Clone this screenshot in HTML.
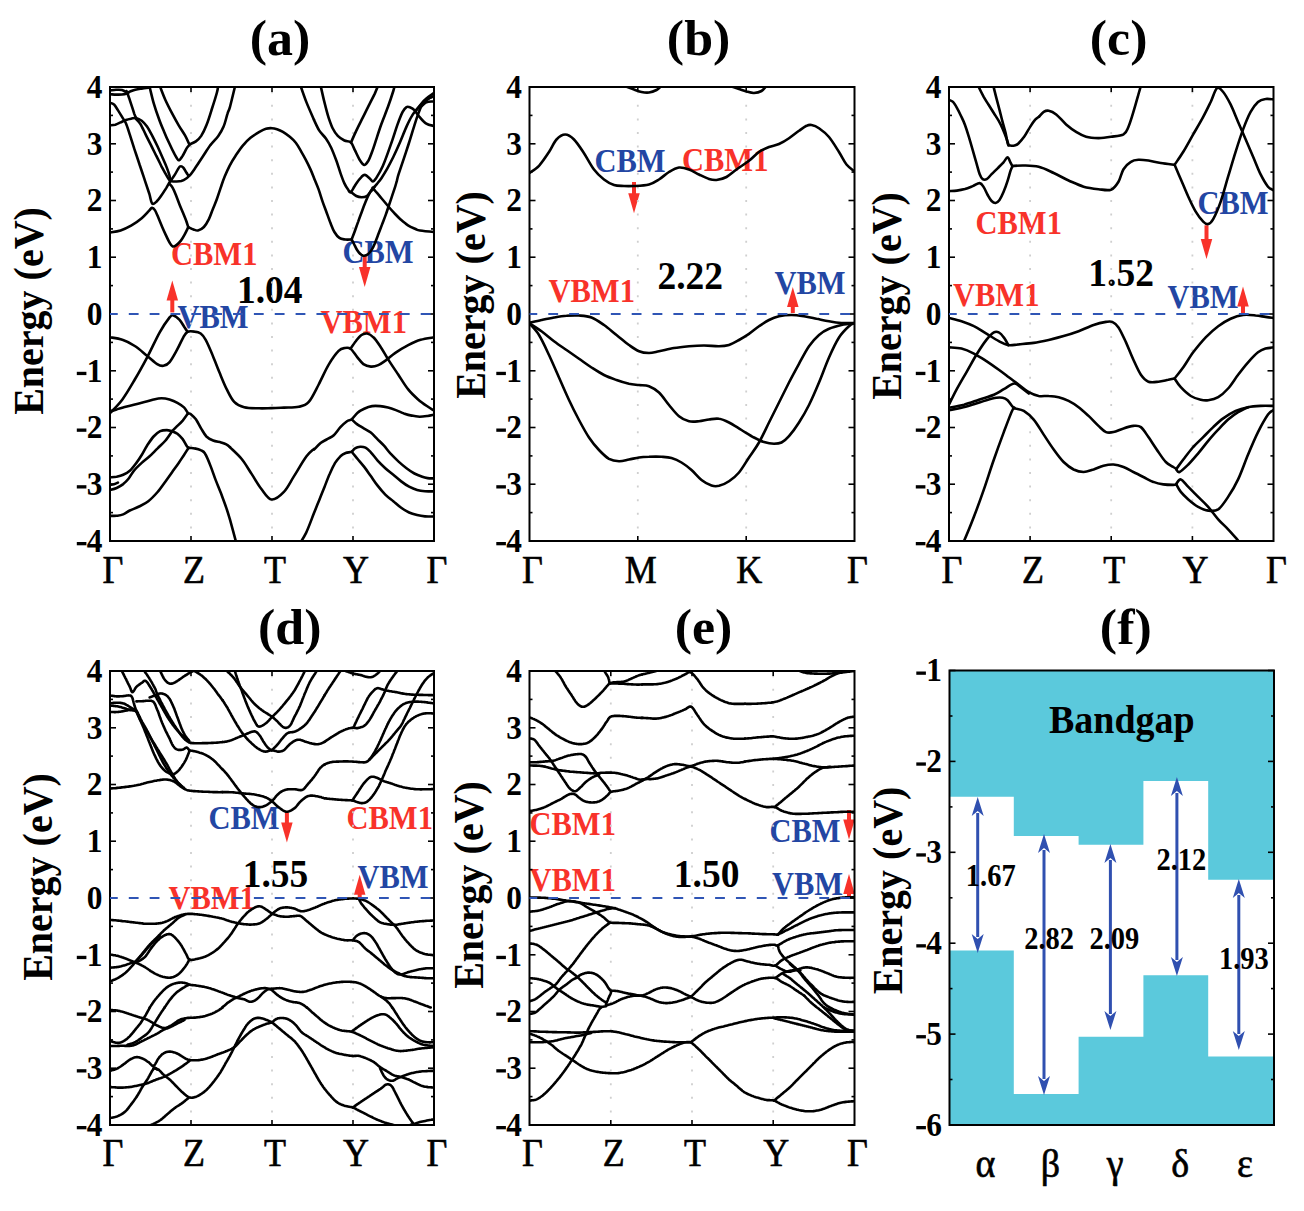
<!DOCTYPE html><html><head><meta charset="utf-8"><style>html,body{margin:0;padding:0;background:#fff;}svg{display:block;}</style></head><body><svg width="1304" height="1211" viewBox="0 0 1304 1211">
<rect width="1304" height="1211" fill="#fff"/>
<path d="M949,670.5 L1273,670.5 L1273,879.7 L1208.2,879.7 L1208.2,781 L1143.4,781 L1143.4,844.8 L1078.6,844.8 L1078.6,836 L1013.8,836 L1013.8,796.8 L949,796.8 Z" fill="#5bc9dc"/>
<path d="M949,1125 L1273,1125 L1273,1056.6 L1208.2,1056.6 L1208.2,975.3 L1143.4,975.3 L1143.4,1036.8 L1078.6,1036.8 L1078.6,1093.9 L1013.8,1093.9 L1013.8,950.6 L949,950.6 Z" fill="#5bc9dc"/>
<text x="171.00" y="245.37" transform="scale(1.0,1.08)" font-family='"Liberation Serif", serif' font-size="30.5" font-weight="bold" fill="#f8322a" text-anchor="start" >CBM1</text>
<text x="177.50" y="303.43" transform="scale(1.0,1.08)" font-family='"Liberation Serif", serif' font-size="30.5" font-weight="bold" fill="#2346a3" text-anchor="start" >VBM</text>
<text x="342.50" y="243.89" transform="scale(1.0,1.08)" font-family='"Liberation Serif", serif' font-size="30.5" font-weight="bold" fill="#2346a3" text-anchor="start" >CBM</text>
<text x="320.50" y="308.80" transform="scale(1.0,1.08)" font-family='"Liberation Serif", serif' font-size="30.5" font-weight="bold" fill="#f8322a" text-anchor="start" >VBM1</text>
<text x="594.50" y="159.26" transform="scale(1.0,1.08)" font-family='"Liberation Serif", serif' font-size="30.5" font-weight="bold" fill="#2346a3" text-anchor="start" >CBM</text>
<text x="682.00" y="158.15" transform="scale(1.0,1.08)" font-family='"Liberation Serif", serif' font-size="30.5" font-weight="bold" fill="#f8322a" text-anchor="start" >CBM1</text>
<text x="548.50" y="279.63" transform="scale(1.0,1.08)" font-family='"Liberation Serif", serif' font-size="30.5" font-weight="bold" fill="#f8322a" text-anchor="start" >VBM1</text>
<text x="774.50" y="272.69" transform="scale(1.0,1.08)" font-family='"Liberation Serif", serif' font-size="30.5" font-weight="bold" fill="#2346a3" text-anchor="start" >VBM</text>
<text x="975.50" y="216.67" transform="scale(1.0,1.08)" font-family='"Liberation Serif", serif' font-size="30.5" font-weight="bold" fill="#f8322a" text-anchor="start" >CBM1</text>
<text x="1197.50" y="198.24" transform="scale(1.0,1.08)" font-family='"Liberation Serif", serif' font-size="30.5" font-weight="bold" fill="#2346a3" text-anchor="start" >CBM</text>
<text x="953.00" y="283.61" transform="scale(1.0,1.08)" font-family='"Liberation Serif", serif' font-size="30.5" font-weight="bold" fill="#f8322a" text-anchor="start" >VBM1</text>
<text x="1167.50" y="284.81" transform="scale(1.0,1.08)" font-family='"Liberation Serif", serif' font-size="30.5" font-weight="bold" fill="#2346a3" text-anchor="start" >VBM</text>
<text x="208.50" y="767.41" transform="scale(1.0,1.08)" font-family='"Liberation Serif", serif' font-size="30.5" font-weight="bold" fill="#2346a3" text-anchor="start" >CBM</text>
<text x="346.50" y="767.41" transform="scale(1.0,1.08)" font-family='"Liberation Serif", serif' font-size="30.5" font-weight="bold" fill="#f8322a" text-anchor="start" >CBM1</text>
<text x="357.50" y="822.59" transform="scale(1.0,1.08)" font-family='"Liberation Serif", serif' font-size="30.5" font-weight="bold" fill="#2346a3" text-anchor="start" >VBM</text>
<text x="168.50" y="842.13" transform="scale(1.0,1.08)" font-family='"Liberation Serif", serif' font-size="30.5" font-weight="bold" fill="#f8322a" text-anchor="start" >VBM1</text>
<text x="529.50" y="772.96" transform="scale(1.0,1.08)" font-family='"Liberation Serif", serif' font-size="30.5" font-weight="bold" fill="#f8322a" text-anchor="start" >CBM1</text>
<text x="529.50" y="825.00" transform="scale(1.0,1.08)" font-family='"Liberation Serif", serif' font-size="30.5" font-weight="bold" fill="#f8322a" text-anchor="start" >VBM1</text>
<text x="769.50" y="779.91" transform="scale(1.0,1.08)" font-family='"Liberation Serif", serif' font-size="30.5" font-weight="bold" fill="#2346a3" text-anchor="start" >CBM</text>
<text x="772.00" y="828.52" transform="scale(1.0,1.08)" font-family='"Liberation Serif", serif' font-size="30.5" font-weight="bold" fill="#2346a3" text-anchor="start" >VBM</text>
<text x="237.00" y="291.54" transform="scale(1.0,1.04)" font-family='"Liberation Serif", serif' font-size="37.5" font-weight="bold" fill="#000" text-anchor="start" >1.04</text>
<text x="657.50" y="278.37" transform="scale(1.0,1.04)" font-family='"Liberation Serif", serif' font-size="37.5" font-weight="bold" fill="#000" text-anchor="start" >2.22</text>
<text x="1088.30" y="275.38" transform="scale(1.0,1.04)" font-family='"Liberation Serif", serif' font-size="37.5" font-weight="bold" fill="#000" text-anchor="start" >1.52</text>
<text x="242.70" y="852.98" transform="scale(1.0,1.04)" font-family='"Liberation Serif", serif' font-size="37.5" font-weight="bold" fill="#000" text-anchor="start" >1.55</text>
<text x="673.80" y="853.17" transform="scale(1.0,1.04)" font-family='"Liberation Serif", serif' font-size="37.5" font-weight="bold" fill="#000" text-anchor="start" >1.50</text>
<line x1="172.3" y1="312.4" x2="172.3" y2="298.5" stroke="#f8322a" stroke-width="4"/>
<path d="M172.3,280.5 L166.55,300.5 L178.05,300.5 Z" fill="#f8322a"/>
<line x1="364.7" y1="256" x2="364.7" y2="269" stroke="#f8322a" stroke-width="4"/>
<path d="M364.7,287 L358.95,267 L370.45,267 Z" fill="#f8322a"/>
<line x1="634" y1="182" x2="634" y2="195.3" stroke="#f8322a" stroke-width="4"/>
<path d="M634,213.3 L628.25,193.3 L639.75,193.3 Z" fill="#f8322a"/>
<line x1="792.8" y1="313" x2="792.8" y2="305" stroke="#f8322a" stroke-width="4"/>
<path d="M792.8,287 L787.05,307 L798.55,307 Z" fill="#f8322a"/>
<line x1="1206.5" y1="225.3" x2="1206.5" y2="241" stroke="#f8322a" stroke-width="4"/>
<path d="M1206.5,259 L1200.75,239 L1212.25,239 Z" fill="#f8322a"/>
<line x1="1243" y1="313.8" x2="1243" y2="304.4" stroke="#f8322a" stroke-width="4"/>
<path d="M1243,286.4 L1237.25,306.4 L1248.75,306.4 Z" fill="#f8322a"/>
<line x1="286.9" y1="812.6" x2="286.9" y2="824.4" stroke="#f8322a" stroke-width="4"/>
<path d="M286.9,842.4 L281.15,822.4 L292.65,822.4 Z" fill="#f8322a"/>
<line x1="359.7" y1="898" x2="359.7" y2="892.7" stroke="#f8322a" stroke-width="4"/>
<path d="M359.7,874.7 L353.95,894.7 L365.45,894.7 Z" fill="#f8322a"/>
<line x1="849" y1="810" x2="849" y2="821.5" stroke="#f8322a" stroke-width="4"/>
<path d="M849,839.5 L843.25,819.5 L854.75,819.5 Z" fill="#f8322a"/>
<line x1="849" y1="898" x2="849" y2="892" stroke="#f8322a" stroke-width="4"/>
<path d="M849,874 L843.25,894 L854.75,894 Z" fill="#f8322a"/>
<line x1="977.7" y1="813" x2="977.7" y2="937" stroke="#3050b0" stroke-width="3"/>
<path d="M977.7,797 L971.7,816 L977.7,811 L983.7,816 Z" fill="#3050b0"/>
<path d="M977.7,953 L971.7,934 L977.7,939 L983.7,934 Z" fill="#3050b0"/>
<line x1="1044" y1="850" x2="1044" y2="1079" stroke="#3050b0" stroke-width="3"/>
<path d="M1044,834 L1038.0,853 L1044,848 L1050.0,853 Z" fill="#3050b0"/>
<path d="M1044,1095 L1038.0,1076 L1044,1081 L1050.0,1076 Z" fill="#3050b0"/>
<line x1="1110.4" y1="860" x2="1110.4" y2="1014" stroke="#3050b0" stroke-width="3"/>
<path d="M1110.4,844 L1104.4,863 L1110.4,858 L1116.4,863 Z" fill="#3050b0"/>
<path d="M1110.4,1030 L1104.4,1011 L1110.4,1016 L1116.4,1011 Z" fill="#3050b0"/>
<line x1="1176.9" y1="793" x2="1176.9" y2="960" stroke="#3050b0" stroke-width="3"/>
<path d="M1176.9,777 L1170.9,796 L1176.9,791 L1182.9,796 Z" fill="#3050b0"/>
<path d="M1176.9,976 L1170.9,957 L1176.9,962 L1182.9,957 Z" fill="#3050b0"/>
<line x1="1238.8" y1="895" x2="1238.8" y2="1034" stroke="#3050b0" stroke-width="3"/>
<path d="M1238.8,879 L1232.8,898 L1238.8,893 L1244.8,898 Z" fill="#3050b0"/>
<path d="M1238.8,1050 L1232.8,1031 L1238.8,1036 L1244.8,1031 Z" fill="#3050b0"/>
<text x="965.80" y="820.37" transform="scale(1.0,1.08)" font-family='"Liberation Serif", serif' font-size="28.5" font-weight="bold" fill="#000" text-anchor="start" >1.67</text>
<text x="1024.20" y="878.33" transform="scale(1.0,1.08)" font-family='"Liberation Serif", serif' font-size="28.5" font-weight="bold" fill="#000" text-anchor="start" >2.82</text>
<text x="1089.50" y="878.33" transform="scale(1.0,1.08)" font-family='"Liberation Serif", serif' font-size="28.5" font-weight="bold" fill="#000" text-anchor="start" >2.09</text>
<text x="1156.50" y="805.74" transform="scale(1.0,1.08)" font-family='"Liberation Serif", serif' font-size="28.5" font-weight="bold" fill="#000" text-anchor="start" >2.12</text>
<text x="1219.00" y="897.59" transform="scale(1.0,1.08)" font-family='"Liberation Serif", serif' font-size="28.5" font-weight="bold" fill="#000" text-anchor="start" >1.93</text>
<text x="1049.00" y="712.04" transform="scale(1.0,1.03)" font-family='"Liberation Serif", serif' font-size="38" font-weight="bold" fill="#000" text-anchor="start" >Bandgap</text>
<line x1="191.0" y1="87" x2="191.0" y2="541" stroke="#cfcfcf" stroke-width="1.8" stroke-dasharray="2 11.6" stroke-dashoffset="-4.2"/>
<line x1="191.0" y1="87" x2="191.0" y2="92" stroke="#000" stroke-width="1.6"/>
<line x1="191.0" y1="541" x2="191.0" y2="536" stroke="#000" stroke-width="1.6"/>
<line x1="272.0" y1="87" x2="272.0" y2="541" stroke="#cfcfcf" stroke-width="1.8" stroke-dasharray="2 11.6" stroke-dashoffset="-4.2"/>
<line x1="272.0" y1="87" x2="272.0" y2="92" stroke="#000" stroke-width="1.6"/>
<line x1="272.0" y1="541" x2="272.0" y2="536" stroke="#000" stroke-width="1.6"/>
<line x1="353.0" y1="87" x2="353.0" y2="541" stroke="#cfcfcf" stroke-width="1.8" stroke-dasharray="2 11.6" stroke-dashoffset="-4.2"/>
<line x1="353.0" y1="87" x2="353.0" y2="92" stroke="#000" stroke-width="1.6"/>
<line x1="353.0" y1="541" x2="353.0" y2="536" stroke="#000" stroke-width="1.6"/>
<line x1="110" y1="87.0" x2="116" y2="87.0" stroke="#000" stroke-width="1.6"/>
<line x1="434" y1="87.0" x2="428" y2="87.0" stroke="#000" stroke-width="1.6"/>
<text x="91.43" y="81.67" transform="scale(1.12,1.2)" font-family='"Liberation Serif", serif' font-size="28" font-weight="bold" fill="#000" text-anchor="end" >4</text>
<line x1="110" y1="115.4" x2="113" y2="115.4" stroke="#000" stroke-width="1.6"/>
<line x1="434" y1="115.4" x2="431" y2="115.4" stroke="#000" stroke-width="1.6"/>
<line x1="110" y1="143.8" x2="116" y2="143.8" stroke="#000" stroke-width="1.6"/>
<line x1="434" y1="143.8" x2="428" y2="143.8" stroke="#000" stroke-width="1.6"/>
<text x="91.43" y="128.96" transform="scale(1.12,1.2)" font-family='"Liberation Serif", serif' font-size="28" font-weight="bold" fill="#000" text-anchor="end" >3</text>
<line x1="110" y1="172.1" x2="113" y2="172.1" stroke="#000" stroke-width="1.6"/>
<line x1="434" y1="172.1" x2="431" y2="172.1" stroke="#000" stroke-width="1.6"/>
<line x1="110" y1="200.5" x2="116" y2="200.5" stroke="#000" stroke-width="1.6"/>
<line x1="434" y1="200.5" x2="428" y2="200.5" stroke="#000" stroke-width="1.6"/>
<text x="91.43" y="176.25" transform="scale(1.12,1.2)" font-family='"Liberation Serif", serif' font-size="28" font-weight="bold" fill="#000" text-anchor="end" >2</text>
<line x1="110" y1="228.9" x2="113" y2="228.9" stroke="#000" stroke-width="1.6"/>
<line x1="434" y1="228.9" x2="431" y2="228.9" stroke="#000" stroke-width="1.6"/>
<line x1="110" y1="257.2" x2="116" y2="257.2" stroke="#000" stroke-width="1.6"/>
<line x1="434" y1="257.2" x2="428" y2="257.2" stroke="#000" stroke-width="1.6"/>
<text x="91.43" y="223.54" transform="scale(1.12,1.2)" font-family='"Liberation Serif", serif' font-size="28" font-weight="bold" fill="#000" text-anchor="end" >1</text>
<line x1="110" y1="285.6" x2="113" y2="285.6" stroke="#000" stroke-width="1.6"/>
<line x1="434" y1="285.6" x2="431" y2="285.6" stroke="#000" stroke-width="1.6"/>
<line x1="110" y1="314.0" x2="116" y2="314.0" stroke="#000" stroke-width="1.6"/>
<line x1="434" y1="314.0" x2="428" y2="314.0" stroke="#000" stroke-width="1.6"/>
<text x="91.43" y="270.83" transform="scale(1.12,1.2)" font-family='"Liberation Serif", serif' font-size="28" font-weight="bold" fill="#000" text-anchor="end" >0</text>
<line x1="110" y1="342.4" x2="113" y2="342.4" stroke="#000" stroke-width="1.6"/>
<line x1="434" y1="342.4" x2="431" y2="342.4" stroke="#000" stroke-width="1.6"/>
<line x1="110" y1="370.8" x2="116" y2="370.8" stroke="#000" stroke-width="1.6"/>
<line x1="434" y1="370.8" x2="428" y2="370.8" stroke="#000" stroke-width="1.6"/>
<text x="91.43" y="318.12" transform="scale(1.12,1.2)" font-family='"Liberation Serif", serif' font-size="28" font-weight="bold" fill="#000" text-anchor="end" >1</text>
<rect x="76.8" y="371.8" width="9.6" height="3.3" fill="#000"/>
<line x1="110" y1="399.1" x2="113" y2="399.1" stroke="#000" stroke-width="1.6"/>
<line x1="434" y1="399.1" x2="431" y2="399.1" stroke="#000" stroke-width="1.6"/>
<line x1="110" y1="427.5" x2="116" y2="427.5" stroke="#000" stroke-width="1.6"/>
<line x1="434" y1="427.5" x2="428" y2="427.5" stroke="#000" stroke-width="1.6"/>
<text x="91.43" y="365.42" transform="scale(1.12,1.2)" font-family='"Liberation Serif", serif' font-size="28" font-weight="bold" fill="#000" text-anchor="end" >2</text>
<rect x="76.8" y="428.5" width="9.6" height="3.3" fill="#000"/>
<line x1="110" y1="455.9" x2="113" y2="455.9" stroke="#000" stroke-width="1.6"/>
<line x1="434" y1="455.9" x2="431" y2="455.9" stroke="#000" stroke-width="1.6"/>
<line x1="110" y1="484.2" x2="116" y2="484.2" stroke="#000" stroke-width="1.6"/>
<line x1="434" y1="484.2" x2="428" y2="484.2" stroke="#000" stroke-width="1.6"/>
<text x="91.43" y="412.71" transform="scale(1.12,1.2)" font-family='"Liberation Serif", serif' font-size="28" font-weight="bold" fill="#000" text-anchor="end" >3</text>
<rect x="76.8" y="485.2" width="9.6" height="3.3" fill="#000"/>
<line x1="110" y1="512.6" x2="113" y2="512.6" stroke="#000" stroke-width="1.6"/>
<line x1="434" y1="512.6" x2="431" y2="512.6" stroke="#000" stroke-width="1.6"/>
<line x1="110" y1="541.0" x2="116" y2="541.0" stroke="#000" stroke-width="1.6"/>
<line x1="434" y1="541.0" x2="428" y2="541.0" stroke="#000" stroke-width="1.6"/>
<text x="91.43" y="460.00" transform="scale(1.12,1.2)" font-family='"Liberation Serif", serif' font-size="28" font-weight="bold" fill="#000" text-anchor="end" >4</text>
<rect x="76.8" y="542.0" width="9.6" height="3.3" fill="#000"/>
<rect x="110" y="87" width="324" height="454" fill="none" stroke="#000" stroke-width="2"/>
<text x="113.00" y="529.55" transform="scale(1.0,1.1)" font-family='"Liberation Serif", serif' font-size="36" font-weight="normal" fill="#000" text-anchor="middle" stroke="#000" stroke-width="0.6">Γ</text>
<text x="194.00" y="529.55" transform="scale(1.0,1.1)" font-family='"Liberation Serif", serif' font-size="36" font-weight="normal" fill="#000" text-anchor="middle" stroke="#000" stroke-width="0.6">Z</text>
<text x="275.00" y="529.55" transform="scale(1.0,1.1)" font-family='"Liberation Serif", serif' font-size="36" font-weight="normal" fill="#000" text-anchor="middle" stroke="#000" stroke-width="0.6">T</text>
<text x="356.00" y="529.55" transform="scale(1.0,1.1)" font-family='"Liberation Serif", serif' font-size="36" font-weight="normal" fill="#000" text-anchor="middle" stroke="#000" stroke-width="0.6">Y</text>
<text x="437.00" y="529.55" transform="scale(1.0,1.1)" font-family='"Liberation Serif", serif' font-size="36" font-weight="normal" fill="#000" text-anchor="middle" stroke="#000" stroke-width="0.6">Γ</text>
<clipPath id="clipa"><rect x="110" y="87" width="324" height="454"/></clipPath>
<g clip-path="url(#clipa)" fill="none" stroke="#000" stroke-width="2.6" stroke-linejoin="round" stroke-linecap="round">
<path d="M110.0,232.4 C111.8,232.1 117.1,231.5 120.6,230.4 C124.1,229.3 127.6,227.7 131.1,225.7 C134.6,223.7 138.7,220.7 141.7,218.2 C144.7,215.7 147.2,212.6 148.9,210.9 C150.6,209.2 150.9,208.0 151.9,207.9 C152.9,207.8 153.8,208.4 154.9,210.1 C156.0,211.8 157.4,215.5 158.6,218.3 C159.8,221.2 161.1,224.3 162.3,227.2 C163.5,230.0 164.8,232.8 166.0,235.4 C167.2,238.0 168.6,241.0 169.7,242.8 C170.8,244.7 171.6,246.1 172.7,246.5 C173.8,246.9 175.0,246.1 176.4,245.1 C177.8,244.1 179.5,242.3 180.9,240.6 C182.3,238.9 183.4,236.9 184.6,234.7 C185.8,232.5 187.7,228.4 188.3,227.2"/>
<path d="M188.3,227.2 C189.2,227.6 191.9,229.0 193.5,229.5 C195.1,230.0 196.3,230.8 198.0,230.4 C199.7,230.0 202.1,228.9 203.9,227.0 C205.7,225.1 207.4,222.1 208.9,219.1 C210.4,216.1 211.5,212.5 212.8,209.2 C214.1,205.9 215.5,202.9 216.8,199.3 C218.1,195.7 219.5,191.2 220.8,187.4 C222.1,183.6 223.2,180.1 224.7,176.5 C226.2,172.9 227.9,169.1 229.7,165.6 C231.5,162.1 233.4,159.0 235.6,155.7 C237.8,152.4 240.1,148.8 242.6,145.8 C245.1,142.8 247.7,140.1 250.5,137.8 C253.3,135.5 256.8,133.4 259.4,131.9 C262.0,130.4 263.9,129.4 266.0,128.8 C268.1,128.2 270.2,128.1 272.0,128.2 C273.8,128.3 275.2,128.7 277.0,129.3 C278.8,129.9 280.8,130.7 282.9,131.9 C285.0,133.2 287.6,135.0 289.8,136.8 C292.0,138.6 294.0,140.5 295.8,142.8 C297.6,145.1 299.1,147.9 300.7,150.7 C302.3,153.5 304.0,156.4 305.7,159.6 C307.4,162.8 309.1,166.3 310.6,169.6 C312.1,172.9 313.3,176.2 314.6,179.5 C315.9,182.8 317.3,185.8 318.6,189.4 C319.9,193.0 321.2,197.5 322.5,201.3 C323.8,205.1 325.2,208.6 326.5,212.2 C327.8,215.8 329.2,219.8 330.5,223.1 C331.8,226.4 332.9,229.5 334.4,232.0 C335.9,234.5 337.6,236.7 339.4,237.9 C341.2,239.2 343.3,239.2 345.3,239.5 C347.3,239.8 350.6,239.5 351.6,239.5"/>
<path d="M169.7,184.1 C170.2,184.7 171.7,186.1 172.7,187.8 C173.7,189.5 174.6,191.8 175.7,194.5 C176.8,197.2 178.2,201.1 179.4,204.2 C180.6,207.3 182.0,210.4 183.1,213.1 C184.2,215.8 185.2,218.2 186.1,220.5 C187.0,222.8 187.9,226.1 188.3,227.2"/>
<path d="M110.0,102.9 C110.7,103.1 112.6,103.2 114.0,104.4 C115.3,105.7 116.6,108.1 117.9,110.1 C119.2,112.2 120.6,114.5 121.9,116.7 C123.2,118.9 124.5,120.4 125.9,123.3 C127.2,126.3 128.4,130.3 129.8,134.6 C131.2,138.9 132.8,144.0 134.4,149.1 C136.1,154.2 138.0,159.7 139.7,165.0 C141.5,170.2 143.4,176.0 145.0,180.8 C146.6,185.7 148.2,190.3 149.4,194.0 C150.5,197.8 150.9,201.9 152.0,203.3 C153.2,204.6 154.7,203.3 156.2,201.9 C157.8,200.6 159.9,197.7 161.5,195.3 C163.2,193.0 164.7,190.4 166.2,188.1 C167.6,185.8 168.7,183.7 170.1,181.5 C171.5,179.3 173.3,177.1 174.7,174.9 C176.2,172.6 177.7,169.3 178.7,167.9 C179.7,166.4 179.9,166.3 180.7,166.3 C181.5,166.2 182.3,166.5 183.3,167.6 C184.3,168.7 185.6,171.6 186.6,172.9 C187.6,174.2 188.0,176.2 189.3,175.5 C190.6,174.9 192.4,172.0 194.6,168.9 C196.8,165.8 199.8,161.0 202.5,157.0 C205.1,153.1 207.8,148.7 210.4,145.1 C213.1,141.6 216.1,139.0 218.3,135.9 C220.5,132.8 222.1,130.4 223.6,126.6 C225.2,122.9 226.5,116.7 227.6,113.4 C228.6,110.1 228.6,111.7 230.0,106.8 C231.3,102.0 234.6,88.1 235.5,84.4"/>
<path d="M110.0,125.3 C110.9,125.2 113.5,125.1 115.3,124.7 C117.0,124.2 118.8,123.2 120.6,122.4 C122.3,121.6 124.1,120.6 125.9,120.0 C127.6,119.4 129.5,119.0 131.1,118.7 C132.8,118.4 134.0,117.7 135.8,118.0 C137.5,118.4 139.8,119.3 141.7,120.7 C143.6,122.1 145.2,124.1 147.0,126.6 C148.8,129.2 150.5,132.6 152.3,135.9 C154.0,139.2 155.8,142.7 157.6,146.5 C159.3,150.2 161.3,154.8 162.8,158.3 C164.4,161.9 165.7,164.7 166.8,167.6 C167.9,170.5 168.9,173.3 169.5,175.5 C170.0,177.7 170.0,179.9 170.1,180.8"/>
<path d="M135.8,118.7 C136.5,119.6 138.7,121.4 140.4,124.0 C142.0,126.6 143.9,131.0 145.7,134.6 C147.4,138.1 149.2,141.6 151.0,145.1 C152.7,148.7 154.5,152.2 156.2,155.7 C158.0,159.2 159.9,163.1 161.5,166.3 C163.2,169.5 164.7,172.4 166.2,174.9 C167.6,177.3 168.6,179.7 170.1,180.8 C171.7,181.9 173.5,181.4 175.4,181.5 C177.3,181.5 179.5,181.6 181.3,181.1 C183.2,180.5 185.3,179.1 186.6,178.2 C188.0,177.2 188.8,176.0 189.3,175.5"/>
<path d="M110.0,90.5 C111.0,90.4 114.0,89.9 116.0,89.8 C118.0,89.7 120.2,89.5 122.0,90.0 C123.8,90.5 125.8,91.9 126.8,92.5 C127.8,93.1 127.8,93.3 128.0,93.5"/>
<path d="M110.0,94.3 C111.0,94.3 114.0,94.6 116.0,94.6 C118.0,94.6 120.2,94.7 122.0,94.5 C123.8,94.3 125.6,93.9 126.8,93.5 C128.0,93.1 128.3,92.4 129.3,91.9 C130.3,91.4 131.4,91.0 132.8,90.5 C134.2,90.0 136.0,89.5 137.7,89.2 C139.3,88.9 140.6,88.8 142.7,88.5 C144.8,88.2 148.8,87.7 150.0,87.5"/>
<path d="M126.5,91.0 C127.0,92.2 128.3,95.7 129.2,98.2 C130.0,100.8 130.9,103.5 131.8,106.2 C132.7,108.8 133.7,112.0 134.4,114.1 C135.2,116.2 136.1,117.9 136.4,118.7"/>
<path d="M149.6,87.0 C150.3,89.6 152.1,97.6 153.6,102.9 C155.1,108.1 157.1,113.9 158.9,118.7 C160.6,123.6 162.4,127.7 164.2,131.9 C165.9,136.1 167.7,140.1 169.5,143.8 C171.2,147.6 173.2,151.6 174.7,154.4 C176.3,157.1 177.4,160.1 178.7,160.3 C180.0,160.5 181.3,157.7 182.7,155.7 C184.0,153.7 185.5,150.2 186.6,148.4 C187.7,146.7 188.8,145.7 189.3,145.1"/>
<path d="M160.2,87.0 C161.1,89.2 163.5,95.8 165.5,100.2 C167.5,104.6 169.9,109.2 172.1,113.4 C174.3,117.6 176.5,121.6 178.7,125.3 C180.9,129.1 183.5,132.7 185.3,135.9 C187.1,139.1 188.6,143.0 189.3,144.5"/>
<path d="M189.3,144.5 C190.4,144.0 193.9,142.9 195.9,141.4 C197.9,140.0 199.4,138.6 201.2,135.9 C202.9,133.2 204.7,129.7 206.4,125.3 C208.2,120.9 210.0,115.0 211.7,109.5 C213.5,104.0 216.0,96.2 217.0,92.3 C218.1,88.3 217.9,86.8 218.1,85.7"/>
<path d="M351.6,239.5 C352.0,240.2 353.2,242.4 354.0,244.0 C354.8,245.6 355.7,247.6 356.5,249.0 C357.3,250.4 358.2,251.6 359.0,252.6 C359.8,253.6 360.6,254.3 361.5,254.8 C362.4,255.3 363.1,255.9 364.2,255.8 C365.3,255.7 366.7,255.3 367.9,254.3 C369.1,253.3 370.5,251.6 371.6,249.9 C372.7,248.2 373.5,246.5 374.6,243.9 C375.7,241.3 377.1,237.5 378.3,234.3 C379.5,231.1 380.8,227.8 382.0,224.6 C383.2,221.4 384.6,218.0 385.7,214.9 C386.8,211.8 387.7,209.0 388.7,206.0 C389.7,203.0 390.7,200.1 391.7,197.1 C392.7,194.1 393.8,190.9 394.7,188.2 C395.6,185.5 396.2,183.0 396.9,180.7 C397.5,178.4 397.4,177.9 398.6,174.2 C399.8,170.5 402.1,163.7 403.9,158.4 C405.6,153.1 407.4,148.0 409.1,142.5 C410.9,137.0 412.8,130.2 414.4,125.3 C415.9,120.5 417.1,116.9 418.4,113.4 C419.7,109.9 420.8,106.6 422.4,104.2 C423.9,101.8 425.8,100.2 427.7,98.9 C429.6,97.6 432.9,96.7 434.0,96.3"/>
<path d="M351.6,239.5 C352.1,238.2 353.4,235.0 354.5,232.0 C355.6,229.0 356.9,225.1 358.2,221.6 C359.4,218.1 360.8,214.5 362.0,211.2 C363.2,207.9 364.6,204.3 365.7,201.6 C366.8,198.9 367.6,196.9 368.6,194.9 C369.6,192.9 370.6,191.1 371.6,189.7 C372.6,188.3 374.1,187.2 374.6,186.7"/>
<path d="M372.6,187.7 C373.9,189.3 377.9,194.0 380.5,197.1 C383.1,200.2 385.8,203.4 388.0,206.0 C390.2,208.6 391.8,210.5 393.9,212.7 C396.0,214.9 398.2,217.3 400.6,219.4 C403.0,221.5 405.5,223.7 408.0,225.3 C410.5,226.9 413.5,228.1 415.5,229.0 C417.5,229.9 416.9,230.0 420.0,230.5 C423.1,231.0 431.7,231.8 434.0,232.0"/>
<path d="M415.7,110.8 C417.3,108.9 421.9,102.5 425.0,99.6 C428.0,96.6 432.5,94.0 434.0,92.9"/>
<path d="M300.1,84.5 C301.1,87.4 304.0,96.0 306.3,101.9 C308.6,107.8 312.7,116.8 314.0,119.8"/>
<path d="M314.0,120.0 C314.9,121.8 317.3,127.5 319.3,130.6 C321.3,133.7 323.9,135.7 325.9,138.5 C327.9,141.4 329.4,144.0 331.2,147.8 C332.9,151.5 334.9,156.8 336.5,161.0 C338.0,165.2 339.1,169.1 340.4,172.9 C341.7,176.6 343.1,180.6 344.4,183.4 C345.7,186.3 347.3,188.6 348.4,190.1 C349.5,191.5 349.7,193.1 351.0,192.0 C352.3,190.9 354.5,186.0 356.3,183.4 C358.0,180.9 360.1,178.3 361.6,176.8 C363.0,175.4 363.5,174.6 364.9,174.9 C366.2,175.1 368.2,177.1 369.5,178.2 C370.8,179.3 371.7,181.5 372.8,181.5 C373.9,181.5 374.4,180.7 376.1,178.2 C377.7,175.6 380.3,171.8 382.7,166.3 C385.1,160.8 388.2,152.0 390.6,145.1 C393.1,138.3 395.3,130.8 397.2,125.3 C399.2,119.8 401.0,115.1 402.5,112.1 C404.1,109.1 405.2,107.9 406.5,107.1 C407.8,106.3 409.1,107.0 410.4,107.5 C411.8,108.0 412.9,108.5 414.4,110.1 C416.0,111.7 417.7,114.9 419.7,117.1 C421.7,119.4 423.9,122.3 426.3,123.7 C428.7,125.2 432.7,125.6 434.0,126.0"/>
<path d="M351.0,192.0 C351.9,192.7 354.5,195.1 356.3,196.0 C358.0,196.9 359.8,197.3 361.6,197.3 C363.3,197.3 365.3,197.0 366.8,196.0 C368.4,195.0 369.7,192.6 370.8,191.4 C371.9,190.2 373.0,189.2 373.5,188.7"/>
<path d="M373.5,188.1 C374.0,187.4 375.4,185.8 376.8,184.1 C378.1,182.5 379.7,180.7 381.4,178.2 C383.1,175.6 385.1,172.4 387.1,168.9 C389.0,165.4 391.1,161.4 393.3,157.0 C395.4,152.6 397.7,147.6 399.9,142.5 C402.1,137.4 404.5,131.0 406.5,126.6 C408.5,122.2 410.2,118.7 411.8,116.1 C413.3,113.4 413.8,113.1 415.7,110.8 C417.7,108.5 421.2,104.4 423.7,102.2 C426.1,100.0 428.5,98.6 430.3,97.6 C432.0,96.6 433.4,96.5 434.0,96.2"/>
<path d="M320.6,85.7 C321.3,88.5 323.2,97.6 324.6,102.9 C325.9,108.1 327.2,113.2 328.5,117.4 C329.9,121.6 331.0,124.9 332.5,128.0 C334.0,131.0 335.8,133.8 337.8,135.9 C339.8,138.0 342.2,139.4 344.4,140.5 C346.6,141.6 349.2,140.8 351.0,142.5 C352.8,144.1 353.5,147.6 355.0,150.4 C356.4,153.3 358.0,157.2 359.6,159.7 C361.1,162.1 362.8,164.7 364.2,165.0 C365.6,165.2 366.8,163.2 368.2,161.0 C369.5,158.8 370.8,155.3 372.1,151.7 C373.5,148.2 374.6,144.5 376.1,139.8 C377.6,135.2 379.4,129.5 381.4,124.0 C383.4,118.5 386.0,112.3 388.0,106.8 C390.0,101.3 392.2,94.5 393.3,91.0 C394.4,87.4 394.4,86.6 394.6,85.7"/>
<path d="M351.0,142.5 C351.9,140.5 354.3,134.8 356.3,130.6 C358.3,126.4 360.7,121.8 362.9,117.4 C365.1,113.0 367.5,108.1 369.5,104.2 C371.5,100.2 373.3,96.7 374.8,93.6 C376.2,90.5 377.5,87.0 378.1,85.7"/>
<path d="M419.7,108.1 C420.8,107.1 423.9,103.3 426.3,102.2 C428.7,101.1 432.7,101.6 434.0,101.5"/>
<path d="M110.0,413.1 C112.1,410.8 118.3,405.0 122.4,399.4 C126.6,393.8 130.7,386.5 134.8,379.5 C139.0,372.5 143.1,365.0 147.3,357.1 C151.4,349.3 156.0,338.9 159.7,332.3 C163.4,325.7 167.4,320.2 169.6,317.4 C171.9,314.6 171.7,315.0 173.4,315.4 C175.0,315.8 177.7,317.9 179.6,319.9 C181.4,321.9 183.2,325.3 184.5,327.3 C185.9,329.3 187.0,331.1 187.5,331.8"/>
<path d="M110.0,337.3 C112.1,337.7 118.3,338.3 122.4,339.8 C126.6,341.2 130.7,343.3 134.8,346.0 C139.0,348.7 143.5,352.9 147.3,355.9 C151.0,358.9 154.5,362.4 157.2,364.1 C159.9,365.8 161.3,366.2 163.4,365.8 C165.5,365.5 167.4,364.8 169.6,362.1 C171.9,359.4 174.8,353.8 177.1,349.7 C179.4,345.6 181.6,340.3 183.3,337.3 C185.0,334.3 185.7,332.8 187.5,331.8 C189.4,330.9 192.3,331.3 194.5,331.6 C196.7,331.8 198.8,332.2 200.7,333.5 C202.6,334.9 203.8,336.4 205.7,339.8 C207.5,343.1 209.6,348.0 211.9,353.4 C214.1,358.8 216.8,366.1 219.3,372.1 C221.8,378.1 224.3,384.5 226.8,389.4 C229.3,394.4 231.3,398.9 234.2,401.9 C237.1,404.9 240.0,406.3 244.2,407.3 C248.3,408.4 254.5,408.2 259.1,408.3 C263.6,408.5 267.4,408.2 271.5,408.1 C275.6,408.0 279.4,407.8 283.9,407.6 C288.5,407.4 294.7,407.8 298.8,406.8 C303.0,405.9 305.5,405.6 308.8,401.9 C312.1,398.1 315.4,390.7 318.7,384.5 C322.0,378.3 325.3,370.2 328.7,364.6 C332.0,359.0 335.9,353.7 338.6,350.9 C341.3,348.2 342.8,348.3 344.8,348.0 C346.8,347.6 348.4,347.2 350.5,348.7 C352.6,350.2 355.1,354.6 357.2,357.1 C359.4,359.7 361.2,362.5 363.4,364.1 C365.7,365.7 368.4,366.4 370.9,366.6 C373.4,366.8 375.9,366.1 378.3,365.1 C380.8,364.1 382.9,362.4 385.8,360.4 C388.7,358.3 392.0,355.2 395.7,352.7 C399.5,350.1 404.0,347.4 408.2,345.2 C412.3,343.1 416.3,341.1 420.6,339.8 C424.9,338.4 431.8,337.7 434.0,337.3"/>
<path d="M350.5,348.7 C351.4,347.4 354.2,343.2 356.0,341.0 C357.7,338.8 359.1,336.5 361.0,335.3 C362.8,334.0 365.1,333.2 367.2,333.5 C369.2,333.9 371.1,335.0 373.4,337.3 C375.7,339.5 378.3,343.5 380.8,347.2 C383.3,350.9 385.4,355.1 388.3,359.6 C391.2,364.2 394.9,369.6 398.2,374.5 C401.5,379.5 404.8,385.3 408.2,389.4 C411.5,393.6 414.8,396.5 418.1,399.4 C421.4,402.3 425.4,405.0 428.0,406.8 C430.7,408.7 433.0,409.9 434.0,410.6"/>
<path d="M110.0,411.4 C111.1,411.1 114.4,410.1 116.6,409.4 C118.8,408.7 120.3,408.2 123.2,407.4 C126.1,406.7 130.3,405.7 133.8,404.8 C137.3,403.9 141.0,403.0 144.4,402.1 C147.7,401.3 150.7,400.2 153.6,399.5 C156.5,398.8 158.9,398.2 161.5,398.2 C164.2,398.2 166.8,398.7 169.5,399.5 C172.1,400.3 175.0,401.5 177.4,402.8 C179.8,404.1 182.2,405.7 184.0,407.4 C185.8,409.1 186.9,411.9 188.0,413.0 C189.1,414.1 189.3,413.0 190.6,414.0 C191.9,415.1 194.1,416.9 195.9,419.3 C197.6,421.7 199.4,425.7 201.2,428.6 C202.9,431.4 204.5,434.5 206.4,436.5 C208.4,438.5 210.6,439.5 213.1,440.5 C215.5,441.4 218.8,441.8 221.0,442.4 C223.2,443.1 224.8,443.6 226.3,444.4 C227.8,445.2 229.4,446.6 230.0,447.1"/>
<path d="M230.0,447.3 C232.0,449.3 238.1,454.6 241.7,459.0 C245.3,463.4 248.3,468.9 251.6,473.9 C254.9,479.0 258.3,485.1 261.6,489.3 C264.9,493.6 267.8,499.1 271.5,499.5 C275.2,499.9 280.2,495.7 283.9,491.8 C287.7,488.0 290.1,482.3 293.9,476.4 C297.6,470.5 302.9,461.1 306.3,456.5 C309.6,451.9 312.7,450.1 314.0,448.8"/>
<path d="M314.0,449.7 C315.1,448.6 318.4,444.9 320.6,443.1 C322.8,441.3 325.0,440.5 327.2,439.1 C329.4,437.8 331.6,437.2 333.8,435.2 C336.0,433.2 338.2,429.6 340.4,427.2 C342.6,424.9 345.2,422.6 347.0,421.3 C348.9,420.0 349.9,420.7 351.7,419.3 C353.4,417.9 355.5,414.5 357.6,412.7 C359.7,410.9 361.8,409.8 364.2,408.7 C366.6,407.6 369.5,406.5 372.1,406.1 C374.8,405.7 377.4,405.9 380.1,406.1 C382.7,406.3 385.3,406.8 388.0,407.4 C390.6,408.1 393.3,409.1 395.9,410.1 C398.6,411.1 401.2,412.4 403.8,413.4 C406.5,414.3 409.1,415.1 411.8,415.6 C414.4,416.2 417.1,416.6 419.7,416.7 C422.3,416.7 425.2,416.3 427.6,416.0 C430.0,415.7 432.9,414.9 434.0,414.7"/>
<path d="M351.7,419.3 C352.6,420.2 355.5,423.1 357.6,424.6 C359.7,426.1 362.0,427.2 364.2,428.6 C366.4,429.9 368.6,430.8 370.8,432.5 C373.0,434.3 375.2,436.9 377.4,439.1 C379.6,441.3 381.8,443.3 384.0,445.7 C386.2,448.2 388.2,451.0 390.6,453.7 C393.1,456.3 395.9,459.2 398.6,461.6 C401.2,464.0 403.8,466.2 406.5,468.2 C409.1,470.2 411.8,472.1 414.4,473.5 C417.1,474.9 420.1,476.0 422.3,476.8 C424.5,477.6 425.7,477.8 427.6,478.1 C429.6,478.4 432.9,478.4 434.0,478.5"/>
<path d="M188.0,413.4 C187.1,414.6 184.6,418.3 182.7,420.6 C180.7,422.9 177.8,425.5 176.1,427.2 C174.3,429.0 172.8,430.5 172.1,431.2"/>
<path d="M172.1,431.2 C171.2,431.0 168.8,430.1 166.8,430.1 C164.8,430.1 162.4,430.1 160.2,431.2 C158.0,432.3 155.8,434.1 153.6,436.5 C151.4,438.9 149.0,442.7 147.0,445.7 C145.0,448.8 143.5,452.1 141.7,455.0 C139.9,457.9 138.4,460.3 136.4,462.9 C134.4,465.6 132.0,468.9 129.8,470.8 C127.6,472.8 125.4,473.8 123.2,474.8 C121.0,475.8 118.8,476.3 116.6,476.8 C114.4,477.2 111.1,477.3 110.0,477.4"/>
<path d="M172.1,431.2 C171.0,432.7 167.9,437.6 165.5,440.5 C163.1,443.3 160.2,445.7 157.6,448.4 C154.9,451.0 152.3,453.9 149.6,456.3 C147.0,458.7 144.4,460.5 141.7,462.9 C139.1,465.3 136.0,468.2 133.8,470.8 C131.6,473.5 130.3,476.6 128.5,478.8 C126.7,481.0 125.2,482.5 123.2,484.1 C121.2,485.6 118.8,487.0 116.6,488.0 C114.4,489.0 111.1,489.7 110.0,490.0"/>
<path d="M172.1,431.2 C173.0,431.6 175.6,432.5 177.4,433.8 C179.1,435.2 181.1,437.2 182.7,439.1 C184.2,441.1 185.6,444.3 186.6,445.7 C187.6,447.2 187.3,447.3 188.6,447.7 C189.9,448.2 192.5,447.9 194.6,448.4 C196.7,448.8 199.4,449.5 201.2,450.4 C202.9,451.2 203.6,451.1 205.1,453.7 C206.7,456.2 208.7,461.2 210.4,465.6 C212.2,470.0 213.9,475.5 215.7,480.1 C217.5,484.7 219.2,488.7 221.0,493.3 C222.7,497.9 224.8,503.4 226.3,507.8 C227.8,512.2 228.2,513.6 230.0,519.7 C231.7,525.9 235.7,540.6 236.8,544.8"/>
<path d="M188.6,447.7 C187.8,448.9 185.6,452.5 184.0,455.0 C182.3,457.5 180.7,460.1 178.7,462.9 C176.7,465.8 174.3,469.1 172.1,472.2 C169.9,475.2 167.9,478.1 165.5,481.4 C163.1,484.7 160.4,488.7 157.6,492.0 C154.7,495.3 151.4,498.8 148.3,501.2 C145.2,503.7 142.1,505.0 139.1,506.5 C136.0,508.1 132.5,509.2 129.8,510.5 C127.2,511.8 125.4,513.6 123.2,514.4 C121.0,515.3 118.8,515.5 116.6,515.8 C114.4,516.0 111.1,515.8 110.0,515.8"/>
<path d="M110.0,484.7 C110.7,484.6 112.6,484.6 114.0,484.3 C115.3,484.0 117.3,483.0 117.9,482.7"/>
<path d="M298.1,546.2 C299.5,544.0 303.4,538.4 306.1,532.9 C308.7,527.4 311.8,518.6 314.0,513.1 C316.2,507.6 317.5,504.3 319.3,499.9 C321.0,495.5 322.8,491.1 324.6,486.7 C326.3,482.3 328.1,477.4 329.9,473.5 C331.6,469.5 333.4,465.8 335.1,462.9 C336.9,460.1 338.7,458.0 340.4,456.3 C342.2,454.7 343.8,453.8 345.7,453.0 C347.6,452.2 350.1,452.5 351.7,451.7 C353.2,450.9 353.5,449.2 355.0,448.4 C356.4,447.5 358.5,446.8 360.2,446.7 C362.0,446.6 363.8,446.8 365.5,447.7 C367.3,448.7 368.8,450.3 370.8,452.3 C372.8,454.4 375.0,457.6 377.4,460.3 C379.8,462.9 382.7,465.8 385.3,468.2 C388.0,470.6 390.6,472.6 393.3,474.8 C395.9,477.0 398.6,479.4 401.2,481.4 C403.8,483.4 406.5,485.3 409.1,486.7 C411.8,488.1 414.4,489.2 417.1,490.0 C419.7,490.8 422.2,491.1 425.0,491.3 C427.8,491.5 432.5,491.3 434.0,491.3"/>
<path d="M351.7,451.7 C352.6,452.9 355.5,456.4 357.6,459.0 C359.7,461.5 362.0,464.0 364.2,466.9 C366.4,469.7 368.6,473.0 370.8,476.1 C373.0,479.2 375.0,482.3 377.4,485.4 C379.8,488.5 382.7,492.0 385.3,494.6 C388.0,497.3 390.6,499.0 393.3,501.2 C395.9,503.4 398.6,506.0 401.2,507.8 C403.8,509.7 406.5,511.3 409.1,512.5 C411.8,513.7 414.4,514.4 417.1,515.1 C419.7,515.8 422.2,516.2 425.0,516.4 C427.8,516.6 432.5,516.4 434.0,516.4"/>
</g>
<line x1="110" y1="314.0" x2="434" y2="314.0" stroke="#2f55b5" stroke-width="2.2" stroke-dasharray="9.8 11.05" stroke-dashoffset="2.05"/>
<line x1="637.8" y1="87" x2="637.8" y2="541" stroke="#cfcfcf" stroke-width="1.8" stroke-dasharray="2 11.6" stroke-dashoffset="-4.2"/>
<line x1="637.8" y1="87" x2="637.8" y2="92" stroke="#000" stroke-width="1.6"/>
<line x1="637.8" y1="541" x2="637.8" y2="536" stroke="#000" stroke-width="1.6"/>
<line x1="746.2" y1="87" x2="746.2" y2="541" stroke="#cfcfcf" stroke-width="1.8" stroke-dasharray="2 11.6" stroke-dashoffset="-4.2"/>
<line x1="746.2" y1="87" x2="746.2" y2="92" stroke="#000" stroke-width="1.6"/>
<line x1="746.2" y1="541" x2="746.2" y2="536" stroke="#000" stroke-width="1.6"/>
<line x1="529.5" y1="87.0" x2="535.5" y2="87.0" stroke="#000" stroke-width="1.6"/>
<line x1="854.5" y1="87.0" x2="848.5" y2="87.0" stroke="#000" stroke-width="1.6"/>
<text x="465.98" y="81.67" transform="scale(1.12,1.2)" font-family='"Liberation Serif", serif' font-size="28" font-weight="bold" fill="#000" text-anchor="end" >4</text>
<line x1="529.5" y1="115.4" x2="532.5" y2="115.4" stroke="#000" stroke-width="1.6"/>
<line x1="854.5" y1="115.4" x2="851.5" y2="115.4" stroke="#000" stroke-width="1.6"/>
<line x1="529.5" y1="143.8" x2="535.5" y2="143.8" stroke="#000" stroke-width="1.6"/>
<line x1="854.5" y1="143.8" x2="848.5" y2="143.8" stroke="#000" stroke-width="1.6"/>
<text x="465.98" y="128.96" transform="scale(1.12,1.2)" font-family='"Liberation Serif", serif' font-size="28" font-weight="bold" fill="#000" text-anchor="end" >3</text>
<line x1="529.5" y1="172.1" x2="532.5" y2="172.1" stroke="#000" stroke-width="1.6"/>
<line x1="854.5" y1="172.1" x2="851.5" y2="172.1" stroke="#000" stroke-width="1.6"/>
<line x1="529.5" y1="200.5" x2="535.5" y2="200.5" stroke="#000" stroke-width="1.6"/>
<line x1="854.5" y1="200.5" x2="848.5" y2="200.5" stroke="#000" stroke-width="1.6"/>
<text x="465.98" y="176.25" transform="scale(1.12,1.2)" font-family='"Liberation Serif", serif' font-size="28" font-weight="bold" fill="#000" text-anchor="end" >2</text>
<line x1="529.5" y1="228.9" x2="532.5" y2="228.9" stroke="#000" stroke-width="1.6"/>
<line x1="854.5" y1="228.9" x2="851.5" y2="228.9" stroke="#000" stroke-width="1.6"/>
<line x1="529.5" y1="257.2" x2="535.5" y2="257.2" stroke="#000" stroke-width="1.6"/>
<line x1="854.5" y1="257.2" x2="848.5" y2="257.2" stroke="#000" stroke-width="1.6"/>
<text x="465.98" y="223.54" transform="scale(1.12,1.2)" font-family='"Liberation Serif", serif' font-size="28" font-weight="bold" fill="#000" text-anchor="end" >1</text>
<line x1="529.5" y1="285.6" x2="532.5" y2="285.6" stroke="#000" stroke-width="1.6"/>
<line x1="854.5" y1="285.6" x2="851.5" y2="285.6" stroke="#000" stroke-width="1.6"/>
<line x1="529.5" y1="314.0" x2="535.5" y2="314.0" stroke="#000" stroke-width="1.6"/>
<line x1="854.5" y1="314.0" x2="848.5" y2="314.0" stroke="#000" stroke-width="1.6"/>
<text x="465.98" y="270.83" transform="scale(1.12,1.2)" font-family='"Liberation Serif", serif' font-size="28" font-weight="bold" fill="#000" text-anchor="end" >0</text>
<line x1="529.5" y1="342.4" x2="532.5" y2="342.4" stroke="#000" stroke-width="1.6"/>
<line x1="854.5" y1="342.4" x2="851.5" y2="342.4" stroke="#000" stroke-width="1.6"/>
<line x1="529.5" y1="370.8" x2="535.5" y2="370.8" stroke="#000" stroke-width="1.6"/>
<line x1="854.5" y1="370.8" x2="848.5" y2="370.8" stroke="#000" stroke-width="1.6"/>
<text x="465.98" y="318.12" transform="scale(1.12,1.2)" font-family='"Liberation Serif", serif' font-size="28" font-weight="bold" fill="#000" text-anchor="end" >1</text>
<rect x="496.3" y="371.8" width="9.6" height="3.3" fill="#000"/>
<line x1="529.5" y1="399.1" x2="532.5" y2="399.1" stroke="#000" stroke-width="1.6"/>
<line x1="854.5" y1="399.1" x2="851.5" y2="399.1" stroke="#000" stroke-width="1.6"/>
<line x1="529.5" y1="427.5" x2="535.5" y2="427.5" stroke="#000" stroke-width="1.6"/>
<line x1="854.5" y1="427.5" x2="848.5" y2="427.5" stroke="#000" stroke-width="1.6"/>
<text x="465.98" y="365.42" transform="scale(1.12,1.2)" font-family='"Liberation Serif", serif' font-size="28" font-weight="bold" fill="#000" text-anchor="end" >2</text>
<rect x="496.3" y="428.5" width="9.6" height="3.3" fill="#000"/>
<line x1="529.5" y1="455.9" x2="532.5" y2="455.9" stroke="#000" stroke-width="1.6"/>
<line x1="854.5" y1="455.9" x2="851.5" y2="455.9" stroke="#000" stroke-width="1.6"/>
<line x1="529.5" y1="484.2" x2="535.5" y2="484.2" stroke="#000" stroke-width="1.6"/>
<line x1="854.5" y1="484.2" x2="848.5" y2="484.2" stroke="#000" stroke-width="1.6"/>
<text x="465.98" y="412.71" transform="scale(1.12,1.2)" font-family='"Liberation Serif", serif' font-size="28" font-weight="bold" fill="#000" text-anchor="end" >3</text>
<rect x="496.3" y="485.2" width="9.6" height="3.3" fill="#000"/>
<line x1="529.5" y1="512.6" x2="532.5" y2="512.6" stroke="#000" stroke-width="1.6"/>
<line x1="854.5" y1="512.6" x2="851.5" y2="512.6" stroke="#000" stroke-width="1.6"/>
<line x1="529.5" y1="541.0" x2="535.5" y2="541.0" stroke="#000" stroke-width="1.6"/>
<line x1="854.5" y1="541.0" x2="848.5" y2="541.0" stroke="#000" stroke-width="1.6"/>
<text x="465.98" y="460.00" transform="scale(1.12,1.2)" font-family='"Liberation Serif", serif' font-size="28" font-weight="bold" fill="#000" text-anchor="end" >4</text>
<rect x="496.3" y="542.0" width="9.6" height="3.3" fill="#000"/>
<rect x="529.5" y="87" width="325.0" height="454" fill="none" stroke="#000" stroke-width="2"/>
<text x="532.50" y="529.55" transform="scale(1.0,1.1)" font-family='"Liberation Serif", serif' font-size="36" font-weight="normal" fill="#000" text-anchor="middle" stroke="#000" stroke-width="0.6">Γ</text>
<text x="640.83" y="529.55" transform="scale(1.0,1.1)" font-family='"Liberation Serif", serif' font-size="36" font-weight="normal" fill="#000" text-anchor="middle" stroke="#000" stroke-width="0.6">M</text>
<text x="749.17" y="529.55" transform="scale(1.0,1.1)" font-family='"Liberation Serif", serif' font-size="36" font-weight="normal" fill="#000" text-anchor="middle" stroke="#000" stroke-width="0.6">K</text>
<text x="857.50" y="529.55" transform="scale(1.0,1.1)" font-family='"Liberation Serif", serif' font-size="36" font-weight="normal" fill="#000" text-anchor="middle" stroke="#000" stroke-width="0.6">Γ</text>
<clipPath id="clipb"><rect x="529.5" y="87" width="325.0" height="454"/></clipPath>
<g clip-path="url(#clipb)" fill="none" stroke="#000" stroke-width="2.6" stroke-linejoin="round" stroke-linecap="round">
<path d="M529.0,173.2 C530.7,172.0 535.7,169.3 539.0,165.8 C542.3,162.2 546.1,156.4 549.0,152.0 C551.9,147.6 553.8,142.4 556.5,139.5 C559.2,136.6 562.3,134.5 565.2,134.5 C568.2,134.5 570.9,136.4 574.0,139.5 C577.1,142.6 580.7,148.2 584.0,153.2 C587.3,158.2 590.7,165.1 594.0,169.5 C597.3,173.9 600.7,176.9 604.0,179.5 C607.3,182.1 610.7,183.9 614.0,185.0 C617.3,186.1 620.7,185.8 624.0,186.0 C627.3,186.2 629.8,186.2 634.0,186.0 C638.2,185.8 644.8,185.6 649.0,184.5 C653.2,183.4 655.7,181.6 659.0,179.5 C662.3,177.4 665.7,174.0 669.0,172.0 C672.3,170.0 675.7,167.9 679.0,167.5 C682.3,167.1 685.7,168.3 689.0,169.5 C692.3,170.7 695.7,172.9 699.0,174.5 C702.3,176.1 706.1,178.1 709.0,179.0 C711.9,179.9 713.6,180.3 716.5,180.0 C719.4,179.7 723.2,178.8 726.5,177.0 C729.8,175.2 732.8,172.2 736.5,169.5 C740.2,166.8 745.2,163.7 749.0,160.8 C752.8,157.8 755.7,154.3 759.0,152.0 C762.3,149.7 765.7,148.3 769.0,147.0 C772.3,145.7 775.7,145.5 779.0,144.0 C782.3,142.5 785.7,140.5 789.0,138.2 C792.3,136.0 796.1,132.8 799.0,130.8 C801.9,128.7 804.4,126.7 806.5,125.8 C808.6,124.8 809.4,124.6 811.5,125.0 C813.6,125.4 816.1,126.2 819.0,128.2 C821.9,130.2 825.7,133.0 829.0,137.0 C832.3,141.0 836.1,147.4 839.0,152.0 C841.9,156.6 843.8,161.2 846.5,164.5 C849.2,167.8 853.6,170.8 855.0,172.0"/>
<path d="M624.0,85.8 C625.7,86.4 631.1,88.5 634.0,89.5 C636.9,90.5 639.0,91.5 641.5,92.0 C644.0,92.5 646.5,92.8 649.0,92.5 C651.5,92.2 654.4,91.1 656.5,90.0 C658.6,88.9 660.7,86.5 661.5,85.8"/>
<path d="M729.0,85.8 C730.7,86.3 736.1,88.0 739.0,89.0 C741.9,90.0 744.0,90.8 746.5,91.5 C749.0,92.2 751.5,93.1 754.0,93.0 C756.5,92.9 759.4,92.2 761.5,91.0 C763.6,89.8 765.7,86.6 766.5,85.8"/>
<path d="M529.0,323.0 C531.1,322.5 537.3,320.9 541.5,320.0 C545.7,319.1 549.8,318.2 554.0,317.5 C558.2,316.8 562.3,316.1 566.5,315.8 C570.7,315.4 574.8,315.2 579.0,315.5 C583.2,315.8 587.3,315.9 591.5,317.5 C595.7,319.1 599.8,322.1 604.0,325.0 C608.2,327.9 612.3,331.7 616.5,335.0 C620.7,338.3 625.2,342.3 629.0,345.0 C632.8,347.7 635.7,349.9 639.0,351.2 C642.3,352.6 645.7,353.0 649.0,353.0 C652.3,353.0 654.8,352.1 659.0,351.2 C663.2,350.4 669.0,348.8 674.0,348.0 C679.0,347.2 684.0,346.7 689.0,346.2 C694.0,345.8 699.0,345.5 704.0,345.5 C709.0,345.5 714.8,346.3 719.0,346.2 C723.2,346.2 725.7,346.0 729.0,345.0 C732.3,344.0 735.7,341.9 739.0,340.0 C742.3,338.1 745.7,336.0 749.0,333.8 C752.3,331.5 755.7,328.5 759.0,326.2 C762.3,324.0 765.7,321.7 769.0,320.0 C772.3,318.3 775.2,317.1 779.0,316.2 C782.8,315.4 787.3,315.0 791.5,315.0 C795.7,315.0 799.8,315.6 804.0,316.2 C808.2,316.9 812.3,317.9 816.5,318.8 C820.7,319.6 824.8,320.5 829.0,321.2 C833.2,322.0 837.2,322.7 841.5,323.0 C845.8,323.3 852.8,323.0 855.0,323.0"/>
<path d="M529.0,323.0 C531.1,324.4 537.3,328.2 541.5,331.2 C545.7,334.3 549.8,338.1 554.0,341.2 C558.2,344.4 562.3,347.1 566.5,350.0 C570.7,352.9 574.8,355.8 579.0,358.8 C583.2,361.7 587.3,364.8 591.5,367.5 C595.7,370.2 599.8,372.9 604.0,375.0 C608.2,377.1 612.3,378.5 616.5,380.0 C620.7,381.5 625.2,382.9 629.0,383.8 C632.8,384.6 635.7,384.6 639.0,385.0 C642.3,385.4 645.7,385.0 649.0,386.2 C652.3,387.5 655.7,389.4 659.0,392.5 C662.3,395.6 665.7,401.0 669.0,405.0 C672.3,409.0 675.7,413.5 679.0,416.2 C682.3,419.0 685.7,420.4 689.0,421.2 C692.3,422.1 695.7,421.5 699.0,421.2 C702.3,421.0 705.7,419.9 709.0,419.5 C712.3,419.1 715.7,418.2 719.0,418.8 C722.3,419.2 725.2,420.6 729.0,422.5 C732.8,424.4 737.3,427.5 741.5,430.0 C745.7,432.5 750.2,435.5 754.0,437.5 C757.8,439.5 760.7,441.0 764.0,442.0 C767.3,443.0 771.1,443.7 774.0,443.8 C776.9,443.8 779.0,443.8 781.5,442.5 C784.0,441.2 786.1,439.6 789.0,436.2 C791.9,432.9 795.7,427.7 799.0,422.5 C802.3,417.3 805.7,411.7 809.0,405.0 C812.3,398.3 815.7,390.4 819.0,382.5 C822.3,374.6 825.7,365.0 829.0,357.5 C832.3,350.0 835.7,342.7 839.0,337.5 C842.3,332.3 846.3,328.7 849.0,326.2 C851.7,323.8 854.0,323.5 855.0,323.0"/>
<path d="M529.0,323.0 C530.7,325.0 535.7,329.7 539.0,335.0 C542.3,340.3 545.7,347.9 549.0,355.0 C552.3,362.1 555.7,370.0 559.0,377.5 C562.3,385.0 565.7,392.9 569.0,400.0 C572.3,407.1 575.7,413.8 579.0,420.0 C582.3,426.2 585.7,432.5 589.0,437.5 C592.3,442.5 595.7,446.5 599.0,450.0 C602.3,453.5 605.7,456.9 609.0,458.8 C612.3,460.6 615.7,461.1 619.0,461.2 C622.3,461.4 625.7,460.1 629.0,459.5 C632.3,458.9 635.7,458.0 639.0,457.5 C642.3,457.0 645.2,456.9 649.0,456.8 C652.8,456.6 657.8,456.5 661.5,456.8 C665.2,457.0 668.2,457.0 671.5,458.0 C674.8,459.0 678.2,460.5 681.5,462.5 C684.8,464.5 688.2,467.1 691.5,470.0 C694.8,472.9 698.2,477.4 701.5,480.0 C704.8,482.6 708.6,484.5 711.5,485.5 C714.4,486.5 716.1,486.5 719.0,485.8 C721.9,485.0 725.7,483.5 729.0,481.2 C732.3,479.0 735.7,476.5 739.0,472.5 C742.3,468.5 745.7,462.5 749.0,457.5 C752.3,452.5 755.7,448.3 759.0,442.5 C762.3,436.7 765.7,429.2 769.0,422.5 C772.3,415.8 775.7,409.2 779.0,402.5 C782.3,395.8 785.7,389.0 789.0,382.5 C792.3,376.0 795.7,369.8 799.0,363.8 C802.3,357.7 805.7,351.0 809.0,346.2 C812.3,341.5 815.7,337.9 819.0,335.0 C822.3,332.1 825.2,330.4 829.0,328.8 C832.8,327.1 837.2,326.0 841.5,325.0 C845.8,324.0 852.8,323.3 855.0,323.0"/>
</g>
<line x1="529.5" y1="314.0" x2="854.5" y2="314.0" stroke="#2f55b5" stroke-width="2.2" stroke-dasharray="9.8 11.05" stroke-dashoffset="2.05"/>
<line x1="1030.1" y1="87" x2="1030.1" y2="541" stroke="#cfcfcf" stroke-width="1.8" stroke-dasharray="2 11.6" stroke-dashoffset="-4.2"/>
<line x1="1030.1" y1="87" x2="1030.1" y2="92" stroke="#000" stroke-width="1.6"/>
<line x1="1030.1" y1="541" x2="1030.1" y2="536" stroke="#000" stroke-width="1.6"/>
<line x1="1111.2" y1="87" x2="1111.2" y2="541" stroke="#cfcfcf" stroke-width="1.8" stroke-dasharray="2 11.6" stroke-dashoffset="-4.2"/>
<line x1="1111.2" y1="87" x2="1111.2" y2="92" stroke="#000" stroke-width="1.6"/>
<line x1="1111.2" y1="541" x2="1111.2" y2="536" stroke="#000" stroke-width="1.6"/>
<line x1="1192.4" y1="87" x2="1192.4" y2="541" stroke="#cfcfcf" stroke-width="1.8" stroke-dasharray="2 11.6" stroke-dashoffset="-4.2"/>
<line x1="1192.4" y1="87" x2="1192.4" y2="92" stroke="#000" stroke-width="1.6"/>
<line x1="1192.4" y1="541" x2="1192.4" y2="536" stroke="#000" stroke-width="1.6"/>
<line x1="949" y1="87.0" x2="955" y2="87.0" stroke="#000" stroke-width="1.6"/>
<line x1="1273.5" y1="87.0" x2="1267.5" y2="87.0" stroke="#000" stroke-width="1.6"/>
<text x="840.54" y="81.67" transform="scale(1.12,1.2)" font-family='"Liberation Serif", serif' font-size="28" font-weight="bold" fill="#000" text-anchor="end" >4</text>
<line x1="949" y1="115.4" x2="952" y2="115.4" stroke="#000" stroke-width="1.6"/>
<line x1="1273.5" y1="115.4" x2="1270.5" y2="115.4" stroke="#000" stroke-width="1.6"/>
<line x1="949" y1="143.8" x2="955" y2="143.8" stroke="#000" stroke-width="1.6"/>
<line x1="1273.5" y1="143.8" x2="1267.5" y2="143.8" stroke="#000" stroke-width="1.6"/>
<text x="840.54" y="128.96" transform="scale(1.12,1.2)" font-family='"Liberation Serif", serif' font-size="28" font-weight="bold" fill="#000" text-anchor="end" >3</text>
<line x1="949" y1="172.1" x2="952" y2="172.1" stroke="#000" stroke-width="1.6"/>
<line x1="1273.5" y1="172.1" x2="1270.5" y2="172.1" stroke="#000" stroke-width="1.6"/>
<line x1="949" y1="200.5" x2="955" y2="200.5" stroke="#000" stroke-width="1.6"/>
<line x1="1273.5" y1="200.5" x2="1267.5" y2="200.5" stroke="#000" stroke-width="1.6"/>
<text x="840.54" y="176.25" transform="scale(1.12,1.2)" font-family='"Liberation Serif", serif' font-size="28" font-weight="bold" fill="#000" text-anchor="end" >2</text>
<line x1="949" y1="228.9" x2="952" y2="228.9" stroke="#000" stroke-width="1.6"/>
<line x1="1273.5" y1="228.9" x2="1270.5" y2="228.9" stroke="#000" stroke-width="1.6"/>
<line x1="949" y1="257.2" x2="955" y2="257.2" stroke="#000" stroke-width="1.6"/>
<line x1="1273.5" y1="257.2" x2="1267.5" y2="257.2" stroke="#000" stroke-width="1.6"/>
<text x="840.54" y="223.54" transform="scale(1.12,1.2)" font-family='"Liberation Serif", serif' font-size="28" font-weight="bold" fill="#000" text-anchor="end" >1</text>
<line x1="949" y1="285.6" x2="952" y2="285.6" stroke="#000" stroke-width="1.6"/>
<line x1="1273.5" y1="285.6" x2="1270.5" y2="285.6" stroke="#000" stroke-width="1.6"/>
<line x1="949" y1="314.0" x2="955" y2="314.0" stroke="#000" stroke-width="1.6"/>
<line x1="1273.5" y1="314.0" x2="1267.5" y2="314.0" stroke="#000" stroke-width="1.6"/>
<text x="840.54" y="270.83" transform="scale(1.12,1.2)" font-family='"Liberation Serif", serif' font-size="28" font-weight="bold" fill="#000" text-anchor="end" >0</text>
<line x1="949" y1="342.4" x2="952" y2="342.4" stroke="#000" stroke-width="1.6"/>
<line x1="1273.5" y1="342.4" x2="1270.5" y2="342.4" stroke="#000" stroke-width="1.6"/>
<line x1="949" y1="370.8" x2="955" y2="370.8" stroke="#000" stroke-width="1.6"/>
<line x1="1273.5" y1="370.8" x2="1267.5" y2="370.8" stroke="#000" stroke-width="1.6"/>
<text x="840.54" y="318.12" transform="scale(1.12,1.2)" font-family='"Liberation Serif", serif' font-size="28" font-weight="bold" fill="#000" text-anchor="end" >1</text>
<rect x="915.8" y="371.8" width="9.6" height="3.3" fill="#000"/>
<line x1="949" y1="399.1" x2="952" y2="399.1" stroke="#000" stroke-width="1.6"/>
<line x1="1273.5" y1="399.1" x2="1270.5" y2="399.1" stroke="#000" stroke-width="1.6"/>
<line x1="949" y1="427.5" x2="955" y2="427.5" stroke="#000" stroke-width="1.6"/>
<line x1="1273.5" y1="427.5" x2="1267.5" y2="427.5" stroke="#000" stroke-width="1.6"/>
<text x="840.54" y="365.42" transform="scale(1.12,1.2)" font-family='"Liberation Serif", serif' font-size="28" font-weight="bold" fill="#000" text-anchor="end" >2</text>
<rect x="915.8" y="428.5" width="9.6" height="3.3" fill="#000"/>
<line x1="949" y1="455.9" x2="952" y2="455.9" stroke="#000" stroke-width="1.6"/>
<line x1="1273.5" y1="455.9" x2="1270.5" y2="455.9" stroke="#000" stroke-width="1.6"/>
<line x1="949" y1="484.2" x2="955" y2="484.2" stroke="#000" stroke-width="1.6"/>
<line x1="1273.5" y1="484.2" x2="1267.5" y2="484.2" stroke="#000" stroke-width="1.6"/>
<text x="840.54" y="412.71" transform="scale(1.12,1.2)" font-family='"Liberation Serif", serif' font-size="28" font-weight="bold" fill="#000" text-anchor="end" >3</text>
<rect x="915.8" y="485.2" width="9.6" height="3.3" fill="#000"/>
<line x1="949" y1="512.6" x2="952" y2="512.6" stroke="#000" stroke-width="1.6"/>
<line x1="1273.5" y1="512.6" x2="1270.5" y2="512.6" stroke="#000" stroke-width="1.6"/>
<line x1="949" y1="541.0" x2="955" y2="541.0" stroke="#000" stroke-width="1.6"/>
<line x1="1273.5" y1="541.0" x2="1267.5" y2="541.0" stroke="#000" stroke-width="1.6"/>
<text x="840.54" y="460.00" transform="scale(1.12,1.2)" font-family='"Liberation Serif", serif' font-size="28" font-weight="bold" fill="#000" text-anchor="end" >4</text>
<rect x="915.8" y="542.0" width="9.6" height="3.3" fill="#000"/>
<rect x="949" y="87" width="324.5" height="454" fill="none" stroke="#000" stroke-width="2"/>
<text x="952.00" y="529.55" transform="scale(1.0,1.1)" font-family='"Liberation Serif", serif' font-size="36" font-weight="normal" fill="#000" text-anchor="middle" stroke="#000" stroke-width="0.6">Γ</text>
<text x="1033.12" y="529.55" transform="scale(1.0,1.1)" font-family='"Liberation Serif", serif' font-size="36" font-weight="normal" fill="#000" text-anchor="middle" stroke="#000" stroke-width="0.6">Z</text>
<text x="1114.25" y="529.55" transform="scale(1.0,1.1)" font-family='"Liberation Serif", serif' font-size="36" font-weight="normal" fill="#000" text-anchor="middle" stroke="#000" stroke-width="0.6">T</text>
<text x="1195.38" y="529.55" transform="scale(1.0,1.1)" font-family='"Liberation Serif", serif' font-size="36" font-weight="normal" fill="#000" text-anchor="middle" stroke="#000" stroke-width="0.6">Y</text>
<text x="1276.50" y="529.55" transform="scale(1.0,1.1)" font-family='"Liberation Serif", serif' font-size="36" font-weight="normal" fill="#000" text-anchor="middle" stroke="#000" stroke-width="0.6">Γ</text>
<clipPath id="clipc"><rect x="949" y="87" width="324.5" height="454"/></clipPath>
<g clip-path="url(#clipc)" fill="none" stroke="#000" stroke-width="2.6" stroke-linejoin="round" stroke-linecap="round">
<path d="M949.0,191.1 C950.3,191.0 954.2,190.9 956.9,190.6 C959.5,190.3 962.2,189.8 964.9,189.1 C967.5,188.3 970.3,187.1 972.8,186.1 C975.3,185.1 977.9,182.9 979.7,183.1 C981.5,183.3 982.4,185.1 983.7,187.1 C985.0,189.1 986.4,192.7 987.7,195.0 C989.0,197.3 990.3,199.7 991.6,201.0 C992.9,202.3 994.3,203.2 995.6,203.0 C996.9,202.8 998.2,201.8 999.5,200.0 C1000.8,198.2 1002.2,195.2 1003.5,192.1 C1004.8,189.0 1006.4,184.7 1007.5,181.2 C1008.6,177.7 1009.6,173.7 1010.4,171.2 C1011.2,168.7 1012.1,167.1 1012.4,166.3"/>
<path d="M949.0,99.9 C949.7,100.2 951.7,100.6 953.0,101.9 C954.3,103.2 955.6,105.5 956.9,107.8 C958.2,110.1 959.6,112.9 960.9,115.7 C962.2,118.5 963.6,121.2 964.9,124.7 C966.2,128.2 967.5,132.3 968.8,136.6 C970.1,140.9 971.5,145.8 972.8,150.4 C974.1,155.0 975.6,160.3 976.8,164.3 C977.9,168.3 978.7,171.7 979.7,174.2 C980.7,176.7 981.5,178.4 982.7,179.2 C983.9,180.0 985.2,180.0 986.7,179.2 C988.2,178.4 989.8,176.0 991.6,174.2 C993.4,172.4 995.6,170.3 997.6,168.3 C999.6,166.3 1001.9,164.1 1003.5,162.3 C1005.1,160.5 1006.4,157.4 1007.5,157.4 C1008.6,157.4 1009.6,160.8 1010.4,162.3 C1011.2,163.8 1012.1,165.6 1012.4,166.3"/>
<path d="M978.7,87.0 C979.5,88.7 982.1,93.9 983.7,96.9 C985.4,99.9 987.0,102.2 988.6,104.8 C990.2,107.4 991.9,110.1 993.6,112.8 C995.3,115.5 997.1,118.1 998.6,120.7 C1000.1,123.3 1001.2,125.6 1002.5,128.6 C1003.8,131.6 1005.5,135.8 1006.5,138.5 C1007.5,141.2 1007.9,143.3 1008.5,144.5 C1009.1,145.7 1009.4,145.3 1010.4,145.5 C1011.4,145.7 1013.1,145.8 1014.4,145.5 C1015.7,145.2 1016.8,145.0 1018.4,143.5 C1020.0,142.0 1022.3,139.4 1024.3,136.6 C1026.3,133.8 1028.5,129.4 1030.3,126.6 C1032.1,123.8 1033.8,121.3 1035.2,119.7 C1036.7,118.1 1038.4,117.2 1039.0,116.7"/>
<path d="M993.6,87.0 C994.1,89.0 995.6,95.1 996.6,98.9 C997.6,102.7 998.5,106.0 999.5,109.8 C1000.5,113.6 1001.5,117.9 1002.5,121.7 C1003.5,125.5 1004.7,129.1 1005.5,132.6 C1006.3,136.1 1007.0,140.3 1007.5,142.5 C1008.0,144.7 1008.3,145.0 1008.5,145.5"/>
<path d="M1039.0,116.7 C1039.8,115.9 1042.1,112.9 1043.7,111.9 C1045.3,110.9 1046.6,110.3 1048.7,110.7 C1050.8,111.1 1053.3,112.1 1056.2,114.4 C1059.1,116.7 1062.8,121.5 1066.1,124.4 C1069.5,127.3 1072.8,129.8 1076.1,131.9 C1079.4,133.9 1082.3,135.8 1086.1,136.8 C1089.8,137.9 1094.4,138.1 1098.5,138.1 C1102.7,138.1 1106.8,137.5 1111.0,136.8 C1115.2,136.2 1120.6,136.0 1123.5,134.4 C1126.4,132.7 1126.8,130.6 1128.4,126.9 C1130.1,123.1 1131.8,117.3 1133.4,111.9 C1135.1,106.5 1137.2,98.8 1138.4,94.5 C1139.7,90.1 1140.5,87.2 1140.9,85.8"/>
<path d="M1012.3,166.0 C1014.2,165.9 1019.4,165.4 1023.8,165.5 C1028.2,165.6 1033.7,165.5 1038.7,166.8 C1043.7,168.0 1048.7,170.7 1053.7,173.0 C1058.7,175.3 1063.6,178.2 1068.6,180.5 C1073.6,182.7 1078.6,185.2 1083.6,186.7 C1088.6,188.1 1094.0,188.7 1098.5,189.2 C1103.1,189.7 1107.7,190.9 1111.0,189.7 C1114.3,188.4 1116.4,185.1 1118.5,181.7 C1120.6,178.3 1121.4,172.6 1123.5,169.2 C1125.5,165.9 1128.4,163.3 1130.9,161.8 C1133.4,160.2 1135.5,160.0 1138.4,159.8 C1141.3,159.6 1144.6,160.0 1148.4,160.5 C1152.1,161.1 1156.5,162.3 1160.8,163.0 C1165.2,163.7 1172.3,164.5 1174.6,164.8"/>
<path d="M1174.6,164.8 C1176.0,162.6 1180.2,156.9 1183.3,151.8 C1186.4,146.7 1189.9,140.2 1193.2,134.4 C1196.6,128.5 1200.3,122.3 1203.2,116.9 C1206.1,111.5 1208.4,106.7 1210.7,102.0 C1213.0,97.2 1214.8,89.9 1216.9,88.2 C1219.0,86.6 1220.9,89.3 1223.2,92.0 C1225.4,94.7 1228.1,99.5 1230.6,104.4 C1233.1,109.4 1235.6,116.1 1238.1,121.9 C1240.6,127.7 1243.1,133.5 1245.6,139.3 C1248.1,145.2 1250.6,151.0 1253.1,156.8 C1255.6,162.6 1258.0,169.2 1260.5,174.2 C1263.0,179.2 1265.8,184.0 1268.0,186.7 C1270.3,189.4 1273.0,189.8 1274.0,190.4"/>
<path d="M1174.6,164.8 C1175.6,167.2 1178.5,173.9 1180.8,179.2 C1183.1,184.5 1185.8,191.3 1188.3,196.7 C1190.8,202.1 1193.2,207.5 1195.7,211.6 C1198.2,215.8 1201.1,219.5 1203.2,221.6 C1205.3,223.7 1206.5,224.5 1208.2,224.1 C1209.9,223.7 1211.1,222.8 1213.2,219.1 C1215.3,215.4 1218.2,208.7 1220.7,201.6 C1223.2,194.6 1225.6,185.0 1228.1,176.7 C1230.6,168.4 1233.1,159.7 1235.6,151.8 C1238.1,143.9 1240.6,136.0 1243.1,129.4 C1245.6,122.7 1248.1,116.5 1250.6,111.9 C1253.1,107.4 1255.6,104.1 1258.0,102.0 C1260.5,99.8 1262.9,99.4 1265.5,99.0 C1268.2,98.5 1272.6,99.4 1274.0,99.5"/>
<path d="M949.0,317.9 C951.1,318.5 957.3,319.8 961.5,321.2 C965.6,322.6 969.8,324.1 973.9,326.2 C978.1,328.2 982.2,331.2 986.4,333.6 C990.5,336.1 995.2,339.2 998.8,341.1 C1002.5,343.0 1005.0,344.6 1008.3,345.1 C1011.6,345.7 1014.5,344.7 1018.8,344.4 C1023.0,344.0 1028.8,343.6 1033.7,342.9 C1038.7,342.1 1043.7,341.0 1048.7,339.9 C1053.7,338.8 1058.7,337.6 1063.6,336.1 C1068.6,334.7 1073.6,333.0 1078.6,331.2 C1083.6,329.3 1089.0,326.5 1093.6,324.9 C1098.1,323.4 1102.9,322.4 1106.0,321.9 C1109.1,321.4 1110.2,321.0 1112.2,321.9 C1114.3,322.8 1116.2,324.0 1118.5,327.4 C1120.8,330.8 1123.5,337.0 1126.0,342.4 C1128.4,347.8 1130.9,354.4 1133.4,359.8 C1135.9,365.2 1138.4,371.1 1140.9,374.8 C1143.4,378.4 1145.5,380.6 1148.4,381.7 C1151.3,382.9 1155.0,382.1 1158.4,381.7 C1161.7,381.4 1165.6,380.3 1168.3,379.8 C1171.0,379.2 1173.5,378.7 1174.6,378.5"/>
<path d="M1174.6,378.5 C1176.0,376.6 1180.2,371.7 1183.3,367.3 C1186.4,362.9 1189.5,357.3 1193.2,352.3 C1197.0,347.4 1201.6,341.7 1205.7,337.4 C1209.9,333.0 1214.0,329.3 1218.2,326.2 C1222.3,323.1 1226.5,320.6 1230.6,318.7 C1234.8,316.8 1238.9,315.5 1243.1,315.0 C1247.2,314.4 1251.8,315.1 1255.6,315.5 C1259.3,315.8 1262.5,316.5 1265.5,316.9 C1268.6,317.4 1272.6,317.8 1274.0,317.9"/>
<path d="M1174.6,378.5 C1175.6,380.0 1178.1,384.3 1180.8,387.2 C1183.5,390.1 1187.4,393.9 1190.8,396.0 C1194.1,398.0 1197.8,399.0 1200.7,399.7 C1203.6,400.4 1205.3,400.6 1208.2,400.2 C1211.1,399.8 1214.8,399.2 1218.2,397.2 C1221.5,395.2 1224.8,392.2 1228.1,388.5 C1231.5,384.7 1234.8,379.1 1238.1,374.8 C1241.4,370.4 1244.8,366.0 1248.1,362.3 C1251.4,358.6 1255.1,354.6 1258.0,352.3 C1261.0,350.1 1262.9,349.4 1265.5,348.6 C1268.2,347.8 1272.6,347.6 1274.0,347.4"/>
<path d="M949.0,404.7 C950.2,402.2 953.6,395.1 956.5,389.7 C959.4,384.3 963.1,378.1 966.4,372.3 C969.8,366.5 973.1,360.2 976.4,354.8 C979.7,349.4 983.5,343.6 986.4,339.9 C989.3,336.1 991.8,333.6 993.9,332.4 C995.9,331.2 997.2,331.6 998.8,332.4 C1000.5,333.2 1002.3,335.3 1003.8,337.4 C1005.4,339.5 1007.6,343.8 1008.3,345.1"/>
<path d="M949.0,347.4 C951.1,347.6 957.3,347.6 961.5,348.6 C965.6,349.6 969.8,351.5 973.9,353.6 C978.1,355.7 982.2,358.4 986.4,361.1 C990.5,363.8 995.1,367.1 998.8,369.8 C1002.6,372.5 1005.5,374.8 1008.8,377.3 C1012.1,379.8 1015.5,382.2 1018.8,384.7 C1022.1,387.2 1025.4,390.3 1028.8,392.2 C1032.1,394.1 1035.4,395.3 1038.7,396.0 C1042.0,396.6 1045.4,395.7 1048.7,396.0 C1052.0,396.2 1055.3,396.4 1058.7,397.2 C1062.0,398.0 1065.3,399.3 1068.6,400.9 C1072.0,402.6 1075.3,404.7 1078.6,407.2 C1081.9,409.7 1085.2,412.8 1088.6,415.9 C1091.9,419.0 1095.6,423.2 1098.5,425.9 C1101.4,428.6 1103.5,431.1 1106.0,432.1 C1108.5,433.1 1110.6,432.7 1113.5,432.1 C1116.4,431.5 1120.1,429.4 1123.5,428.4 C1126.8,427.3 1130.5,426.1 1133.4,425.9 C1136.3,425.7 1138.4,425.2 1140.9,427.1 C1143.4,429.0 1145.5,432.9 1148.4,437.1 C1151.3,441.2 1155.4,447.9 1158.4,452.0 C1161.3,456.2 1163.3,459.5 1165.8,462.0 C1168.3,464.5 1171.6,465.8 1173.3,467.0 C1175.1,468.1 1175.8,468.6 1176.3,469.0"/>
<path d="M1176.3,469.0 C1177.5,467.4 1180.5,463.2 1183.3,459.5 C1186.1,455.9 1189.9,450.8 1193.2,447.0 C1196.6,443.3 1199.9,440.4 1203.2,437.1 C1206.5,433.8 1209.9,430.2 1213.2,427.1 C1216.5,424.0 1219.4,421.1 1223.2,418.4 C1226.9,415.7 1231.5,412.8 1235.6,410.9 C1239.8,409.0 1243.9,408.0 1248.1,407.2 C1252.2,406.3 1256.2,406.1 1260.5,405.9 C1264.9,405.7 1271.8,405.9 1274.0,405.9"/>
<path d="M1176.3,469.5 C1176.8,469.9 1177.5,472.8 1179.5,472.0 C1181.5,471.1 1185.1,467.6 1188.3,464.5 C1191.4,461.4 1194.9,457.2 1198.2,453.3 C1201.6,449.3 1204.9,444.8 1208.2,440.8 C1211.5,436.9 1214.8,433.1 1218.2,429.6 C1221.5,426.1 1224.8,422.5 1228.1,419.6 C1231.5,416.7 1234.8,414.2 1238.1,412.2 C1241.4,410.1 1246.4,408.0 1248.1,407.2"/>
<path d="M949.0,407.7 C951.5,407.2 959.0,406.0 964.0,404.7 C968.9,403.3 973.9,401.4 978.9,399.7 C983.9,398.0 989.7,396.5 993.9,394.7 C998.0,393.0 1000.4,391.1 1003.8,389.2 C1007.2,387.4 1011.4,383.7 1014.3,383.5 C1017.2,383.2 1018.9,386.1 1021.3,387.7 C1023.7,389.4 1027.5,392.5 1028.8,393.5"/>
<path d="M949.0,410.2 C951.1,409.7 957.3,408.7 961.5,407.7 C965.6,406.7 969.8,405.4 973.9,404.2 C978.1,402.9 982.6,401.3 986.4,400.2 C990.1,399.1 993.7,398.1 996.4,397.7 C999.1,397.3 1000.7,397.3 1002.6,397.7 C1004.5,398.1 1005.9,398.7 1007.6,400.2 C1009.2,401.7 1011.3,405.3 1012.6,406.7 C1013.8,408.0 1013.2,407.7 1015.0,408.4 C1016.9,409.1 1020.7,409.0 1023.8,410.9 C1026.9,412.8 1030.4,415.7 1033.7,419.6 C1037.1,423.6 1040.4,429.6 1043.7,434.6 C1047.0,439.6 1050.4,445.0 1053.7,449.5 C1057.0,454.1 1060.3,458.7 1063.6,462.0 C1067.0,465.3 1070.3,467.8 1073.6,469.5 C1076.9,471.1 1080.3,472.0 1083.6,472.0 C1086.9,472.0 1090.2,470.5 1093.6,469.5 C1096.9,468.4 1100.2,466.6 1103.5,465.7 C1106.8,464.9 1110.2,464.3 1113.5,464.5 C1116.8,464.7 1120.1,465.7 1123.5,467.0 C1126.8,468.2 1130.1,470.3 1133.4,472.0 C1136.8,473.6 1140.1,475.3 1143.4,477.0 C1146.7,478.6 1150.0,480.7 1153.4,481.9 C1156.7,483.2 1160.0,483.9 1163.3,484.4 C1166.7,484.9 1171.1,484.9 1173.3,484.9 C1175.5,484.9 1175.8,484.5 1176.3,484.4"/>
<path d="M1176.3,484.4 C1177.0,485.7 1178.8,489.4 1180.8,491.9 C1182.8,494.4 1185.4,496.9 1188.3,499.4 C1191.2,501.9 1194.9,505.0 1198.2,506.9 C1201.6,508.7 1204.9,510.2 1208.2,510.6 C1211.5,511.0 1214.8,511.6 1218.2,509.4 C1221.5,507.1 1224.8,501.9 1228.1,496.9 C1231.5,491.9 1234.8,486.5 1238.1,479.4 C1241.4,472.4 1244.8,462.4 1248.1,454.5 C1251.4,446.6 1254.7,438.7 1258.0,432.1 C1261.4,425.4 1265.4,418.4 1268.0,414.6 C1270.7,410.9 1273.0,410.5 1274.0,409.7"/>
<path d="M1176.3,483.9 C1177.0,483.2 1178.8,478.9 1180.8,479.4 C1182.8,479.9 1185.4,484.0 1188.3,486.9 C1191.2,489.8 1194.9,493.6 1198.2,496.9 C1201.6,500.2 1204.9,503.1 1208.2,506.9 C1211.5,510.6 1214.8,515.6 1218.2,519.3 C1221.5,523.1 1224.8,525.8 1228.1,529.3 C1231.5,532.8 1236.4,538.6 1238.1,540.5"/>
<path d="M959.0,549.2 C959.8,547.9 961.5,546.4 964.0,541.0 C966.4,535.6 970.6,525.4 973.9,516.8 C977.2,508.2 980.6,499.0 983.9,489.4 C987.2,479.9 990.5,469.1 993.9,459.5 C997.2,450.0 1000.7,440.4 1003.8,432.1 C1006.9,423.8 1010.7,413.6 1012.6,409.7 C1014.4,405.7 1014.6,408.6 1015.0,408.4"/>
</g>
<line x1="949" y1="314.0" x2="1273.5" y2="314.0" stroke="#2f55b5" stroke-width="2.2" stroke-dasharray="9.8 11.05" stroke-dashoffset="2.05"/>
<line x1="191.0" y1="671" x2="191.0" y2="1125" stroke="#cfcfcf" stroke-width="1.8" stroke-dasharray="2 11.6" stroke-dashoffset="-4.2"/>
<line x1="191.0" y1="671" x2="191.0" y2="676" stroke="#000" stroke-width="1.6"/>
<line x1="191.0" y1="1125" x2="191.0" y2="1120" stroke="#000" stroke-width="1.6"/>
<line x1="272.0" y1="671" x2="272.0" y2="1125" stroke="#cfcfcf" stroke-width="1.8" stroke-dasharray="2 11.6" stroke-dashoffset="-4.2"/>
<line x1="272.0" y1="671" x2="272.0" y2="676" stroke="#000" stroke-width="1.6"/>
<line x1="272.0" y1="1125" x2="272.0" y2="1120" stroke="#000" stroke-width="1.6"/>
<line x1="353.0" y1="671" x2="353.0" y2="1125" stroke="#cfcfcf" stroke-width="1.8" stroke-dasharray="2 11.6" stroke-dashoffset="-4.2"/>
<line x1="353.0" y1="671" x2="353.0" y2="676" stroke="#000" stroke-width="1.6"/>
<line x1="353.0" y1="1125" x2="353.0" y2="1120" stroke="#000" stroke-width="1.6"/>
<line x1="110" y1="671.0" x2="116" y2="671.0" stroke="#000" stroke-width="1.6"/>
<line x1="434" y1="671.0" x2="428" y2="671.0" stroke="#000" stroke-width="1.6"/>
<text x="91.43" y="568.33" transform="scale(1.12,1.2)" font-family='"Liberation Serif", serif' font-size="28" font-weight="bold" fill="#000" text-anchor="end" >4</text>
<line x1="110" y1="699.4" x2="113" y2="699.4" stroke="#000" stroke-width="1.6"/>
<line x1="434" y1="699.4" x2="431" y2="699.4" stroke="#000" stroke-width="1.6"/>
<line x1="110" y1="727.8" x2="116" y2="727.8" stroke="#000" stroke-width="1.6"/>
<line x1="434" y1="727.8" x2="428" y2="727.8" stroke="#000" stroke-width="1.6"/>
<text x="91.43" y="615.62" transform="scale(1.12,1.2)" font-family='"Liberation Serif", serif' font-size="28" font-weight="bold" fill="#000" text-anchor="end" >3</text>
<line x1="110" y1="756.1" x2="113" y2="756.1" stroke="#000" stroke-width="1.6"/>
<line x1="434" y1="756.1" x2="431" y2="756.1" stroke="#000" stroke-width="1.6"/>
<line x1="110" y1="784.5" x2="116" y2="784.5" stroke="#000" stroke-width="1.6"/>
<line x1="434" y1="784.5" x2="428" y2="784.5" stroke="#000" stroke-width="1.6"/>
<text x="91.43" y="662.92" transform="scale(1.12,1.2)" font-family='"Liberation Serif", serif' font-size="28" font-weight="bold" fill="#000" text-anchor="end" >2</text>
<line x1="110" y1="812.9" x2="113" y2="812.9" stroke="#000" stroke-width="1.6"/>
<line x1="434" y1="812.9" x2="431" y2="812.9" stroke="#000" stroke-width="1.6"/>
<line x1="110" y1="841.2" x2="116" y2="841.2" stroke="#000" stroke-width="1.6"/>
<line x1="434" y1="841.2" x2="428" y2="841.2" stroke="#000" stroke-width="1.6"/>
<text x="91.43" y="710.21" transform="scale(1.12,1.2)" font-family='"Liberation Serif", serif' font-size="28" font-weight="bold" fill="#000" text-anchor="end" >1</text>
<line x1="110" y1="869.6" x2="113" y2="869.6" stroke="#000" stroke-width="1.6"/>
<line x1="434" y1="869.6" x2="431" y2="869.6" stroke="#000" stroke-width="1.6"/>
<line x1="110" y1="898.0" x2="116" y2="898.0" stroke="#000" stroke-width="1.6"/>
<line x1="434" y1="898.0" x2="428" y2="898.0" stroke="#000" stroke-width="1.6"/>
<text x="91.43" y="757.50" transform="scale(1.12,1.2)" font-family='"Liberation Serif", serif' font-size="28" font-weight="bold" fill="#000" text-anchor="end" >0</text>
<line x1="110" y1="926.4" x2="113" y2="926.4" stroke="#000" stroke-width="1.6"/>
<line x1="434" y1="926.4" x2="431" y2="926.4" stroke="#000" stroke-width="1.6"/>
<line x1="110" y1="954.8" x2="116" y2="954.8" stroke="#000" stroke-width="1.6"/>
<line x1="434" y1="954.8" x2="428" y2="954.8" stroke="#000" stroke-width="1.6"/>
<text x="91.43" y="804.79" transform="scale(1.12,1.2)" font-family='"Liberation Serif", serif' font-size="28" font-weight="bold" fill="#000" text-anchor="end" >1</text>
<rect x="76.8" y="955.8" width="9.6" height="3.3" fill="#000"/>
<line x1="110" y1="983.1" x2="113" y2="983.1" stroke="#000" stroke-width="1.6"/>
<line x1="434" y1="983.1" x2="431" y2="983.1" stroke="#000" stroke-width="1.6"/>
<line x1="110" y1="1011.5" x2="116" y2="1011.5" stroke="#000" stroke-width="1.6"/>
<line x1="434" y1="1011.5" x2="428" y2="1011.5" stroke="#000" stroke-width="1.6"/>
<text x="91.43" y="852.08" transform="scale(1.12,1.2)" font-family='"Liberation Serif", serif' font-size="28" font-weight="bold" fill="#000" text-anchor="end" >2</text>
<rect x="76.8" y="1012.5" width="9.6" height="3.3" fill="#000"/>
<line x1="110" y1="1039.9" x2="113" y2="1039.9" stroke="#000" stroke-width="1.6"/>
<line x1="434" y1="1039.9" x2="431" y2="1039.9" stroke="#000" stroke-width="1.6"/>
<line x1="110" y1="1068.2" x2="116" y2="1068.2" stroke="#000" stroke-width="1.6"/>
<line x1="434" y1="1068.2" x2="428" y2="1068.2" stroke="#000" stroke-width="1.6"/>
<text x="91.43" y="899.38" transform="scale(1.12,1.2)" font-family='"Liberation Serif", serif' font-size="28" font-weight="bold" fill="#000" text-anchor="end" >3</text>
<rect x="76.8" y="1069.2" width="9.6" height="3.3" fill="#000"/>
<line x1="110" y1="1096.6" x2="113" y2="1096.6" stroke="#000" stroke-width="1.6"/>
<line x1="434" y1="1096.6" x2="431" y2="1096.6" stroke="#000" stroke-width="1.6"/>
<line x1="110" y1="1125.0" x2="116" y2="1125.0" stroke="#000" stroke-width="1.6"/>
<line x1="434" y1="1125.0" x2="428" y2="1125.0" stroke="#000" stroke-width="1.6"/>
<text x="91.43" y="946.67" transform="scale(1.12,1.2)" font-family='"Liberation Serif", serif' font-size="28" font-weight="bold" fill="#000" text-anchor="end" >4</text>
<rect x="76.8" y="1126.0" width="9.6" height="3.3" fill="#000"/>
<rect x="110" y="671" width="324" height="454" fill="none" stroke="#000" stroke-width="2"/>
<text x="113.00" y="1060.45" transform="scale(1.0,1.1)" font-family='"Liberation Serif", serif' font-size="36" font-weight="normal" fill="#000" text-anchor="middle" stroke="#000" stroke-width="0.6">Γ</text>
<text x="194.00" y="1060.45" transform="scale(1.0,1.1)" font-family='"Liberation Serif", serif' font-size="36" font-weight="normal" fill="#000" text-anchor="middle" stroke="#000" stroke-width="0.6">Z</text>
<text x="275.00" y="1060.45" transform="scale(1.0,1.1)" font-family='"Liberation Serif", serif' font-size="36" font-weight="normal" fill="#000" text-anchor="middle" stroke="#000" stroke-width="0.6">T</text>
<text x="356.00" y="1060.45" transform="scale(1.0,1.1)" font-family='"Liberation Serif", serif' font-size="36" font-weight="normal" fill="#000" text-anchor="middle" stroke="#000" stroke-width="0.6">Y</text>
<text x="437.00" y="1060.45" transform="scale(1.0,1.1)" font-family='"Liberation Serif", serif' font-size="36" font-weight="normal" fill="#000" text-anchor="middle" stroke="#000" stroke-width="0.6">Γ</text>
<clipPath id="clipd"><rect x="110" y="671" width="324" height="454"/></clipPath>
<g clip-path="url(#clipd)" fill="none" stroke="#000" stroke-width="2.6" stroke-linejoin="round" stroke-linecap="round">
<path d="M110.0,788.6 L110.8,788.5 L111.8,788.4 L113.0,788.3 L114.3,788.2 L115.8,788.1 L117.3,787.9 L118.8,787.8 L120.4,787.6 L121.8,787.4 L123.2,787.3 L124.5,787.1 L125.9,786.9 L127.2,786.8 L128.5,786.6 L129.8,786.4 L131.1,786.2 L132.5,786.0 L133.8,785.8 L135.1,785.5 L136.4,785.3 L137.7,785.0 L139.1,784.7 L140.4,784.4 L141.7,784.0 L143.0,783.7 L144.4,783.3 L145.7,782.9 L147.0,782.6 L148.3,782.3 L149.6,782.0 L151.0,781.7 L152.4,781.4 L153.8,781.1 L155.2,780.8 L156.7,780.6 L158.0,780.3 L159.4,780.1 L160.6,779.9 L161.8,779.7 L162.8,779.6 L163.8,779.5 L164.6,779.5 L165.4,779.5 L166.0,779.5 L166.6,779.5 L167.2,779.6 L167.8,779.7 L168.3,779.8 L168.9,779.9 L169.5,780.0 L170.0,780.1 L170.6,780.3 L171.1,780.4 L171.7,780.6 L172.2,780.8 L172.7,781.0 L173.2,781.2 L173.7,781.4 L174.2,781.7 L174.7,782.0 L175.3,782.3 L175.8,782.6 L176.3,783.0 L176.8,783.4 L177.3,783.8 L177.8,784.3 L178.3,784.7 L178.9,785.1 L179.4,785.5 L180.0,785.9 L180.6,786.4 L181.2,786.8 L181.8,787.2 L182.4,787.7 L183.1,788.1 L183.7,788.5 L184.4,788.9 L185.1,789.3 L185.9,789.6 L186.6,789.9 L187.4,790.2 L188.2,790.4 L189.1,790.5 L189.9,790.7 L190.8,790.8 L191.8,790.9 L192.7,791.0 L193.7,791.1 L194.8,791.1 L195.9,791.2 L197.0,791.3 L198.3,791.4 L199.6,791.5 L200.9,791.5 L202.2,791.6 L203.6,791.7 L205.0,791.7 L206.4,791.8 L207.8,791.8 L209.1,791.9 L210.4,792.0 L211.8,792.0 L213.2,792.1 L214.6,792.1 L216.0,792.1 L217.4,792.1 L218.7,792.2 L220.0,792.2 L221.2,792.1 L222.3,792.1 L222.5,792.1"/>
<path d="M110.0,712.0 L110.5,712.0 L111.1,712.0 L111.8,712.0 L112.6,712.0 L113.5,712.0 L114.4,712.1 L115.3,712.1 L116.2,712.0 L117.1,712.0 L117.9,712.0 L118.7,711.9 L119.5,711.8 L120.4,711.7 L121.2,711.5 L122.0,711.4 L122.8,711.2 L123.6,711.1 L124.4,710.9 L125.1,710.8 L125.9,710.6 L126.5,710.5 L127.2,710.4 L127.8,710.2 L128.4,710.0 L129.0,709.9 L129.6,709.7 L130.2,709.6 L130.7,709.6 L131.3,709.5 L131.8,709.6 L132.3,709.7 L132.8,709.7 L133.3,709.9 L133.8,710.0 L134.2,710.2 L134.7,710.4 L135.1,710.7 L135.6,711.1 L136.0,711.5 L136.4,712.0 L136.8,712.5 L137.2,713.2 L137.6,713.9 L138.0,714.7 L138.4,715.5 L138.7,716.4 L139.1,717.2 L139.5,718.1 L139.9,719.0 L140.4,719.9 L140.9,720.8 L141.4,721.7 L141.9,722.6 L142.4,723.5 L142.9,724.4 L143.5,725.4 L144.0,726.3 L144.6,727.3 L145.1,728.2 L145.7,729.1 L146.2,730.1 L146.7,731.0 L147.3,731.9 L147.8,732.9 L148.3,733.8 L148.8,734.7 L149.4,735.7 L149.9,736.6 L150.4,737.5 L151.0,738.4 L151.5,739.3 L152.0,740.1 L152.5,741.0 L153.1,741.9 L153.6,742.7 L154.1,743.6 L154.7,744.4 L155.2,745.3 L155.7,746.1 L156.2,747.0 L156.8,747.8 L157.3,748.7 L157.8,749.5 L158.4,750.4 L158.9,751.3 L159.4,752.1 L159.9,753.0 L160.5,753.8 L161.0,754.7 L161.5,755.6 L162.1,756.4 L162.6,757.3 L163.2,758.2 L163.7,759.1 L164.3,759.9 L164.8,760.8 L165.3,761.7 L165.8,762.5 L166.3,763.3 L166.8,764.1 L167.3,764.9 L167.7,765.7 L168.1,766.4 L168.5,767.2 L168.9,767.9 L169.3,768.6 L169.6,769.3 L170.0,770.0 L170.4,770.7 L170.8,771.4 L171.2,772.1 L171.6,772.8 L172.0,773.5 L172.4,774.2 L172.8,774.8 L173.2,775.5 L173.6,776.2 L173.9,776.8 L174.3,777.4 L174.7,778.0 L175.1,778.6 L175.5,779.2 L175.9,779.7 L176.3,780.3 L176.6,780.8 L177.0,781.3 L177.4,781.8 L177.8,782.3 L178.3,782.8 L178.7,783.3 L179.2,783.8 L179.8,784.3 L180.4,784.9 L181.0,785.4 L181.6,785.9 L182.2,786.4 L182.7,786.9 L183.2,787.3 L183.7,787.7 L184.0,787.9"/>
<path d="M110.0,695.4 L110.4,695.5 L110.9,695.6 L111.5,695.7 L112.2,695.8 L112.9,695.9 L113.6,696.0 L114.4,696.1 L115.2,696.2 L115.9,696.3 L116.6,696.4 L117.3,696.4 L117.9,696.4 L118.6,696.4 L119.3,696.4 L120.0,696.3 L120.7,696.3 L121.3,696.2 L122.0,696.2 L122.6,696.2 L123.2,696.1 L123.8,696.0 L124.4,696.0 L125.0,695.9 L125.5,695.8 L126.1,695.7 L126.6,695.6 L127.1,695.5 L127.6,695.5 L128.1,695.4 L128.5,695.4 L128.9,695.5 L129.3,695.5 L129.7,695.5 L130.0,695.5 L130.3,695.5 L130.6,695.6 L130.9,695.8 L131.2,696.0 L131.5,696.3 L131.8,696.8 L132.1,697.3 L132.4,698.0 L132.6,698.8 L132.9,699.6 L133.1,700.6 L133.4,701.5 L133.6,702.5 L133.9,703.5 L134.2,704.4 L134.4,705.4 L134.7,706.2 L135.0,707.1 L135.3,708.0 L135.6,708.9 L135.9,709.8 L136.3,710.7 L136.6,711.6 L136.9,712.6 L137.3,713.6 L137.7,714.6 L138.2,715.7 L138.7,716.8 L139.2,717.9 L139.7,719.1 L140.3,720.3 L140.8,721.5 L141.4,722.7 L141.9,724.0 L142.5,725.2 L143.0,726.5 L143.6,727.8 L144.1,729.0 L144.6,730.4 L145.1,731.7 L145.7,733.0 L146.2,734.4 L146.7,735.7 L147.3,737.0 L147.8,738.4 L148.3,739.7 L148.8,741.0 L149.4,742.4 L149.9,743.8 L150.4,745.1 L151.0,746.5 L151.5,747.8 L152.0,749.1 L152.5,750.4 L153.1,751.7 L153.6,752.9 L154.1,754.1 L154.7,755.3 L155.2,756.4 L155.7,757.5 L156.2,758.6 L156.8,759.7 L157.3,760.7 L157.8,761.7 L158.4,762.6 L158.9,763.5 L159.4,764.3 L159.9,765.1 L160.5,765.9 L161.0,766.6 L161.5,767.2 L162.1,767.9 L162.6,768.5 L163.1,769.0 L163.6,769.6 L164.2,770.1 L164.7,770.6 L165.2,771.0 L165.8,771.4 L166.3,771.8 L166.9,772.1 L167.4,772.4 L168.0,772.7 L168.5,773.0 L169.0,773.2 L169.5,773.4 L169.9,773.6 L170.4,773.7 L170.8,773.8 L171.2,773.9 L171.6,774.0 L172.0,774.1 L172.4,774.1 L172.7,774.1 L173.1,774.1 L173.4,774.1 L173.7,774.0 L174.0,774.0 L174.3,773.9 L174.5,773.8 L174.7,773.7 L175.0,773.5 L175.2,773.4 L175.5,773.2 L175.7,773.0 L176.1,772.7 L176.4,772.5 L176.7,772.2 L177.1,771.9 L177.5,771.5 L177.9,771.2 L178.3,770.8 L178.7,770.3 L179.1,769.9 L179.6,769.3 L180.0,768.8 L180.5,768.1 L181.0,767.5 L181.6,766.7 L182.1,765.9 L182.7,765.1 L183.2,764.3 L183.8,763.4 L184.3,762.6 L184.8,761.7 L185.3,760.8 L185.8,759.9 L186.3,758.9 L186.7,757.9 L187.2,756.8 L187.6,755.7 L188.0,754.7 L188.4,753.7 L188.8,752.9 L189.0,752.2 L189.3,751.6"/>
<path d="M110.0,703.4 L110.4,703.3 L110.9,703.3 L111.5,703.2 L112.2,703.1 L112.9,703.0 L113.6,702.9 L114.4,702.8 L115.2,702.8 L115.9,702.7 L116.6,702.7 L117.3,702.7 L117.9,702.7 L118.6,702.7 L119.3,702.8 L120.0,702.8 L120.7,702.9 L121.3,703.0 L122.0,703.1 L122.6,703.2 L123.2,703.4 L123.8,703.6 L124.4,703.8 L124.9,704.0 L125.5,704.3 L126.0,704.6 L126.5,704.9 L127.1,705.2 L127.5,705.5 L128.0,705.7 L128.5,706.0 L128.9,706.3 L129.4,706.6 L129.8,706.8 L130.2,707.1 L130.6,707.4 L130.9,707.6 L131.3,707.9 L131.7,708.2 L132.1,708.4 L132.5,708.7 L132.9,708.8 L133.2,709.0 L133.6,709.0 L134.0,709.1 L134.4,709.2 L134.7,709.3 L135.1,709.4 L135.5,709.7 L136.0,710.1 L136.4,710.6 L136.9,711.4 L137.4,712.2 L137.9,713.2 L138.4,714.3 L139.0,715.5 L139.5,716.7 L140.1,717.9 L140.6,719.0 L141.2,720.2 L141.7,721.2 L142.2,722.2 L142.8,723.1 L143.3,724.0 L143.8,724.9 L144.4,725.8 L144.9,726.7 L145.4,727.6 L145.9,728.5 L146.5,729.5 L147.0,730.5 L147.5,731.5 L148.1,732.5 L148.6,733.5 L149.1,734.6 L149.6,735.7 L150.2,736.7 L150.7,737.8 L151.2,738.9 L151.8,740.0 L152.3,741.0 L152.8,742.1 L153.3,743.1 L153.9,744.2 L154.4,745.3 L154.9,746.3 L155.5,747.4 L156.0,748.4 L156.5,749.5 L157.0,750.5 L157.6,751.6 L158.1,752.7 L158.6,753.7 L159.1,754.8 L159.7,755.9 L160.2,757.0 L160.7,758.1 L161.3,759.1 L161.8,760.2 L162.3,761.2 L162.8,762.2 L163.4,763.1 L163.9,764.1 L164.5,765.0 L165.0,765.9 L165.6,766.8 L166.1,767.7 L166.6,768.5 L167.2,769.3 L167.7,770.0 L168.1,770.8 L168.6,771.4 L169.0,772.0 L169.4,772.6 L169.8,773.1 L170.2,773.6 L170.6,774.1 L170.9,774.6 L171.3,775.1 L171.7,775.6 L172.1,776.0 L172.5,776.5 L172.9,777.0 L173.2,777.5 L173.6,777.9 L174.0,778.3 L174.4,778.8 L174.8,779.2 L175.2,779.7 L175.6,780.2 L176.1,780.7 L176.6,781.2 L177.1,781.8 L177.7,782.4 L178.3,783.0 L179.0,783.6 L179.5,784.2 L180.1,784.7 L180.6,785.2 L181.0,785.6 L181.3,785.9"/>
<path d="M110.0,705.6 L110.5,705.7 L111.1,705.7 L111.8,705.8 L112.7,705.8 L113.6,705.9 L114.5,706.0 L115.4,706.1 L116.3,706.2 L117.2,706.3 L117.9,706.4 L118.6,706.6 L119.4,706.7 L120.0,706.9 L120.7,707.1 L121.4,707.3 L122.0,707.5 L122.7,707.7 L123.3,707.9 L123.9,708.1 L124.5,708.3 L125.1,708.4 L125.7,708.6 L126.2,708.8 L126.7,709.0 L127.3,709.2 L127.8,709.4 L128.3,709.5 L128.8,709.7 L129.3,709.8 L129.8,710.0 L130.4,710.1 L131.0,710.2 L131.6,710.3 L132.2,710.3 L132.8,710.4 L133.4,710.5 L133.9,710.5 L134.4,710.6 L134.8,710.6 L135.1,710.6"/>
<path d="M121.9,671.0 L122.1,671.5 L122.4,672.1 L122.8,672.8 L123.2,673.6 L123.6,674.5 L124.1,675.4 L124.5,676.3 L125.0,677.2 L125.4,678.1 L125.9,678.9 L126.3,679.7 L126.7,680.6 L127.1,681.4 L127.5,682.2 L127.9,683.1 L128.3,683.9 L128.7,684.7 L129.1,685.4 L129.5,686.2 L129.8,686.9 L130.1,687.5 L130.4,688.2 L130.7,689.0 L130.9,689.7 L131.1,690.3 L131.4,690.9 L131.6,691.4 L131.9,691.8 L132.1,692.1 L132.5,692.1 L132.8,692.0 L133.1,691.7 L133.5,691.3 L133.9,690.7 L134.3,690.1 L134.7,689.4 L135.1,688.7 L135.5,688.0 L136.0,687.4 L136.4,686.9 L136.9,686.4 L137.4,685.9 L138.0,685.5 L138.5,685.1 L139.1,684.7 L139.6,684.3 L140.2,683.9 L140.7,683.5 L141.2,683.2 L141.7,682.9 L142.2,682.6 L142.6,682.2 L143.0,681.9 L143.3,681.5 L143.7,681.2 L144.1,680.9 L144.4,680.8 L144.8,680.7 L145.2,680.7 L145.7,680.9 L146.1,681.3 L146.6,681.7 L147.2,682.3 L147.7,683.1 L148.2,683.8 L148.8,684.7 L149.3,685.6 L149.9,686.4 L150.4,687.3 L151.0,688.2 L151.5,689.0 L152.0,689.9 L152.5,690.8 L153.1,691.7 L153.6,692.7 L154.1,693.6 L154.7,694.6 L155.2,695.5 L155.7,696.5 L156.2,697.4 L156.8,698.3 L157.3,699.3 L157.8,700.2 L158.4,701.1 L158.9,702.0 L159.4,703.0 L159.9,703.9 L160.5,704.8 L161.0,705.7 L161.5,706.7 L162.1,707.6 L162.6,708.5 L163.1,709.5 L163.6,710.4 L164.2,711.4 L164.7,712.3 L165.2,713.2 L165.8,714.2 L166.3,715.1 L166.8,715.9 L167.3,716.8 L167.9,717.6 L168.4,718.4 L168.9,719.3 L169.5,720.1 L170.0,720.8 L170.5,721.6 L171.0,722.4 L171.6,723.1 L172.1,723.8 L172.6,724.6 L173.2,725.3 L173.7,726.0 L174.2,726.6 L174.7,727.3 L175.3,728.0 L175.8,728.6 L176.3,729.2 L176.9,729.9 L177.4,730.5 L177.9,731.0 L178.4,731.6 L179.0,732.2 L179.5,732.7 L180.0,733.3 L180.6,733.8 L181.1,734.3 L181.6,734.8 L182.1,735.3 L182.7,735.7 L183.2,736.2 L183.8,736.7 L184.4,737.2 L185.0,737.6 L185.6,738.1 L186.2,738.5 L186.8,738.8 L187.2,739.2 L187.6,739.5 L188.0,739.7"/>
<path d="M144.4,671.0 L144.7,671.5 L145.1,672.1 L145.5,672.8 L146.1,673.5 L146.7,674.4 L147.3,675.3 L147.9,676.2 L148.5,677.1 L149.1,678.0 L149.6,678.9 L150.2,679.8 L150.7,680.7 L151.3,681.7 L151.9,682.7 L152.4,683.6 L153.0,684.6 L153.5,685.6 L154.0,686.5 L154.5,687.4 L154.9,688.2 L155.3,688.9 L155.6,689.6 L155.8,690.2 L156.0,690.8 L156.2,691.4 L156.4,692.0 L156.7,692.6 L156.9,693.2 L157.2,694.0 L157.6,694.8 L158.0,695.7 L158.4,696.6 L158.9,697.6 L159.4,698.7 L160.0,699.7 L160.5,700.8 L161.1,702.0 L161.7,703.1 L162.3,704.2 L162.8,705.4 L163.5,706.5 L164.1,707.7 L164.7,708.9 L165.4,710.1 L166.1,711.3 L166.7,712.5 L167.4,713.7 L168.1,714.9 L168.8,716.1 L169.5,717.2 L170.1,718.4 L170.8,719.5 L171.4,720.6 L172.1,721.6 L172.8,722.7 L173.4,723.7 L174.1,724.8 L174.7,725.8 L175.4,726.8 L176.1,727.8 L176.7,728.8 L177.4,729.8 L178.1,730.8 L178.8,731.8 L179.4,732.8 L180.1,733.8 L180.8,734.7 L181.4,735.5 L182.1,736.3 L182.7,737.1 L183.3,737.7 L183.8,738.3 L184.4,738.9 L184.9,739.4 L185.5,739.9 L186.0,740.3 L186.5,740.7 L187.0,741.0 L187.5,741.4 L188.0,741.7 L188.4,742.0 L188.7,742.2 L189.0,742.4 L189.3,742.5 L189.6,742.6 L189.9,742.7 L190.3,742.8 L190.7,742.9 L191.3,742.9 L191.9,743.0 L192.7,743.1 L193.6,743.1 L194.5,743.2 L195.5,743.2 L196.6,743.2 L197.8,743.2 L198.9,743.2 L200.1,743.2 L201.3,743.2 L202.5,743.1 L203.7,743.1 L204.9,743.1 L206.2,743.1 L207.5,743.1 L208.9,743.0 L210.2,743.0 L211.6,742.9 L212.9,742.9 L214.3,742.8 L215.7,742.7 L217.1,742.6 L218.7,742.5 L220.4,742.3 L222.0,742.1 L222.5,742.0"/>
<path d="M160.2,671.0 L160.4,671.5 L160.7,672.1 L161.1,672.9 L161.5,673.8 L161.9,674.7 L162.4,675.7 L162.9,676.6 L163.3,677.5 L163.8,678.3 L164.2,678.9 L164.6,679.5 L165.0,680.0 L165.4,680.5 L165.8,681.0 L166.2,681.4 L166.5,681.7 L166.9,682.1 L167.3,682.4 L167.7,682.6 L168.1,682.9 L168.5,683.1 L168.9,683.3 L169.3,683.4 L169.7,683.6 L170.0,683.6 L170.4,683.7 L170.8,683.7 L171.2,683.7 L171.6,683.6 L172.1,683.6 L172.6,683.4 L173.0,683.3 L173.5,683.1 L174.1,682.8 L174.6,682.6 L175.1,682.3 L175.7,682.0 L176.2,681.6 L176.8,681.3 L177.4,680.9 L178.0,680.5 L178.6,680.1 L179.3,679.6 L179.9,679.2 L180.6,678.7 L181.3,678.2 L182.0,677.7 L182.6,677.2 L183.3,676.7 L184.0,676.3 L184.7,675.9 L185.4,675.4 L186.1,675.0 L186.8,674.6 L187.5,674.1 L188.1,673.7 L188.8,673.3 L189.4,673.0 L190.0,672.6 L190.6,672.3 L191.1,672.0 L191.6,671.8 L192.1,671.5 L192.6,671.3 L193.0,671.1 L193.2,671.0"/>
<path d="M194.6,671.0 L195.0,671.3 L195.6,671.7 L196.4,672.1 L197.2,672.6 L198.0,673.1 L198.9,673.7 L199.9,674.3 L200.8,675.0 L201.7,675.6 L202.5,676.3 L203.3,677.0 L204.1,677.7 L204.9,678.4 L205.7,679.1 L206.4,679.9 L207.2,680.7 L208.0,681.6 L208.8,682.4 L209.6,683.3 L210.4,684.2 L211.2,685.2 L212.0,686.2 L212.8,687.2 L213.6,688.2 L214.5,689.3 L215.3,690.4 L216.1,691.5 L216.8,692.6 L217.6,693.7 L218.3,694.6 L219.1,695.6 L219.8,696.5 L220.5,697.4 L221.2,698.4 L221.8,699.3 L222.5,700.2 L222.5,700.1"/>
<path d="M136.4,701.4 L136.8,701.4 L137.3,701.4 L138.0,701.3 L138.7,701.3 L139.4,701.3 L140.2,701.3 L140.9,701.2 L141.7,701.2 L142.4,701.2 L143.0,701.1 L143.6,701.1 L144.2,701.0 L144.7,701.0 L145.2,700.9 L145.8,700.8 L146.3,700.8 L146.8,700.7 L147.3,700.7 L147.8,700.7 L148.3,700.7 L148.8,700.8 L149.4,700.8 L149.9,700.8 L150.5,700.8 L151.0,700.8 L151.6,700.9 L152.1,701.1 L152.6,701.3 L153.1,701.6 L153.6,702.0 L154.1,702.6 L154.5,703.3 L154.9,704.0 L155.3,704.9 L155.7,705.8 L156.0,706.7 L156.4,707.7 L156.8,708.7 L157.2,709.7 L157.6,710.6 L158.0,711.6 L158.4,712.6 L158.8,713.7 L159.1,714.8 L159.5,715.9 L159.9,717.0 L160.3,718.1 L160.7,719.1 L161.1,720.2 L161.5,721.2 L161.9,722.2 L162.3,723.2 L162.7,724.1 L163.1,725.1 L163.5,726.0 L163.9,726.9 L164.3,727.8 L164.7,728.7 L165.1,729.6 L165.5,730.5 L165.9,731.3 L166.3,732.1 L166.7,732.9 L167.1,733.7 L167.5,734.5 L167.9,735.3 L168.3,736.0 L168.7,736.8 L169.1,737.6 L169.5,738.4 L169.9,739.2 L170.2,740.0 L170.6,740.9 L171.0,741.8 L171.4,742.6 L171.8,743.5 L172.2,744.3 L172.6,745.0 L173.0,745.7 L173.4,746.3 L173.8,746.8 L174.2,747.3 L174.6,747.7 L174.9,748.1 L175.3,748.5 L175.7,748.8 L176.1,749.0 L176.5,749.2 L176.9,749.4 L177.4,749.6 L177.9,749.8 L178.4,749.9 L178.9,749.9 L179.5,749.9 L180.0,749.9 L180.6,749.9 L181.1,749.9 L181.7,749.8 L182.2,749.7 L182.7,749.6 L183.1,749.5 L183.6,749.3 L184.0,749.0 L184.4,748.7 L184.8,748.5 L185.2,748.2 L185.6,747.9 L185.9,747.8 L186.3,747.7 L186.6,747.6 L187.0,747.7 L187.3,747.9 L187.6,748.2 L187.9,748.5 L188.2,748.8 L188.5,749.2 L188.7,749.5 L188.9,749.8 L189.1,750.1 L189.3,750.3"/>
<path d="M189.3,750.3 L189.7,750.3 L190.2,750.4 L190.8,750.6 L191.4,750.7 L192.2,750.8 L192.9,751.0 L193.7,751.1 L194.5,751.3 L195.2,751.4 L195.9,751.6 L196.5,751.8 L197.2,751.9 L197.9,752.1 L198.5,752.3 L199.2,752.5 L199.8,752.7 L200.5,752.9 L201.2,753.1 L201.8,753.3 L202.5,753.6 L203.1,753.8 L203.8,754.1 L204.5,754.4 L205.1,754.7 L205.8,755.0 L206.4,755.4 L207.1,755.7 L207.8,756.1 L208.4,756.5 L209.1,756.9 L209.8,757.3 L210.4,757.8 L211.1,758.2 L211.7,758.7 L212.4,759.2 L213.1,759.8 L213.7,760.3 L214.4,760.9 L215.0,761.5 L215.7,762.2 L216.4,762.9 L217.0,763.6 L217.7,764.3 L218.3,765.0 L219.0,765.7 L219.7,766.4 L220.3,767.1 L221.0,767.8 L221.6,768.5 L222.3,769.2 L222.5,769.3"/>
<path d="M149.6,697.4 L150.0,697.3 L150.4,697.2 L150.8,697.0 L151.4,696.8 L151.9,696.6 L152.6,696.3 L153.2,696.1 L153.8,695.9 L154.4,695.6 L154.9,695.4 L155.5,695.2 L156.0,695.0 L156.5,694.7 L157.0,694.5 L157.6,694.2 L158.1,694.0 L158.6,693.8 L159.1,693.6 L159.7,693.5 L160.2,693.5 L160.7,693.4 L161.3,693.5 L161.8,693.5 L162.4,693.6 L162.9,693.7 L163.5,693.9 L164.0,694.1 L164.5,694.3 L165.0,694.5 L165.5,694.8 L165.9,695.1 L166.4,695.3 L166.8,695.7 L167.2,696.0 L167.6,696.4 L167.9,696.7 L168.3,697.2 L168.7,697.7 L169.1,698.2 L169.5,698.7 L169.9,699.4 L170.2,700.0 L170.6,700.7 L171.0,701.5 L171.4,702.3 L171.8,703.1 L172.2,704.0 L172.6,704.9 L173.0,705.8 L173.4,706.7 L173.8,707.6 L174.2,708.6 L174.6,709.6 L175.0,710.7 L175.4,711.8 L175.8,712.9 L176.2,714.0 L176.6,715.1 L177.0,716.2 L177.4,717.2 L177.8,718.3 L178.2,719.4 L178.6,720.5 L179.0,721.6 L179.4,722.7 L179.8,723.8 L180.2,724.8 L180.6,725.9 L180.9,726.9 L181.3,727.8 L181.7,728.7 L182.1,729.6 L182.5,730.5 L182.9,731.3 L183.3,732.1 L183.7,732.9 L184.1,733.6 L184.5,734.4 L184.9,735.1 L185.3,735.7 L185.7,736.4 L186.2,737.1 L186.6,737.7 L187.1,738.3 L187.5,738.9 L188.0,739.4 L188.4,739.9 L188.7,740.3 L189.0,740.7 L189.3,741.0"/>
<path d="M222.5,792.1 L223.8,792.1 L225.4,792.1 L226.8,792.1 L228.2,792.1 L229.5,792.2 L230.9,792.2 L232.2,792.3 L233.5,792.4 L234.8,792.5 L236.1,792.7 L237.5,792.8 L238.8,792.9 L240.1,793.1 L241.4,793.2 L242.8,793.3 L244.1,793.5 L245.5,793.6 L246.8,793.7 L248.2,793.8 L249.5,793.9 L250.9,794.0 L252.2,794.2 L253.4,794.3 L254.6,794.5 L255.8,794.7 L257.0,795.0 L258.1,795.2 L259.2,795.4 L260.3,795.7 L261.4,796.0 L262.4,796.2 L263.4,796.5 L264.3,796.9 L265.2,797.2 L266.0,797.5 L266.8,797.9 L267.5,798.2 L268.1,798.6 L268.8,799.0 L269.4,799.3 L270.0,799.8 L270.6,800.2 L271.2,800.7 L271.8,801.1 L272.5,801.7 L273.1,802.2 L273.8,802.8 L274.4,803.4 L275.0,804.1 L275.7,804.7 L276.3,805.3 L277.0,805.9 L277.7,806.5 L278.4,807.1 L279.2,807.6 L279.9,808.2 L280.7,808.8 L281.5,809.4 L282.3,810.0 L283.1,810.5 L283.9,810.9 L284.7,811.3 L285.5,811.6 L286.3,811.7 L287.1,811.7 L288.0,811.6 L288.8,811.4 L289.6,811.1 L290.4,810.8 L291.2,810.4 L292.0,809.9 L292.8,809.4 L293.5,808.9 L294.3,808.4 L295.0,807.8 L295.7,807.2 L296.3,806.5 L296.9,805.7 L297.6,804.9 L298.2,804.1 L298.8,803.3 L299.5,802.5 L300.2,801.8 L300.9,801.1 L301.6,800.5 L302.4,799.9 L303.1,799.2 L303.9,798.6 L304.7,798.0 L305.5,797.4 L306.3,796.9 L307.1,796.5 L308.0,796.1 L308.8,795.9 L309.7,795.7 L310.6,795.6 L311.5,795.6 L312.4,795.6 L313.3,795.7 L314.3,795.8 L315.2,796.0 L316.2,796.2 L317.1,796.3 L318.1,796.5 L319.0,796.7 L319.9,796.9 L320.9,797.1 L321.8,797.4 L322.8,797.7 L323.7,798.0 L324.5,798.2"/>
<path d="M222.5,769.3 L222.9,769.7 L223.7,770.5 L224.5,771.4 L225.3,772.3 L226.1,773.2 L226.9,774.1 L227.7,775.1 L228.5,776.1 L229.3,777.2 L230.1,778.3 L230.9,779.3 L231.7,780.4 L232.5,781.5 L233.3,782.6 L234.1,783.7 L234.9,784.8 L235.7,785.9 L236.5,786.9 L237.3,788.0 L238.0,789.0 L238.8,789.9 L239.5,790.8 L240.2,791.7 L240.9,792.5 L241.5,793.3 L242.2,794.1 L242.8,794.9 L243.4,795.6 L244.1,796.4 L244.7,797.1 L245.4,797.8 L246.0,798.6 L246.7,799.3 L247.4,800.0 L248.0,800.8 L248.7,801.5 L249.4,802.1 L250.0,802.8 L250.7,803.4 L251.3,803.9 L252.0,804.4 L252.7,804.9 L253.3,805.3 L254.0,805.7 L254.6,806.0 L255.3,806.3 L256.0,806.5 L256.6,806.7 L257.3,806.9 L257.9,807.0 L258.6,807.1 L259.3,807.1 L259.9,807.1 L260.6,807.1 L261.2,807.0 L261.9,806.9 L262.6,806.7 L263.2,806.5 L263.9,806.3 L264.5,806.0 L265.2,805.8 L265.9,805.4 L266.5,805.1 L267.2,804.7 L267.8,804.3 L268.5,803.8 L269.2,803.3 L269.8,802.8 L270.5,802.3 L271.2,801.7 L271.8,801.1 L272.5,800.5 L273.1,799.8 L273.8,799.1 L274.5,798.3 L275.1,797.5 L275.8,796.7 L276.4,795.9 L277.1,795.2 L277.8,794.5 L278.4,793.9 L279.1,793.3 L279.7,792.8 L280.3,792.3 L280.9,791.9 L281.6,791.5 L282.2,791.1 L282.8,790.8 L283.5,790.4 L284.3,790.2 L285.0,789.9 L285.8,789.7 L286.7,789.5 L287.6,789.4 L288.6,789.3 L289.6,789.3 L290.5,789.3 L291.5,789.2 L292.5,789.2 L293.4,789.2 L294.3,789.2 L295.1,789.3 L296.0,789.4 L296.8,789.5 L297.7,789.7 L298.5,789.9 L299.3,790.0 L300.1,790.1 L300.8,790.1 L301.5,790.1 L302.2,789.9 L302.8,789.6 L303.4,789.3 L303.9,788.8 L304.4,788.4 L304.9,787.8 L305.4,787.2 L305.9,786.6 L306.4,785.9 L306.9,785.3 L307.5,784.6 L308.1,783.9 L308.7,783.2 L309.4,782.5 L310.0,781.7 L310.7,780.9 L311.4,780.1 L312.1,779.3 L312.7,778.4 L313.4,777.6 L314.1,776.7 L314.8,775.8 L315.4,774.9 L316.1,773.9 L316.7,772.9 L317.4,771.9 L318.1,770.9 L318.7,769.9 L319.4,769.0 L320.0,768.2 L320.7,767.5 L321.4,766.9 L322.0,766.3 L322.6,765.8 L323.3,765.3 L323.9,764.9 L324.5,764.6"/>
<path d="M222.5,742.0 L222.9,742.0 L223.7,742.0 L224.5,741.9 L225.3,741.8 L226.1,741.6 L226.9,741.5 L227.7,741.3 L228.5,741.1 L229.3,740.9 L230.1,740.6 L230.9,740.4 L231.7,740.1 L232.5,739.8 L233.3,739.4 L234.1,739.1 L234.9,738.8 L235.7,738.4 L236.5,738.0 L237.3,737.7 L238.0,737.4 L238.8,737.1 L239.5,736.8 L240.2,736.5 L240.9,736.2 L241.5,736.0 L242.2,735.7 L242.8,735.4 L243.4,735.2 L244.1,734.9 L244.7,734.7 L245.4,734.4 L246.1,734.1 L246.8,733.8 L247.5,733.5 L248.2,733.2 L248.9,732.9 L249.5,732.6 L250.2,732.4 L250.8,732.1 L251.4,731.9 L252.0,731.8 L252.5,731.7 L253.0,731.5 L253.4,731.5 L253.8,731.4 L254.1,731.4 L254.5,731.4 L254.9,731.4 L255.2,731.5 L255.6,731.6 L256.0,731.8 L256.4,732.0 L256.8,732.3 L257.1,732.6 L257.5,732.9 L257.9,733.3 L258.3,733.8 L258.7,734.2 L259.1,734.7 L259.5,735.2 L259.9,735.7 L260.3,736.3 L260.7,736.9 L261.1,737.6 L261.5,738.3 L261.9,739.0 L262.3,739.7 L262.7,740.4 L263.1,741.1 L263.5,741.7 L263.9,742.3 L264.3,742.9 L264.7,743.5 L265.1,744.1 L265.5,744.7 L265.9,745.2 L266.3,745.8 L266.7,746.3 L267.1,746.8 L267.5,747.2 L267.8,747.6 L268.3,748.0 L268.7,748.4 L269.2,748.7 L269.6,749.0 L270.1,749.3 L270.5,749.5 L270.9,749.8 L271.3,750.0 L271.6,750.1 L271.8,750.3"/>
<path d="M222.5,700.1 L222.9,700.7 L223.6,701.7 L224.2,702.8 L224.9,703.9 L225.6,704.9 L226.2,706.0 L226.9,707.1 L227.6,708.1 L228.2,709.3 L228.9,710.5 L229.5,711.7 L230.2,712.9 L230.9,714.1 L231.5,715.3 L232.2,716.5 L232.8,717.7 L233.5,718.9 L234.2,720.1 L234.8,721.2 L235.5,722.3 L236.2,723.5 L236.8,724.6 L237.5,725.7 L238.2,726.8 L238.9,727.9 L239.5,728.9 L240.2,729.9 L240.8,730.9 L241.4,731.8 L242.0,732.6 L242.6,733.4 L243.1,734.1 L243.6,734.8 L244.1,735.4 L244.7,736.0 L245.2,736.6 L245.7,737.2 L246.2,737.8 L246.7,738.4 L247.2,739.0 L247.7,739.5 L248.3,740.1 L248.8,740.6 L249.3,741.1 L249.8,741.6 L250.3,742.1 L250.9,742.6 L251.4,743.1 L252.0,743.7 L252.6,744.2 L253.2,744.8 L253.9,745.3 L254.5,745.9 L255.2,746.5 L255.9,747.0 L256.6,747.6 L257.3,748.1 L257.9,748.5 L258.6,749.0 L259.3,749.3 L259.9,749.7 L260.6,750.1 L261.2,750.4 L261.9,750.7 L262.6,750.9 L263.2,751.2 L263.9,751.4 L264.5,751.5 L265.2,751.6 L265.9,751.6 L266.5,751.5 L267.2,751.4 L267.8,751.2 L268.5,751.0 L269.2,750.8 L269.8,750.6 L270.5,750.4 L271.2,750.3 L271.8,750.3 L272.5,750.3 L273.2,750.4 L273.8,750.6 L274.5,750.7 L275.2,750.9 L275.9,751.1 L276.5,751.3 L277.2,751.5 L277.8,751.6 L278.4,751.6 L279.0,751.6 L279.6,751.6 L280.1,751.5 L280.6,751.4 L281.1,751.3 L281.7,751.2 L282.2,751.0 L282.7,750.8 L283.2,750.6 L283.7,750.3 L284.2,749.9 L284.8,749.4 L285.3,748.9 L285.8,748.4 L286.3,747.8 L286.9,747.2 L287.4,746.6 L287.9,746.0 L288.5,745.5 L289.0,745.0 L289.5,744.5 L290.0,744.1 L290.6,743.6 L291.1,743.2 L291.6,742.8 L292.2,742.4 L292.7,742.0 L293.2,741.6 L293.7,741.3 L294.3,741.0 L294.8,740.8 L295.3,740.5 L295.8,740.3 L296.3,740.1 L296.8,740.0 L297.3,739.8 L297.8,739.7 L298.3,739.7 L298.9,739.7 L299.6,739.7 L300.2,739.8 L300.9,740.0 L301.7,740.2 L302.4,740.5 L303.2,740.8 L304.0,741.1 L304.8,741.5 L305.7,741.8 L306.6,742.1 L307.5,742.3 L308.4,742.6 L309.5,742.9 L310.5,743.2 L311.6,743.4 L312.7,743.7 L313.8,743.9 L314.9,744.1 L316.0,744.3 L317.0,744.3 L318.1,744.2 L319.0,744.0 L320.0,743.8 L321.0,743.5 L321.9,743.1 L322.9,742.7 L323.8,742.2 L324.5,741.8"/>
<path d="M226.9,671.0 L227.3,671.4 L227.8,671.9 L228.4,672.4 L229.1,673.0 L229.8,673.7 L230.5,674.5 L231.3,675.2 L232.1,676.0 L232.8,676.8 L233.5,677.6 L234.2,678.4 L234.8,679.3 L235.5,680.2 L236.1,681.2 L236.8,682.1 L237.5,683.1 L238.1,684.1 L238.8,685.0 L239.4,686.0 L240.1,686.9 L240.8,687.7 L241.4,688.5 L242.0,689.3 L242.7,690.1 L243.3,690.8 L244.0,691.6 L244.6,692.3 L245.3,693.1 L246.0,693.9 L246.7,694.8 L247.4,695.7 L248.2,696.6 L249.0,697.5 L249.8,698.5 L250.6,699.5 L251.4,700.5 L252.2,701.4 L253.0,702.3 L253.8,703.2 L254.6,704.0 L255.4,704.8 L256.2,705.5 L257.0,706.2 L257.7,706.9 L258.5,707.5 L259.3,708.2 L260.1,708.8 L260.9,709.4 L261.7,710.0 L262.6,710.6 L263.5,711.3 L264.4,711.9 L265.4,712.5 L266.4,713.1 L267.4,713.7 L268.3,714.3 L269.3,714.9 L270.2,715.5 L271.0,716.0 L271.8,716.6 L272.5,717.1 L273.1,717.6 L273.7,718.0 L274.2,718.5 L274.7,718.9 L275.2,719.4 L275.6,719.8 L276.1,720.3 L276.6,720.7 L277.1,721.2 L277.6,721.7 L278.2,722.3 L278.7,722.9 L279.3,723.5 L279.8,724.1 L280.4,724.6 L280.9,725.2 L281.4,725.7 L281.9,726.1 L282.4,726.5 L282.8,726.8 L283.3,727.1 L283.7,727.3 L284.1,727.5 L284.4,727.6 L284.8,727.8 L285.2,727.8 L285.6,727.9 L286.0,727.9 L286.3,727.8 L286.7,727.7 L287.1,727.6 L287.5,727.5 L287.9,727.3 L288.3,727.1 L288.7,726.8 L289.1,726.5 L289.5,726.1 L289.9,725.7 L290.3,725.2 L290.7,724.6 L291.1,724.0 L291.5,723.3 L291.8,722.5 L292.2,721.7 L292.6,720.9 L293.0,720.0 L293.4,719.1 L293.8,718.2 L294.3,717.2 L294.7,716.3 L295.2,715.3 L295.8,714.3 L296.3,713.3 L296.8,712.3 L297.4,711.2 L297.9,710.1 L298.5,709.0 L299.0,707.8 L299.6,706.7 L300.1,705.5 L300.6,704.2 L301.1,702.9 L301.7,701.5 L302.2,700.1 L302.7,698.8 L303.3,697.4 L303.8,696.1 L304.3,694.7 L304.8,693.5 L305.4,692.2 L305.9,691.0 L306.4,689.8 L306.9,688.5 L307.4,687.4 L307.9,686.2 L308.4,685.0 L309.0,683.8 L309.5,682.7 L310.1,681.6 L310.8,680.4 L311.5,679.2 L312.2,678.0 L313.0,676.7 L313.8,675.5 L314.5,674.4 L315.2,673.4 L315.8,672.4 L316.3,671.6 L316.7,671.0"/>
<path d="M234.8,671.0 L235.1,671.7 L235.4,672.6 L235.7,673.7 L236.1,675.0 L236.6,676.3 L237.0,677.7 L237.5,679.0 L237.9,680.4 L238.4,681.7 L238.8,682.9 L239.2,684.0 L239.6,685.1 L240.0,686.2 L240.4,687.2 L240.8,688.3 L241.2,689.3 L241.6,690.3 L242.0,691.4 L242.3,692.4 L242.7,693.5 L243.1,694.5 L243.5,695.6 L243.9,696.7 L244.3,697.8 L244.7,698.8 L245.1,699.9 L245.5,701.0 L245.9,702.0 L246.3,703.0 L246.7,704.0 L247.1,705.0 L247.5,706.0 L247.9,706.9 L248.3,707.9 L248.7,708.8 L249.1,709.7 L249.5,710.6 L249.9,711.5 L250.3,712.4 L250.7,713.3 L251.1,714.1 L251.5,715.0 L251.9,715.8 L252.3,716.7 L252.7,717.5 L253.1,718.3 L253.4,719.1 L253.8,719.8 L254.2,720.5 L254.6,721.2 L255.0,721.9 L255.4,722.6 L255.7,723.2 L256.1,723.9 L256.5,724.5 L256.8,725.1 L257.2,725.6 L257.6,726.0 L258.1,726.3 L258.6,726.5 L259.2,726.6 L259.8,726.5 L260.4,726.4 L261.1,726.2 L261.7,725.9 L262.4,725.6 L263.1,725.2 L263.8,724.8 L264.5,724.3 L265.2,723.8 L265.9,723.3 L266.5,722.8 L267.2,722.2 L267.8,721.5 L268.5,720.8 L269.2,720.1 L269.8,719.3 L270.5,718.6 L271.2,717.9 L271.8,717.2 L272.5,716.6 L273.1,716.0 L273.8,715.3 L274.4,714.7 L275.0,714.1 L275.7,713.5 L276.3,712.8 L277.0,712.1 L277.7,711.4 L278.4,710.6 L279.2,709.8 L279.9,709.0 L280.7,708.1 L281.5,707.2 L282.3,706.3 L283.1,705.3 L283.9,704.3 L284.7,703.4 L285.5,702.4 L286.3,701.4 L287.1,700.4 L288.0,699.4 L288.8,698.4 L289.6,697.3 L290.4,696.3 L291.2,695.2 L292.0,694.1 L292.8,693.0 L293.5,691.9 L294.3,690.8 L295.0,689.7 L295.7,688.5 L296.4,687.2 L297.1,686.0 L297.8,684.7 L298.5,683.5 L299.1,682.2 L299.7,681.1 L300.3,680.0 L300.9,678.9 L301.4,677.9 L301.9,677.0 L302.4,676.0 L302.8,675.1 L303.3,674.2 L303.7,673.4 L304.0,672.7 L304.3,672.0 L304.6,671.5 L304.8,671.0"/>
<path d="M271.8,750.3 L272.1,750.0 L272.5,749.6 L273.0,749.1 L273.5,748.6 L274.1,748.0 L274.7,747.5 L275.3,746.8 L276.0,746.2 L276.5,745.6 L277.1,745.0 L277.6,744.4 L278.2,743.7 L278.7,743.1 L279.2,742.4 L279.7,741.7 L280.3,741.0 L280.8,740.3 L281.3,739.6 L281.9,739.0 L282.4,738.4 L282.9,737.8 L283.4,737.2 L283.9,736.6 L284.4,736.0 L284.9,735.4 L285.5,734.9 L286.0,734.3 L286.5,733.9 L287.1,733.5 L287.7,733.1 L288.3,732.8 L288.9,732.6 L289.6,732.5 L290.3,732.3 L291.0,732.3 L291.7,732.2 L292.3,732.1 L293.0,732.1 L293.7,731.9 L294.3,731.8 L294.8,731.6 L295.4,731.4 L295.9,731.2 L296.4,730.9 L296.9,730.7 L297.4,730.4 L297.9,730.2 L298.4,729.9 L299.0,729.5 L299.6,729.1 L300.2,728.7 L300.8,728.3 L301.4,727.9 L302.1,727.4 L302.8,726.9 L303.5,726.4 L304.1,725.8 L304.8,725.2 L305.5,724.5 L306.2,723.8 L306.8,723.1 L307.5,722.3 L308.1,721.4 L308.8,720.5 L309.5,719.6 L310.1,718.6 L310.8,717.6 L311.4,716.6 L312.1,715.6 L312.8,714.6 L313.4,713.6 L314.1,712.6 L314.8,711.5 L315.4,710.5 L316.1,709.4 L316.7,708.3 L317.4,707.2 L318.1,706.2 L318.7,705.1 L319.4,704.0 L320.0,702.9 L320.7,701.8 L321.4,700.6 L322.1,699.5 L322.8,698.4 L323.4,697.2 L324.1,696.1 L324.5,695.4"/>
<path d="M324.5,798.2 L325.8,798.4 L327.2,798.6 L328.5,798.7 L329.9,798.9 L331.2,799.0 L332.6,799.1 L333.9,799.3 L335.2,799.4 L336.6,799.5 L337.9,799.6 L339.2,799.7 L340.4,799.8 L341.7,799.9 L343.0,800.0 L344.3,800.0 L345.7,800.1 L346.9,800.1 L348.2,800.2 L349.4,800.3 L350.5,800.3 L351.5,800.4 L352.3,800.5 L353.0,800.6 L353.6,800.7 L354.0,800.8 L354.4,801.0 L354.7,801.1 L355.0,801.2 L355.2,801.4 L355.5,801.5 L355.9,801.7 L356.3,801.8 L356.8,801.9 L357.3,802.1 L357.8,802.3 L358.3,802.5 L358.8,802.6 L359.4,802.8 L359.9,802.9 L360.5,803.0 L361.0,803.1 L361.6,803.1 L362.1,803.1 L362.6,803.1 L363.1,803.0 L363.7,803.0 L364.2,802.9 L364.7,802.7 L365.3,802.6 L365.8,802.4 L366.3,802.1 L366.8,801.8 L367.4,801.4 L367.9,801.0 L368.4,800.6 L369.0,800.1 L369.5,799.6 L370.0,799.0 L370.5,798.4 L371.1,797.8 L371.6,797.2 L372.1,796.5 L372.7,795.8 L373.2,795.1 L373.8,794.3 L374.3,793.5 L374.9,792.7 L375.4,791.9 L375.9,791.1 L376.4,790.2 L376.9,789.4 L377.4,788.6 L377.9,787.8 L378.3,787.0 L378.7,786.3 L379.1,785.5 L379.5,784.7 L379.9,783.9 L380.2,783.1 L380.6,782.3 L381.0,781.5 L381.4,780.7 L381.8,779.8 L382.2,778.9 L382.5,778.1 L382.9,777.2 L383.3,776.3 L383.7,775.4 L384.1,774.4 L384.5,773.5 L384.9,772.5 L385.3,771.4 L385.8,770.3 L386.3,769.2 L386.8,768.1 L387.4,766.9 L387.9,765.7 L388.5,764.5 L389.0,763.3 L389.6,762.0 L390.1,760.8 L390.6,759.5 L391.2,758.3 L391.7,757.0 L392.2,755.7 L392.7,754.3 L393.3,753.0 L393.8,751.7 L394.3,750.3 L394.9,749.0 L395.4,747.6 L395.9,746.3 L396.4,745.0 L397.0,743.6 L397.5,742.2 L398.0,740.8 L398.6,739.5 L399.1,738.1 L399.6,736.8 L400.1,735.5 L400.7,734.3 L401.2,733.1 L401.7,732.0 L402.2,731.0 L402.7,729.9 L403.2,729.0 L403.7,728.1 L404.2,727.2 L404.7,726.3 L405.3,725.5 L405.9,724.6 L406.5,723.8 L407.2,723.1 L407.9,722.3 L408.7,721.6 L409.5,720.9 L410.3,720.2 L411.1,719.5 L412.0,718.9 L412.8,718.3 L413.6,717.8 L414.4,717.2 L415.2,716.8 L416.0,716.3 L416.8,715.9 L417.6,715.6 L418.5,715.2 L419.3,714.9 L420.1,714.6 L420.8,714.4 L421.6,714.1 L422.3,713.9 L423.1,713.8 L423.8,713.6 L424.5,713.5 L425.2,713.4 L425.8,713.4 L426.5,713.3 L427.1,713.3 L427.7,713.3 L428.4,713.3 L428.9,713.3 L429.5,713.3 L430.1,713.3 L430.7,713.3 L431.3,713.3 L431.9,713.4 L432.4,713.4 L432.9,713.5 L433.3,713.5 L433.7,713.5 L434.0,713.5"/>
<path d="M352.3,800.5 L352.6,800.0 L353.0,799.4 L353.5,798.7 L354.0,797.9 L354.6,797.0 L355.2,796.1 L355.8,795.2 L356.5,794.3 L357.0,793.4 L357.6,792.6 L358.1,791.8 L358.7,790.9 L359.2,790.1 L359.7,789.3 L360.2,788.5 L360.8,787.7 L361.3,786.9 L361.8,786.1 L362.4,785.3 L362.9,784.6 L363.4,783.9 L364.0,783.2 L364.5,782.6 L365.1,781.9 L365.6,781.3 L366.2,780.7 L366.7,780.1 L367.2,779.6 L367.7,779.1 L368.2,778.7 L368.6,778.3 L369.0,778.0 L369.4,777.7 L369.8,777.4 L370.2,777.2 L370.5,777.1 L370.9,776.9 L371.3,776.8 L371.7,776.7 L372.1,776.7 L372.6,776.7 L373.1,776.7 L373.6,776.8 L374.2,776.9 L374.7,777.1 L375.2,777.2 L375.8,777.4 L376.3,777.6 L376.9,777.8 L377.4,778.0 L377.9,778.2 L378.4,778.5 L378.9,778.7 L379.4,779.0 L379.9,779.3 L380.4,779.5 L380.9,779.8 L381.5,780.1 L382.1,780.4 L382.7,780.7 L383.4,780.9 L384.1,781.2 L384.9,781.5 L385.7,781.7 L386.5,782.0 L387.3,782.2 L388.2,782.5 L389.0,782.8 L389.8,783.0 L390.6,783.3 L391.4,783.6 L392.2,783.8 L393.0,784.1 L393.8,784.4 L394.6,784.7 L395.4,784.9 L396.2,785.2 L397.0,785.5 L397.8,785.7 L398.6,785.9 L399.3,786.2 L400.1,786.4 L400.9,786.6 L401.6,786.8 L402.4,787.0 L403.1,787.2 L403.9,787.4 L404.7,787.6 L405.6,787.8 L406.5,787.9 L407.4,788.1 L408.4,788.3 L409.5,788.4 L410.5,788.6 L411.6,788.7 L412.7,788.8 L413.8,789.0 L414.9,789.1 L416.0,789.2 L417.1,789.2 L418.1,789.3 L419.2,789.3 L420.4,789.4 L421.5,789.4 L422.6,789.3 L423.7,789.3 L424.8,789.3 L425.8,789.3 L426.7,789.3 L427.6,789.2 L428.5,789.2 L429.3,789.2 L430.0,789.2 L430.8,789.2 L431.5,789.1 L432.1,789.1 L432.7,789.1 L433.2,789.0 L433.6,789.0 L434.0,789.0"/>
<path d="M324.5,764.6 L324.6,764.6 L325.2,764.2 L325.8,763.9 L326.4,763.6 L327.0,763.4 L327.6,763.1 L328.3,762.9 L329.0,762.7 L329.7,762.5 L330.4,762.3 L331.2,762.2 L332.0,762.0 L332.8,761.9 L333.7,761.8 L334.6,761.7 L335.6,761.7 L336.5,761.6 L337.5,761.6 L338.4,761.6 L339.4,761.5 L340.4,761.5 L341.4,761.5 L342.5,761.5 L343.5,761.4 L344.6,761.4 L345.7,761.4 L346.8,761.4 L347.9,761.4 L348.9,761.5 L350.0,761.5 L351.0,761.5 L352.0,761.5 L353.0,761.6 L354.0,761.7 L355.0,761.8 L355.9,761.8 L356.9,761.9 L357.8,762.0 L358.7,762.1 L359.5,762.1 L360.2,762.2 L360.9,762.2 L361.6,762.2 L362.2,762.3 L362.7,762.3 L363.2,762.4 L363.7,762.4 L364.2,762.4 L364.6,762.3 L365.1,762.3 L365.5,762.2 L366.0,762.0 L366.4,761.9 L366.8,761.7 L367.1,761.6 L367.5,761.3 L367.9,761.1 L368.2,760.8 L368.6,760.4 L369.0,760.0 L369.5,759.5 L370.0,759.0 L370.5,758.3 L371.0,757.6 L371.5,756.9 L372.1,756.1 L372.6,755.2 L373.1,754.3 L373.7,753.4 L374.2,752.5 L374.8,751.6 L375.3,750.7 L375.8,749.7 L376.4,748.7 L376.9,747.6 L377.4,746.6 L377.9,745.5 L378.5,744.4 L379.0,743.3 L379.5,742.1 L380.1,741.0 L380.6,739.9 L381.1,738.7 L381.6,737.5 L382.2,736.3 L382.7,735.1 L383.2,733.9 L383.8,732.6 L384.3,731.4 L384.8,730.3 L385.3,729.1 L385.9,728.0 L386.4,726.9 L386.9,725.8 L387.4,724.7 L387.9,723.7 L388.4,722.6 L388.9,721.6 L389.5,720.6 L390.0,719.6 L390.6,718.6 L391.2,717.6 L391.8,716.6 L392.5,715.6 L393.1,714.6 L393.8,713.7 L394.4,712.7 L395.1,711.8 L395.8,710.9 L396.5,710.1 L397.2,709.3 L398.0,708.6 L398.7,707.8 L399.5,707.2 L400.2,706.5 L401.0,705.9 L401.8,705.3 L402.6,704.7 L403.5,704.2 L404.3,703.8 L405.2,703.4 L406.0,703.0 L406.9,702.7 L407.8,702.5 L408.8,702.3 L409.7,702.1 L410.7,702.0 L411.6,701.9 L412.5,701.8 L413.5,701.7 L414.4,701.7 L415.3,701.6 L416.2,701.6 L417.2,701.6 L418.1,701.6 L419.0,701.7 L419.9,701.7 L420.8,701.8 L421.7,701.9 L422.7,702.0 L423.7,702.0 L424.7,702.1 L425.8,702.3 L427.0,702.4 L428.2,702.6 L429.4,702.7 L430.5,702.9 L431.6,703.0 L432.5,703.2 L433.3,703.3 L434.0,703.4"/>
<path d="M369.5,759.5 L369.9,759.1 L370.4,758.6 L371.0,758.0 L371.7,757.4 L372.4,756.6 L373.1,755.9 L373.9,755.1 L374.7,754.3 L375.4,753.6 L376.1,752.9 L376.8,752.3 L377.4,751.6 L378.1,750.9 L378.7,750.3 L379.4,749.6 L380.1,749.0 L380.7,748.3 L381.4,747.6 L382.0,747.0 L382.7,746.3 L383.4,745.7 L384.0,745.0 L384.7,744.4 L385.3,743.7 L386.0,743.1 L386.7,742.4 L387.3,741.8 L388.0,741.1 L388.6,740.4 L389.3,739.7 L390.0,739.0 L390.7,738.2 L391.3,737.4 L392.0,736.6 L392.7,735.7 L393.4,734.9 L394.0,734.1 L394.7,733.3 L395.3,732.5 L395.9,731.8 L396.5,731.1 L397.1,730.4 L397.6,729.8 L398.1,729.2 L398.6,728.6 L399.2,728.0 L399.7,727.4 L400.2,726.7 L400.7,726.0 L401.2,725.2 L401.7,724.3 L402.3,723.3 L402.8,722.3 L403.3,721.2 L403.8,720.1 L404.4,719.0 L404.9,717.9 L405.4,716.8 L406.0,715.7 L406.5,714.6 L407.0,713.5 L407.5,712.5 L408.1,711.4 L408.6,710.4 L409.1,709.3 L409.7,708.3 L410.2,707.2 L410.7,706.1 L411.2,705.1 L411.8,704.0 L412.3,703.0 L412.8,701.9 L413.4,700.8 L413.9,699.7 L414.4,698.7 L414.9,697.6 L415.5,696.5 L416.0,695.5 L416.5,694.5 L417.1,693.5 L417.6,692.5 L418.1,691.5 L418.6,690.5 L419.2,689.5 L419.7,688.6 L420.2,687.7 L420.8,686.8 L421.3,685.9 L421.8,685.0 L422.3,684.2 L422.9,683.4 L423.4,682.7 L423.9,682.0 L424.4,681.3 L424.9,680.6 L425.4,680.0 L426.0,679.4 L426.5,678.8 L427.1,678.2 L427.6,677.6 L428.2,677.0 L428.9,676.5 L429.6,675.9 L430.4,675.4 L431.1,674.9 L431.8,674.4 L432.5,674.0 L433.1,673.6 L433.6,673.2 L434.0,673.0"/>
<path d="M324.5,741.8 L325.2,741.4 L325.9,740.9 L326.6,740.4 L327.4,739.9 L328.2,739.4 L329.0,738.8 L329.9,738.2 L330.7,737.6 L331.5,737.1 L332.3,736.7 L333.1,736.2 L333.8,735.7 L334.5,735.3 L335.2,734.9 L335.9,734.5 L336.5,734.1 L337.1,733.7 L337.8,733.3 L338.4,732.9 L339.0,732.5 L339.7,732.1 L340.4,731.8 L341.2,731.4 L342.0,731.0 L342.8,730.7 L343.6,730.3 L344.5,729.9 L345.3,729.6 L346.1,729.2 L346.9,729.0 L347.7,728.7 L348.4,728.5 L349.0,728.3 L349.6,728.2 L350.2,728.1 L350.7,728.0 L351.2,727.9 L351.7,727.9 L352.2,727.9 L352.7,727.8 L353.2,727.8 L353.6,727.8 L354.1,727.8 L354.5,727.8 L354.8,727.9 L355.2,728.0 L355.5,728.0 L355.9,728.1 L356.3,728.2 L356.7,728.2 L357.1,728.1 L357.6,728.1 L358.2,728.0 L358.8,727.8 L359.4,727.7 L360.1,727.5 L360.8,727.3 L361.5,727.1 L362.2,726.9 L362.9,726.6 L363.6,726.2 L364.2,725.8 L364.8,725.4 L365.3,724.9 L365.9,724.4 L366.4,723.9 L366.9,723.3 L367.4,722.7 L367.9,722.0 L368.5,721.3 L369.0,720.6 L369.5,719.9 L370.0,719.1 L370.5,718.2 L371.1,717.4 L371.6,716.4 L372.1,715.5 L372.7,714.5 L373.2,713.5 L373.7,712.5 L374.2,711.6 L374.8,710.6 L375.3,709.7 L375.9,708.8 L376.4,707.8 L377.0,706.9 L377.5,705.9 L378.0,705.0 L378.6,704.1 L379.1,703.2 L379.6,702.3 L380.1,701.4 L380.5,700.5 L380.9,699.7 L381.3,699.0 L381.7,698.2 L382.1,697.4 L382.5,696.7 L382.9,695.9 L383.3,695.1 L383.6,694.3 L384.0,693.5 L384.4,692.6 L384.8,691.7 L385.2,690.7 L385.5,689.8 L385.9,688.8 L386.3,687.9 L386.7,686.9 L387.1,686.0 L387.5,685.1 L388.0,684.2 L388.5,683.4 L389.0,682.5 L389.5,681.7 L390.1,680.8 L390.6,680.0 L391.2,679.2 L391.7,678.4 L392.3,677.7 L392.8,677.0 L393.3,676.3 L393.7,675.6 L394.2,675.0 L394.7,674.3 L395.1,673.7 L395.6,673.1 L396.0,672.6 L396.4,672.1 L396.7,671.7 L397.0,671.3 L397.2,671.0"/>
<path d="M353.6,727.2 L353.9,726.6 L354.2,726.0 L354.5,725.3 L354.9,724.4 L355.3,723.5 L355.7,722.6 L356.2,721.6 L356.7,720.5 L357.1,719.5 L357.6,718.6 L358.1,717.6 L358.6,716.6 L359.1,715.5 L359.6,714.5 L360.2,713.4 L360.7,712.3 L361.3,711.2 L361.8,710.1 L362.4,709.1 L362.9,708.0 L363.4,706.9 L363.9,705.8 L364.5,704.7 L365.0,703.6 L365.5,702.5 L366.1,701.4 L366.6,700.3 L367.1,699.3 L367.6,698.3 L368.2,697.4 L368.7,696.6 L369.2,695.8 L369.8,695.0 L370.3,694.3 L370.9,693.6 L371.4,693.0 L372.0,692.4 L372.5,691.8 L373.0,691.3 L373.5,690.8 L373.9,690.4 L374.3,690.0 L374.7,689.6 L375.1,689.3 L375.4,689.0 L375.8,688.8 L376.2,688.6 L376.6,688.4 L377.0,688.3 L377.4,688.2 L377.9,688.1 L378.4,688.2 L378.9,688.3 L379.4,688.4 L380.0,688.6 L380.5,688.8 L381.1,689.0 L381.6,689.2 L382.2,689.3 L382.7,689.5 L383.2,689.6 L383.7,689.8 L384.2,689.9 L384.7,690.0 L385.2,690.2 L385.7,690.3 L386.2,690.4 L386.8,690.6 L387.4,690.7 L388.0,690.8 L388.7,690.9 L389.4,691.1 L390.1,691.2 L390.8,691.3 L391.6,691.4 L392.4,691.6 L393.3,691.7 L394.1,691.8 L395.0,692.0 L395.9,692.1 L396.9,692.3 L397.9,692.5 L398.9,692.7 L400.0,692.9 L401.0,693.2 L402.1,693.4 L403.2,693.6 L404.3,693.8 L405.4,694.0 L406.5,694.1 L407.5,694.2 L408.6,694.3 L409.7,694.4 L410.7,694.5 L411.8,694.6 L412.8,694.6 L413.9,694.7 L414.9,694.7 L416.0,694.7 L417.1,694.8 L418.1,694.8 L419.2,694.9 L420.4,694.9 L421.5,694.9 L422.6,694.9 L423.7,695.0 L424.8,695.0 L425.8,695.0 L426.7,695.0 L427.6,695.0 L428.5,695.1 L429.3,695.1 L430.0,695.1 L430.8,695.1 L431.5,695.1 L432.1,695.1 L432.7,695.2 L433.2,695.2 L433.6,695.2 L434.0,695.2"/>
<path d="M324.5,695.4 L324.6,695.2 L325.1,694.4 L325.6,693.5 L326.2,692.7 L326.7,691.8 L327.2,690.9 L327.7,690.1 L328.3,689.2 L328.8,688.4 L329.3,687.6 L329.9,686.9 L330.4,686.1 L330.9,685.3 L331.4,684.5 L332.0,683.7 L332.5,682.9 L333.0,682.1 L333.6,681.3 L334.1,680.5 L334.6,679.7 L335.1,678.9 L335.7,678.1 L336.3,677.2 L336.9,676.3 L337.5,675.4 L338.1,674.5 L338.7,673.6 L339.2,672.8 L339.7,672.1 L340.1,671.5 L340.4,671.0"/>
<path d="M345.7,671.0 L346.2,671.2 L346.8,671.4 L347.5,671.6 L348.4,671.9 L349.3,672.2 L350.2,672.6 L351.1,672.9 L352.0,673.2 L352.9,673.4 L353.6,673.6 L354.4,673.8 L355.0,674.0 L355.7,674.1 L356.4,674.2 L357.0,674.3 L357.7,674.5 L358.3,674.6 L358.9,674.7 L359.6,674.8 L360.2,675.0 L360.9,675.1 L361.6,675.3 L362.3,675.6 L362.9,675.8 L363.6,676.0 L364.3,676.3 L365.0,676.5 L365.6,676.7 L366.2,676.8 L366.8,676.9 L367.4,677.0 L368.0,677.1 L368.5,677.2 L369.1,677.2 L369.6,677.3 L370.1,677.3 L370.6,677.3 L371.1,677.2 L371.6,677.1 L372.1,676.9 L372.7,676.7 L373.2,676.5 L373.8,676.2 L374.4,675.8 L374.9,675.5 L375.5,675.1 L376.0,674.7 L376.5,674.3 L377.0,674.0 L377.4,673.6 L377.8,673.3 L378.2,673.0 L378.5,672.7 L378.8,672.4 L379.1,672.1 L379.3,671.8 L379.5,671.6 L379.7,671.3 L379.9,671.2 L380.1,671.0"/>
<path d="M110.0,919.8 L110.7,919.9 L111.7,920.0 L112.8,920.1 L114.1,920.2 L115.4,920.3 L116.9,920.5 L118.3,920.6 L119.7,920.8 L121.1,920.9 L122.4,921.1 L123.7,921.2 L124.9,921.3 L126.2,921.5 L127.4,921.6 L128.6,921.8 L129.9,922.0 L131.1,922.1 L132.4,922.3 L133.6,922.4 L134.8,922.5 L136.1,922.7 L137.3,922.8 L138.6,923.0 L139.8,923.1 L141.1,923.3 L142.3,923.4 L143.5,923.6 L144.8,923.7 L146.0,923.7 L147.3,923.8 L148.5,923.8 L149.8,923.8 L151.2,923.8 L152.5,923.8 L153.8,923.8 L155.1,923.7 L156.3,923.6 L157.5,923.5 L158.7,923.4 L159.7,923.3 L160.6,923.1 L161.5,923.0 L162.3,922.8 L163.0,922.6 L163.7,922.4 L164.4,922.1 L165.1,921.9 L165.7,921.6 L166.4,921.4 L167.1,921.1 L167.9,920.7 L168.6,920.4 L169.4,920.0 L170.1,919.6 L170.9,919.2 L171.6,918.8 L172.4,918.4 L173.1,918.0 L173.9,917.7 L174.6,917.3 L175.3,917.0 L176.1,916.7 L176.8,916.4 L177.6,916.2 L178.3,915.9 L179.1,915.7 L179.8,915.4 L180.6,915.2 L181.3,915.0 L182.1,914.8 L182.8,914.7 L183.5,914.5 L184.2,914.4 L184.9,914.3 L185.6,914.1 L186.3,914.1 L187.1,914.0 L187.9,913.9 L188.7,913.9 L189.5,913.9 L190.4,913.9 L191.3,913.9 L192.3,913.9 L193.3,914.0 L194.3,914.1 L195.4,914.2 L196.4,914.3 L197.4,914.4 L198.4,914.5 L199.4,914.6 L200.4,914.7 L201.4,914.8 L202.4,915.0 L203.3,915.1 L204.3,915.2 L205.2,915.4 L206.2,915.5 L207.2,915.7 L208.3,915.9 L209.4,916.1 L210.6,916.3 L211.8,916.5 L213.1,916.8 L214.4,917.0 L215.8,917.3 L217.1,917.5 L218.4,917.8 L219.6,918.1 L220.8,918.3 L221.8,918.6 L222.8,918.8 L223.6,919.1 L224.4,919.3 L225.1,919.6 L225.8,919.9 L226.5,920.1 L227.2,920.4 L227.9,920.6 L228.5,920.8 L229.3,921.1 L230.0,921.3 L230.8,921.5 L231.5,921.7 L232.2,921.9 L233.0,922.1 L233.7,922.3 L234.5,922.4 L235.2,922.6 L236.0,922.8 L236.7,922.9 L237.5,923.1 L238.2,923.2 L239.0,923.4 L239.7,923.5 L240.4,923.6 L241.2,923.8 L241.9,923.9 L242.7,924.0 L243.4,924.1 L244.2,924.2 L244.9,924.2 L245.7,924.3 L246.4,924.4 L247.2,924.4 L247.9,924.5 L248.6,924.5 L249.4,924.6 L250.1,924.6 L250.9,924.6 L251.6,924.5 L252.4,924.5 L253.1,924.5 L253.9,924.4 L254.7,924.4 L255.4,924.3 L256.2,924.2 L256.9,924.1 L257.7,923.9 L258.4,923.8 L259.1,923.5 L259.7,923.3 L260.4,923.0 L261.0,922.7 L261.6,922.3 L262.2,922.0 L262.8,921.6 L263.4,921.2 L264.0,920.7 L264.7,920.3 L265.3,919.8 L266.0,919.3 L266.7,918.7 L267.5,918.1 L268.3,917.4 L269.0,916.7 L269.8,916.0 L270.5,915.4 L271.1,914.8 L271.6,914.3 L272.0,913.9"/>
<path d="M110.0,981.3 L110.4,981.1 L111.0,980.9 L111.7,980.7 L112.4,980.4 L113.3,980.1 L114.1,979.7 L115.0,979.4 L115.8,979.0 L116.7,978.6 L117.5,978.2 L118.2,977.8 L119.0,977.4 L119.7,976.9 L120.5,976.4 L121.3,975.9 L122.0,975.4 L122.8,974.9 L123.5,974.3 L124.2,973.8 L124.9,973.2 L125.6,972.7 L126.2,972.1 L126.9,971.5 L127.5,970.9 L128.1,970.3 L128.7,969.7 L129.3,969.0 L129.9,968.4 L130.5,967.7 L131.1,967.0 L131.7,966.3 L132.4,965.6 L133.0,964.9 L133.6,964.1 L134.2,963.4 L134.8,962.6 L135.5,961.8 L136.1,961.1 L136.7,960.3 L137.3,959.6 L138.0,958.8 L138.6,958.1 L139.2,957.3 L139.8,956.6 L140.4,955.8 L141.1,955.1 L141.7,954.4 L142.3,953.6 L142.9,952.9 L143.5,952.1 L144.2,951.4 L144.8,950.6 L145.4,949.9 L146.0,949.1 L146.6,948.4 L147.2,947.6 L147.8,946.9 L148.4,946.2 L149.1,945.4 L149.8,944.7 L150.4,943.9 L151.2,943.2 L151.9,942.4 L152.6,941.7 L153.4,940.9 L154.2,940.2 L154.9,939.4 L155.7,938.7 L156.5,938.0 L157.2,937.2 L158.0,936.5 L158.7,935.7 L159.4,934.9 L160.2,934.2 L160.9,933.4 L161.7,932.6 L162.4,931.9 L163.2,931.2 L163.9,930.4 L164.7,929.8 L165.4,929.1 L166.2,928.4 L166.9,927.8 L167.7,927.2 L168.5,926.5 L169.2,925.9 L170.0,925.3 L170.7,924.7 L171.4,924.1 L172.1,923.5 L172.8,922.9 L173.4,922.3 L174.1,921.7 L174.7,921.1 L175.3,920.6 L175.9,920.0 L176.5,919.4 L177.1,918.9 L177.7,918.4 L178.3,918.0 L179.0,917.5 L179.7,917.1 L180.4,916.7 L181.1,916.4 L181.8,916.1 L182.5,915.7 L183.1,915.5 L183.7,915.2 L184.2,915.0 L184.5,914.8"/>
<path d="M110.0,967.6 L110.4,967.6 L111.0,967.6 L111.7,967.5 L112.4,967.5 L113.3,967.5 L114.1,967.4 L115.0,967.3 L115.8,967.2 L116.7,967.1 L117.5,967.0 L118.2,966.9 L118.9,966.7 L119.7,966.6 L120.4,966.4 L121.2,966.2 L121.9,966.0 L122.7,965.8 L123.4,965.6 L124.2,965.4 L124.9,965.2 L125.7,964.9 L126.4,964.7 L127.2,964.4 L128.0,964.1 L128.8,963.9 L129.6,963.6 L130.3,963.3 L131.0,963.1 L131.7,962.9 L132.4,962.7 L132.9,962.5 L133.5,962.5 L134.0,962.4 L134.4,962.4 L134.8,962.4 L135.3,962.4 L135.7,962.3 L136.2,962.2 L136.7,962.0 L137.3,961.8 L138.0,961.5 L138.7,961.2 L139.4,960.8 L140.2,960.4 L141.0,959.9 L141.8,959.4 L142.6,958.9 L143.3,958.3 L144.1,957.7 L144.8,957.1 L145.5,956.4 L146.1,955.6 L146.7,954.7 L147.4,953.8 L148.0,952.9 L148.6,952.0 L149.2,951.0 L149.8,950.1 L150.4,949.2 L151.0,948.4 L151.6,947.6 L152.2,946.8 L152.9,946.0 L153.5,945.2 L154.1,944.4 L154.7,943.7 L155.3,943.0 L156.0,942.2 L156.6,941.6 L157.2,940.9 L157.8,940.3 L158.5,939.7 L159.1,939.2 L159.7,938.6 L160.3,938.1 L160.9,937.6 L161.6,937.2 L162.2,936.7 L162.8,936.3 L163.4,936.0 L164.0,935.6 L164.7,935.3 L165.3,935.0 L166.0,934.8 L166.6,934.5 L167.2,934.3 L167.9,934.2 L168.5,934.1 L169.1,934.1 L169.6,934.1 L170.2,934.2 L170.7,934.3 L171.2,934.5 L171.6,934.8 L172.1,935.1 L172.6,935.4 L173.1,935.8 L173.5,936.2 L174.1,936.7 L174.6,937.2 L175.2,937.8 L175.8,938.4 L176.4,939.1 L177.1,939.8 L177.7,940.6 L178.4,941.4 L179.0,942.2 L179.6,943.0 L180.2,943.8 L180.8,944.7 L181.4,945.5 L181.9,946.4 L182.4,947.3 L182.9,948.2 L183.5,949.1 L183.9,950.0 L184.4,950.9 L184.9,951.8 L185.3,952.6 L185.8,953.4 L186.2,954.1 L186.5,954.9 L186.9,955.6 L187.2,956.4 L187.5,957.0 L187.8,957.7 L188.2,958.3 L188.5,958.8 L189.0,959.2 L189.5,959.6 L190.1,959.8 L190.7,959.9 L191.4,960.0 L192.1,959.9 L192.8,959.8 L193.6,959.7 L194.4,959.5 L195.3,959.3 L196.1,959.1 L197.0,958.9 L197.9,958.8 L198.8,958.5 L199.8,958.3 L200.8,958.0 L201.8,957.7 L202.8,957.4 L203.8,957.1 L204.9,956.7 L205.9,956.3 L206.9,955.8 L207.9,955.4 L208.9,954.8 L210.0,954.2 L211.0,953.6 L212.0,953.0 L213.0,952.4 L214.0,951.7 L215.0,951.0 L215.9,950.3 L216.8,949.6 L217.7,948.9 L218.5,948.2 L219.3,947.5 L220.1,946.7 L220.8,946.0 L221.5,945.2 L222.2,944.5 L222.9,943.7 L223.6,942.9 L224.3,942.2 L225.0,941.4 L225.6,940.7 L226.3,939.9 L226.9,939.2 L227.6,938.5 L228.2,937.7 L228.8,937.0 L229.4,936.2 L229.9,935.5 L230.5,934.7 L231.1,934.0 L231.6,933.2 L232.2,932.4 L232.7,931.6 L233.2,930.8 L233.7,930.0 L234.2,929.2 L234.7,928.5 L235.1,927.9 L235.5,927.3 L235.8,926.8 L236.1,926.3 L236.3,926.0 L236.5,925.6 L236.7,925.3 L236.9,925.0 L237.1,924.7 L237.3,924.4 L237.6,924.0 L238.0,923.5 L238.4,923.0 L238.8,922.5 L239.2,921.9 L239.7,921.2 L240.2,920.6 L240.7,919.9 L241.3,919.3 L241.8,918.6 L242.4,918.0 L242.9,917.3 L243.5,916.7 L244.1,916.1 L244.7,915.4 L245.3,914.8 L245.9,914.1 L246.5,913.5 L247.1,912.8 L247.8,912.2 L248.5,911.7 L249.1,911.1 L249.8,910.6 L250.6,910.1 L251.4,909.5 L252.2,909.0 L252.9,908.6 L253.7,908.1 L254.5,907.7 L255.2,907.3 L255.9,907.0 L256.6,906.8 L257.2,906.6 L257.7,906.4 L258.3,906.4 L258.8,906.3 L259.2,906.3 L259.7,906.3 L260.2,906.4 L260.6,906.5 L261.1,906.6 L261.6,906.8 L262.1,907.0 L262.6,907.2 L263.0,907.5 L263.5,907.8 L264.0,908.1 L264.5,908.4 L265.0,908.8 L265.5,909.2 L266.0,909.5 L266.5,909.9 L267.1,910.2 L267.7,910.6 L268.3,911.1 L268.9,911.5 L269.6,911.9 L270.2,912.4 L270.7,912.7 L271.2,913.1 L271.7,913.4 L272.0,913.6"/>
<path d="M110.0,954.6 L110.4,954.7 L111.0,954.8 L111.7,954.8 L112.4,954.9 L113.3,955.1 L114.1,955.2 L115.0,955.3 L115.8,955.5 L116.7,955.7 L117.5,955.8 L118.2,956.0 L119.0,956.3 L119.7,956.5 L120.5,956.7 L121.3,957.0 L122.0,957.3 L122.8,957.5 L123.5,957.8 L124.2,958.1 L124.9,958.3 L125.6,958.6 L126.2,958.8 L126.9,959.1 L127.5,959.3 L128.1,959.6 L128.7,959.8 L129.3,960.1 L129.9,960.3 L130.5,960.6 L131.1,960.8 L131.7,961.1 L132.3,961.3 L132.9,961.5 L133.5,961.7 L134.1,962.0 L134.8,962.2 L135.4,962.5 L136.0,962.7 L136.7,963.0 L137.3,963.3 L138.0,963.6 L138.7,963.9 L139.5,964.3 L140.2,964.6 L141.0,965.0 L141.7,965.4 L142.5,965.8 L143.3,966.2 L144.0,966.6 L144.8,967.0 L145.5,967.5 L146.3,968.0 L147.0,968.5 L147.8,969.0 L148.5,969.5 L149.3,970.0 L150.0,970.6 L150.7,971.1 L151.5,971.5 L152.2,972.0 L153.0,972.4 L153.7,972.8 L154.5,973.3 L155.2,973.7 L156.0,974.1 L156.7,974.4 L157.5,974.8 L158.2,975.1 L158.9,975.4 L159.7,975.7 L160.4,976.0 L161.2,976.3 L162.0,976.5 L162.7,976.7 L163.5,976.9 L164.3,977.1 L165.0,977.3 L165.7,977.4 L166.5,977.5 L167.1,977.6 L167.8,977.6 L168.5,977.7 L169.1,977.7 L169.7,977.7 L170.3,977.6 L170.9,977.6 L171.5,977.5 L172.1,977.3 L172.7,977.2 L173.4,977.0 L174.0,976.7 L174.6,976.5 L175.2,976.2 L175.8,975.9 L176.5,975.5 L177.1,975.1 L177.7,974.7 L178.3,974.3 L178.9,973.8 L179.6,973.2 L180.2,972.6 L180.9,972.0 L181.5,971.2 L182.2,970.5 L182.8,969.7 L183.5,968.9 L184.1,968.0 L184.7,967.3 L185.3,966.5 L185.8,965.8 L186.3,965.1 L186.7,964.4 L187.2,963.6 L187.6,962.9 L188.0,962.2 L188.4,961.5 L188.7,960.9 L189.0,960.4 L189.3,959.9 L189.5,959.6"/>
<path d="M134.8,962.1 L135.2,961.7 L135.7,961.2 L136.3,960.7 L136.9,960.1 L137.6,959.4 L138.3,958.7 L139.0,958.0 L139.7,957.3 L140.4,956.5 L141.1,955.8 L141.7,955.1 L142.3,954.4 L142.9,953.7 L143.5,952.9 L144.2,952.2 L144.8,951.4 L145.4,950.6 L146.0,949.9 L146.6,949.1 L147.3,948.4 L147.9,947.7 L148.5,947.0 L149.1,946.3 L149.8,945.6 L150.4,944.9 L151.0,944.2 L151.6,943.5 L152.2,942.8 L152.9,942.2 L153.5,941.6 L154.1,940.9 L154.8,940.3 L155.5,939.6 L156.3,939.0 L157.0,938.3 L157.7,937.7 L158.3,937.2 L158.8,936.7 L159.3,936.3 L159.7,936.0"/>
<path d="M149.8,1007.5 L149.9,1007.3 L150.5,1006.4 L151.1,1005.4 L151.8,1004.5 L152.4,1003.5 L153.0,1002.6 L153.6,1001.8 L154.1,1001.0 L154.7,1000.3 L155.3,999.5 L156.0,998.7 L156.6,998.0 L157.2,997.2 L157.8,996.5 L158.5,995.8 L159.1,995.0 L159.7,994.4 L160.3,993.7 L160.9,993.0 L161.6,992.3 L162.2,991.7 L162.8,991.0 L163.4,990.4 L164.0,989.8 L164.7,989.2 L165.3,988.7 L165.9,988.1 L166.5,987.7 L167.1,987.2 L167.7,986.8 L168.3,986.4 L168.9,986.0 L169.5,985.7 L170.2,985.3 L170.8,985.0 L171.4,984.7 L172.1,984.4 L172.8,984.1 L173.5,983.9 L174.3,983.6 L175.1,983.4 L175.8,983.2 L176.6,983.0 L177.4,982.9 L178.1,982.7 L178.9,982.6 L179.6,982.6 L180.3,982.5 L180.9,982.5 L181.6,982.5 L182.3,982.6 L182.9,982.7 L183.5,982.7 L184.1,982.8 L184.7,983.0 L185.3,983.1 L185.8,983.2 L186.2,983.3 L186.6,983.4 L187.0,983.6 L187.3,983.7 L187.6,983.9 L187.9,984.1 L188.2,984.2 L188.6,984.4 L189.0,984.5 L189.5,984.7 L190.1,984.8 L190.7,984.9 L191.4,985.0 L192.1,985.1 L192.8,985.1 L193.6,985.2 L194.4,985.3 L195.3,985.4 L196.1,985.5 L197.0,985.7 L197.9,985.8 L198.8,986.0 L199.8,986.1 L200.8,986.3 L201.8,986.5 L202.8,986.6 L203.8,986.8 L204.9,987.1 L205.9,987.3 L206.9,987.5 L207.9,987.8 L208.9,988.1 L209.9,988.3 L210.9,988.6 L211.9,989.0 L212.9,989.3 L213.9,989.6 L214.9,989.9 L215.8,990.3 L216.8,990.6 L217.8,991.0 L218.9,991.4 L219.9,991.7 L220.9,992.1 L222.0,992.5 L223.0,992.9 L224.0,993.3 L225.0,993.7 L225.9,994.0 L226.8,994.4 L227.6,994.7 L228.5,995.0 L229.3,995.2 L230.1,995.5 L230.9,995.8 L231.6,996.0 L232.3,996.2 L233.0,996.4 L233.6,996.6 L234.2,996.8 L234.7,997.0 L235.2,997.2 L235.5,997.3 L235.9,997.4 L236.2,997.5 L236.5,997.6 L236.8,997.7 L237.1,997.9 L237.5,998.0 L238.0,998.1 L238.5,998.2 L239.0,998.3 L239.6,998.4 L240.3,998.5 L240.9,998.6 L241.6,998.7 L242.2,998.9 L242.9,999.0 L243.5,999.2 L244.2,999.3 L244.8,999.5 L245.4,999.8 L246.0,1000.1 L246.7,1000.5 L247.3,1000.8 L247.9,1001.1 L248.5,1001.4 L249.1,1001.6 L249.8,1001.8 L250.4,1001.8 L251.0,1001.8 L251.6,1001.7 L252.2,1001.5 L252.9,1001.4 L253.5,1001.1 L254.1,1000.8 L254.7,1000.5 L255.4,1000.1 L256.0,999.7 L256.6,999.3 L257.2,998.8 L257.9,998.3 L258.5,997.7 L259.1,997.0 L259.8,996.3 L260.4,995.6 L261.0,994.9 L261.6,994.3 L262.2,993.7 L262.8,993.1 L263.4,992.6 L263.9,992.2 L264.4,991.7 L264.9,991.3 L265.4,990.9 L265.9,990.6 L266.4,990.2 L266.8,989.9 L267.3,989.6 L267.8,989.4 L268.2,989.2 L268.7,989.0 L269.2,988.9 L269.7,988.8 L270.2,988.8 L270.7,988.7 L271.1,988.7 L271.4,988.7 L271.8,988.8 L272.0,988.8"/>
<path d="M164.6,1007.5 L164.7,1007.3 L165.3,1006.4 L166.0,1005.4 L166.6,1004.5 L167.3,1003.5 L167.9,1002.6 L168.5,1001.8 L169.0,1001.0 L169.6,1000.2 L170.3,999.4 L170.9,998.7 L171.5,997.9 L172.1,997.1 L172.7,996.4 L173.4,995.7 L174.0,995.0 L174.6,994.4 L175.2,993.8 L175.8,993.2 L176.5,992.6 L177.1,992.1 L177.7,991.6 L178.3,991.2 L178.9,990.7 L179.6,990.3 L180.2,989.8 L180.8,989.4 L181.5,989.0 L182.1,988.5 L182.8,988.1 L183.5,987.7 L184.2,987.3 L184.8,986.9 L185.4,986.5 L186.0,986.2 L186.6,985.9 L187.0,985.7 L187.4,985.4 L187.8,985.3 L188.1,985.1 L188.4,985.0 L188.7,984.9 L188.9,984.9 L189.1,984.8 L189.2,984.8 L189.4,984.7 L189.5,984.7"/>
<path d="M222.4,1007.5 L222.3,1007.5 L223.0,1006.8 L223.8,1006.1 L224.6,1005.5 L225.3,1004.9 L226.0,1004.3 L226.6,1003.8 L227.1,1003.2 L227.9,1002.7 L228.7,1002.1 L229.5,1001.6 L230.2,1001.1 L231.0,1000.6 L231.7,1000.1 L232.4,999.7 L233.0,999.3 L233.6,999.0 L234.1,998.7 L234.6,998.4 L235.1,998.2 L235.6,998.0 L236.0,997.8 L236.5,997.6 L236.9,997.3 L237.4,997.1 L238.0,996.8 L238.5,996.6 L239.1,996.3 L239.7,996.0 L240.3,995.6 L240.9,995.3 L241.5,995.0 L242.2,994.7 L242.8,994.4 L243.5,994.0 L244.2,993.7 L244.9,993.4 L245.6,993.1 L246.3,992.8 L247.1,992.4 L247.8,992.1 L248.6,991.8 L249.4,991.5 L250.1,991.2 L250.9,990.9 L251.6,990.6 L252.4,990.4 L253.1,990.2 L253.9,989.9 L254.7,989.7 L255.4,989.5 L256.2,989.4 L256.9,989.2 L257.7,989.0 L258.4,988.9 L259.1,988.8 L259.7,988.6 L260.4,988.5 L261.0,988.4 L261.6,988.3 L262.2,988.3 L262.8,988.2 L263.4,988.2 L264.0,988.1 L264.7,988.1 L265.3,988.1 L266.0,988.2 L266.7,988.3 L267.5,988.5 L268.3,988.7 L269.0,989.0 L269.8,989.2 L270.5,989.4 L271.1,989.7 L271.6,989.8 L272.0,990.0"/>
<path d="M272.0,913.9 L272.4,913.6 L273.0,913.1 L273.7,912.6 L274.4,912.0 L275.3,911.3 L276.1,910.7 L277.0,910.0 L277.8,909.5 L278.7,909.0 L279.5,908.6 L280.2,908.3 L280.9,908.1 L281.7,907.9 L282.4,907.8 L283.2,907.6 L283.9,907.5 L284.7,907.5 L285.4,907.4 L286.2,907.4 L286.9,907.4 L287.7,907.4 L288.4,907.5 L289.2,907.5 L289.9,907.7 L290.7,907.8 L291.5,907.9 L292.2,908.1 L293.0,908.3 L293.7,908.4 L294.4,908.6 L295.0,908.8 L295.7,909.1 L296.3,909.4 L296.9,909.7 L297.5,910.0 L298.1,910.3 L298.7,910.6 L299.4,910.8 L300.0,911.0 L300.6,911.1 L301.2,911.2 L301.8,911.2 L302.4,911.2 L302.9,911.2 L303.5,911.2 L304.1,911.1 L304.7,911.0 L305.4,910.8 L306.1,910.7 L306.8,910.5 L307.6,910.3 L308.4,910.0 L309.2,909.8 L310.1,909.5 L311.0,909.1 L311.9,908.8 L312.8,908.4 L313.7,908.1 L314.6,907.7 L315.5,907.4 L316.3,907.0 L317.2,906.7 L318.1,906.3 L318.9,905.9 L319.8,905.5 L320.6,905.1 L321.5,904.8 L322.4,904.4 L323.3,904.0 L324.2,903.7 L325.1,903.3 L326.1,903.0 L327.1,902.6 L328.1,902.3 L329.1,902.0 L330.1,901.7 L331.1,901.4 L332.1,901.1 L333.1,900.8 L334.1,900.6 L335.1,900.3 L336.1,900.1 L337.1,899.9 L338.2,899.8 L339.2,899.6 L340.2,899.4 L341.2,899.3 L342.1,899.2 L343.1,899.1 L344.1,898.9 L345.0,898.8 L345.9,898.8 L346.8,898.7 L347.7,898.6 L348.6,898.6 L349.5,898.5 L350.4,898.5 L351.2,898.5 L352.0,898.5 L352.8,898.4 L353.5,898.4 L354.1,898.5 L354.8,898.5 L355.4,898.5 L355.9,898.5 L356.5,898.6 L357.1,898.6 L357.7,898.7 L358.3,898.8 L359.0,898.9 L359.7,899.1 L360.4,899.2 L361.1,899.4 L361.9,899.6 L362.6,899.8 L363.4,900.0 L364.1,900.3 L364.9,900.5 L365.7,900.8 L366.4,901.2 L367.2,901.6 L367.9,902.0 L368.7,902.5 L369.5,903.0 L370.2,903.5 L371.0,904.0 L371.7,904.6 L372.5,905.1 L373.2,905.6 L373.9,906.2 L374.5,906.6 L375.2,907.1 L375.8,907.6 L376.4,908.1 L377.1,908.6 L377.7,909.0 L378.3,909.5 L378.9,910.0 L379.5,910.6 L380.1,911.1 L380.7,911.7 L381.3,912.3 L382.0,912.9 L382.6,913.6 L383.3,914.2 L383.9,914.9 L384.5,915.5 L385.1,916.1 L385.7,916.8 L386.3,917.3 L386.8,917.9 L387.4,918.4 L387.9,918.9 L388.4,919.4 L388.9,919.9 L389.3,920.4 L389.8,920.8 L390.3,921.3 L390.8,921.8 L391.3,922.3 L391.8,922.8 L392.2,923.2 L392.7,923.7 L393.2,924.1 L393.7,924.6 L394.2,925.0 L394.7,925.5 L395.2,926.0 L395.7,926.6 L396.2,927.3 L396.8,928.0 L397.4,928.8 L398.0,929.6 L398.6,930.5 L399.3,931.5 L399.9,932.4 L400.5,933.3 L401.2,934.2 L401.8,935.1 L402.4,936.0 L403.1,936.8 L403.7,937.5 L404.3,938.3 L404.9,939.1 L405.5,939.8 L406.1,940.5 L406.7,941.3 L407.3,942.0 L408.0,942.7 L408.7,943.4 L409.3,944.1 L410.0,944.9 L410.8,945.6 L411.5,946.3 L412.2,947.1 L413.0,947.8 L413.7,948.5 L414.5,949.1 L415.3,949.7 L416.1,950.3 L416.9,950.8 L417.8,951.2 L418.6,951.7 L419.5,952.1 L420.3,952.5 L421.2,952.8 L422.1,953.1 L423.0,953.4 L423.9,953.7 L424.8,954.0 L425.7,954.2 L426.8,954.4 L427.8,954.6 L428.9,954.7 L429.9,954.8 L431.0,954.9 L431.9,955.0 L432.7,955.1 L433.5,955.2 L434.0,955.2"/>
<path d="M359.0,898.9 L359.1,899.2 L359.2,899.5 L359.4,899.9 L359.6,900.4 L359.8,900.8 L360.1,901.4 L360.4,901.9 L360.7,902.5 L361.0,903.1 L361.4,903.7 L361.9,904.3 L362.5,905.0 L363.0,905.7 L363.7,906.5 L364.3,907.3 L365.0,908.1 L365.7,908.9 L366.4,909.7 L367.0,910.4 L367.7,911.1 L368.3,911.8 L368.9,912.5 L369.5,913.1 L370.1,913.8 L370.8,914.4 L371.4,915.0 L372.0,915.6 L372.6,916.2 L373.2,916.8 L373.9,917.3 L374.5,917.9 L375.1,918.5 L375.7,919.0 L376.3,919.6 L376.9,920.1 L377.5,920.6 L378.1,921.1 L378.8,921.5 L379.4,921.9 L380.1,922.3 L380.8,922.6 L381.5,922.9 L382.2,923.1 L383.0,923.3 L383.7,923.5 L384.5,923.7 L385.3,923.8 L386.0,923.9 L386.8,924.0 L387.5,924.2 L388.3,924.3 L389.0,924.4 L389.7,924.5 L390.5,924.6 L391.2,924.7 L391.9,924.7 L392.7,924.8 L393.4,924.8 L394.2,924.8 L395.0,924.8 L395.8,924.7 L396.6,924.7 L397.5,924.6 L398.3,924.4 L399.2,924.3 L400.1,924.1 L400.9,924.0 L401.8,923.8 L402.8,923.7 L403.7,923.5 L404.6,923.4 L405.6,923.3 L406.6,923.1 L407.6,922.9 L408.6,922.8 L409.6,922.6 L410.6,922.5 L411.6,922.3 L412.6,922.2 L413.6,922.1 L414.6,921.9 L415.6,921.8 L416.6,921.7 L417.6,921.6 L418.6,921.5 L419.6,921.4 L420.5,921.3 L421.5,921.2 L422.6,921.1 L423.6,921.1 L424.6,921.0 L425.8,920.9 L427.0,920.8 L428.2,920.8 L429.4,920.7 L430.6,920.6 L431.6,920.6 L432.6,920.5 L433.4,920.5 L434.0,920.4"/>
<path d="M272.0,913.6 L272.4,913.8 L273.0,914.0 L273.7,914.2 L274.4,914.5 L275.3,914.8 L276.1,915.1 L277.0,915.4 L277.8,915.7 L278.7,915.9 L279.5,916.1 L280.2,916.2 L280.9,916.4 L281.7,916.5 L282.4,916.5 L283.2,916.6 L283.9,916.6 L284.7,916.7 L285.4,916.7 L286.2,916.7 L286.9,916.7 L287.7,916.7 L288.4,916.7 L289.2,916.6 L289.9,916.5 L290.7,916.4 L291.5,916.4 L292.2,916.3 L293.0,916.2 L293.7,916.1 L294.4,916.1 L295.0,916.0 L295.7,916.0 L296.3,915.9 L296.9,915.8 L297.5,915.7 L298.1,915.7 L298.7,915.7 L299.4,915.8 L300.0,915.9 L300.6,916.1 L301.2,916.4 L301.8,916.7 L302.4,917.2 L303.0,917.7 L303.6,918.2 L304.2,918.7 L304.8,919.3 L305.5,919.9 L306.1,920.5 L306.8,921.1 L307.5,921.6 L308.2,922.2 L308.9,922.9 L309.7,923.5 L310.4,924.1 L311.2,924.8 L312.0,925.4 L312.7,926.0 L313.5,926.7 L314.2,927.3 L315.0,927.9 L315.7,928.5 L316.4,929.1 L317.2,929.6 L317.9,930.2 L318.6,930.8 L319.4,931.3 L320.1,931.9 L320.9,932.4 L321.7,932.9 L322.5,933.3 L323.4,933.7 L324.2,934.2 L325.1,934.5 L326.0,934.9 L326.9,935.3 L327.7,935.6 L328.6,936.0 L329.5,936.3 L330.4,936.6 L331.3,936.9 L332.1,937.2 L333.0,937.5 L333.9,937.7 L334.8,938.0 L335.7,938.2 L336.6,938.5 L337.4,938.7 L338.3,938.9 L339.1,939.1 L339.9,939.3 L340.7,939.4 L341.5,939.6 L342.2,939.7 L343.0,939.8 L343.7,940.0 L344.4,940.1 L345.1,940.2 L345.9,940.2 L346.5,940.3 L347.2,940.4 L347.9,940.4 L348.5,940.3 L349.1,940.3 L349.7,940.3 L350.3,940.2 L350.9,940.2 L351.5,940.2 L352.1,940.2 L352.8,940.3 L353.4,940.4 L354.0,940.5 L354.6,940.6 L355.2,940.7 L355.9,940.9 L356.5,941.0 L357.1,941.2 L357.7,941.5 L358.3,941.8 L359.0,942.2 L359.6,942.6 L360.2,943.2 L360.8,943.8 L361.4,944.4 L362.1,945.1 L362.7,945.8 L363.3,946.5 L363.9,947.2 L364.6,947.8 L365.2,948.4 L365.8,948.9 L366.4,949.4 L367.0,949.9 L367.6,950.4 L368.2,950.9 L368.8,951.3 L369.4,951.8 L370.1,952.3 L370.7,952.8 L371.4,953.4 L372.1,953.9 L372.8,954.5 L373.5,955.1 L374.3,955.8 L375.0,956.4 L375.8,957.0 L376.6,957.7 L377.3,958.3 L378.1,958.9 L378.8,959.6 L379.6,960.2 L380.4,960.8 L381.1,961.5 L381.9,962.1 L382.6,962.8 L383.4,963.4 L384.1,964.1 L384.9,964.7 L385.6,965.2 L386.3,965.8 L387.0,966.3 L387.6,966.8 L388.2,967.3 L388.9,967.7 L389.5,968.2 L390.1,968.6 L390.7,969.0 L391.3,969.4 L391.9,969.8 L392.5,970.1 L393.1,970.5 L393.8,970.8 L394.4,971.2 L395.1,971.5 L395.7,971.8 L396.3,972.1 L396.9,972.4 L397.6,972.7 L398.1,973.0 L398.7,973.2 L399.3,973.5 L399.8,973.8 L400.3,974.1 L400.7,974.3 L401.2,974.6 L401.7,974.8 L402.1,975.1 L402.6,975.3 L403.1,975.5 L403.7,975.7 L404.2,975.9 L404.8,976.1 L405.4,976.2 L406.0,976.3 L406.6,976.5 L407.2,976.6 L407.8,976.7 L408.5,976.8 L409.2,976.9 L409.9,977.0 L410.7,977.1 L411.5,977.1 L412.3,977.2 L413.2,977.3 L414.1,977.3 L415.0,977.4 L415.9,977.4 L416.8,977.5 L417.7,977.5 L418.6,977.6 L419.5,977.6 L420.4,977.7 L421.3,977.8 L422.2,977.9 L423.1,977.9 L424.0,978.0 L424.8,978.1 L425.7,978.1 L426.5,978.2 L427.3,978.2 L428.1,978.2 L428.9,978.2 L429.7,978.3 L430.4,978.3 L431.2,978.2 L431.9,978.2 L432.5,978.2 L433.1,978.2 L433.6,978.2 L434.0,978.2"/>
<path d="M352.8,940.3 L353.0,940.0 L353.2,939.7 L353.6,939.3 L353.9,938.8 L354.3,938.3 L354.7,937.8 L355.2,937.3 L355.6,936.8 L356.0,936.3 L356.5,936.0 L356.9,935.6 L357.4,935.3 L357.9,935.0 L358.4,934.7 L358.9,934.5 L359.4,934.2 L359.9,934.0 L360.4,933.8 L360.9,933.6 L361.4,933.5 L361.9,933.4 L362.4,933.3 L362.9,933.2 L363.4,933.2 L363.9,933.1 L364.4,933.1 L364.9,933.2 L365.4,933.2 L365.9,933.3 L366.4,933.5 L366.9,933.6 L367.4,933.8 L367.9,934.1 L368.4,934.3 L368.9,934.6 L369.4,934.9 L369.9,935.3 L370.4,935.7 L370.9,936.1 L371.4,936.6 L371.9,937.1 L372.4,937.7 L372.9,938.3 L373.4,939.0 L373.9,939.7 L374.4,940.4 L374.9,941.1 L375.4,941.9 L375.9,942.6 L376.4,943.4 L376.9,944.2 L377.3,945.0 L377.8,945.9 L378.3,946.8 L378.8,947.7 L379.3,948.5 L379.8,949.4 L380.3,950.3 L380.8,951.2 L381.3,952.1 L381.8,953.0 L382.3,953.9 L382.8,954.8 L383.3,955.7 L383.8,956.5 L384.3,957.4 L384.8,958.3 L385.3,959.2 L385.8,960.0 L386.3,960.8 L386.8,961.6 L387.3,962.4 L387.8,963.2 L388.3,964.0 L388.8,964.8 L389.3,965.5 L389.8,966.3 L390.3,967.0 L390.8,967.6 L391.3,968.3 L391.8,968.9 L392.3,969.5 L392.8,970.1 L393.3,970.6 L393.7,971.1 L394.2,971.6 L394.7,972.1 L395.2,972.5 L395.7,972.9 L396.2,973.2 L396.7,973.5 L397.2,973.8 L397.6,974.0 L398.1,974.2 L398.6,974.3 L399.0,974.4 L399.5,974.5 L400.0,974.5 L400.6,974.5 L401.2,974.5 L401.8,974.4 L402.5,974.2 L403.2,974.0 L403.9,973.8 L404.6,973.5 L405.4,973.2 L406.2,972.9 L407.0,972.6 L407.8,972.3 L408.7,972.0 L409.6,971.7 L410.5,971.5 L411.5,971.2 L412.5,970.9 L413.5,970.7 L414.6,970.4 L415.6,970.2 L416.6,969.9 L417.6,969.7 L418.6,969.5 L419.5,969.3 L420.4,969.2 L421.4,969.0 L422.3,968.9 L423.1,968.7 L424.0,968.6 L424.9,968.5 L425.7,968.4 L426.5,968.3 L427.3,968.3 L428.1,968.2 L428.9,968.2 L429.7,968.2 L430.4,968.2 L431.2,968.2 L431.9,968.2 L432.5,968.2 L433.1,968.2 L433.6,968.3 L434.0,968.3"/>
<path d="M272.0,988.8 L272.4,988.8 L273.0,988.7 L273.7,988.6 L274.4,988.5 L275.3,988.5 L276.1,988.4 L277.0,988.3 L277.8,988.3 L278.7,988.2 L279.5,988.1 L280.2,988.2 L280.9,988.2 L281.7,988.3 L282.4,988.4 L283.2,988.6 L283.9,988.7 L284.7,988.9 L285.4,989.1 L286.2,989.2 L286.9,989.4 L287.6,989.6 L288.4,989.7 L289.1,989.9 L289.8,990.1 L290.6,990.4 L291.3,990.6 L292.0,990.8 L292.8,990.9 L293.6,991.1 L294.4,991.2 L295.2,991.4 L296.0,991.5 L296.9,991.6 L297.8,991.7 L298.6,991.8 L299.5,991.9 L300.4,992.0 L301.3,992.0 L302.2,991.9 L303.1,991.9 L303.9,991.8 L304.8,991.6 L305.6,991.4 L306.5,991.2 L307.3,990.9 L308.2,990.6 L309.1,990.3 L309.9,990.0 L310.8,989.7 L311.8,989.4 L312.7,989.1 L313.7,988.7 L314.6,988.3 L315.6,987.9 L316.6,987.5 L317.7,987.1 L318.7,986.7 L319.7,986.3 L320.7,986.0 L321.7,985.7 L322.7,985.4 L323.7,985.1 L324.7,984.8 L325.7,984.5 L326.7,984.3 L327.7,984.0 L328.7,983.8 L329.6,983.6 L330.6,983.4 L331.6,983.2 L332.6,983.0 L333.6,982.8 L334.6,982.7 L335.6,982.5 L336.6,982.4 L337.6,982.3 L338.6,982.2 L339.6,982.1 L340.6,982.0 L341.6,981.9 L342.6,981.9 L343.6,981.8 L344.6,981.8 L345.7,981.8 L346.7,981.8 L347.7,981.8 L348.7,981.8 L349.7,981.8 L350.6,981.9 L351.5,981.9 L352.4,982.0 L353.2,982.1 L353.9,982.1 L354.7,982.2 L355.4,982.3 L356.1,982.4 L356.8,982.6 L357.5,982.7 L358.2,982.9 L359.0,983.2 L359.7,983.4 L360.5,983.7 L361.2,984.1 L361.9,984.4 L362.7,984.8 L363.4,985.2 L364.2,985.6 L364.9,986.0 L365.7,986.5 L366.4,986.9 L367.2,987.4 L367.9,987.8 L368.7,988.3 L369.5,988.8 L370.2,989.3 L371.0,989.9 L371.7,990.4 L372.5,990.9 L373.2,991.4 L373.9,991.9 L374.5,992.3 L375.2,992.8 L375.8,993.3 L376.4,993.8 L377.1,994.2 L377.7,994.7 L378.3,995.1 L378.9,995.5 L379.5,995.9 L380.1,996.2 L380.7,996.5 L381.3,996.8 L381.9,997.0 L382.5,997.2 L383.1,997.4 L383.7,997.6 L384.3,997.7 L385.0,997.9 L385.6,998.0 L386.3,998.1 L387.0,998.2 L387.7,998.2 L388.4,998.2 L389.1,998.2 L389.9,998.2 L390.6,998.2 L391.4,998.1 L392.2,998.1 L392.9,998.1 L393.7,998.1 L394.6,998.1 L395.4,998.1 L396.3,998.0 L397.3,998.0 L398.2,998.0 L399.1,998.0 L400.0,998.0 L400.8,998.0 L401.7,998.0 L402.4,998.1 L403.2,998.2 L403.8,998.2 L404.5,998.3 L405.0,998.4 L405.6,998.5 L406.2,998.7 L406.8,998.8 L407.4,999.0 L408.0,999.1 L408.7,999.3 L409.4,999.5 L410.1,999.8 L410.8,1000.0 L411.5,1000.3 L412.3,1000.6 L413.1,1000.9 L413.8,1001.2 L414.6,1001.5 L415.4,1001.8 L416.1,1002.1 L416.8,1002.3 L417.6,1002.6 L418.3,1002.9 L418.9,1003.2 L419.7,1003.4 L420.4,1003.7 L421.1,1004.0 L421.9,1004.3 L422.7,1004.6 L423.6,1004.9 L424.5,1005.3 L425.6,1005.7 L426.8,1006.1 L428.0,1006.5 L429.2,1007.0 L430.4,1007.4 L430.8,1007.5"/>
<path d="M272.0,990.0 L272.4,990.4 L272.8,990.9 L273.4,991.4 L274.0,992.0 L274.7,992.6 L275.4,993.3 L276.2,994.0 L276.9,994.6 L277.6,995.1 L278.2,995.6 L278.8,996.0 L279.4,996.4 L280.0,996.8 L280.6,997.2 L281.2,997.6 L281.8,998.0 L282.5,998.3 L283.1,998.7 L283.8,999.0 L284.4,999.3 L285.1,999.6 L285.8,999.9 L286.6,1000.2 L287.3,1000.5 L288.1,1000.7 L288.8,1001.0 L289.6,1001.2 L290.4,1001.4 L291.1,1001.6 L291.9,1001.8 L292.6,1002.0 L293.4,1002.1 L294.1,1002.2 L294.9,1002.3 L295.6,1002.4 L296.3,1002.4 L297.1,1002.5 L297.8,1002.7 L298.6,1002.8 L299.3,1003.1 L300.1,1003.3 L300.9,1003.6 L301.6,1004.0 L302.4,1004.4 L303.1,1004.8 L303.7,1005.2 L304.3,1005.6 L304.9,1006.0 L305.4,1006.4 L305.9,1006.8 L306.4,1007.1 L306.8,1007.5"/>
<path d="M381.3,996.8 L381.6,997.1 L382.0,997.3 L382.5,997.6 L383.0,998.0 L383.5,998.4 L384.1,998.8 L384.6,999.2 L385.2,999.7 L385.8,1000.1 L386.3,1000.6 L386.8,1001.0 L387.3,1001.5 L387.8,1002.0 L388.3,1002.5 L388.9,1003.0 L389.4,1003.5 L389.8,1004.0 L390.2,1004.6 L390.5,1005.1 L390.9,1005.5 L391.2,1006.0 L391.6,1006.5 L391.9,1007.1 L392.2,1007.5"/>
<path d="M110.0,1010.0 L110.4,1010.0 L111.0,1010.0 L111.7,1010.1 L112.4,1010.1 L113.3,1010.2 L114.1,1010.2 L115.0,1010.3 L115.8,1010.4 L116.7,1010.5 L117.5,1010.6 L118.2,1010.7 L118.9,1010.9 L119.7,1011.0 L120.4,1011.2 L121.2,1011.4 L121.9,1011.6 L122.7,1011.8 L123.4,1012.0 L124.2,1012.2 L124.9,1012.5 L125.7,1012.7 L126.4,1012.9 L127.1,1013.2 L127.9,1013.4 L128.6,1013.7 L129.4,1013.9 L130.1,1014.2 L130.9,1014.4 L131.6,1014.7 L132.4,1014.9 L133.1,1015.2 L133.9,1015.5 L134.7,1015.7 L135.5,1016.0 L136.2,1016.3 L137.0,1016.5 L137.8,1016.8 L138.5,1017.0 L139.2,1017.2 L139.8,1017.4 L140.4,1017.6 L140.9,1017.7 L141.5,1017.8 L141.9,1017.9 L142.4,1018.0 L142.8,1018.1 L143.3,1018.2 L143.8,1018.3 L144.2,1018.5 L144.8,1018.7 L145.4,1018.9 L145.9,1019.2 L146.6,1019.4 L147.2,1019.7 L147.8,1020.1 L148.5,1020.4 L149.1,1020.7 L149.7,1021.1 L150.4,1021.4 L151.0,1021.8 L151.6,1022.1 L152.2,1022.5 L152.8,1022.9 L153.4,1023.3 L154.0,1023.7 L154.6,1024.1 L155.3,1024.5 L155.9,1024.8 L156.5,1025.2 L157.2,1025.5 L157.9,1025.8 L158.6,1026.2 L159.4,1026.5 L160.1,1026.9 L160.9,1027.2 L161.6,1027.5 L162.4,1027.7 L163.2,1027.9 L163.9,1028.0 L164.7,1028.0 L165.4,1027.9 L166.2,1027.7 L166.9,1027.5 L167.6,1027.2 L168.4,1026.9 L169.1,1026.5 L169.9,1026.1 L170.6,1025.7 L171.4,1025.3 L172.1,1024.9 L172.9,1024.4 L173.6,1024.0 L174.4,1023.4 L175.1,1022.9 L175.8,1022.3 L176.6,1021.8 L177.3,1021.2 L178.1,1020.7 L178.8,1020.3 L179.6,1019.9 L180.3,1019.6 L181.0,1019.3 L181.7,1019.1 L182.4,1018.9 L183.1,1018.7 L183.9,1018.6 L184.6,1018.4 L185.4,1018.3 L186.2,1018.2 L187.0,1018.0 L187.9,1017.9 L188.9,1017.9 L189.9,1017.8 L190.9,1017.7 L192.0,1017.7 L193.0,1017.7 L194.1,1017.6 L195.1,1017.6 L196.1,1017.5 L197.0,1017.4 L197.8,1017.3 L198.6,1017.2 L199.4,1017.1 L200.1,1017.0 L200.8,1016.9 L201.6,1016.8 L202.3,1016.7 L203.0,1016.5 L203.7,1016.4 L204.4,1016.2 L205.2,1016.0 L205.9,1015.8 L206.7,1015.6 L207.4,1015.3 L208.1,1015.1 L208.9,1014.8 L209.6,1014.6 L210.4,1014.3 L211.1,1014.0 L211.9,1013.7 L212.6,1013.4 L213.4,1013.0 L214.1,1012.7 L214.9,1012.3 L215.6,1011.9 L216.3,1011.5 L217.1,1011.1 L217.8,1010.7 L218.6,1010.3 L219.1,1010.0 L219.6,1009.6 L220.2,1009.2 L220.8,1008.8 L221.4,1008.4 L222.0,1008.0 L222.5,1007.6 L222.4,1007.5"/>
<path d="M110.0,1041.0 L110.4,1041.2 L111.0,1041.3 L111.7,1041.6 L112.5,1041.8 L113.3,1042.1 L114.2,1042.3 L115.1,1042.5 L115.9,1042.7 L116.7,1042.8 L117.5,1042.9 L118.1,1042.9 L118.8,1042.8 L119.4,1042.7 L120.0,1042.6 L120.6,1042.4 L121.2,1042.2 L121.8,1041.9 L122.4,1041.7 L123.1,1041.4 L123.7,1041.0 L124.3,1040.7 L124.9,1040.3 L125.5,1039.8 L126.2,1039.4 L126.8,1038.9 L127.4,1038.4 L128.0,1037.8 L128.6,1037.3 L129.3,1036.7 L129.9,1036.1 L130.5,1035.4 L131.1,1034.7 L131.8,1034.0 L132.4,1033.2 L133.1,1032.4 L133.7,1031.6 L134.3,1030.8 L134.9,1030.1 L135.5,1029.3 L136.1,1028.6 L136.6,1027.9 L137.1,1027.3 L137.6,1026.8 L138.1,1026.2 L138.6,1025.7 L139.0,1025.1 L139.5,1024.5 L140.0,1023.9 L140.5,1023.2 L141.1,1022.4 L141.6,1021.5 L142.2,1020.6 L142.9,1019.6 L143.5,1018.6 L144.2,1017.5 L144.8,1016.4 L145.5,1015.4 L146.1,1014.3 L146.6,1013.4 L147.1,1012.5 L147.6,1011.6 L148.1,1010.7 L148.6,1009.8 L149.1,1008.9 L149.5,1008.1 L149.8,1007.5"/>
<path d="M127.4,1044.8 L127.8,1044.6 L128.4,1044.5 L129.1,1044.3 L129.8,1044.1 L130.7,1043.8 L131.5,1043.6 L132.4,1043.3 L133.2,1043.0 L134.1,1042.6 L134.8,1042.3 L135.6,1041.9 L136.4,1041.4 L137.1,1041.0 L137.9,1040.5 L138.7,1039.9 L139.4,1039.4 L140.2,1038.9 L140.9,1038.3 L141.6,1037.8 L142.3,1037.3 L143.0,1036.8 L143.6,1036.3 L144.3,1035.9 L144.9,1035.4 L145.6,1035.0 L146.2,1034.5 L146.8,1034.0 L147.4,1033.5 L147.9,1032.9 L148.5,1032.3 L149.1,1031.7 L149.6,1031.0 L150.1,1030.4 L150.5,1029.6 L151.0,1028.9 L151.5,1028.2 L151.9,1027.4 L152.4,1026.6 L152.9,1025.7 L153.5,1024.9 L154.0,1024.0 L154.6,1023.0 L155.2,1022.1 L155.8,1021.1 L156.4,1020.1 L157.1,1019.0 L157.7,1018.0 L158.4,1017.0 L159.0,1015.9 L159.6,1014.9 L160.3,1013.9 L161.0,1012.8 L161.8,1011.6 L162.6,1010.5 L163.4,1009.3 L164.1,1008.3 L164.6,1007.5"/>
<path d="M110.0,1046.0 L110.4,1046.0 L110.8,1046.0 L111.4,1046.0 L112.0,1046.0 L112.7,1046.0 L113.4,1046.0 L114.2,1046.0 L114.9,1046.0 L115.6,1046.0 L116.2,1046.0 L116.8,1046.0 L117.5,1046.0 L118.1,1045.9 L118.7,1045.9 L119.3,1045.9 L119.9,1045.8 L120.6,1045.8 L121.2,1045.8 L121.8,1045.8 L122.4,1045.7 L123.0,1045.8 L123.7,1045.8 L124.3,1045.8 L124.9,1045.9 L125.5,1045.9 L126.2,1046.0 L126.8,1046.0 L127.4,1046.0 L128.0,1046.0 L128.6,1046.0 L129.3,1045.9 L129.9,1045.9 L130.5,1045.8 L131.1,1045.7 L131.7,1045.6 L132.3,1045.5 L132.9,1045.4 L133.5,1045.2 L134.2,1045.0 L134.8,1044.8 L135.5,1044.5 L136.3,1044.2 L137.0,1043.8 L137.7,1043.4 L138.5,1043.0 L139.3,1042.6 L140.0,1042.2 L140.8,1041.8 L141.5,1041.4 L142.3,1041.0 L143.0,1040.7 L143.8,1040.3 L144.5,1039.9 L145.3,1039.5 L146.0,1039.2 L146.8,1038.8 L147.5,1038.4 L148.3,1038.0 L149.0,1037.7 L149.8,1037.3 L150.5,1036.9 L151.3,1036.6 L152.0,1036.2 L152.8,1035.8 L153.6,1035.4 L154.3,1035.1 L155.1,1034.7 L155.8,1034.3 L156.5,1033.9 L157.2,1033.6 L157.9,1033.2 L158.5,1032.8 L159.2,1032.4 L159.8,1032.0 L160.4,1031.6 L161.0,1031.2 L161.6,1030.9 L162.2,1030.5 L162.8,1030.2 L163.4,1029.8 L164.0,1029.6 L164.6,1029.3 L165.2,1029.0 L165.8,1028.8 L166.4,1028.6 L167.1,1028.4 L167.7,1028.2 L168.3,1027.9 L169.0,1027.7 L169.6,1027.4 L170.3,1027.0 L171.0,1026.7 L171.8,1026.3 L172.5,1026.0 L173.3,1025.6 L174.0,1025.2 L174.8,1024.8 L175.6,1024.4 L176.3,1024.0 L177.1,1023.6 L177.9,1023.2 L178.7,1022.8 L179.6,1022.4 L180.4,1022.0 L181.3,1021.5 L182.1,1021.1 L182.9,1020.8 L183.5,1020.4 L184.1,1020.1 L184.5,1019.9"/>
<path d="M110.0,1070.8 L110.4,1070.7 L111.0,1070.5 L111.7,1070.4 L112.4,1070.1 L113.3,1069.9 L114.1,1069.7 L115.0,1069.4 L115.8,1069.1 L116.7,1068.7 L117.5,1068.4 L118.2,1068.0 L119.0,1067.5 L119.8,1067.0 L120.6,1066.5 L121.3,1066.0 L122.1,1065.4 L122.9,1064.9 L123.6,1064.3 L124.3,1063.8 L124.9,1063.4 L125.5,1063.0 L126.0,1062.5 L126.5,1062.1 L127.0,1061.7 L127.5,1061.4 L127.9,1061.0 L128.4,1060.7 L128.8,1060.3 L129.3,1060.0 L129.9,1059.7 L130.4,1059.3 L131.0,1059.0 L131.6,1058.7 L132.3,1058.4 L132.9,1058.1 L133.5,1057.8 L134.2,1057.6 L134.8,1057.4 L135.5,1057.3 L136.1,1057.2 L136.7,1057.1 L137.3,1057.1 L138.0,1057.2 L138.6,1057.3 L139.2,1057.4 L139.8,1057.6 L140.4,1057.7 L141.1,1058.0 L141.7,1058.2 L142.3,1058.4 L142.9,1058.7 L143.6,1059.0 L144.2,1059.4 L144.8,1059.7 L145.5,1060.1 L146.1,1060.5 L146.7,1061.0 L147.3,1061.4 L147.9,1061.8 L148.5,1062.1 L149.1,1062.6 L149.6,1063.1 L150.1,1063.6 L150.6,1064.2 L151.1,1064.7 L151.6,1065.2 L152.0,1065.6 L152.5,1065.8 L153.0,1066.0 L153.5,1065.9 L154.0,1065.6 L154.5,1065.1 L155.0,1064.4 L155.5,1063.6 L156.0,1062.7 L156.5,1061.8 L157.0,1060.8 L157.5,1059.9 L158.0,1059.1 L158.5,1058.4 L158.9,1057.8 L159.4,1057.2 L159.9,1056.6 L160.4,1056.1 L160.9,1055.6 L161.3,1055.1 L161.8,1054.6 L162.3,1054.2 L162.9,1053.8 L163.4,1053.5 L164.0,1053.1 L164.6,1052.8 L165.2,1052.5 L165.8,1052.3 L166.4,1052.1 L167.0,1051.9 L167.6,1051.8 L168.3,1051.7 L169.0,1051.6 L169.6,1051.6 L170.3,1051.6 L171.1,1051.7 L171.8,1051.8 L172.6,1052.0 L173.4,1052.2 L174.1,1052.4 L174.9,1052.6 L175.7,1052.9 L176.4,1053.2 L177.1,1053.5 L177.8,1053.8 L178.4,1054.1 L179.1,1054.5 L179.7,1054.9 L180.3,1055.3 L181.0,1055.7 L181.6,1056.1 L182.2,1056.5 L182.7,1056.8 L183.3,1057.2 L183.8,1057.5 L184.3,1057.8 L184.8,1058.1 L185.2,1058.4 L185.6,1058.6 L186.1,1058.9 L186.5,1059.1 L187.1,1059.3 L187.6,1059.5 L188.3,1059.7 L189.0,1059.8 L189.7,1059.9 L190.6,1060.1 L191.4,1060.2 L192.3,1060.2 L193.2,1060.3 L194.1,1060.3 L195.1,1060.3 L196.0,1060.3 L197.0,1060.3 L197.9,1060.2 L198.9,1060.1 L199.9,1060.0 L200.8,1059.8 L201.9,1059.6 L202.9,1059.4 L203.9,1059.2 L204.9,1059.0 L205.9,1058.7 L206.9,1058.4 L207.9,1058.1 L208.9,1057.8 L209.9,1057.4 L210.9,1057.1 L211.9,1056.7 L212.9,1056.3 L213.9,1055.9 L214.9,1055.5 L215.8,1055.1 L216.8,1054.7 L217.8,1054.3 L218.9,1053.9 L219.9,1053.6 L220.9,1053.2 L222.0,1052.8 L223.0,1052.5 L224.0,1052.1 L225.0,1051.7 L225.9,1051.3 L226.8,1051.0 L227.6,1050.6 L228.4,1050.3 L229.2,1049.9 L230.0,1049.6 L230.7,1049.3 L231.5,1048.9 L232.2,1048.5 L232.9,1048.1 L233.5,1047.7 L234.2,1047.2 L234.9,1046.7 L235.6,1046.2 L236.2,1045.6 L236.8,1044.9 L237.4,1044.3 L238.0,1043.6 L238.6,1043.0 L239.2,1042.3 L239.8,1041.7 L240.4,1041.0 L241.1,1040.4 L241.7,1039.8 L242.3,1039.1 L242.9,1038.5 L243.6,1037.8 L244.2,1037.2 L244.8,1036.6 L245.4,1036.0 L246.0,1035.4 L246.7,1034.8 L247.3,1034.3 L247.9,1033.7 L248.5,1033.2 L249.1,1032.6 L249.8,1032.1 L250.4,1031.6 L251.0,1031.2 L251.6,1030.7 L252.2,1030.3 L252.9,1029.8 L253.5,1029.5 L254.1,1029.1 L254.7,1028.8 L255.4,1028.4 L256.0,1028.1 L256.6,1027.8 L257.2,1027.6 L257.8,1027.3 L258.5,1027.0 L259.1,1026.7 L259.7,1026.5 L260.3,1026.2 L260.9,1025.9 L261.5,1025.7 L262.2,1025.4 L262.8,1025.2 L263.4,1024.9 L264.0,1024.7 L264.7,1024.5 L265.3,1024.3 L266.0,1024.0 L266.7,1023.8 L267.5,1023.6 L268.3,1023.4 L269.0,1023.2 L269.8,1023.0 L270.5,1022.8 L271.1,1022.6 L271.6,1022.5 L272.0,1022.4"/>
<path d="M110.0,1087.0 L110.6,1087.0 L111.4,1087.1 L112.3,1087.2 L113.3,1087.3 L114.3,1087.3 L115.5,1087.4 L116.6,1087.5 L117.8,1087.6 L118.9,1087.6 L119.9,1087.6 L120.9,1087.6 L121.9,1087.6 L122.9,1087.6 L123.9,1087.5 L124.9,1087.5 L125.9,1087.4 L126.9,1087.3 L127.9,1087.2 L128.9,1087.1 L129.9,1087.0 L130.9,1086.9 L131.9,1086.7 L132.9,1086.5 L134.0,1086.3 L135.0,1086.1 L136.0,1085.9 L137.0,1085.7 L138.0,1085.5 L138.9,1085.3 L139.8,1085.1 L140.7,1084.9 L141.5,1084.8 L142.2,1084.6 L143.0,1084.4 L143.7,1084.3 L144.4,1084.1 L145.1,1083.9 L145.8,1083.7 L146.5,1083.5 L147.3,1083.3 L148.0,1083.0 L148.7,1082.7 L149.5,1082.4 L150.2,1082.1 L150.9,1081.8 L151.7,1081.5 L152.4,1081.1 L153.2,1080.8 L153.9,1080.5 L154.7,1080.2 L155.6,1079.9 L156.4,1079.5 L157.3,1079.2 L158.2,1078.9 L159.1,1078.6 L160.1,1078.3 L161.0,1078.0 L161.8,1077.7 L162.6,1077.4 L163.4,1077.1 L164.1,1076.8 L164.8,1076.5 L165.4,1076.2 L166.0,1075.9 L166.6,1075.6 L167.2,1075.3 L167.8,1075.0 L168.3,1074.7 L169.0,1074.3 L169.6,1073.9 L170.3,1073.6 L171.0,1073.2 L171.8,1072.8 L172.5,1072.3 L173.3,1071.9 L174.0,1071.4 L174.8,1071.0 L175.6,1070.5 L176.3,1070.1 L177.1,1069.6 L177.8,1069.1 L178.6,1068.6 L179.4,1068.1 L180.2,1067.6 L181.0,1067.1 L181.7,1066.6 L182.5,1066.1 L183.2,1065.6 L183.9,1065.1 L184.5,1064.6 L185.2,1064.2 L185.8,1063.7 L186.4,1063.3 L186.9,1062.9 L187.5,1062.5 L188.0,1062.1 L188.5,1061.7 L188.9,1061.4 L189.2,1061.1 L189.5,1060.9"/>
<path d="M153.5,1068.4 L153.8,1068.4 L154.2,1068.5 L154.6,1068.5 L155.1,1068.6 L155.7,1068.7 L156.2,1068.8 L156.8,1068.9 L157.4,1069.1 L157.9,1069.3 L158.5,1069.6 L158.9,1069.9 L159.4,1070.4 L159.9,1070.8 L160.4,1071.3 L160.9,1071.9 L161.3,1072.4 L161.8,1073.0 L162.3,1073.5 L162.9,1074.1 L163.4,1074.6 L164.0,1075.1 L164.6,1075.5 L165.2,1076.0 L165.8,1076.5 L166.4,1077.0 L167.1,1077.5 L167.7,1078.0 L168.4,1078.5 L169.0,1079.0 L169.6,1079.5 L170.3,1080.1 L170.9,1080.7 L171.5,1081.3 L172.1,1081.9 L172.7,1082.6 L173.4,1083.2 L174.0,1083.8 L174.6,1084.5 L175.2,1085.1 L175.8,1085.8 L176.5,1086.4 L177.1,1087.0 L177.7,1087.7 L178.3,1088.3 L178.9,1088.9 L179.6,1089.6 L180.2,1090.2 L180.8,1090.8 L181.4,1091.4 L182.1,1092.0 L182.7,1092.5 L183.3,1093.1 L184.0,1093.7 L184.6,1094.2 L185.2,1094.8 L185.9,1095.3 L186.5,1095.8 L187.1,1096.2 L187.7,1096.6 L188.3,1096.9 L188.8,1097.2 L189.3,1097.4 L189.8,1097.5 L190.3,1097.6 L190.8,1097.7 L191.2,1097.7 L191.7,1097.7 L192.2,1097.7 L192.7,1097.6 L193.2,1097.6 L193.8,1097.4 L194.4,1097.3 L195.0,1097.1 L195.6,1096.9 L196.2,1096.7 L196.8,1096.4 L197.5,1096.1 L198.1,1095.8 L198.8,1095.5 L199.4,1095.1 L200.1,1094.6 L200.9,1094.2 L201.6,1093.7 L202.3,1093.2 L203.1,1092.7 L203.9,1092.1 L204.6,1091.5 L205.4,1090.8 L206.2,1090.2 L206.9,1089.5 L207.7,1088.7 L208.4,1087.9 L209.2,1087.1 L209.9,1086.2 L210.7,1085.3 L211.5,1084.4 L212.2,1083.5 L212.9,1082.6 L213.7,1081.7 L214.4,1080.8 L215.0,1079.9 L215.7,1079.0 L216.3,1078.2 L217.0,1077.3 L217.6,1076.4 L218.2,1075.6 L218.8,1074.7 L219.4,1073.8 L220.0,1073.0 L220.6,1072.1 L221.1,1071.2 L221.6,1070.3 L222.1,1069.5 L222.6,1068.6 L223.1,1067.7 L223.6,1066.9 L224.1,1066.0 L224.6,1065.1 L225.0,1064.3 L225.5,1063.4 L226.0,1062.5 L226.6,1061.6 L227.1,1060.7 L227.6,1059.9 L228.1,1059.0 L228.6,1058.1 L229.1,1057.2 L229.6,1056.4 L230.1,1055.5 L230.5,1054.7 L230.9,1053.9 L231.3,1053.1 L231.7,1052.4 L232.1,1051.6 L232.4,1050.9 L232.8,1050.2 L233.2,1049.4 L233.5,1048.7 L233.9,1048.0 L234.2,1047.2 L234.6,1046.5 L235.0,1045.8 L235.3,1045.0 L235.7,1044.3 L236.0,1043.6 L236.4,1042.9 L236.8,1042.1 L237.1,1041.4 L237.5,1040.6 L238.0,1039.8 L238.4,1039.0 L238.9,1038.1 L239.4,1037.2 L239.9,1036.3 L240.4,1035.4 L240.9,1034.5 L241.4,1033.6 L241.9,1032.8 L242.4,1031.9 L242.9,1031.1 L243.4,1030.3 L243.9,1029.5 L244.4,1028.7 L244.9,1027.9 L245.3,1027.1 L245.8,1026.4 L246.3,1025.6 L246.8,1024.9 L247.4,1024.3 L247.9,1023.6 L248.5,1023.0 L249.1,1022.4 L249.7,1021.8 L250.3,1021.3 L250.9,1020.7 L251.6,1020.2 L252.2,1019.8 L252.8,1019.3 L253.5,1019.0 L254.1,1018.7 L254.7,1018.4 L255.4,1018.2 L256.0,1018.1 L256.6,1018.0 L257.2,1017.9 L257.8,1017.9 L258.5,1017.9 L259.1,1017.9 L259.7,1018.0 L260.3,1018.0 L260.9,1018.1 L261.6,1018.2 L262.2,1018.4 L262.8,1018.6 L263.5,1018.8 L264.1,1019.0 L264.7,1019.2 L265.3,1019.5 L265.9,1019.7 L266.5,1019.9 L267.1,1020.1 L267.8,1020.4 L268.4,1020.7 L269.0,1021.0 L269.7,1021.3 L270.2,1021.5 L270.8,1021.8 L271.3,1022.0 L271.7,1022.2 L272.0,1022.4"/>
<path d="M110.0,1118.1 L110.4,1118.0 L111.0,1117.8 L111.7,1117.7 L112.4,1117.6 L113.3,1117.4 L114.1,1117.2 L115.0,1117.0 L115.8,1116.8 L116.7,1116.5 L117.5,1116.2 L118.2,1115.9 L119.0,1115.5 L119.7,1115.2 L120.5,1114.8 L121.3,1114.4 L122.0,1113.9 L122.8,1113.5 L123.5,1112.9 L124.2,1112.4 L124.9,1111.8 L125.6,1111.2 L126.2,1110.6 L126.9,1109.9 L127.5,1109.1 L128.1,1108.4 L128.7,1107.6 L129.3,1106.8 L129.9,1106.0 L130.5,1105.2 L131.1,1104.4 L131.7,1103.6 L132.4,1102.7 L133.0,1101.9 L133.7,1101.0 L134.3,1100.1 L134.9,1099.2 L135.6,1098.3 L136.2,1097.4 L136.8,1096.6 L137.3,1095.7 L137.9,1094.8 L138.4,1093.9 L138.9,1093.0 L139.4,1092.2 L139.9,1091.3 L140.4,1090.4 L140.8,1089.5 L141.3,1088.7 L141.8,1087.8 L142.3,1087.0 L142.8,1086.2 L143.3,1085.4 L143.8,1084.7 L144.3,1084.0 L144.8,1083.3 L145.3,1082.6 L145.8,1081.8 L146.3,1081.1 L146.8,1080.3 L147.3,1079.5 L147.8,1078.7 L148.3,1077.8 L148.8,1076.8 L149.4,1075.9 L149.9,1074.9 L150.4,1074.0 L150.9,1073.1 L151.4,1072.2 L151.8,1071.5 L152.2,1070.8 L152.6,1070.3 L152.9,1069.8 L153.2,1069.3 L153.4,1069.0 L153.6,1068.6 L153.8,1068.4 L154.1,1068.1 L154.3,1068.0 L154.5,1067.8 L154.7,1067.7 L155.0,1067.7 L155.3,1067.8 L155.5,1068.0 L155.8,1068.2 L156.1,1068.5 L156.4,1068.8 L156.6,1069.0 L156.9,1069.3 L157.1,1069.5 L157.2,1069.6"/>
<path d="M151.0,1125.0 L151.5,1124.8 L152.2,1124.4 L153.0,1124.1 L153.9,1123.6 L154.9,1123.2 L155.9,1122.7 L156.9,1122.1 L157.9,1121.6 L158.8,1121.1 L159.7,1120.5 L160.5,1120.0 L161.3,1119.4 L162.0,1118.8 L162.8,1118.2 L163.5,1117.5 L164.2,1116.9 L165.0,1116.2 L165.7,1115.6 L166.4,1115.0 L167.1,1114.3 L167.9,1113.7 L168.6,1113.1 L169.4,1112.4 L170.1,1111.8 L170.9,1111.1 L171.6,1110.5 L172.4,1109.9 L173.1,1109.3 L173.9,1108.7 L174.6,1108.1 L175.4,1107.6 L176.1,1107.0 L176.9,1106.5 L177.6,1106.0 L178.4,1105.6 L179.2,1105.1 L179.9,1104.6 L180.6,1104.1 L181.4,1103.6 L182.1,1103.1 L182.8,1102.6 L183.5,1102.1 L184.2,1101.5 L184.9,1100.9 L185.6,1100.3 L186.3,1099.8 L186.9,1099.3 L187.4,1098.9 L187.9,1098.5 L188.3,1098.2"/>
<path d="M272.0,1022.4 L272.3,1022.2 L272.7,1021.8 L273.1,1021.5 L273.6,1021.0 L274.1,1020.6 L274.7,1020.1 L275.2,1019.7 L275.8,1019.3 L276.4,1018.9 L277.0,1018.7 L277.5,1018.5 L278.1,1018.3 L278.7,1018.2 L279.4,1018.1 L280.0,1018.0 L280.6,1018.0 L281.3,1018.0 L281.9,1018.0 L282.6,1018.0 L283.2,1018.0 L283.8,1018.1 L284.4,1018.2 L285.0,1018.3 L285.7,1018.5 L286.3,1018.6 L286.9,1018.8 L287.5,1019.0 L288.2,1019.3 L288.8,1019.6 L289.4,1019.9 L290.0,1020.3 L290.6,1020.7 L291.3,1021.1 L291.9,1021.6 L292.5,1022.0 L293.1,1022.6 L293.7,1023.1 L294.4,1023.7 L295.0,1024.3 L295.6,1024.9 L296.2,1025.5 L296.8,1026.2 L297.4,1027.0 L298.0,1027.8 L298.6,1028.6 L299.2,1029.4 L299.9,1030.2 L300.5,1031.0 L301.1,1031.7 L301.8,1032.3 L302.5,1032.9 L303.2,1033.5 L304.0,1034.0 L304.7,1034.5 L305.5,1035.0 L306.2,1035.4 L307.0,1035.9 L307.8,1036.3 L308.5,1036.8 L309.3,1037.3 L310.0,1037.8 L310.8,1038.3 L311.5,1038.8 L312.3,1039.3 L313.0,1039.8 L313.7,1040.3 L314.5,1040.8 L315.2,1041.3 L316.0,1041.8 L316.7,1042.3 L317.5,1042.8 L318.2,1043.3 L318.9,1043.8 L319.6,1044.3 L320.3,1044.8 L321.0,1045.3 L321.8,1045.7 L322.5,1046.2 L323.3,1046.7 L324.2,1047.2 L325.1,1047.7 L326.0,1048.3 L327.0,1048.8 L328.0,1049.3 L329.0,1049.9 L330.0,1050.4 L331.1,1050.9 L332.1,1051.4 L333.1,1051.8 L334.1,1052.2 L335.1,1052.6 L336.1,1052.9 L337.1,1053.2 L338.2,1053.4 L339.2,1053.7 L340.2,1053.9 L341.2,1054.1 L342.1,1054.3 L343.1,1054.5 L344.1,1054.7 L345.0,1054.9 L345.9,1055.0 L346.8,1055.2 L347.7,1055.3 L348.6,1055.5 L349.5,1055.6 L350.4,1055.7 L351.2,1055.8 L352.0,1055.9 L352.8,1055.9 L353.5,1056.0 L354.1,1056.0 L354.8,1055.9 L355.4,1055.9 L355.9,1055.9 L356.5,1055.8 L357.1,1055.8 L357.7,1055.8 L358.3,1055.8 L359.0,1055.9 L359.7,1056.1 L360.4,1056.3 L361.1,1056.5 L361.9,1056.7 L362.6,1056.9 L363.4,1057.2 L364.1,1057.5 L364.9,1057.8 L365.7,1058.1 L366.4,1058.4 L367.2,1058.7 L367.9,1059.1 L368.7,1059.4 L369.5,1059.8 L370.2,1060.1 L371.0,1060.5 L371.7,1060.9 L372.5,1061.3 L373.2,1061.7 L373.9,1062.1 L374.5,1062.6 L375.2,1063.1 L375.8,1063.6 L376.4,1064.1 L377.1,1064.6 L377.7,1065.2 L378.3,1065.7 L378.9,1066.2 L379.5,1066.7 L380.1,1067.1 L380.7,1067.5 L381.3,1067.9 L381.9,1068.3 L382.5,1068.7 L383.1,1069.0 L383.7,1069.4 L384.3,1069.7 L385.0,1070.1 L385.6,1070.5 L386.3,1070.8 L387.0,1071.3 L387.7,1071.7 L388.4,1072.2 L389.2,1072.7 L389.9,1073.1 L390.7,1073.6 L391.5,1074.1 L392.2,1074.5 L393.0,1074.9 L393.7,1075.2 L394.5,1075.5 L395.2,1075.7 L396.0,1075.9 L396.7,1076.1 L397.5,1076.2 L398.2,1076.4 L399.0,1076.5 L399.7,1076.7 L400.5,1076.9 L401.2,1077.1 L401.9,1077.3 L402.7,1077.5 L403.4,1077.7 L404.2,1077.9 L404.9,1078.2 L405.7,1078.4 L406.4,1078.7 L407.2,1079.0 L407.9,1079.2 L408.7,1079.5 L409.4,1079.9 L410.1,1080.2 L410.9,1080.6 L411.6,1081.0 L412.4,1081.4 L413.1,1081.8 L413.9,1082.2 L414.6,1082.5 L415.4,1082.9 L416.1,1083.3 L416.8,1083.6 L417.6,1084.0 L418.3,1084.3 L418.9,1084.6 L419.7,1085.0 L420.4,1085.3 L421.1,1085.6 L421.9,1085.9 L422.7,1086.1 L423.6,1086.4 L424.5,1086.6 L425.6,1086.8 L426.8,1086.9 L428.0,1087.1 L429.2,1087.2 L430.4,1087.3 L431.5,1087.4 L432.5,1087.5 L433.4,1087.5 L434.0,1087.6"/>
<path d="M272.0,1022.4 L272.4,1022.8 L273.0,1023.2 L273.7,1023.8 L274.4,1024.4 L275.3,1025.1 L276.1,1025.8 L277.0,1026.5 L277.8,1027.3 L278.7,1028.0 L279.5,1028.6 L280.2,1029.2 L280.9,1029.8 L281.7,1030.5 L282.4,1031.1 L283.2,1031.7 L283.9,1032.3 L284.7,1033.0 L285.4,1033.6 L286.2,1034.2 L286.9,1034.8 L287.7,1035.4 L288.4,1036.1 L289.2,1036.7 L290.0,1037.3 L290.8,1037.9 L291.6,1038.5 L292.3,1039.2 L293.0,1039.8 L293.7,1040.4 L294.4,1041.0 L295.0,1041.6 L295.5,1042.3 L296.0,1042.9 L296.5,1043.5 L297.0,1044.1 L297.5,1044.7 L297.9,1045.3 L298.4,1045.9 L298.8,1046.6 L299.3,1047.2 L299.8,1047.9 L300.3,1048.6 L300.8,1049.3 L301.3,1050.1 L301.8,1050.8 L302.3,1051.6 L302.8,1052.3 L303.3,1053.1 L303.8,1053.9 L304.3,1054.7 L304.8,1055.5 L305.3,1056.4 L305.8,1057.2 L306.3,1058.1 L306.8,1059.0 L307.3,1059.9 L307.8,1060.7 L308.3,1061.6 L308.8,1062.5 L309.3,1063.4 L309.8,1064.3 L310.3,1065.1 L310.8,1066.0 L311.3,1066.9 L311.8,1067.7 L312.3,1068.6 L312.7,1069.5 L313.2,1070.3 L313.7,1071.2 L314.2,1072.1 L314.7,1073.0 L315.2,1073.8 L315.7,1074.7 L316.2,1075.6 L316.7,1076.5 L317.2,1077.4 L317.7,1078.3 L318.2,1079.1 L318.7,1080.0 L319.2,1080.8 L319.7,1081.6 L320.2,1082.4 L320.7,1083.1 L321.1,1083.9 L321.6,1084.6 L322.1,1085.3 L322.6,1086.0 L323.1,1086.8 L323.6,1087.5 L324.2,1088.2 L324.7,1089.0 L325.3,1089.7 L326.0,1090.5 L326.6,1091.3 L327.2,1092.0 L327.8,1092.8 L328.5,1093.5 L329.1,1094.3 L329.8,1095.0 L330.4,1095.7 L331.0,1096.4 L331.6,1097.1 L332.2,1097.7 L332.8,1098.4 L333.4,1099.0 L334.0,1099.7 L334.6,1100.3 L335.3,1100.8 L335.9,1101.4 L336.6,1101.9 L337.3,1102.4 L338.0,1102.8 L338.7,1103.3 L339.4,1103.7 L340.2,1104.0 L340.9,1104.4 L341.7,1104.7 L342.5,1105.0 L343.3,1105.3 L344.1,1105.6 L344.9,1105.9 L345.8,1106.1 L346.7,1106.3 L347.6,1106.4 L348.5,1106.6 L349.4,1106.7 L350.3,1106.9 L351.2,1107.1 L352.0,1107.3 L352.8,1107.5 L353.5,1107.7 L354.1,1108.0 L354.8,1108.3 L355.4,1108.6 L355.9,1108.9 L356.5,1109.3 L357.1,1109.6 L357.7,1109.9 L358.3,1110.3 L359.0,1110.6 L359.6,1110.9 L360.3,1111.3 L361.0,1111.6 L361.7,1112.0 L362.5,1112.3 L363.2,1112.7 L364.0,1113.1 L364.7,1113.5 L365.6,1113.9 L366.4,1114.3 L367.3,1114.8 L368.2,1115.3 L369.2,1115.8 L370.2,1116.3 L371.2,1116.8 L372.3,1117.3 L373.3,1117.9 L374.3,1118.4 L375.4,1118.8 L376.4,1119.3 L377.3,1119.7 L378.3,1120.1 L379.3,1120.5 L380.3,1120.9 L381.3,1121.3 L382.3,1121.7 L383.3,1122.0 L384.3,1122.4 L385.3,1122.7 L386.3,1123.0 L387.3,1123.3 L388.4,1123.6 L389.6,1123.9 L390.7,1124.2 L391.9,1124.5 L393.0,1124.8 L394.0,1125.0 L394.1,1125.0"/>
<path d="M306.8,1007.5 L306.9,1007.7 L307.7,1008.2 L308.4,1008.8 L309.1,1009.4 L309.7,1010.0 L310.3,1010.5 L310.9,1011.1 L311.5,1011.7 L312.3,1012.4 L313.0,1013.0 L313.7,1013.6 L314.5,1014.3 L315.2,1014.9 L316.0,1015.6 L316.7,1016.2 L317.5,1016.8 L318.2,1017.4 L318.9,1018.1 L319.6,1018.7 L320.4,1019.4 L321.1,1020.0 L321.9,1020.6 L322.6,1021.2 L323.4,1021.8 L324.2,1022.4 L325.0,1022.9 L325.8,1023.5 L326.7,1024.0 L327.6,1024.6 L328.4,1025.1 L329.3,1025.6 L330.2,1026.0 L331.1,1026.5 L332.0,1026.9 L332.9,1027.4 L333.7,1027.8 L334.6,1028.1 L335.4,1028.5 L336.3,1028.8 L337.1,1029.1 L338.0,1029.4 L338.9,1029.7 L339.8,1030.0 L340.7,1030.2 L341.6,1030.5 L342.5,1030.7 L343.5,1030.8 L344.5,1030.9 L345.6,1031.0 L346.6,1031.1 L347.7,1031.2 L348.7,1031.3 L349.7,1031.4 L350.6,1031.5 L351.5,1031.7 L352.3,1031.9 L353.1,1032.2 L353.8,1032.4 L354.6,1032.7 L355.2,1033.0 L355.9,1033.4 L356.6,1033.7 L357.4,1034.0 L358.1,1034.4 L359.0,1034.8 L359.9,1035.2 L360.8,1035.7 L361.8,1036.2 L362.8,1036.7 L363.8,1037.2 L364.8,1037.7 L365.8,1038.2 L366.9,1038.8 L367.9,1039.3 L368.9,1039.8 L369.9,1040.3 L370.9,1040.8 L371.9,1041.3 L372.9,1041.8 L373.9,1042.3 L374.9,1042.9 L375.9,1043.4 L376.9,1043.8 L377.8,1044.3 L378.8,1044.8 L379.8,1045.2 L380.8,1045.6 L381.8,1046.0 L382.8,1046.4 L383.8,1046.8 L384.8,1047.1 L385.8,1047.5 L386.8,1047.8 L387.8,1048.2 L388.8,1048.5 L389.8,1048.8 L390.8,1049.1 L391.8,1049.4 L392.8,1049.7 L393.7,1050.0 L394.7,1050.3 L395.7,1050.5 L396.7,1050.7 L397.7,1050.8 L398.7,1051.0 L399.7,1051.0 L400.7,1051.1 L401.6,1051.0 L402.6,1051.0 L403.5,1050.9 L404.5,1050.8 L405.5,1050.7 L406.5,1050.6 L407.6,1050.5 L408.7,1050.3 L409.8,1050.2 L411.0,1050.0 L412.2,1049.9 L413.4,1049.7 L414.7,1049.5 L416.0,1049.2 L417.2,1049.0 L418.5,1048.8 L419.8,1048.6 L421.1,1048.5 L422.4,1048.3 L423.8,1048.2 L425.3,1048.0 L426.8,1047.9 L428.3,1047.7 L429.7,1047.6 L431.1,1047.5 L432.2,1047.4 L433.2,1047.3 L434.0,1047.2"/>
<path d="M351.5,1031.7 L352.0,1031.4 L352.5,1030.9 L353.2,1030.4 L354.0,1029.8 L354.8,1029.2 L355.6,1028.6 L356.5,1027.9 L357.4,1027.3 L358.2,1026.7 L359.0,1026.1 L359.7,1025.6 L360.5,1025.1 L361.2,1024.6 L361.9,1024.1 L362.7,1023.6 L363.4,1023.1 L364.2,1022.6 L364.9,1022.1 L365.7,1021.6 L366.4,1021.2 L367.2,1020.7 L367.9,1020.2 L368.7,1019.7 L369.4,1019.3 L370.1,1018.8 L370.9,1018.4 L371.6,1018.0 L372.4,1017.5 L373.1,1017.2 L373.9,1016.8 L374.6,1016.5 L375.4,1016.1 L376.2,1015.8 L377.0,1015.5 L377.8,1015.2 L378.5,1015.0 L379.3,1014.8 L380.0,1014.6 L380.7,1014.4 L381.3,1014.3 L381.9,1014.2 L382.5,1014.2 L383.0,1014.2 L383.5,1014.2 L384.0,1014.2 L384.4,1014.3 L384.9,1014.4 L385.3,1014.6 L385.8,1014.7 L386.3,1014.9 L386.8,1015.2 L387.3,1015.5 L387.8,1015.8 L388.3,1016.1 L388.8,1016.5 L389.3,1016.9 L389.8,1017.4 L390.3,1017.8 L390.8,1018.2 L391.3,1018.7 L391.8,1019.1 L392.3,1019.6 L392.8,1020.0 L393.3,1020.5 L393.7,1021.0 L394.2,1021.5 L394.7,1022.0 L395.2,1022.5 L395.7,1023.1 L396.2,1023.6 L396.7,1024.2 L397.2,1024.8 L397.7,1025.4 L398.2,1026.0 L398.6,1026.7 L399.1,1027.3 L399.6,1027.9 L400.1,1028.6 L400.7,1029.2 L401.2,1029.8 L401.8,1030.5 L402.3,1031.1 L402.9,1031.7 L403.5,1032.4 L404.2,1033.0 L404.8,1033.7 L405.4,1034.3 L406.1,1034.9 L406.7,1035.5 L407.4,1036.1 L408.1,1036.6 L408.8,1037.2 L409.5,1037.7 L410.2,1038.2 L411.0,1038.7 L411.7,1039.2 L412.5,1039.7 L413.3,1040.1 L414.1,1040.6 L414.9,1041.0 L415.7,1041.5 L416.5,1041.9 L417.3,1042.3 L418.2,1042.7 L419.0,1043.1 L419.9,1043.5 L420.8,1043.9 L421.7,1044.2 L422.6,1044.5 L423.6,1044.8 L424.6,1045.0 L425.7,1045.2 L426.9,1045.3 L428.1,1045.5 L429.3,1045.6 L430.5,1045.7 L431.6,1045.8 L432.6,1045.9 L433.4,1045.9 L434.0,1046.0"/>
<path d="M392.2,1007.5 L392.2,1007.6 L392.7,1008.1 L393.1,1008.7 L393.6,1009.3 L394.0,1010.0 L394.4,1010.6 L394.8,1011.3 L395.2,1012.0 L395.7,1012.8 L396.2,1013.5 L396.7,1014.3 L397.2,1015.1 L397.7,1015.9 L398.2,1016.7 L398.7,1017.4 L399.2,1018.2 L399.7,1018.9 L400.2,1019.7 L400.7,1020.5 L401.2,1021.2 L401.7,1022.0 L402.2,1022.7 L402.7,1023.5 L403.2,1024.2 L403.7,1024.9 L404.2,1025.5 L404.7,1026.2 L405.1,1026.8 L405.6,1027.5 L406.1,1028.1 L406.6,1028.7 L407.1,1029.3 L407.6,1029.9 L408.1,1030.5 L408.7,1031.1 L409.2,1031.7 L409.8,1032.4 L410.4,1033.0 L411.1,1033.7 L411.7,1034.4 L412.3,1035.0 L413.0,1035.6 L413.6,1036.2 L414.2,1036.8 L414.9,1037.3 L415.5,1037.8 L416.1,1038.2 L416.7,1038.7 L417.4,1039.1 L418.0,1039.5 L418.6,1039.8 L419.2,1040.2 L419.8,1040.5 L420.5,1040.8 L421.1,1041.0 L421.7,1041.3 L422.3,1041.5 L422.9,1041.6 L423.5,1041.8 L424.2,1041.9 L424.8,1042.0 L425.4,1042.1 L426.0,1042.1 L426.7,1042.2 L427.3,1042.3 L428.0,1042.3 L428.7,1042.3 L429.5,1042.4 L430.3,1042.4 L431.0,1042.3 L431.8,1042.3 L432.5,1042.3 L433.1,1042.3 L433.6,1042.3 L434.0,1042.3"/>
<path d="M352.8,1107.5 L353.1,1107.2 L353.6,1106.9 L354.1,1106.5 L354.7,1106.1 L355.4,1105.6 L356.1,1105.1 L356.8,1104.6 L357.5,1104.1 L358.3,1103.6 L359.0,1103.1 L359.7,1102.7 L360.4,1102.2 L361.1,1101.7 L361.9,1101.2 L362.6,1100.7 L363.4,1100.2 L364.1,1099.7 L364.9,1099.2 L365.7,1098.7 L366.4,1098.2 L367.2,1097.7 L367.9,1097.2 L368.7,1096.7 L369.4,1096.2 L370.1,1095.7 L370.9,1095.2 L371.6,1094.7 L372.4,1094.2 L373.1,1093.7 L373.9,1093.2 L374.6,1092.7 L375.4,1092.2 L376.2,1091.7 L377.0,1091.2 L377.8,1090.6 L378.5,1090.1 L379.3,1089.6 L380.0,1089.2 L380.7,1088.7 L381.3,1088.2 L381.9,1087.8 L382.5,1087.3 L383.0,1086.9 L383.5,1086.4 L384.0,1086.0 L384.4,1085.6 L384.9,1085.2 L385.3,1084.9 L385.8,1084.7 L386.3,1084.5 L386.8,1084.4 L387.3,1084.3 L387.8,1084.3 L388.3,1084.3 L388.8,1084.4 L389.3,1084.5 L389.8,1084.7 L390.3,1084.9 L390.8,1085.3 L391.3,1085.8 L391.8,1086.3 L392.3,1087.0 L392.8,1087.8 L393.3,1088.6 L393.7,1089.6 L394.2,1090.5 L394.7,1091.5 L395.2,1092.5 L395.7,1093.5 L396.2,1094.4 L396.7,1095.4 L397.2,1096.4 L397.7,1097.4 L398.2,1098.4 L398.7,1099.4 L399.2,1100.4 L399.7,1101.5 L400.2,1102.5 L400.7,1103.4 L401.2,1104.4 L401.7,1105.3 L402.2,1106.2 L402.7,1107.1 L403.2,1108.0 L403.7,1108.9 L404.2,1109.8 L404.7,1110.6 L405.2,1111.4 L405.7,1112.3 L406.2,1113.1 L406.7,1113.9 L407.2,1114.7 L407.7,1115.5 L408.2,1116.3 L408.7,1117.0 L409.2,1117.8 L409.7,1118.5 L410.2,1119.2 L410.7,1119.9 L411.1,1120.5 L411.6,1121.2 L412.0,1121.8 L412.5,1122.4 L412.9,1122.9 L413.3,1123.5 L413.7,1124.0 L414.1,1124.5 L414.4,1124.9 L414.5,1125.0"/>
<path d="M380.1,1068.4 L380.3,1068.8 L380.6,1069.4 L380.9,1070.2 L381.3,1071.0 L381.7,1071.9 L382.1,1072.7 L382.6,1073.6 L383.0,1074.4 L383.4,1075.2 L383.8,1075.8 L384.2,1076.3 L384.5,1076.8 L384.9,1077.3 L385.2,1077.7 L385.6,1078.1 L386.0,1078.4 L386.3,1078.7 L386.7,1079.0 L387.1,1079.3 L387.5,1079.5 L388.0,1079.8 L388.5,1080.0 L388.9,1080.2 L389.4,1080.4 L389.9,1080.5 L390.5,1080.7 L391.0,1080.8 L391.5,1080.8 L392.0,1080.8 L392.5,1080.8 L393.0,1080.7 L393.5,1080.5 L394.0,1080.3 L394.4,1080.1 L394.9,1079.8 L395.4,1079.5 L395.9,1079.2 L396.4,1078.9 L396.9,1078.6 L397.5,1078.3 L398.0,1078.0 L398.6,1077.8 L399.2,1077.6 L399.8,1077.3 L400.4,1077.1 L401.1,1076.8 L401.7,1076.6 L402.3,1076.3 L403.0,1076.1 L403.7,1075.8 L404.4,1075.6 L405.1,1075.3 L405.8,1075.0 L406.5,1074.8 L407.2,1074.5 L407.9,1074.3 L408.7,1074.0 L409.5,1073.8 L410.3,1073.6 L411.1,1073.3 L412.0,1073.1 L412.9,1072.9 L413.8,1072.7 L414.8,1072.5 L415.8,1072.3 L416.8,1072.1 L417.8,1071.9 L418.9,1071.7 L420.0,1071.6 L421.1,1071.5 L422.3,1071.3 L423.7,1071.3 L425.1,1071.2 L426.7,1071.1 L428.2,1071.0 L429.6,1071.0 L431.0,1070.9 L432.2,1070.9 L433.2,1070.9 L434.0,1070.8"/>
<path d="M410.3,1125.0 L410.3,1125.0 L411.5,1124.6 L412.7,1124.2 L414.1,1123.8 L415.5,1123.4 L416.9,1122.9 L418.4,1122.5 L419.8,1122.1 L421.1,1121.8 L422.4,1121.5 L423.8,1121.2 L425.3,1120.9 L426.8,1120.6 L428.3,1120.3 L429.7,1120.0 L431.1,1119.8 L432.2,1119.6 L433.2,1119.4 L434.0,1119.3"/>
</g>
<line x1="110" y1="898.0" x2="434" y2="898.0" stroke="#2f55b5" stroke-width="2.2" stroke-dasharray="9.8 11.05" stroke-dashoffset="2.05"/>
<line x1="610.8" y1="671" x2="610.8" y2="1125" stroke="#cfcfcf" stroke-width="1.8" stroke-dasharray="2 11.6" stroke-dashoffset="-4.2"/>
<line x1="610.8" y1="671" x2="610.8" y2="676" stroke="#000" stroke-width="1.6"/>
<line x1="610.8" y1="1125" x2="610.8" y2="1120" stroke="#000" stroke-width="1.6"/>
<line x1="692.0" y1="671" x2="692.0" y2="1125" stroke="#cfcfcf" stroke-width="1.8" stroke-dasharray="2 11.6" stroke-dashoffset="-4.2"/>
<line x1="692.0" y1="671" x2="692.0" y2="676" stroke="#000" stroke-width="1.6"/>
<line x1="692.0" y1="1125" x2="692.0" y2="1120" stroke="#000" stroke-width="1.6"/>
<line x1="773.2" y1="671" x2="773.2" y2="1125" stroke="#cfcfcf" stroke-width="1.8" stroke-dasharray="2 11.6" stroke-dashoffset="-4.2"/>
<line x1="773.2" y1="671" x2="773.2" y2="676" stroke="#000" stroke-width="1.6"/>
<line x1="773.2" y1="1125" x2="773.2" y2="1120" stroke="#000" stroke-width="1.6"/>
<line x1="529.5" y1="671.0" x2="535.5" y2="671.0" stroke="#000" stroke-width="1.6"/>
<line x1="854.5" y1="671.0" x2="848.5" y2="671.0" stroke="#000" stroke-width="1.6"/>
<text x="465.98" y="568.33" transform="scale(1.12,1.2)" font-family='"Liberation Serif", serif' font-size="28" font-weight="bold" fill="#000" text-anchor="end" >4</text>
<line x1="529.5" y1="699.4" x2="532.5" y2="699.4" stroke="#000" stroke-width="1.6"/>
<line x1="854.5" y1="699.4" x2="851.5" y2="699.4" stroke="#000" stroke-width="1.6"/>
<line x1="529.5" y1="727.8" x2="535.5" y2="727.8" stroke="#000" stroke-width="1.6"/>
<line x1="854.5" y1="727.8" x2="848.5" y2="727.8" stroke="#000" stroke-width="1.6"/>
<text x="465.98" y="615.62" transform="scale(1.12,1.2)" font-family='"Liberation Serif", serif' font-size="28" font-weight="bold" fill="#000" text-anchor="end" >3</text>
<line x1="529.5" y1="756.1" x2="532.5" y2="756.1" stroke="#000" stroke-width="1.6"/>
<line x1="854.5" y1="756.1" x2="851.5" y2="756.1" stroke="#000" stroke-width="1.6"/>
<line x1="529.5" y1="784.5" x2="535.5" y2="784.5" stroke="#000" stroke-width="1.6"/>
<line x1="854.5" y1="784.5" x2="848.5" y2="784.5" stroke="#000" stroke-width="1.6"/>
<text x="465.98" y="662.92" transform="scale(1.12,1.2)" font-family='"Liberation Serif", serif' font-size="28" font-weight="bold" fill="#000" text-anchor="end" >2</text>
<line x1="529.5" y1="812.9" x2="532.5" y2="812.9" stroke="#000" stroke-width="1.6"/>
<line x1="854.5" y1="812.9" x2="851.5" y2="812.9" stroke="#000" stroke-width="1.6"/>
<line x1="529.5" y1="841.2" x2="535.5" y2="841.2" stroke="#000" stroke-width="1.6"/>
<line x1="854.5" y1="841.2" x2="848.5" y2="841.2" stroke="#000" stroke-width="1.6"/>
<text x="465.98" y="710.21" transform="scale(1.12,1.2)" font-family='"Liberation Serif", serif' font-size="28" font-weight="bold" fill="#000" text-anchor="end" >1</text>
<line x1="529.5" y1="869.6" x2="532.5" y2="869.6" stroke="#000" stroke-width="1.6"/>
<line x1="854.5" y1="869.6" x2="851.5" y2="869.6" stroke="#000" stroke-width="1.6"/>
<line x1="529.5" y1="898.0" x2="535.5" y2="898.0" stroke="#000" stroke-width="1.6"/>
<line x1="854.5" y1="898.0" x2="848.5" y2="898.0" stroke="#000" stroke-width="1.6"/>
<text x="465.98" y="757.50" transform="scale(1.12,1.2)" font-family='"Liberation Serif", serif' font-size="28" font-weight="bold" fill="#000" text-anchor="end" >0</text>
<line x1="529.5" y1="926.4" x2="532.5" y2="926.4" stroke="#000" stroke-width="1.6"/>
<line x1="854.5" y1="926.4" x2="851.5" y2="926.4" stroke="#000" stroke-width="1.6"/>
<line x1="529.5" y1="954.8" x2="535.5" y2="954.8" stroke="#000" stroke-width="1.6"/>
<line x1="854.5" y1="954.8" x2="848.5" y2="954.8" stroke="#000" stroke-width="1.6"/>
<text x="465.98" y="804.79" transform="scale(1.12,1.2)" font-family='"Liberation Serif", serif' font-size="28" font-weight="bold" fill="#000" text-anchor="end" >1</text>
<rect x="496.3" y="955.8" width="9.6" height="3.3" fill="#000"/>
<line x1="529.5" y1="983.1" x2="532.5" y2="983.1" stroke="#000" stroke-width="1.6"/>
<line x1="854.5" y1="983.1" x2="851.5" y2="983.1" stroke="#000" stroke-width="1.6"/>
<line x1="529.5" y1="1011.5" x2="535.5" y2="1011.5" stroke="#000" stroke-width="1.6"/>
<line x1="854.5" y1="1011.5" x2="848.5" y2="1011.5" stroke="#000" stroke-width="1.6"/>
<text x="465.98" y="852.08" transform="scale(1.12,1.2)" font-family='"Liberation Serif", serif' font-size="28" font-weight="bold" fill="#000" text-anchor="end" >2</text>
<rect x="496.3" y="1012.5" width="9.6" height="3.3" fill="#000"/>
<line x1="529.5" y1="1039.9" x2="532.5" y2="1039.9" stroke="#000" stroke-width="1.6"/>
<line x1="854.5" y1="1039.9" x2="851.5" y2="1039.9" stroke="#000" stroke-width="1.6"/>
<line x1="529.5" y1="1068.2" x2="535.5" y2="1068.2" stroke="#000" stroke-width="1.6"/>
<line x1="854.5" y1="1068.2" x2="848.5" y2="1068.2" stroke="#000" stroke-width="1.6"/>
<text x="465.98" y="899.38" transform="scale(1.12,1.2)" font-family='"Liberation Serif", serif' font-size="28" font-weight="bold" fill="#000" text-anchor="end" >3</text>
<rect x="496.3" y="1069.2" width="9.6" height="3.3" fill="#000"/>
<line x1="529.5" y1="1096.6" x2="532.5" y2="1096.6" stroke="#000" stroke-width="1.6"/>
<line x1="854.5" y1="1096.6" x2="851.5" y2="1096.6" stroke="#000" stroke-width="1.6"/>
<line x1="529.5" y1="1125.0" x2="535.5" y2="1125.0" stroke="#000" stroke-width="1.6"/>
<line x1="854.5" y1="1125.0" x2="848.5" y2="1125.0" stroke="#000" stroke-width="1.6"/>
<text x="465.98" y="946.67" transform="scale(1.12,1.2)" font-family='"Liberation Serif", serif' font-size="28" font-weight="bold" fill="#000" text-anchor="end" >4</text>
<rect x="496.3" y="1126.0" width="9.6" height="3.3" fill="#000"/>
<rect x="529.5" y="671" width="325.0" height="454" fill="none" stroke="#000" stroke-width="2"/>
<text x="532.50" y="1060.45" transform="scale(1.0,1.1)" font-family='"Liberation Serif", serif' font-size="36" font-weight="normal" fill="#000" text-anchor="middle" stroke="#000" stroke-width="0.6">Γ</text>
<text x="613.75" y="1060.45" transform="scale(1.0,1.1)" font-family='"Liberation Serif", serif' font-size="36" font-weight="normal" fill="#000" text-anchor="middle" stroke="#000" stroke-width="0.6">Z</text>
<text x="695.00" y="1060.45" transform="scale(1.0,1.1)" font-family='"Liberation Serif", serif' font-size="36" font-weight="normal" fill="#000" text-anchor="middle" stroke="#000" stroke-width="0.6">T</text>
<text x="776.25" y="1060.45" transform="scale(1.0,1.1)" font-family='"Liberation Serif", serif' font-size="36" font-weight="normal" fill="#000" text-anchor="middle" stroke="#000" stroke-width="0.6">Y</text>
<text x="857.50" y="1060.45" transform="scale(1.0,1.1)" font-family='"Liberation Serif", serif' font-size="36" font-weight="normal" fill="#000" text-anchor="middle" stroke="#000" stroke-width="0.6">Γ</text>
<clipPath id="clipe"><rect x="529.5" y="671" width="325.0" height="454"/></clipPath>
<g clip-path="url(#clipe)" fill="none" stroke="#000" stroke-width="2.6" stroke-linejoin="round" stroke-linecap="round">
<path d="M529.0,811.0 L529.5,811.0 L530.1,810.9 L530.8,810.8 L531.6,810.7 L532.5,810.6 L533.4,810.4 L534.3,810.3 L535.2,810.1 L536.1,809.9 L536.9,809.7 L537.7,809.5 L538.5,809.3 L539.3,809.1 L540.1,808.8 L540.9,808.6 L541.7,808.3 L542.5,808.0 L543.3,807.7 L544.1,807.4 L544.9,807.1 L545.6,806.7 L546.4,806.4 L547.2,806.0 L548.0,805.6 L548.8,805.2 L549.6,804.8 L550.4,804.4 L551.2,803.9 L552.0,803.5 L552.8,803.1 L553.6,802.7 L554.4,802.3 L555.2,801.9 L556.0,801.5 L556.8,801.1 L557.6,800.7 L558.4,800.3 L559.2,800.0 L560.0,799.6 L560.7,799.2 L561.4,798.8 L562.2,798.3 L562.9,797.9 L563.6,797.4 L564.3,797.0 L564.9,796.6 L565.6,796.2 L566.2,795.8 L566.8,795.5 L567.3,795.2 L567.8,794.9 L568.3,794.7 L568.7,794.5 L569.1,794.4 L569.5,794.2 L569.8,794.1 L570.2,794.0 L570.5,794.0 L570.9,793.9 L571.3,793.9 L571.7,793.8 L572.1,793.8 L572.5,793.8 L572.9,793.9 L573.3,793.9 L573.7,794.0 L574.1,794.1 L574.5,794.2 L574.8,794.4 L575.2,794.5 L575.6,794.8 L576.0,795.0 L576.4,795.3 L576.8,795.7 L577.1,796.0 L577.5,796.4 L577.9,796.8 L578.3,797.1 L578.8,797.5 L579.2,797.8 L579.7,798.2 L580.2,798.5 L580.7,798.9 L581.2,799.3 L581.7,799.6 L582.2,800.0 L582.8,800.3 L583.3,800.6 L583.9,800.9 L584.5,801.1 L585.1,801.4 L585.7,801.6 L586.4,801.7 L587.0,801.9 L587.7,802.0 L588.4,802.2 L589.1,802.3 L589.8,802.4 L590.4,802.4 L591.1,802.5 L591.8,802.5 L592.4,802.5 L593.1,802.5 L593.8,802.4 L594.5,802.4 L595.2,802.3 L595.8,802.2 L596.5,802.1 L597.1,802.0 L597.7,801.8 L598.3,801.6 L598.8,801.4 L599.4,801.2 L599.9,801.0 L600.4,800.7 L600.9,800.5 L601.4,800.2 L602.0,799.8 L602.5,799.5 L603.0,799.2 L603.5,798.8 L604.1,798.3 L604.7,797.9 L605.2,797.4 L605.8,796.8 L606.3,796.3 L606.9,795.8 L607.4,795.4 L607.9,794.9 L608.3,794.5 L608.6,794.2 L608.9,793.9 L609.1,793.6 L609.3,793.3 L609.4,793.0 L609.6,792.8 L609.8,792.5 L610.1,792.3 L610.4,792.1 L610.9,791.9 L611.5,791.7 L612.2,791.6 L612.9,791.4 L613.7,791.3 L614.5,791.2 L615.4,791.1 L616.3,791.0 L617.2,790.9 L618.0,790.7 L618.8,790.6 L619.6,790.4 L620.4,790.2 L621.2,790.1 L622.0,789.9 L622.8,789.7 L623.6,789.6 L624.4,789.3 L625.2,789.1 L626.0,788.9 L626.8,788.6 L627.6,788.3 L628.4,787.9 L629.1,787.6 L629.9,787.2 L630.7,786.8 L631.5,786.4 L632.3,785.9 L633.1,785.5 L633.9,785.1 L634.7,784.6 L635.5,784.2 L636.3,783.7 L637.1,783.3 L637.9,782.9 L638.8,782.5 L639.6,782.1 L640.4,781.7 L641.1,781.3 L641.9,780.9 L642.0,780.8"/>
<path d="M529.0,738.4 L529.3,738.4 L529.7,738.5 L530.2,738.5 L530.7,738.6 L531.3,738.6 L531.9,738.7 L532.5,738.9 L533.1,739.1 L533.7,739.4 L534.3,739.7 L534.8,740.2 L535.3,740.7 L535.9,741.3 L536.4,742.0 L536.9,742.7 L537.5,743.4 L538.0,744.2 L538.5,744.9 L539.0,745.6 L539.6,746.3 L540.1,747.0 L540.6,747.6 L541.2,748.3 L541.7,749.0 L542.2,749.6 L542.7,750.3 L543.3,750.9 L543.8,751.6 L544.3,752.3 L544.9,752.9 L545.4,753.6 L545.9,754.2 L546.4,754.9 L547.0,755.5 L547.5,756.1 L548.0,756.8 L548.6,757.4 L549.1,758.1 L549.6,758.8 L550.1,759.5 L550.7,760.3 L551.2,761.0 L551.7,761.8 L552.3,762.6 L552.8,763.4 L553.3,764.2 L553.8,765.0 L554.4,765.8 L554.9,766.7 L555.4,767.4 L556.0,768.2 L556.5,769.0 L557.0,769.8 L557.5,770.6 L558.1,771.4 L558.6,772.2 L559.1,773.0 L559.7,773.8 L560.2,774.6 L560.7,775.4 L561.2,776.2 L561.8,777.0 L562.3,777.8 L562.9,778.7 L563.4,779.5 L564.0,780.3 L564.5,781.1 L565.0,781.9 L565.5,782.6 L566.0,783.3 L566.4,784.0 L566.9,784.6 L567.2,785.2 L567.6,785.7 L568.0,786.3 L568.3,786.8 L568.7,787.3 L569.1,787.7 L569.5,788.2 L570.0,788.6 L570.4,789.0 L570.9,789.4 L571.4,789.8 L572.0,790.2 L572.5,790.5 L573.1,790.8 L573.6,791.0 L574.2,791.2 L574.7,791.2 L575.2,791.2 L575.8,791.1 L576.3,790.9 L576.8,790.6 L577.4,790.2 L577.9,789.7 L578.4,789.3 L578.9,788.8 L579.5,788.3 L580.0,787.7 L580.5,787.3 L581.1,786.8 L581.6,786.3 L582.1,785.8 L582.6,785.2 L583.1,784.7 L583.6,784.1 L584.1,783.6 L584.7,783.0 L585.2,782.5 L585.8,782.0 L586.4,781.5 L587.0,781.0 L587.7,780.5 L588.4,780.0 L589.0,779.5 L589.7,779.0 L590.4,778.6 L591.1,778.1 L591.8,777.7 L592.4,777.4 L593.1,777.0 L593.8,776.7 L594.6,776.3 L595.4,776.0 L596.1,775.7 L596.9,775.5 L597.5,775.3 L598.1,775.0 L598.6,774.9 L599.0,774.7"/>
<path d="M529.0,762.2 L529.5,762.2 L530.1,762.2 L530.8,762.2 L531.6,762.2 L532.5,762.2 L533.4,762.2 L534.3,762.2 L535.2,762.2 L536.1,762.2 L536.9,762.2 L537.7,762.1 L538.5,762.1 L539.3,762.0 L540.1,761.9 L540.9,761.9 L541.7,761.8 L542.5,761.7 L543.3,761.6 L544.1,761.6 L544.9,761.5 L545.6,761.4 L546.4,761.4 L547.2,761.4 L548.0,761.3 L548.8,761.3 L549.6,761.3 L550.4,761.2 L551.2,761.1 L552.0,761.0 L552.8,760.8 L553.6,760.7 L554.4,760.4 L555.2,760.2 L556.0,759.9 L556.7,759.6 L557.5,759.4 L558.3,759.1 L559.1,758.8 L559.9,758.5 L560.7,758.2 L561.5,757.9 L562.3,757.7 L563.1,757.4 L563.9,757.1 L564.7,756.8 L565.5,756.5 L566.3,756.3 L567.1,756.0 L567.8,755.8 L568.6,755.6 L569.4,755.4 L570.3,755.2 L571.1,755.0 L571.9,754.9 L572.8,754.7 L573.6,754.6 L574.4,754.5 L575.1,754.4 L575.9,754.3 L576.6,754.2 L577.2,754.2 L577.8,754.1 L578.4,754.1 L578.9,754.0 L579.5,754.0 L580.0,754.0 L580.4,754.0 L580.9,754.0 L581.4,754.1 L581.8,754.2 L582.3,754.4 L582.7,754.5 L583.1,754.7 L583.5,754.9 L583.9,755.1 L584.3,755.4 L584.7,755.7 L585.0,756.1 L585.4,756.4 L585.8,756.9 L586.2,757.4 L586.6,757.9 L587.0,758.5 L587.3,759.2 L587.7,759.9 L588.1,760.6 L588.5,761.3 L588.9,762.0 L589.3,762.8 L589.8,763.5 L590.3,764.2 L590.7,765.0 L591.3,765.8 L591.8,766.6 L592.3,767.4 L592.9,768.3 L593.4,769.1 L594.0,769.9 L594.5,770.7 L595.1,771.4 L595.6,772.1 L596.1,772.8 L596.6,773.5 L597.2,774.2 L597.7,774.8 L598.2,775.4 L598.8,776.1 L599.3,776.7 L599.8,777.4 L600.3,778.0 L600.9,778.7 L601.4,779.3 L602.0,780.0 L602.5,780.7 L603.0,781.3 L603.6,782.0 L604.1,782.6 L604.6,783.3 L605.1,784.0 L605.6,784.6 L606.1,785.3 L606.7,786.1 L607.2,786.8 L607.8,787.6 L608.3,788.3 L608.8,789.1 L609.2,789.7 L609.6,790.3 L610.0,790.8 L610.3,791.2"/>
<path d="M529.0,765.5 L529.8,765.5 L530.8,765.5 L532.0,765.5 L533.3,765.6 L534.8,765.6 L536.3,765.6 L537.8,765.7 L539.4,765.8 L540.8,766.0 L542.2,766.1 L543.5,766.4 L544.9,766.6 L546.2,767.0 L547.5,767.3 L548.8,767.7 L550.1,768.1 L551.5,768.5 L552.8,768.8 L554.1,769.1 L555.4,769.4 L556.7,769.7 L558.1,769.9 L559.4,770.2 L560.7,770.4 L562.0,770.6 L563.4,770.8 L564.7,770.9 L566.0,771.1 L567.3,771.3 L568.6,771.4 L570.0,771.6 L571.3,771.7 L572.6,771.8 L573.9,771.9 L575.2,772.0 L576.6,772.1 L577.9,772.2 L579.2,772.3 L580.5,772.4 L581.8,772.5 L583.2,772.6 L584.6,772.7 L586.0,772.8 L587.4,772.9 L588.8,773.0 L590.2,773.1 L591.5,773.2 L592.8,773.3 L594.0,773.4 L595.1,773.4 L596.1,773.4 L596.9,773.4 L597.7,773.3 L598.5,773.2 L599.2,773.1 L599.9,773.0 L600.6,772.9 L601.3,772.8 L602.1,772.8 L603.0,772.7 L603.9,772.7 L604.9,772.7 L606.0,772.6 L607.0,772.6 L608.1,772.6 L609.2,772.6 L610.3,772.6 L611.4,772.6 L612.5,772.7 L613.6,772.7 L614.6,772.8 L615.7,773.0 L616.7,773.1 L617.8,773.3 L618.8,773.5 L619.9,773.7 L621.0,774.0 L622.0,774.2 L623.1,774.5 L624.1,774.7 L625.2,775.0 L626.3,775.3 L627.4,775.6 L628.5,776.0 L629.6,776.3 L630.7,776.7 L631.7,777.0 L632.8,777.4 L633.7,777.7 L634.7,778.0 L635.6,778.3 L636.5,778.7 L637.3,778.9 L638.1,779.2 L638.9,779.4 L639.7,779.6 L640.4,779.8 L641.2,779.8 L641.9,779.8 L642.0,779.7"/>
<path d="M529.0,717.2 L529.4,717.4 L529.9,717.6 L530.5,717.8 L531.2,718.0 L531.9,718.3 L532.6,718.6 L533.4,718.9 L534.2,719.2 L534.9,719.6 L535.6,719.9 L536.3,720.2 L536.9,720.6 L537.6,720.9 L538.2,721.3 L538.9,721.7 L539.6,722.1 L540.2,722.5 L540.9,723.0 L541.6,723.4 L542.2,723.8 L542.9,724.3 L543.5,724.8 L544.2,725.3 L544.9,725.9 L545.5,726.4 L546.2,727.0 L546.8,727.5 L547.5,728.1 L548.2,728.6 L548.8,729.1 L549.5,729.7 L550.1,730.2 L550.8,730.8 L551.5,731.3 L552.1,731.9 L552.8,732.4 L553.4,732.9 L554.1,733.4 L554.8,733.9 L555.4,734.4 L556.1,734.9 L556.7,735.3 L557.4,735.7 L558.1,736.1 L558.7,736.5 L559.4,736.9 L560.0,737.3 L560.7,737.7 L561.4,738.0 L562.0,738.4 L562.7,738.7 L563.4,739.1 L564.0,739.5 L564.7,739.8 L565.3,740.2 L566.0,740.5 L566.7,740.8 L567.3,741.1 L568.0,741.4 L568.6,741.7 L569.3,741.9 L570.0,742.2 L570.6,742.4 L571.3,742.6 L571.9,742.9 L572.6,743.1 L573.3,743.2 L573.9,743.4 L574.6,743.5 L575.2,743.7 L575.9,743.8 L576.6,743.9 L577.2,744.0 L577.9,744.0 L578.5,744.1 L579.2,744.1 L579.9,744.1 L580.5,744.1 L581.2,744.1 L581.8,744.1 L582.5,744.0 L583.2,743.9 L583.8,743.8 L584.5,743.7 L585.2,743.6 L585.8,743.4 L586.5,743.2 L587.1,743.0 L587.8,742.7 L588.5,742.3 L589.1,742.0 L589.8,741.6 L590.4,741.1 L591.1,740.6 L591.8,740.1 L592.4,739.5 L593.1,739.0 L593.7,738.3 L594.4,737.7 L595.1,737.1 L595.7,736.4 L596.4,735.6 L597.1,734.9 L597.8,734.1 L598.4,733.3 L599.1,732.4 L599.8,731.6 L600.4,730.8 L601.1,729.9 L601.7,729.1 L602.3,728.3 L602.8,727.5 L603.4,726.7 L603.9,725.8 L604.5,725.0 L605.0,724.1 L605.5,723.3 L606.0,722.6 L606.5,721.9 L607.0,721.2 L607.4,720.6 L607.8,720.0 L608.1,719.5 L608.4,718.9 L608.8,718.4 L609.1,718.0 L609.5,717.6 L609.9,717.2 L610.4,716.9 L610.9,716.6 L611.5,716.3 L612.2,716.2 L613.0,716.1 L613.7,716.0 L614.5,715.9 L615.4,715.9 L616.2,715.9 L617.1,715.9 L618.0,715.9 L618.8,715.9 L619.7,715.9 L620.6,716.0 L621.5,716.0 L622.4,716.1 L623.3,716.1 L624.2,716.2 L625.2,716.3 L626.1,716.4 L627.1,716.5 L628.1,716.6 L629.1,716.7 L630.1,716.8 L631.2,717.0 L632.2,717.1 L633.3,717.2 L634.4,717.4 L635.5,717.5 L636.5,717.6 L637.6,717.7 L638.7,717.8 L639.7,717.8 L640.9,717.9 L642.0,717.9"/>
<path d="M555.4,671.0 L555.7,671.4 L556.1,671.9 L556.6,672.4 L557.2,673.0 L557.7,673.7 L558.3,674.5 L559.0,675.2 L559.6,676.0 L560.2,676.8 L560.7,677.6 L561.2,678.4 L561.8,679.3 L562.3,680.2 L562.8,681.2 L563.4,682.1 L563.9,683.1 L564.4,684.1 L564.9,685.0 L565.5,686.0 L566.0,686.9 L566.5,687.7 L567.1,688.5 L567.6,689.3 L568.1,690.1 L568.6,690.9 L569.2,691.7 L569.7,692.4 L570.2,693.2 L570.8,694.0 L571.3,694.8 L571.8,695.6 L572.3,696.4 L572.9,697.3 L573.4,698.1 L573.9,699.0 L574.5,699.8 L575.0,700.6 L575.5,701.4 L576.0,702.1 L576.6,702.7 L577.1,703.3 L577.6,703.8 L578.1,704.4 L578.7,704.8 L579.2,705.3 L579.7,705.7 L580.3,706.0 L580.8,706.3 L581.3,706.5 L581.8,706.7 L582.4,706.8 L582.9,706.8 L583.4,706.8 L583.8,706.8 L584.3,706.7 L584.8,706.5 L585.4,706.3 L585.9,706.0 L586.5,705.7 L587.1,705.4 L587.8,704.9 L588.6,704.4 L589.3,703.8 L590.1,703.2 L590.9,702.5 L591.8,701.7 L592.6,701.0 L593.4,700.2 L594.3,699.5 L595.1,698.7 L595.9,698.0 L596.7,697.2 L597.5,696.4 L598.3,695.6 L599.1,694.8 L599.9,694.0 L600.7,693.2 L601.5,692.4 L602.2,691.6 L603.0,690.8 L603.7,690.0 L604.4,689.2 L605.1,688.4 L605.7,687.6 L606.4,686.8 L607.0,686.0 L607.7,685.3 L608.3,684.6 L608.9,684.0 L609.6,683.6 L610.2,683.2 L610.9,682.9 L611.5,682.7 L612.2,682.6 L612.8,682.5 L613.5,682.4 L614.1,682.4 L614.8,682.4 L615.5,682.3 L616.2,682.2 L616.9,682.1 L617.7,682.1 L618.5,682.1 L619.3,682.0 L620.1,682.0 L620.9,682.0 L621.7,681.9 L622.5,681.9 L623.3,681.7 L624.1,681.6 L624.9,681.3 L625.7,681.1 L626.5,680.8 L627.3,680.4 L628.1,680.1 L628.9,679.7 L629.7,679.3 L630.5,679.0 L631.3,678.6 L632.1,678.3 L632.8,677.9 L633.6,677.6 L634.4,677.2 L635.2,676.9 L636.0,676.5 L636.7,676.2 L637.5,675.9 L638.3,675.6 L639.1,675.3 L640.0,675.0 L640.9,674.7 L641.9,674.5 L642.0,674.5"/>
<path d="M609.6,683.6 L610.1,683.5 L610.8,683.5 L611.6,683.5 L612.6,683.5 L613.6,683.5 L614.6,683.5 L615.7,683.5 L616.8,683.5 L617.8,683.5 L618.8,683.6 L619.8,683.6 L620.9,683.6 L621.9,683.7 L623.0,683.8 L624.0,683.8 L625.1,683.9 L626.2,684.0 L627.3,684.1 L628.3,684.1 L629.4,684.2 L630.5,684.3 L631.6,684.4 L632.6,684.4 L633.7,684.5 L634.8,684.5 L635.9,684.5 L636.9,684.6 L638.0,684.6 L639.0,684.6 L640.0,684.5 L641.0,684.5 L642.0,684.5"/>
<path d="M604.3,671.0 L604.6,671.4 L604.9,671.9 L605.3,672.5 L605.7,673.2 L606.2,673.9 L606.7,674.7 L607.2,675.5 L607.6,676.2 L608.0,676.9 L608.3,677.6 L608.5,678.3 L608.7,678.9 L608.9,679.6 L609.1,680.3 L609.2,681.0 L609.3,681.6 L609.4,682.2 L609.5,682.8 L609.5,683.2 L609.6,683.6"/>
<path d="M642.0,684.5 L642.1,684.4 L643.3,684.4 L644.5,684.4 L645.6,684.4 L646.6,684.4 L647.7,684.4 L648.7,684.4 L649.8,684.4 L650.9,684.4 L651.9,684.4 L653.0,684.4 L654.0,684.3 L655.1,684.3 L656.1,684.2 L657.2,684.1 L658.3,684.0 L659.3,683.8 L660.4,683.7 L661.4,683.5 L662.5,683.3 L663.5,683.0 L664.6,682.8 L665.7,682.5 L666.7,682.2 L667.8,681.9 L668.9,681.6 L670.0,681.2 L671.1,680.8 L672.2,680.4 L673.2,679.9 L674.3,679.5 L675.3,679.1 L676.3,678.7 L677.3,678.3 L678.2,677.9 L679.1,677.4 L679.9,677.0 L680.8,676.6 L681.6,676.2 L682.4,675.7 L683.1,675.3 L683.8,675.0 L684.5,674.6 L685.2,674.3 L685.8,674.0 L686.4,673.6 L686.9,673.3 L687.4,673.0 L687.9,672.7 L688.4,672.4 L688.9,672.2 L689.4,672.1 L689.9,672.2 L690.5,672.3 L691.1,672.6 L691.7,673.1 L692.4,673.6 L693.0,674.2 L693.7,674.9 L694.4,675.7 L695.1,676.5 L695.8,677.3 L696.4,678.1 L697.1,678.9 L697.8,679.8 L698.4,680.7 L699.0,681.6 L699.7,682.6 L700.3,683.6 L701.0,684.5 L701.6,685.5 L702.3,686.5 L703.0,687.3 L703.7,688.2 L704.4,688.9 L705.2,689.7 L705.9,690.4 L706.7,691.1 L707.5,691.7 L708.3,692.4 L709.1,693.0 L709.9,693.6 L710.8,694.2 L711.6,694.8 L712.5,695.4 L713.4,696.0 L714.3,696.5 L715.2,697.1 L716.2,697.6 L717.1,698.2 L718.1,698.7 L719.0,699.2 L719.9,699.6 L720.9,700.1 L721.8,700.5 L722.7,700.9 L723.6,701.3 L724.5,701.7 L725.4,702.0 L726.3,702.3 L727.3,702.6 L728.2,702.9 L729.1,703.2 L730.1,703.4 L731.1,703.5 L732.1,703.7 L733.1,703.8 L734.1,703.9 L735.1,703.9 L736.1,703.9 L737.2,703.9 L738.3,703.9 L739.5,703.9 L740.7,703.9 L742.0,703.9 L743.5,703.9 L745.0,703.8"/>
<path d="M642.0,674.5 L642.1,674.5 L642.9,674.3 L643.7,674.1 L644.6,673.9 L645.4,673.7 L646.2,673.5 L647.1,673.3 L647.9,673.1 L648.7,672.9 L649.4,672.7 L650.2,672.5 L650.9,672.3 L651.5,672.2 L652.2,672.0 L652.8,671.8 L653.4,671.7 L654.0,671.5 L654.5,671.4 L655.0,671.3 L655.5,671.2 L655.8,671.1 L656.1,671.0"/>
<path d="M642.0,717.9 L642.1,717.9 L643.3,717.9 L644.5,718.0 L645.6,718.0 L646.6,718.1 L647.7,718.1 L648.7,718.2 L649.8,718.3 L650.9,718.4 L651.9,718.5 L653.0,718.6 L654.0,718.6 L655.1,718.6 L656.1,718.6 L657.2,718.5 L658.3,718.4 L659.3,718.2 L660.4,718.1 L661.4,717.9 L662.5,717.6 L663.5,717.4 L664.6,717.1 L665.7,716.9 L666.7,716.6 L667.8,716.3 L668.9,715.9 L670.0,715.5 L671.1,715.1 L672.2,714.7 L673.2,714.3 L674.3,713.8 L675.3,713.4 L676.3,713.0 L677.3,712.6 L678.2,712.3 L679.1,711.9 L679.9,711.6 L680.7,711.2 L681.5,710.9 L682.3,710.6 L683.1,710.2 L683.8,709.9 L684.5,709.6 L685.2,709.3 L685.9,709.0 L686.5,708.6 L687.1,708.1 L687.7,707.7 L688.3,707.3 L688.9,706.9 L689.4,706.7 L690.0,706.5 L690.6,706.5 L691.2,706.7 L691.7,707.0 L692.3,707.6 L692.9,708.2 L693.5,709.0 L694.1,709.9 L694.7,710.8 L695.3,711.8 L695.9,712.8 L696.5,713.7 L697.1,714.6 L697.7,715.5 L698.4,716.4 L699.0,717.4 L699.6,718.3 L700.3,719.3 L700.9,720.3 L701.6,721.2 L702.3,722.1 L703.0,723.0 L703.7,723.8 L704.4,724.6 L705.2,725.4 L705.9,726.1 L706.7,726.7 L707.5,727.4 L708.3,728.0 L709.1,728.7 L709.9,729.3 L710.8,729.9 L711.6,730.5 L712.5,731.0 L713.4,731.6 L714.3,732.2 L715.2,732.8 L716.1,733.3 L717.0,733.9 L718.0,734.4 L718.9,734.9 L719.9,735.3 L720.9,735.7 L721.9,736.1 L722.9,736.5 L723.9,736.8 L724.9,737.1 L726.0,737.4 L727.1,737.6 L728.1,737.8 L729.2,738.0 L730.3,738.2 L731.4,738.4 L732.6,738.5 L733.7,738.7 L734.9,738.7 L736.1,738.8 L737.3,738.8 L738.5,738.8 L739.8,738.8 L741.0,738.7 L742.2,738.7 L743.3,738.7 L744.6,738.7 L745.0,738.6"/>
<path d="M642.0,780.8 L642.1,780.8 L642.9,780.3 L643.7,779.9 L644.5,779.4 L645.3,778.9 L646.1,778.4 L646.9,778.0 L647.7,777.5 L648.5,777.0 L649.3,776.4 L650.1,775.9 L650.9,775.4 L651.6,774.8 L652.4,774.3 L653.2,773.7 L654.0,773.2 L654.8,772.7 L655.6,772.1 L656.4,771.6 L657.2,771.1 L658.0,770.6 L658.8,770.1 L659.6,769.6 L660.4,769.2 L661.2,768.7 L662.0,768.3 L662.7,767.9 L663.5,767.5 L664.3,767.1 L665.1,766.8 L665.9,766.4 L666.7,766.1 L667.5,765.8 L668.3,765.6 L669.1,765.3 L669.9,765.1 L670.7,764.8 L671.5,764.7 L672.3,764.5 L673.1,764.3 L673.8,764.2 L674.6,764.1 L675.4,764.1 L676.2,764.1 L677.0,764.1 L677.8,764.2 L678.6,764.3 L679.4,764.4 L680.2,764.5 L681.0,764.6 L681.8,764.7 L682.6,764.8 L683.4,764.9 L684.1,765.1 L684.9,765.3 L685.7,765.5 L686.5,765.7 L687.3,765.9 L688.1,766.0 L688.9,766.1 L689.7,766.2 L690.5,766.1 L691.3,766.0 L692.1,765.8 L692.9,765.6 L693.7,765.3 L694.5,765.0 L695.2,764.7 L696.0,764.4 L696.8,764.0 L697.6,763.7 L698.4,763.5 L699.2,763.3 L700.0,763.0 L700.7,762.8 L701.5,762.6 L702.2,762.4 L703.0,762.2 L703.8,762.0 L704.6,761.8 L705.4,761.6 L706.3,761.5 L707.3,761.4 L708.3,761.3 L709.3,761.1 L710.4,761.0 L711.5,761.0 L712.6,760.9 L713.7,760.9 L714.8,760.8 L715.8,760.8 L716.9,760.8 L718.0,760.9 L719.0,761.0 L720.1,761.1 L721.1,761.3 L722.2,761.4 L723.3,761.6 L724.3,761.8 L725.4,761.9 L726.4,762.1 L727.5,762.2 L728.5,762.3 L729.6,762.4 L730.7,762.5 L731.7,762.6 L732.8,762.7 L733.8,762.7 L734.9,762.8 L735.9,762.8 L737.0,762.8 L738.1,762.8 L739.1,762.7 L740.2,762.5 L741.4,762.3 L742.5,762.2 L743.6,761.9 L744.7,761.7 L745.0,761.6"/>
<path d="M642.0,779.7 L642.1,779.6 L642.9,779.4 L643.7,779.3 L644.5,779.2 L645.3,779.1 L646.1,779.1 L646.9,779.0 L647.7,779.0 L648.5,779.0 L649.3,779.1 L650.1,779.1 L650.9,779.1 L651.6,779.0 L652.4,779.0 L653.2,778.9 L654.0,778.8 L654.8,778.7 L655.6,778.6 L656.4,778.5 L657.2,778.4 L658.0,778.2 L658.8,778.0 L659.6,777.8 L660.4,777.6 L661.2,777.3 L662.0,777.1 L662.7,776.8 L663.5,776.5 L664.3,776.2 L665.1,775.9 L665.9,775.6 L666.7,775.4 L667.5,775.1 L668.3,774.9 L669.1,774.6 L669.9,774.4 L670.7,774.1 L671.5,773.8 L672.3,773.6 L673.1,773.3 L673.8,773.0 L674.6,772.7 L675.4,772.4 L676.2,772.1 L677.0,771.8 L677.8,771.4 L678.6,771.1 L679.4,770.7 L680.2,770.4 L681.0,770.1 L681.8,769.7 L682.6,769.4 L683.4,769.1 L684.1,768.8 L684.9,768.4 L685.7,768.1 L686.5,767.7 L687.3,767.4 L688.1,767.2 L688.9,767.0 L689.7,766.8 L690.5,766.8 L691.3,766.8 L692.1,766.9 L692.9,767.1 L693.7,767.4 L694.5,767.7 L695.2,768.0 L696.0,768.3 L696.8,768.7 L697.6,769.1 L698.4,769.4 L699.2,769.8 L700.0,770.2 L700.8,770.7 L701.6,771.1 L702.4,771.6 L703.2,772.1 L704.0,772.6 L704.8,773.1 L705.6,773.6 L706.3,774.1 L707.1,774.6 L707.9,775.1 L708.7,775.6 L709.5,776.1 L710.3,776.7 L711.1,777.2 L711.9,777.7 L712.7,778.3 L713.5,778.8 L714.3,779.3 L715.1,779.9 L715.9,780.4 L716.7,780.9 L717.4,781.5 L718.2,782.0 L719.0,782.5 L719.8,783.0 L720.6,783.6 L721.4,784.1 L722.2,784.6 L723.0,785.2 L723.8,785.7 L724.6,786.2 L725.4,786.7 L726.2,787.3 L727.0,787.8 L727.7,788.3 L728.5,788.9 L729.3,789.4 L730.1,789.9 L730.9,790.4 L731.7,791.0 L732.5,791.5 L733.3,792.0 L734.1,792.6 L734.9,793.1 L735.7,793.6 L736.5,794.1 L737.3,794.7 L738.1,795.2 L738.8,795.7 L739.6,796.2 L740.4,796.6 L741.2,797.0 L742.0,797.5 L742.7,797.9 L743.5,798.3 L744.3,798.7 L745.0,799.0"/>
<path d="M745.0,703.8 L745.4,703.8 L746.8,703.9 L748.2,703.9 L749.5,703.9 L750.9,703.9 L752.2,703.8 L753.5,703.8 L754.8,703.7 L756.1,703.7 L757.5,703.6 L758.8,703.5 L760.1,703.5 L761.4,703.4 L762.8,703.3 L764.2,703.2 L765.6,703.1 L767.0,703.0 L768.4,702.8 L769.7,702.7 L771.1,702.6 L772.3,702.4 L773.5,702.2 L774.6,702.0 L775.6,701.8 L776.6,701.6 L777.4,701.4 L778.2,701.1 L778.9,700.9 L779.6,700.6 L780.4,700.3 L781.1,700.0 L781.8,699.7 L782.6,699.4 L783.3,699.1 L784.1,698.8 L784.9,698.5 L785.6,698.2 L786.4,697.9 L787.1,697.6 L787.9,697.2 L788.7,696.9 L789.6,696.5 L790.5,696.1 L791.4,695.7 L792.4,695.3 L793.5,694.8 L794.5,694.3 L795.6,693.9 L796.7,693.4 L797.8,692.9 L798.9,692.4 L800.0,691.9 L801.1,691.5 L802.1,691.0 L803.2,690.6 L804.2,690.1 L805.3,689.7 L806.3,689.2 L807.4,688.8 L808.5,688.3 L809.5,687.8 L810.6,687.3 L811.6,686.9 L812.7,686.4 L813.7,685.9 L814.8,685.3 L815.9,684.8 L816.9,684.3 L818.0,683.8 L819.0,683.2 L820.1,682.7 L821.1,682.1 L822.2,681.6 L823.3,681.0 L824.4,680.4 L825.5,679.8 L826.6,679.1 L827.7,678.5 L828.7,677.8 L829.8,677.2 L830.8,676.7 L831.8,676.1 L832.8,675.6 L833.7,675.2 L834.5,674.8 L835.3,674.4 L836.1,674.0 L836.9,673.7 L837.7,673.4 L838.4,673.1 L839.2,672.8 L839.9,672.6 L840.7,672.3 L841.5,672.1 L842.4,671.9 L843.3,671.7 L844.2,671.6 L845.2,671.5 L846.0,671.3 L846.8,671.2 L847.5,671.1 L848.2,671.1 L848.6,671.0"/>
<path d="M799.7,671.0 L800.1,671.1 L800.6,671.3 L801.1,671.5 L801.7,671.7 L802.4,671.9 L803.1,672.2 L803.9,672.4 L804.7,672.6 L805.5,672.8 L806.3,673.0 L807.2,673.1 L808.2,673.2 L809.2,673.3 L810.3,673.4 L811.4,673.4 L812.5,673.5 L813.6,673.5 L814.7,673.6 L815.8,673.6 L816.9,673.6 L818.0,673.7 L819.0,673.7 L820.1,673.7 L821.1,673.7 L822.2,673.7 L823.3,673.7 L824.3,673.7 L825.4,673.7 L826.4,673.7 L827.5,673.6 L828.5,673.6 L829.6,673.6 L830.7,673.5 L831.7,673.5 L832.8,673.4 L833.8,673.3 L834.9,673.2 L835.9,673.2 L837.0,673.1 L838.1,673.0 L839.1,672.9 L840.2,672.7 L841.4,672.6 L842.5,672.5 L843.6,672.3 L844.7,672.2 L845.8,672.0 L846.8,671.9 L847.7,671.8 L848.6,671.7 L849.5,671.6 L850.3,671.5 L851.0,671.4 L851.8,671.3 L852.5,671.2 L853.1,671.2 L853.7,671.1 L854.2,671.1 L854.6,671.0 L855.0,671.0"/>
<path d="M745.0,738.6 L745.4,738.5 L746.8,738.5 L748.2,738.4 L749.5,738.3 L750.9,738.2 L752.3,738.0 L753.6,737.8 L755.0,737.7 L756.3,737.5 L757.7,737.4 L759.0,737.3 L760.2,737.2 L761.4,737.1 L762.6,737.0 L763.8,736.9 L765.0,736.8 L766.1,736.7 L767.2,736.6 L768.3,736.6 L769.3,736.5 L770.3,736.4 L771.2,736.4 L772.0,736.4 L772.7,736.4 L773.3,736.4 L773.9,736.5 L774.4,736.5 L774.8,736.6 L775.2,736.7 L775.7,736.8 L776.1,736.9 L776.7,737.0 L777.3,737.1 L778.0,737.2 L778.7,737.3 L779.4,737.4 L780.1,737.6 L780.9,737.7 L781.7,737.9 L782.6,738.0 L783.4,738.2 L784.3,738.3 L785.2,738.4 L786.2,738.5 L787.2,738.5 L788.2,738.6 L789.2,738.7 L790.3,738.7 L791.4,738.7 L792.5,738.7 L793.6,738.7 L794.7,738.7 L795.8,738.6 L796.8,738.6 L797.9,738.5 L798.9,738.3 L800.0,738.2 L801.1,738.0 L802.1,737.9 L803.2,737.7 L804.2,737.5 L805.3,737.3 L806.3,737.1 L807.4,736.9 L808.5,736.6 L809.5,736.4 L810.6,736.2 L811.6,736.0 L812.7,735.7 L813.7,735.4 L814.8,735.1 L815.9,734.8 L816.9,734.4 L818.0,734.0 L819.0,733.6 L820.1,733.1 L821.1,732.6 L822.2,732.0 L823.3,731.5 L824.3,730.9 L825.4,730.3 L826.4,729.7 L827.5,729.1 L828.5,728.5 L829.6,727.9 L830.7,727.2 L831.8,726.5 L832.9,725.8 L833.9,725.1 L835.0,724.4 L836.0,723.7 L837.1,723.1 L838.1,722.5 L839.0,722.0 L840.0,721.4 L841.0,720.9 L841.9,720.4 L842.9,719.9 L843.8,719.4 L844.7,719.0 L845.6,718.6 L846.4,718.2 L847.3,717.9 L848.2,717.6 L849.1,717.4 L850.0,717.2 L850.9,717.1 L851.7,717.0 L852.5,716.9 L853.3,716.8 L854.0,716.7 L854.5,716.6 L855.0,716.6"/>
<path d="M745.0,761.6 L745.4,761.5 L746.8,761.3 L748.2,761.1 L749.5,760.9 L750.9,760.7 L752.2,760.5 L753.6,760.3 L754.9,760.1 L756.2,760.0 L757.6,759.9 L758.9,759.7 L760.2,759.6 L761.4,759.5 L762.7,759.4 L763.9,759.3 L765.2,759.2 L766.4,759.1 L767.6,759.1 L768.8,759.0 L770.0,758.9 L771.1,758.9 L772.2,758.9 L773.3,758.9 L774.3,758.9 L775.3,758.9 L776.2,758.9 L777.1,759.0 L778.0,759.1 L778.9,759.1 L779.8,759.2 L780.7,759.3 L781.6,759.4 L782.6,759.5 L783.6,759.6 L784.6,759.7 L785.6,759.8 L786.7,759.9 L787.8,760.1 L788.8,760.2 L789.9,760.3 L791.0,760.5 L792.1,760.7 L793.1,760.8 L794.2,761.1 L795.2,761.3 L796.3,761.5 L797.4,761.8 L798.4,762.1 L799.5,762.4 L800.5,762.7 L801.6,762.9 L802.6,763.2 L803.7,763.5 L804.8,763.8 L805.8,764.0 L806.9,764.3 L807.9,764.6 L809.0,764.9 L810.0,765.2 L811.1,765.4 L812.2,765.7 L813.2,765.9 L814.3,766.1 L815.3,766.3 L816.4,766.5 L817.4,766.7 L818.5,766.8 L819.6,767.0 L820.6,767.1 L821.7,767.2 L822.7,767.3 L823.8,767.4 L824.8,767.4 L825.9,767.5 L827.0,767.4 L828.0,767.4 L829.1,767.3 L830.1,767.2 L831.2,767.1 L832.2,767.0 L833.3,767.0 L834.4,766.9 L835.4,766.8 L836.5,766.7 L837.6,766.7 L838.6,766.6 L839.7,766.5 L840.8,766.5 L841.9,766.4 L842.9,766.3 L844.0,766.3 L845.0,766.2 L846.0,766.1 L847.0,766.1 L848.0,766.0 L849.1,765.9 L850.1,765.8 L851.1,765.8 L852.1,765.7 L853.0,765.6 L853.8,765.6 L854.4,765.5 L855.0,765.5"/>
<path d="M773.3,758.9 L773.9,758.8 L774.6,758.7 L775.4,758.6 L776.3,758.5 L777.3,758.3 L778.3,758.2 L779.4,758.0 L780.5,757.9 L781.5,757.7 L782.6,757.5 L783.6,757.4 L784.6,757.2 L785.6,757.0 L786.7,756.9 L787.8,756.7 L788.8,756.5 L789.9,756.3 L791.0,756.0 L792.1,755.8 L793.1,755.6 L794.2,755.3 L795.2,755.0 L796.3,754.7 L797.4,754.4 L798.4,754.1 L799.5,753.7 L800.5,753.4 L801.6,753.0 L802.6,752.6 L803.7,752.3 L804.8,751.8 L805.8,751.4 L806.9,751.0 L807.9,750.5 L809.0,750.1 L810.0,749.6 L811.1,749.1 L812.2,748.6 L813.2,748.1 L814.3,747.6 L815.3,747.1 L816.4,746.6 L817.4,746.1 L818.5,745.5 L819.6,744.9 L820.6,744.4 L821.7,743.9 L822.7,743.3 L823.8,742.8 L824.8,742.3 L825.9,741.9 L827.0,741.4 L828.1,741.0 L829.1,740.6 L830.2,740.2 L831.3,739.8 L832.3,739.4 L833.4,739.0 L834.4,738.7 L835.4,738.4 L836.4,738.1 L837.3,737.8 L838.3,737.6 L839.2,737.4 L840.1,737.2 L840.9,737.0 L841.9,736.8 L842.8,736.7 L843.7,736.5 L844.7,736.4 L845.7,736.3 L846.8,736.2 L848.0,736.1 L849.2,736.0 L850.4,735.9 L851.5,735.9 L852.6,735.8 L853.5,735.8 L854.3,735.8 L855.0,735.7"/>
<path d="M745.0,799.0 L745.3,799.1 L746.1,799.5 L746.9,800.0 L747.7,800.4 L748.5,800.8 L749.3,801.1 L750.1,801.5 L750.9,801.8 L751.6,802.2 L752.4,802.6 L753.2,803.0 L754.0,803.3 L754.8,803.7 L755.6,804.0 L756.4,804.3 L757.2,804.6 L758.0,804.8 L758.8,805.1 L759.6,805.4 L760.4,805.6 L761.2,805.9 L762.0,806.1 L762.7,806.3 L763.5,806.5 L764.3,806.7 L765.1,806.8 L765.9,807.0 L766.7,807.1 L767.5,807.1 L768.3,807.1 L769.1,807.1 L769.9,807.0 L770.7,807.0 L771.5,806.9 L772.3,806.9 L773.1,806.9 L773.8,806.9 L774.6,807.1 L775.4,807.3 L776.2,807.6 L776.9,808.0 L777.7,808.4 L778.4,808.9 L779.2,809.4 L780.0,809.8 L780.8,810.3 L781.7,810.7 L782.6,811.0 L783.5,811.4 L784.5,811.7 L785.5,812.0 L786.5,812.3 L787.5,812.6 L788.6,812.9 L789.7,813.1 L790.8,813.4 L792.0,813.5 L793.1,813.7 L794.3,813.8 L795.6,813.9 L796.9,813.9 L798.2,813.9 L799.6,813.9 L800.9,813.9 L802.3,813.8 L803.7,813.8 L805.0,813.7 L806.3,813.7 L807.7,813.7 L809.0,813.6 L810.3,813.5 L811.6,813.5 L813.0,813.4 L814.3,813.3 L815.6,813.3 L816.9,813.2 L818.2,813.1 L819.6,813.0 L820.9,813.0 L822.2,812.9 L823.5,812.8 L824.8,812.8 L826.2,812.7 L827.5,812.6 L828.8,812.6 L830.1,812.5 L831.4,812.4 L832.8,812.4 L834.1,812.3 L835.5,812.2 L836.9,812.2 L838.3,812.1 L839.6,812.0 L841.0,811.9 L842.3,811.9 L843.6,811.8 L844.8,811.7 L846.0,811.7 L847.1,811.7 L848.2,811.7 L849.3,811.7 L850.3,811.7 L851.3,811.7 L852.2,811.7 L853.1,811.7 L853.8,811.7 L854.5,811.7 L855.0,811.7"/>
<path d="M774.6,807.1 L775.1,806.7 L775.7,806.2 L776.4,805.6 L777.2,804.9 L778.1,804.2 L779.0,803.4 L779.9,802.7 L780.9,801.9 L781.7,801.2 L782.6,800.5 L783.4,799.8 L784.1,799.2 L784.9,798.5 L785.7,797.8 L786.5,797.2 L787.3,796.5 L788.1,795.9 L788.9,795.2 L789.7,794.5 L790.5,793.9 L791.3,793.2 L792.1,792.6 L792.9,791.9 L793.7,791.3 L794.5,790.7 L795.2,790.0 L796.0,789.3 L796.8,788.7 L797.6,788.0 L798.4,787.3 L799.2,786.5 L800.0,785.7 L800.8,784.9 L801.6,784.1 L802.4,783.3 L803.2,782.5 L804.0,781.7 L804.8,780.9 L805.6,780.1 L806.3,779.3 L807.1,778.6 L807.9,777.9 L808.7,777.2 L809.5,776.5 L810.3,775.8 L811.1,775.2 L811.9,774.5 L812.7,773.9 L813.5,773.3 L814.3,772.7 L815.1,772.2 L815.9,771.6 L816.7,771.1 L817.4,770.6 L818.2,770.1 L819.0,769.6 L819.8,769.2 L820.6,768.8 L821.4,768.4 L822.2,768.1 L823.0,767.8 L823.9,767.6 L824.8,767.4 L825.8,767.3 L826.7,767.2 L827.5,767.1 L828.3,767.0 L829.0,766.9 L829.7,766.9 L830.1,766.8"/>
<path d="M529.0,897.5 L529.7,897.5 L530.7,897.5 L531.8,897.5 L533.1,897.5 L534.4,897.5 L535.9,897.5 L537.3,897.6 L538.7,897.6 L540.1,897.6 L541.4,897.7 L542.7,897.8 L543.9,897.8 L545.2,897.9 L546.4,898.0 L547.6,898.1 L548.9,898.2 L550.1,898.3 L551.4,898.4 L552.6,898.6 L553.8,898.7 L555.1,898.8 L556.3,899.0 L557.6,899.2 L558.8,899.4 L560.1,899.6 L561.3,899.8 L562.5,900.0 L563.8,900.2 L565.0,900.4 L566.3,900.6 L567.5,900.7 L568.8,900.9 L570.0,901.1 L571.2,901.3 L572.5,901.5 L573.7,901.7 L575.0,901.9 L576.2,902.1 L577.5,902.2 L578.7,902.4 L579.9,902.6 L581.2,902.8 L582.4,903.0 L583.7,903.2 L584.9,903.4 L586.1,903.5 L587.4,903.7 L588.6,903.9 L589.9,904.1 L591.1,904.3 L592.4,904.5 L593.6,904.7 L594.9,904.8 L596.2,905.0 L597.5,905.2 L598.7,905.4 L600.0,905.6 L601.2,905.8 L602.4,906.0 L603.5,906.2 L604.6,906.3 L605.7,906.5 L606.7,906.7 L607.7,906.8 L608.7,907.0 L609.6,907.2 L610.6,907.4 L611.5,907.6 L612.5,907.8 L613.5,908.0 L614.5,908.3 L615.5,908.5 L616.5,908.8 L617.5,909.1 L618.4,909.5 L619.4,909.8 L620.4,910.1 L621.4,910.4 L622.4,910.8 L623.4,911.1 L624.4,911.5 L625.4,911.8 L626.4,912.2 L627.4,912.5 L628.4,912.9 L629.4,913.2 L630.4,913.6 L631.4,914.0 L632.4,914.4 L633.4,914.8 L634.4,915.3 L635.4,915.8 L636.4,916.2 L637.5,916.7 L638.5,917.3 L639.5,917.8 L640.5,918.3 L641.5,918.8 L642.4,919.3 L643.3,919.8 L644.1,920.3 L644.9,920.8 L645.7,921.3 L646.5,921.8 L647.2,922.3 L647.9,922.8 L648.6,923.3 L649.3,923.8 L650.0,924.3 L650.7,924.8 L651.5,925.3 L652.2,925.8 L653.0,926.3 L653.7,926.8 L654.5,927.3 L655.2,927.9 L656.0,928.4 L656.7,928.8 L657.5,929.3 L658.2,929.8 L658.9,930.2 L659.7,930.6 L660.4,931.0 L661.2,931.4 L661.9,931.8 L662.7,932.1 L663.4,932.5 L664.2,932.8 L664.9,933.2 L665.7,933.5 L666.4,933.8 L667.1,934.1 L667.9,934.4 L668.6,934.6 L669.4,934.9 L670.1,935.1 L670.9,935.4 L671.6,935.6 L672.4,935.8 L673.1,936.0 L673.8,936.1 L674.6,936.3 L675.3,936.4 L675.9,936.5 L676.7,936.6 L677.4,936.7 L678.1,936.8 L678.9,936.9 L679.7,936.9 L680.6,937.0 L681.5,937.0 L682.6,937.0 L683.8,936.9 L685.0,936.9 L686.2,936.8 L687.4,936.8 L688.5,936.7 L689.5,936.6 L690.4,936.6 L691.0,936.6"/>
<path d="M529.0,911.7 L529.6,911.7 L530.4,911.6 L531.3,911.5 L532.3,911.4 L533.3,911.3 L534.5,911.2 L535.6,911.0 L536.8,910.9 L537.9,910.7 L538.9,910.5 L539.9,910.3 L540.9,910.0 L541.9,909.7 L542.9,909.4 L543.9,909.1 L544.9,908.8 L545.9,908.4 L546.9,908.1 L547.9,907.7 L548.9,907.4 L549.9,907.0 L550.9,906.7 L551.9,906.3 L552.9,905.9 L553.8,905.5 L554.8,905.1 L555.8,904.7 L556.8,904.3 L557.8,904.0 L558.8,903.7 L559.8,903.4 L560.8,903.0 L561.8,902.7 L562.8,902.4 L563.8,902.1 L564.8,901.8 L565.8,901.6 L566.8,901.4 L567.8,901.3 L568.8,901.2 L569.8,901.1 L570.8,901.1 L571.8,901.2 L572.8,901.2 L573.8,901.3 L574.8,901.5 L575.8,901.7 L576.8,901.9 L577.7,902.1 L578.7,902.4 L579.6,902.8 L580.5,903.2 L581.4,903.6 L582.3,904.1 L583.1,904.7 L584.0,905.2 L584.8,905.8 L585.7,906.3 L586.5,906.9 L587.4,907.4 L588.3,907.9 L589.1,908.4 L590.0,908.9 L590.9,909.4 L591.8,909.9 L592.7,910.4 L593.6,910.9 L594.4,911.4 L595.3,911.9 L596.1,912.4 L596.9,912.9 L597.7,913.4 L598.5,913.9 L599.2,914.3 L600.0,914.8 L600.7,915.3 L601.4,915.8 L602.1,916.3 L602.9,916.8 L603.5,917.3 L604.2,917.8 L604.8,918.4 L605.4,919.0 L606.0,919.5 L606.6,920.1 L607.1,920.6 L607.7,921.1 L608.4,921.6 L609.0,922.0 L609.8,922.3 L610.5,922.5 L611.3,922.7 L612.1,922.8 L613.0,922.9 L613.9,922.9 L614.8,922.9 L615.7,922.9 L616.6,922.9 L617.5,922.9 L618.4,922.9 L619.4,923.0 L620.4,923.0 L621.3,923.0 L622.3,923.1 L623.3,923.1 L624.4,923.1 L625.4,923.2 L626.4,923.2 L627.4,923.2 L628.4,923.3 L629.4,923.4 L630.4,923.4 L631.4,923.5 L632.4,923.6 L633.4,923.7 L634.3,923.8 L635.3,923.9 L636.3,924.0 L637.3,924.1 L638.3,924.2 L639.3,924.3 L640.4,924.4 L641.4,924.5 L642.4,924.5 L643.4,924.6 L644.5,924.8 L645.5,924.9 L646.4,925.0 L647.4,925.2 L648.3,925.4 L649.1,925.6 L649.9,925.9 L650.7,926.2 L651.4,926.5 L652.1,926.8 L652.9,927.1 L653.6,927.5 L654.3,927.8 L655.0,928.2 L655.7,928.5 L656.5,928.9 L657.2,929.2 L657.9,929.6 L658.6,930.0 L659.4,930.4 L660.1,930.8 L660.8,931.2 L661.6,931.6 L662.4,931.9 L663.2,932.2 L664.0,932.5 L664.8,932.8 L665.7,933.1 L666.6,933.4 L667.4,933.6 L668.3,933.9 L669.2,934.1 L670.1,934.3 L671.0,934.5 L671.9,934.7 L672.7,934.9 L673.6,935.1 L674.4,935.3 L675.3,935.4 L676.1,935.6 L677.0,935.7 L677.8,935.9 L678.7,936.0 L679.6,936.1 L680.6,936.2 L681.6,936.3 L682.7,936.4 L683.9,936.4 L685.1,936.5 L686.3,936.5 L687.5,936.5 L688.6,936.5 L689.6,936.5 L690.4,936.5 L691.0,936.6"/>
<path d="M529.0,931.0 L529.6,930.8 L530.4,930.7 L531.3,930.4 L532.3,930.2 L533.3,929.9 L534.5,929.6 L535.6,929.3 L536.8,929.0 L537.9,928.8 L538.9,928.5 L539.9,928.3 L540.9,928.0 L541.9,927.8 L542.9,927.5 L543.9,927.3 L544.9,927.0 L545.9,926.8 L546.9,926.5 L547.9,926.3 L548.9,926.0 L549.9,925.8 L550.9,925.5 L551.9,925.3 L552.9,925.0 L553.8,924.8 L554.8,924.5 L555.8,924.3 L556.8,924.0 L557.8,923.8 L558.8,923.5 L559.8,923.3 L560.8,923.1 L561.8,922.8 L562.8,922.6 L563.8,922.3 L564.8,922.1 L565.8,921.8 L566.8,921.6 L567.8,921.3 L568.8,921.1 L569.7,920.8 L570.7,920.5 L571.7,920.2 L572.7,919.9 L573.7,919.5 L574.7,919.2 L575.7,918.9 L576.7,918.6 L577.7,918.3 L578.7,918.0 L579.7,917.6 L580.7,917.3 L581.7,917.0 L582.7,916.7 L583.7,916.4 L584.7,916.1 L585.7,915.8 L586.6,915.5 L587.6,915.2 L588.6,914.8 L589.6,914.5 L590.6,914.2 L591.6,913.9 L592.6,913.6 L593.6,913.3 L594.6,913.0 L595.6,912.7 L596.6,912.3 L597.6,912.0 L598.6,911.7 L599.6,911.4 L600.6,911.1 L601.7,910.8 L602.7,910.5 L603.8,910.2 L604.8,909.9 L605.8,909.6 L606.7,909.3 L607.7,909.1 L608.5,908.9 L609.3,908.7 L610.1,908.6 L610.9,908.5 L611.7,908.4 L612.4,908.3 L613.0,908.3 L613.6,908.2 L614.1,908.2 L614.6,908.2 L615.0,908.1"/>
<path d="M529.0,943.4 L529.4,943.5 L530.0,943.5 L530.7,943.6 L531.4,943.6 L532.3,943.7 L533.1,943.8 L534.0,944.0 L534.8,944.2 L535.7,944.4 L536.5,944.7 L537.2,945.0 L537.9,945.4 L538.7,945.8 L539.4,946.3 L540.2,946.8 L540.9,947.4 L541.7,947.9 L542.4,948.5 L543.2,949.1 L543.9,949.6 L544.7,950.2 L545.4,950.8 L546.1,951.4 L546.9,952.0 L547.6,952.7 L548.4,953.3 L549.1,953.9 L549.9,954.6 L550.6,955.2 L551.4,955.8 L552.1,956.5 L552.9,957.1 L553.6,957.7 L554.4,958.4 L555.2,959.0 L555.9,959.6 L556.7,960.2 L557.4,960.9 L558.1,961.5 L558.8,962.1 L559.5,962.6 L560.1,963.2 L560.8,963.8 L561.4,964.4 L562.0,965.0 L562.6,965.5 L563.2,966.1 L563.8,966.6 L564.4,967.1 L565.0,967.6 L565.6,968.1 L566.3,968.6 L566.9,969.0 L567.5,969.4 L568.1,969.8 L568.7,970.2 L569.3,970.6 L569.9,971.0 L570.6,971.5 L571.2,972.0 L571.9,972.5 L572.7,973.1 L573.4,973.7 L574.1,974.3 L574.9,974.9 L575.7,975.5 L576.4,976.2 L577.2,976.9 L577.9,977.5 L578.7,978.2 L579.4,978.9 L580.2,979.6 L580.9,980.4 L581.7,981.1 L582.4,981.9 L583.2,982.6 L583.9,983.4 L584.7,984.1 L585.4,984.9 L586.1,985.7 L586.9,986.4 L587.6,987.2 L588.4,987.9 L589.1,988.7 L589.9,989.5 L590.6,990.2 L591.4,991.0 L592.1,991.7 L592.9,992.4 L593.6,993.1 L594.4,993.8 L595.1,994.5 L595.9,995.2 L596.7,995.8 L597.5,996.5 L598.3,997.1 L599.0,997.7 L599.7,998.3 L600.4,998.8 L601.1,999.3 L601.7,999.8 L602.3,1000.2 L602.9,1000.6 L603.5,1000.9 L604.0,1001.3 L604.5,1001.6 L605.0,1001.8 L605.4,1002.1 L605.7,1002.3 L606.0,1002.4"/>
<path d="M529.0,1001.5 L529.4,1001.4 L529.8,1001.2 L530.4,1001.0 L531.0,1000.8 L531.7,1000.6 L532.4,1000.4 L533.1,1000.1 L533.8,999.9 L534.4,999.6 L535.0,999.3 L535.5,999.0 L536.1,998.7 L536.6,998.4 L537.1,998.0 L537.6,997.7 L538.0,997.3 L538.5,996.9 L539.0,996.6 L539.5,996.2 L540.0,995.8 L540.5,995.4 L541.0,995.0 L541.5,994.6 L542.0,994.2 L542.5,993.8 L543.0,993.4 L543.5,993.0 L544.0,992.6 L544.5,992.2 L545.0,991.8 L545.5,991.4 L546.0,991.1 L546.5,990.8 L547.0,990.4 L547.5,990.1 L547.9,989.8 L548.4,989.4 L549.0,989.1 L549.5,988.8 L550.0,988.4 L550.5,988.0 L551.1,987.7 L551.7,987.3 L552.2,987.0 L552.8,986.6 L553.4,986.2 L554.0,985.8 L554.6,985.4 L555.1,984.9 L555.7,984.4 L556.3,983.8 L556.8,983.2 L557.4,982.5 L558.0,981.7 L558.6,981.0 L559.1,980.2 L559.7,979.5 L560.2,978.8 L560.7,978.1 L561.2,977.5 L561.6,977.0 L562.0,976.5 L562.3,976.2 L562.7,975.8 L563.0,975.5 L563.3,975.1 L563.6,974.7 L564.0,974.3 L564.5,973.8 L565.0,973.2 L565.6,972.5 L566.3,971.8 L567.0,971.0 L567.7,970.1 L568.5,969.2 L569.3,968.3 L570.1,967.3 L570.9,966.4 L571.7,965.4 L572.5,964.5 L573.2,963.6 L574.0,962.6 L574.7,961.6 L575.5,960.6 L576.2,959.6 L576.9,958.6 L577.7,957.6 L578.4,956.6 L579.2,955.6 L579.9,954.6 L580.6,953.6 L581.4,952.6 L582.1,951.6 L582.9,950.6 L583.6,949.6 L584.4,948.6 L585.2,947.6 L585.9,946.6 L586.7,945.6 L587.4,944.7 L588.1,943.8 L588.9,942.9 L589.6,942.0 L590.4,941.1 L591.1,940.2 L591.8,939.3 L592.6,938.5 L593.3,937.6 L594.1,936.8 L594.8,936.0 L595.5,935.2 L596.3,934.4 L597.0,933.6 L597.8,932.8 L598.5,932.1 L599.3,931.3 L600.1,930.6 L600.8,929.9 L601.6,929.2 L602.3,928.5 L603.1,927.8 L603.9,927.2 L604.8,926.5 L605.6,925.9 L606.5,925.2 L607.3,924.6 L608.0,924.1 L608.7,923.6 L609.3,923.2 L609.7,922.9"/>
<path d="M529.0,978.2 L529.4,978.2 L530.0,978.3 L530.7,978.3 L531.4,978.3 L532.3,978.4 L533.1,978.5 L534.0,978.5 L534.8,978.6 L535.7,978.7 L536.5,978.8 L537.2,979.0 L538.0,979.1 L538.7,979.3 L539.5,979.5 L540.3,979.6 L541.0,979.8 L541.8,980.0 L542.5,980.3 L543.2,980.5 L543.9,980.7 L544.6,980.9 L545.2,981.1 L545.9,981.3 L546.5,981.5 L547.1,981.7 L547.7,982.0 L548.3,982.2 L548.9,982.5 L549.5,982.8 L550.1,983.2 L550.7,983.6 L551.3,984.0 L551.9,984.5 L552.5,985.0 L553.1,985.5 L553.8,986.0 L554.4,986.6 L555.0,987.1 L555.7,987.6 L556.3,988.1 L557.0,988.6 L557.7,989.1 L558.5,989.6 L559.2,990.1 L560.0,990.6 L560.7,991.1 L561.5,991.6 L562.3,992.1 L563.0,992.6 L563.8,993.1 L564.5,993.6 L565.3,994.1 L566.0,994.6 L566.8,995.2 L567.5,995.7 L568.3,996.2 L569.0,996.7 L569.7,997.2 L570.5,997.6 L571.2,998.1 L572.0,998.5 L572.7,998.9 L573.5,999.3 L574.2,999.7 L575.0,1000.1 L575.7,1000.5 L576.5,1000.8 L577.2,1001.2 L577.9,1001.5 L578.7,1001.8 L579.4,1002.1 L580.2,1002.4 L580.9,1002.7 L581.7,1003.0 L582.4,1003.2 L583.2,1003.4 L583.9,1003.7 L584.7,1003.9 L585.4,1004.1 L586.1,1004.3 L586.9,1004.5 L587.6,1004.6 L588.4,1004.8 L589.1,1004.9 L589.9,1005.0 L590.6,1005.1 L591.4,1005.2 L592.1,1005.3 L592.9,1005.4 L593.6,1005.5 L594.4,1005.7 L595.1,1005.8 L595.9,1006.0 L596.7,1006.1 L597.5,1006.3 L598.3,1006.4 L599.0,1006.5 L599.7,1006.6 L600.4,1006.7 L601.1,1006.8 L601.7,1006.8 L602.3,1006.8 L602.9,1006.7 L603.5,1006.6 L604.0,1006.5 L604.5,1006.5 L605.0,1006.4 L605.4,1006.3 L605.7,1006.2 L606.0,1006.2"/>
<path d="M529.0,1014.0 L529.4,1013.9 L529.8,1013.9 L530.4,1013.8 L531.0,1013.7 L531.7,1013.6 L532.4,1013.5 L533.1,1013.3 L533.8,1013.2 L534.4,1012.9 L535.0,1012.7 L535.5,1012.4 L536.1,1012.1 L536.6,1011.7 L537.1,1011.3 L537.6,1010.9 L538.0,1010.5 L538.5,1010.0 L539.0,1009.6 L539.5,1009.1 L540.0,1008.7 L540.5,1008.3 L541.0,1007.8 L541.5,1007.4 L542.0,1006.9 L542.5,1006.5 L543.0,1006.0 L543.5,1005.6 L544.0,1005.1 L544.5,1004.6 L545.0,1004.2 L545.5,1003.8 L546.0,1003.3 L546.5,1002.9 L547.0,1002.5 L547.5,1002.0 L548.0,1001.6 L548.5,1001.2 L549.0,1000.7 L549.5,1000.3 L550.0,999.8 L550.5,999.3 L551.0,998.8 L551.5,998.3 L552.1,997.8 L552.6,997.3 L553.1,996.8 L553.6,996.3 L554.1,995.8 L554.6,995.3 L555.0,994.8 L555.4,994.3 L555.8,993.9 L556.2,993.4 L556.6,992.9 L556.9,992.5 L557.3,992.0 L557.6,991.6 L558.0,991.2 L558.3,990.8 L558.7,990.4 L559.1,990.0 L559.4,989.7 L559.7,989.4 L560.0,989.1 L560.4,988.8 L560.7,988.6 L561.1,988.3 L561.4,988.0 L561.8,987.7 L562.2,987.4 L562.6,987.1 L563.1,986.7 L563.6,986.4 L564.1,986.1 L564.6,985.7 L565.1,985.4 L565.6,985.0 L566.1,984.6 L566.6,984.3 L567.1,983.9 L567.6,983.5 L568.1,983.1 L568.6,982.7 L569.1,982.3 L569.6,981.9 L570.1,981.5 L570.6,981.1 L571.1,980.7 L571.6,980.3 L572.1,980.0 L572.6,979.7 L573.1,979.4 L573.6,979.2 L574.1,978.9 L574.6,978.7 L575.1,978.5 L575.6,978.2 L576.1,978.0 L576.5,977.8 L577.0,977.5 L577.4,977.2 L577.8,976.9 L578.2,976.6 L578.6,976.3 L578.9,976.0 L579.3,975.6 L579.7,975.3 L580.2,975.0 L580.7,974.8 L581.2,974.5 L581.8,974.2 L582.5,974.0 L583.2,973.7 L583.9,973.5 L584.7,973.2 L585.5,973.0 L586.3,972.9 L587.1,972.7 L587.8,972.6 L588.6,972.6 L589.3,972.6 L590.1,972.7 L590.8,972.8 L591.6,972.9 L592.4,973.0 L593.1,973.2 L593.9,973.5 L594.6,973.8 L595.4,974.1 L596.1,974.5 L596.9,974.9 L597.6,975.4 L598.4,976.0 L599.2,976.6 L600.0,977.3 L600.7,977.9 L601.5,978.6 L602.2,979.3 L602.9,980.0 L603.5,980.7 L604.1,981.4 L604.7,982.2 L605.3,982.9 L605.8,983.7 L606.3,984.6 L606.8,985.3 L607.3,986.1 L607.7,986.8 L608.1,987.5 L608.5,988.1 L608.9,988.6 L609.2,989.1 L609.6,989.4 L609.9,989.8 L610.2,990.1 L610.5,990.4 L610.7,990.7 L610.9,991.0 L611.0,991.4 L611.0,991.9 L611.0,992.4 L610.8,993.0 L610.6,993.6 L610.4,994.2 L610.1,994.9 L609.7,995.5 L609.4,996.2 L609.1,996.8 L608.8,997.5 L608.5,998.1 L608.2,998.7 L608.0,999.4 L607.7,1000.2 L607.4,1000.9 L607.1,1001.6 L606.8,1002.3 L606.6,1002.9 L606.3,1003.5 L606.1,1003.9 L606.0,1004.3"/>
<path d="M611.0,990.6 L611.4,990.7 L612.0,990.7 L612.7,990.7 L613.4,990.8 L614.3,990.8 L615.1,990.9 L616.0,991.0 L616.8,991.0 L617.7,991.1 L618.4,991.2 L619.2,991.4 L619.9,991.6 L620.7,991.7 L621.4,991.9 L622.2,992.1 L622.9,992.4 L623.7,992.6 L624.4,992.8 L625.2,992.9 L625.9,993.1 L626.6,993.3 L627.4,993.4 L628.1,993.5 L628.9,993.7 L629.6,993.8 L630.4,993.9 L631.1,994.0 L631.9,994.1 L632.6,994.2 L633.4,994.4 L634.1,994.5 L634.8,994.7 L635.6,994.8 L636.3,995.0 L637.1,995.2 L637.8,995.4 L638.6,995.5 L639.3,995.6 L640.1,995.6 L640.8,995.6 L641.6,995.5 L642.3,995.4 L643.0,995.2 L643.8,994.9 L644.5,994.7 L645.3,994.4 L646.0,994.1 L646.8,993.7 L647.5,993.4 L648.3,993.1 L649.0,992.8 L649.8,992.4 L650.5,992.0 L651.2,991.6 L652.0,991.2 L652.7,990.8 L653.5,990.4 L654.2,990.0 L655.0,989.7 L655.7,989.4 L656.5,989.1 L657.2,988.9 L658.0,988.6 L658.7,988.4 L659.4,988.2 L660.2,988.0 L660.9,987.8 L661.7,987.7 L662.4,987.6 L663.2,987.5 L663.9,987.5 L664.7,987.5 L665.4,987.5 L666.2,987.5 L666.9,987.6 L667.6,987.6 L668.4,987.7 L669.1,987.9 L669.9,988.0 L670.6,988.1 L671.4,988.3 L672.1,988.5 L672.9,988.7 L673.6,988.9 L674.4,989.2 L675.1,989.5 L675.8,989.7 L676.6,990.0 L677.3,990.3 L678.1,990.6 L678.8,991.0 L679.6,991.3 L680.4,991.7 L681.2,992.1 L681.9,992.5 L682.7,992.9 L683.4,993.3 L684.2,993.7 L684.9,994.0 L685.5,994.4 L686.2,994.7 L686.8,995.0 L687.5,995.3 L688.1,995.6 L688.7,995.8 L689.3,996.1 L689.8,996.3 L690.3,996.5 L690.7,996.7 L691.0,996.9"/>
<path d="M606.0,1005.5 L606.5,1005.4 L607.0,1005.2 L607.7,1005.0 L608.5,1004.8 L609.3,1004.5 L610.1,1004.3 L611.0,1004.0 L611.9,1003.7 L612.7,1003.4 L613.5,1003.1 L614.2,1002.7 L615.0,1002.4 L615.7,1002.0 L616.5,1001.6 L617.2,1001.2 L618.0,1000.8 L618.7,1000.4 L619.4,1000.0 L620.2,999.7 L620.9,999.3 L621.7,999.0 L622.4,998.7 L623.2,998.4 L623.9,998.2 L624.7,997.9 L625.4,997.7 L626.2,997.5 L626.9,997.2 L627.6,997.0 L628.4,996.8 L629.1,996.7 L629.9,996.5 L630.6,996.3 L631.4,996.2 L632.1,996.0 L632.9,995.9 L633.6,995.8 L634.3,995.7 L635.1,995.6 L635.8,995.6 L636.6,995.6 L637.3,995.6 L638.1,995.6 L638.8,995.6 L639.6,995.7 L640.3,995.7 L641.1,995.8 L641.8,995.9 L642.5,996.1 L643.3,996.2 L644.0,996.4 L644.8,996.6 L645.5,996.8 L646.3,997.0 L647.0,997.3 L647.8,997.6 L648.5,997.9 L649.3,998.1 L650.0,998.4 L650.7,998.7 L651.5,999.0 L652.2,999.3 L653.0,999.6 L653.7,1000.0 L654.5,1000.3 L655.2,1000.7 L656.0,1001.0 L656.7,1001.3 L657.5,1001.6 L658.2,1001.8 L658.9,1002.0 L659.7,1002.2 L660.4,1002.4 L661.2,1002.5 L661.9,1002.7 L662.7,1002.8 L663.4,1002.9 L664.2,1003.0 L664.9,1003.0 L665.7,1003.1 L666.4,1003.1 L667.1,1003.1 L667.9,1003.0 L668.6,1003.0 L669.4,1002.9 L670.1,1002.9 L670.9,1002.8 L671.6,1002.7 L672.4,1002.6 L673.1,1002.4 L673.8,1002.3 L674.6,1002.2 L675.3,1002.0 L675.9,1001.9 L676.7,1001.7 L677.4,1001.5 L678.1,1001.3 L678.9,1001.1 L679.7,1000.8 L680.6,1000.6 L681.5,1000.3 L682.6,999.9 L683.8,999.5 L685.0,999.0 L686.2,998.6 L687.4,998.2 L688.5,997.8 L689.5,997.4 L690.4,997.1 L691.0,996.9"/>
<path d="M691.0,936.6 L691.6,936.4 L692.4,936.3 L693.3,936.1 L694.3,935.9 L695.4,935.7 L696.6,935.5 L697.7,935.2 L698.9,935.0 L700.0,934.8 L701.1,934.6 L702.1,934.5 L703.0,934.3 L704.0,934.2 L705.0,934.1 L705.9,933.9 L706.9,933.8 L707.9,933.7 L708.9,933.6 L710.0,933.5 L711.1,933.4 L712.3,933.3 L713.5,933.2 L714.7,933.1 L716.0,933.1 L717.3,933.0 L718.5,932.9 L719.8,932.9 L721.1,932.8 L722.4,932.8 L723.7,932.8 L725.0,932.7 L726.2,932.8 L727.5,932.8 L728.7,932.8 L730.0,932.8 L731.2,932.9 L732.5,932.9 L733.8,932.9 L735.0,933.0 L736.3,933.0 L737.5,933.0 L738.8,933.1 L740.0,933.1 L741.3,933.1 L742.6,933.2 L743.8,933.2 L745.1,933.3 L746.3,933.3 L747.6,933.3 L748.9,933.4 L750.1,933.4 L751.4,933.5 L752.7,933.6 L754.0,933.6 L755.3,933.7 L756.6,933.8 L757.8,933.8 L759.1,933.9 L760.3,934.0 L761.4,934.0 L762.6,934.1 L763.7,934.1 L764.8,934.1 L765.8,934.1 L766.9,934.2 L767.9,934.2 L768.8,934.2 L769.8,934.2 L770.6,934.2 L771.5,934.3 L772.3,934.3 L773.1,934.3 L773.9,934.4 L774.6,934.4 L775.3,934.5 L775.9,934.5 L776.5,934.6 L777.0,934.6 L777.4,934.6 L777.8,934.6"/>
<path d="M777.8,934.7 L778.1,934.3 L778.5,933.9 L779.0,933.3 L779.6,932.7 L780.2,932.0 L780.8,931.3 L781.4,930.6 L782.1,929.9 L782.8,929.2 L783.5,928.6 L784.2,928.0 L784.9,927.4 L785.7,926.8 L786.5,926.1 L787.3,925.5 L788.1,924.9 L789.0,924.3 L789.8,923.7 L790.6,923.1 L791.4,922.5 L792.2,921.9 L793.0,921.4 L793.7,920.8 L794.5,920.3 L795.3,919.7 L796.1,919.2 L796.9,918.6 L797.6,918.1 L798.4,917.5 L799.2,917.0 L800.0,916.4 L800.8,915.9 L801.6,915.3 L802.4,914.8 L803.2,914.2 L803.9,913.6 L804.7,913.1 L805.5,912.5 L806.3,912.0 L807.1,911.5 L807.9,911.0 L808.7,910.5 L809.4,910.0 L810.2,909.5 L811.0,909.1 L811.8,908.6 L812.6,908.1 L813.3,907.7 L814.1,907.2 L814.9,906.8 L815.7,906.4 L816.5,905.9 L817.2,905.5 L818.0,905.1 L818.8,904.7 L819.6,904.3 L820.4,903.9 L821.1,903.5 L821.9,903.2 L822.7,902.8 L823.5,902.4 L824.3,902.1 L825.1,901.8 L825.9,901.4 L826.7,901.1 L827.4,900.8 L828.2,900.5 L829.0,900.2 L829.8,899.9 L830.6,899.7 L831.4,899.5 L832.2,899.3 L832.9,899.1 L833.7,898.9 L834.5,898.8 L835.3,898.6 L836.1,898.5 L836.8,898.3 L837.6,898.2 L838.4,898.1 L839.2,898.0 L840.0,897.9 L840.8,897.8 L841.5,897.7 L842.3,897.6 L843.1,897.6 L843.9,897.5 L844.7,897.5 L845.5,897.4 L846.3,897.4 L847.1,897.4 L848.1,897.4 L849.0,897.3 L850.0,897.3 L850.9,897.4 L851.8,897.4 L852.6,897.4 L853.4,897.4 L854.0,897.4 L854.5,897.4"/>
<path d="M691.0,936.6 L691.4,936.7 L692.0,936.8 L692.7,936.9 L693.5,937.1 L694.3,937.3 L695.2,937.5 L696.0,937.7 L696.9,937.9 L697.8,938.2 L698.5,938.4 L699.3,938.7 L700.0,939.0 L700.7,939.3 L701.4,939.6 L702.2,939.9 L702.9,940.2 L703.6,940.5 L704.4,940.9 L705.2,941.2 L706.1,941.6 L707.0,941.9 L707.9,942.3 L708.9,942.7 L709.9,943.0 L711.0,943.4 L712.0,943.8 L713.1,944.2 L714.1,944.6 L715.1,945.0 L716.2,945.3 L717.2,945.7 L718.2,946.1 L719.2,946.5 L720.2,946.9 L721.2,947.3 L722.2,947.7 L723.2,948.1 L724.2,948.5 L725.2,948.8 L726.2,949.1 L727.2,949.4 L728.2,949.7 L729.2,949.9 L730.2,950.2 L731.2,950.4 L732.3,950.6 L733.3,950.7 L734.3,950.9 L735.3,950.9 L736.3,951.0 L737.3,951.0 L738.3,951.0 L739.3,950.9 L740.3,950.8 L741.3,950.6 L742.3,950.5 L743.3,950.3 L744.3,950.1 L745.3,949.9 L746.3,949.7 L747.3,949.5 L748.3,949.3 L749.4,949.1 L750.4,948.8 L751.4,948.5 L752.4,948.2 L753.4,948.0 L754.4,947.7 L755.4,947.5 L756.4,947.2 L757.4,947.0 L758.5,946.8 L759.5,946.6 L760.5,946.4 L761.6,946.2 L762.6,946.0 L763.6,945.8 L764.6,945.6 L765.6,945.5 L766.5,945.3 L767.3,945.2 L768.2,945.1 L769.0,945.0 L769.8,944.9 L770.6,944.9 L771.4,944.8 L772.1,944.8 L772.8,944.7 L773.4,944.7 L774.0,944.7 L774.5,944.7 L774.9,944.8 L775.3,945.0 L775.5,945.1 L775.8,945.3 L776.1,945.4 L776.4,945.5 L776.8,945.6 L777.2,945.5 L777.8,945.3 L778.5,945.1 L779.2,944.7 L780.0,944.2 L780.9,943.7 L781.8,943.1 L782.7,942.5 L783.7,941.9 L784.7,941.3 L785.6,940.8 L786.6,940.3 L787.5,939.9 L788.5,939.5 L789.5,939.0 L790.5,938.6 L791.5,938.3 L792.6,937.9 L793.6,937.5 L794.6,937.2 L795.6,936.9 L796.6,936.5 L797.7,936.2 L798.7,935.9 L799.7,935.6 L800.7,935.4 L801.7,935.1 L802.7,934.9 L803.7,934.6 L804.7,934.4 L805.7,934.2 L806.7,934.0 L807.7,933.8 L808.7,933.7 L809.7,933.5 L810.7,933.4 L811.7,933.3 L812.7,933.2 L813.7,933.1 L814.8,933.0 L815.8,932.9 L816.8,932.8 L817.8,932.6 L818.8,932.5 L819.8,932.4 L820.8,932.3 L821.8,932.1 L822.8,932.0 L823.8,931.9 L824.8,931.8 L825.8,931.6 L826.8,931.5 L827.8,931.4 L828.8,931.2 L829.8,931.1 L830.9,931.0 L831.9,930.8 L832.9,930.7 L833.9,930.5 L834.9,930.4 L835.9,930.3 L836.9,930.2 L837.9,930.2 L838.9,930.1 L840.0,930.1 L841.0,930.1 L842.1,930.0 L843.1,930.0 L844.1,930.0 L845.1,930.0 L846.0,930.0 L847.0,930.0 L847.8,930.0 L848.7,930.0 L849.6,930.0 L850.5,930.0 L851.4,930.0 L852.1,930.0 L852.9,930.0 L853.5,930.0 L854.1,930.0 L854.5,930.0"/>
<path d="M777.8,934.6 L778.3,934.4 L779.0,934.1 L779.7,933.7 L780.6,933.2 L781.6,932.8 L782.5,932.3 L783.6,931.8 L784.6,931.2 L785.6,930.7 L786.6,930.2 L787.5,929.8 L788.5,929.3 L789.5,928.8 L790.5,928.3 L791.5,927.8 L792.6,927.3 L793.6,926.7 L794.6,926.2 L795.6,925.7 L796.6,925.2 L797.7,924.7 L798.7,924.2 L799.7,923.7 L800.7,923.1 L801.7,922.6 L802.7,922.1 L803.7,921.6 L804.7,921.1 L805.7,920.6 L806.7,920.2 L807.7,919.8 L808.7,919.3 L809.7,918.9 L810.7,918.5 L811.7,918.1 L812.7,917.8 L813.7,917.4 L814.8,917.1 L815.8,916.7 L816.8,916.4 L817.8,916.1 L818.8,915.8 L819.8,915.5 L820.8,915.3 L821.8,915.0 L822.8,914.8 L823.8,914.5 L824.8,914.3 L825.8,914.1 L826.8,913.9 L827.8,913.7 L828.8,913.5 L829.8,913.4 L830.9,913.3 L831.9,913.1 L832.9,913.0 L833.9,912.9 L834.9,912.8 L835.9,912.7 L836.9,912.6 L837.9,912.6 L838.9,912.5 L840.0,912.5 L841.0,912.5 L842.1,912.4 L843.1,912.4 L844.1,912.4 L845.1,912.4 L846.0,912.4 L847.0,912.4 L847.8,912.4 L848.7,912.4 L849.6,912.4 L850.5,912.4 L851.4,912.4 L852.1,912.4 L852.9,912.4 L853.5,912.4 L854.1,912.4 L854.5,912.4"/>
<path d="M790.0,964.0 L790.2,964.2 L790.6,964.5 L790.9,964.8 L791.3,965.2 L791.8,965.6 L792.2,966.0 L792.7,966.4 L793.2,966.8 L793.6,967.2 L794.0,967.5 L794.4,967.8 L794.7,968.1 L795.1,968.3 L795.4,968.6 L795.8,968.8 L796.1,969.1 L796.4,969.3 L796.8,969.6 L797.2,969.9 L797.6,970.3 L798.0,970.7 L798.5,971.1 L799.0,971.5 L799.4,972.0 L799.9,972.5 L800.4,973.0 L800.9,973.5 L801.4,974.0 L801.9,974.5 L802.4,975.0 L802.9,975.5 L803.3,976.1 L803.8,976.6 L804.3,977.2 L804.8,977.8 L805.2,978.3 L805.7,978.9 L806.2,979.4 L806.6,980.0 L807.1,980.5 L807.6,981.0 L808.0,981.5 L808.5,982.0 L809.0,982.4 L809.4,982.9 L809.9,983.4 L810.4,983.8 L810.9,984.3 L811.3,984.7 L811.8,985.2 L812.3,985.7 L812.7,986.2 L813.2,986.6 L813.6,987.1 L814.1,987.6 L814.5,988.1 L815.0,988.6 L815.5,989.1 L816.0,989.5 L816.5,990.0 L817.1,990.5 L817.6,991.0 L818.2,991.5 L818.8,991.9 L819.4,992.4 L820.0,992.9 L820.7,993.4 L821.3,993.8 L822.0,994.2 L822.6,994.6 L823.2,995.0 L823.9,995.3 L824.5,995.6 L825.1,995.8 L825.8,996.1 L826.4,996.3 L827.1,996.6 L827.8,996.8 L828.6,997.1 L829.4,997.4 L830.3,997.7 L831.2,998.1 L832.2,998.4 L833.3,998.8 L834.3,999.1 L835.4,999.5 L836.5,999.8 L837.5,1000.2 L838.5,1000.5 L839.4,1000.7 L840.3,1000.9 L841.1,1001.1 L841.9,1001.3 L842.6,1001.4 L843.4,1001.5 L844.1,1001.6 L844.8,1001.7 L845.5,1001.8 L846.3,1001.8 L847.0,1001.9 L847.8,1001.9 L848.6,1002.0 L849.5,1002.0 L850.4,1002.0 L851.2,1002.0 L852.0,1002.0 L852.8,1001.9 L853.5,1001.9 L854.1,1001.9 L854.5,1001.9"/>
<path d="M691.0,996.9 L691.4,996.4 L692.0,995.9 L692.7,995.2 L693.5,994.4 L694.3,993.6 L695.2,992.7 L696.0,991.9 L696.9,991.0 L697.8,990.1 L698.5,989.4 L699.3,988.6 L700.1,987.8 L700.8,987.1 L701.6,986.3 L702.3,985.5 L703.1,984.7 L703.8,984.0 L704.6,983.2 L705.3,982.5 L706.1,981.8 L706.8,981.1 L707.6,980.5 L708.4,979.8 L709.1,979.2 L709.9,978.6 L710.6,978.0 L711.4,977.4 L712.1,976.8 L712.9,976.1 L713.6,975.5 L714.4,974.9 L715.1,974.2 L715.9,973.6 L716.7,972.9 L717.4,972.3 L718.2,971.7 L718.9,971.0 L719.7,970.4 L720.4,969.8 L721.2,969.2 L721.9,968.7 L722.7,968.1 L723.4,967.6 L724.2,967.1 L725.0,966.6 L725.7,966.1 L726.5,965.6 L727.2,965.1 L728.0,964.6 L728.7,964.2 L729.5,963.8 L730.3,963.3 L731.1,962.9 L731.9,962.5 L732.7,962.0 L733.4,961.7 L734.2,961.3 L734.9,961.0 L735.6,960.7 L736.3,960.4 L736.9,960.2 L737.4,960.1 L738.0,960.0 L738.5,959.9 L738.9,959.8 L739.4,959.8 L739.9,959.8 L740.3,959.8 L740.8,959.8 L741.3,959.8 L741.8,959.8 L742.3,959.9 L742.7,960.0 L743.2,960.1 L743.7,960.3 L744.1,960.4 L744.6,960.6 L745.2,960.7 L745.7,960.9 L746.3,961.1 L747.0,961.2 L747.7,961.4 L748.4,961.6 L749.2,961.8 L750.0,962.0 L750.7,962.2 L751.5,962.4 L752.3,962.6 L753.1,962.8 L753.9,962.9 L754.6,963.1 L755.4,963.2 L756.1,963.4 L756.9,963.5 L757.7,963.7 L758.4,963.8 L759.2,963.9 L759.9,964.0 L760.7,964.1 L761.4,964.2 L762.2,964.3 L763.0,964.4 L763.7,964.4 L764.5,964.5 L765.3,964.6 L766.0,964.6 L766.8,964.7 L767.5,964.7 L768.3,964.8 L769.0,964.8 L769.7,964.9 L770.3,965.0 L771.0,965.2 L771.6,965.4 L772.2,965.5 L772.8,965.6 L773.4,965.7 L774.0,965.7 L774.6,965.6 L775.3,965.5 L775.9,965.2 L776.5,964.8 L777.1,964.3 L777.7,963.8 L778.3,963.2 L778.9,962.6 L779.6,962.0 L780.2,961.4 L780.9,960.9 L781.6,960.4 L782.2,960.0 L782.9,959.6 L783.6,959.2 L784.4,958.8 L785.1,958.5 L785.8,958.1 L786.6,957.7 L787.4,957.4 L788.2,957.0 L789.1,956.7 L790.0,956.3 L790.9,955.9 L791.9,955.5 L792.9,955.1 L794.0,954.8 L795.0,954.4 L796.1,954.0 L797.1,953.6 L798.1,953.3 L799.2,952.9 L800.2,952.5 L801.2,952.1 L802.2,951.8 L803.2,951.4 L804.2,951.0 L805.2,950.6 L806.2,950.2 L807.2,949.9 L808.2,949.5 L809.2,949.1 L810.2,948.7 L811.2,948.3 L812.2,947.9 L813.2,947.5 L814.3,947.1 L815.3,946.8 L816.3,946.4 L817.3,946.0 L818.3,945.7 L819.3,945.3 L820.3,945.0 L821.3,944.7 L822.3,944.5 L823.3,944.2 L824.3,943.9 L825.3,943.7 L826.3,943.4 L827.3,943.2 L828.3,943.0 L829.3,942.8 L830.4,942.6 L831.4,942.5 L832.4,942.3 L833.5,942.2 L834.5,942.1 L835.6,941.9 L836.6,941.8 L837.6,941.7 L838.5,941.6 L839.4,941.6 L840.3,941.5 L841.1,941.4 L841.9,941.4 L842.6,941.4 L843.3,941.4 L844.1,941.3 L844.8,941.3 L845.5,941.3 L846.2,941.3 L847.0,941.3 L847.7,941.3 L848.6,941.3 L849.5,941.3 L850.3,941.3 L851.2,941.3 L852.0,941.3 L852.8,941.3 L853.5,941.3 L854.0,941.3 L854.5,941.3"/>
<path d="M775.3,965.5 L775.6,965.7 L776.1,966.0 L776.6,966.4 L777.3,966.8 L777.9,967.2 L778.6,967.6 L779.4,968.1 L780.1,968.5 L780.8,968.9 L781.6,969.2 L782.3,969.6 L783.0,969.9 L783.7,970.2 L784.4,970.6 L785.2,970.9 L785.9,971.2 L786.7,971.4 L787.5,971.6 L788.3,971.7 L789.1,971.7 L789.9,971.7 L790.8,971.6 L791.6,971.3 L792.5,971.1 L793.4,970.8 L794.3,970.4 L795.2,970.1 L796.1,969.8 L797.0,969.5 L797.9,969.2 L798.8,969.0 L799.6,968.8 L800.5,968.5 L801.4,968.3 L802.2,968.0 L803.1,967.8 L804.0,967.6 L804.9,967.5 L805.8,967.4 L806.7,967.3 L807.7,967.4 L808.6,967.5 L809.6,967.6 L810.6,967.7 L811.7,967.9 L812.7,968.2 L813.7,968.4 L814.7,968.7 L815.8,969.0 L816.8,969.2 L817.8,969.5 L818.8,969.9 L819.8,970.2 L820.8,970.6 L821.8,971.0 L822.8,971.4 L823.8,971.8 L824.8,972.2 L825.8,972.6 L826.8,973.0 L827.8,973.4 L828.8,973.8 L829.8,974.2 L830.9,974.6 L831.9,975.1 L832.9,975.5 L833.9,975.9 L834.9,976.2 L835.9,976.5 L836.9,976.8 L837.9,977.0 L838.9,977.2 L840.0,977.3 L841.0,977.4 L842.1,977.5 L843.1,977.6 L844.1,977.6 L845.1,977.7 L846.0,977.7 L847.0,977.8 L847.8,977.8 L848.7,977.8 L849.6,977.9 L850.5,977.9 L851.4,977.8 L852.1,977.8 L852.9,977.8 L853.5,977.8 L854.1,977.8 L854.5,977.8"/>
<path d="M691.0,996.9 L691.4,997.1 L692.0,997.4 L692.7,997.8 L693.5,998.2 L694.3,998.7 L695.2,999.1 L696.0,999.6 L696.9,1000.0 L697.8,1000.4 L698.5,1000.7 L699.3,1000.9 L700.1,1001.2 L700.8,1001.4 L701.6,1001.7 L702.3,1001.9 L703.1,1002.0 L703.8,1002.2 L704.6,1002.3 L705.3,1002.5 L706.1,1002.6 L706.8,1002.7 L707.6,1002.7 L708.4,1002.8 L709.1,1002.8 L709.9,1002.9 L710.6,1002.9 L711.4,1002.9 L712.1,1002.8 L712.9,1002.7 L713.6,1002.6 L714.4,1002.4 L715.1,1002.2 L715.9,1001.9 L716.7,1001.6 L717.4,1001.3 L718.2,1001.0 L718.9,1000.6 L719.7,1000.2 L720.4,999.8 L721.2,999.4 L721.9,999.0 L722.7,998.5 L723.4,998.0 L724.2,997.5 L725.0,997.0 L725.7,996.5 L726.5,996.0 L727.2,995.4 L728.0,994.9 L728.7,994.4 L729.5,993.9 L730.2,993.4 L731.0,992.9 L731.7,992.3 L732.5,991.8 L733.3,991.3 L734.0,990.8 L734.8,990.3 L735.5,989.8 L736.3,989.4 L737.0,988.9 L737.8,988.4 L738.5,987.9 L739.3,987.5 L740.0,987.0 L740.8,986.6 L741.6,986.2 L742.3,985.7 L743.1,985.3 L743.8,985.0 L744.6,984.6 L745.3,984.2 L746.1,983.9 L746.8,983.6 L747.6,983.3 L748.3,983.0 L749.1,982.7 L749.9,982.4 L750.6,982.1 L751.4,981.8 L752.1,981.5 L752.9,981.2 L753.6,981.0 L754.4,980.7 L755.1,980.4 L755.9,980.2 L756.7,979.9 L757.4,979.7 L758.2,979.5 L758.9,979.3 L759.7,979.1 L760.4,978.9 L761.1,978.8 L761.9,978.6 L762.6,978.5 L763.4,978.4 L764.1,978.3 L764.9,978.2 L765.7,978.1 L766.5,978.0 L767.3,978.0 L768.2,977.9 L769.1,977.8 L770.0,977.8 L770.9,977.7 L771.9,977.7 L772.8,977.7 L773.6,977.8 L774.5,977.9 L775.3,978.0 L776.0,978.3 L776.7,978.5 L777.3,978.9 L777.9,979.3 L778.5,979.7 L779.1,980.1 L779.7,980.6 L780.3,981.0 L780.9,981.4 L781.6,981.8 L782.3,982.2 L783.0,982.5 L783.7,982.9 L784.5,983.3 L785.2,983.6 L786.0,984.0 L786.8,984.4 L787.6,984.7 L788.3,985.2 L789.1,985.6 L789.9,986.0 L790.6,986.5 L791.4,987.0 L792.1,987.5 L792.9,988.0 L793.6,988.5 L794.4,989.1 L795.1,989.6 L795.9,990.1 L796.6,990.6 L797.4,991.1 L798.3,991.7 L799.1,992.3 L800.0,992.9 L800.9,993.4 L801.7,994.0 L802.5,994.5 L803.2,995.0 L803.7,995.3 L804.2,995.6"/>
<path d="M775.3,978.0 L775.7,977.7 L776.3,977.3 L776.9,976.8 L777.7,976.3 L778.5,975.7 L779.3,975.1 L780.2,974.5 L781.1,973.9 L782.0,973.4 L782.8,973.0 L783.6,972.6 L784.5,972.3 L785.4,972.0 L786.2,971.7 L787.1,971.4 L788.0,971.2 L788.9,971.0 L789.8,970.8 L790.7,970.6 L791.6,970.5 L792.5,970.4 L793.5,970.3 L794.5,970.3 L795.6,970.3 L796.6,970.3 L797.5,970.4 L798.4,970.4 L799.2,970.5 L799.9,970.5 L800.4,970.5"/>
<path d="M777.8,945.3 L777.9,945.7 L778.0,946.2 L778.1,946.7 L778.3,947.4 L778.5,948.1 L778.6,948.8 L778.8,949.5 L779.1,950.2 L779.3,950.9 L779.6,951.5 L779.9,952.1 L780.2,952.7 L780.6,953.2 L781.0,953.8 L781.4,954.3 L781.8,954.9 L782.2,955.4 L782.6,956.0 L783.1,956.5 L783.5,957.0 L783.9,957.5 L784.4,958.0 L784.8,958.5 L785.3,958.9 L785.8,959.4 L786.2,959.9 L786.7,960.3 L787.2,960.8 L787.7,961.2 L788.2,961.7 L788.7,962.2 L789.2,962.6 L789.8,963.1 L790.3,963.5 L790.9,964.0 L791.5,964.5 L792.0,964.9 L792.6,965.4 L793.1,965.9 L793.7,966.4 L794.3,966.9 L794.8,967.4 L795.4,968.0 L795.9,968.5 L796.5,969.1 L797.1,969.6 L797.6,970.2 L798.2,970.7 L798.7,971.3 L799.2,971.9 L799.7,972.5 L800.2,973.1 L800.7,973.7 L801.1,974.4 L801.6,975.0 L802.1,975.6 L802.5,976.3 L803.0,976.9 L803.4,977.5 L803.9,978.1 L804.4,978.7 L804.8,979.2 L805.3,979.8 L805.8,980.4 L806.2,980.9 L806.7,981.4 L807.2,982.0 L807.7,982.5 L808.1,983.1 L808.6,983.6 L809.1,984.1 L809.5,984.7 L810.0,985.2 L810.5,985.8 L810.9,986.3 L811.4,986.9 L811.9,987.4 L812.4,988.0 L812.8,988.5 L813.3,989.1 L813.8,989.7 L814.2,990.2 L814.6,990.7 L815.0,991.2 L815.4,991.8 L815.9,992.3 L816.3,992.9 L816.8,993.6 L817.4,994.2 L818.0,995.0 L818.6,995.8 L819.3,996.8 L820.0,997.8 L820.7,998.8 L821.4,999.9 L822.2,1001.0 L823.1,1002.1 L824.0,1003.1 L824.9,1004.1 L826.0,1005.0 L827.2,1005.8 L828.4,1006.7 L829.8,1007.5 L831.2,1008.2 L832.6,1009.0 L834.1,1009.7 L835.6,1010.3 L837.1,1010.9 L838.6,1011.5 L840.0,1012.0 L841.5,1012.5 L843.0,1012.9 L844.6,1013.2 L846.3,1013.5 L847.9,1013.8 L849.4,1014.0 L850.8,1014.2 L852.1,1014.4 L853.2,1014.6 L854.0,1014.7"/>
<path d="M529.0,1031.1 L529.7,1031.1 L530.7,1031.2 L531.8,1031.2 L533.1,1031.3 L534.4,1031.4 L535.9,1031.4 L537.3,1031.5 L538.7,1031.6 L540.1,1031.7 L541.4,1031.7 L542.7,1031.8 L543.9,1031.8 L545.2,1031.8 L546.4,1031.9 L547.6,1031.9 L548.9,1032.0 L550.1,1032.0 L551.4,1032.0 L552.6,1032.1 L553.8,1032.1 L555.1,1032.1 L556.3,1032.1 L557.6,1032.2 L558.8,1032.2 L560.1,1032.2 L561.3,1032.2 L562.5,1032.3 L563.8,1032.3 L565.0,1032.3 L566.3,1032.3 L567.5,1032.4 L568.8,1032.4 L570.0,1032.4 L571.2,1032.5 L572.5,1032.5 L573.7,1032.5 L575.0,1032.6 L576.2,1032.6 L577.5,1032.6 L578.7,1032.6 L579.9,1032.6 L581.2,1032.5 L582.4,1032.5 L583.7,1032.4 L584.9,1032.4 L586.1,1032.3 L587.4,1032.3 L588.6,1032.2 L589.9,1032.1 L591.1,1032.1 L592.4,1032.0 L593.7,1031.9 L595.0,1031.9 L596.3,1031.8 L597.6,1031.7 L598.9,1031.6 L600.2,1031.5 L601.4,1031.4 L602.5,1031.4 L603.5,1031.3 L604.5,1031.3 L605.3,1031.3 L606.1,1031.3 L606.9,1031.2 L607.6,1031.2 L608.3,1031.2 L608.9,1031.2 L609.6,1031.3 L610.3,1031.3 L611.0,1031.3 L611.7,1031.4 L612.4,1031.4 L613.2,1031.5 L613.9,1031.6 L614.6,1031.7 L615.3,1031.8 L616.0,1031.9 L616.8,1032.0 L617.6,1032.2 L618.4,1032.3 L619.3,1032.5 L620.2,1032.7 L621.2,1032.9 L622.1,1033.2 L623.1,1033.4 L624.1,1033.7 L625.1,1034.0 L626.2,1034.3 L627.3,1034.5 L628.4,1034.8 L629.5,1035.1 L630.7,1035.4 L631.9,1035.7 L633.2,1036.0 L634.4,1036.4 L635.7,1036.7 L637.0,1037.0 L638.3,1037.3 L639.6,1037.6 L640.8,1037.9 L642.1,1038.2 L643.3,1038.5 L644.5,1038.8 L645.8,1039.0 L647.0,1039.3 L648.3,1039.5 L649.5,1039.8 L650.7,1040.0 L652.0,1040.2 L653.2,1040.4 L654.5,1040.6 L655.7,1040.7 L657.0,1040.9 L658.2,1041.0 L659.4,1041.1 L660.7,1041.3 L661.9,1041.4 L663.2,1041.5 L664.4,1041.6 L665.7,1041.6 L666.9,1041.7 L668.1,1041.8 L669.4,1041.9 L670.6,1042.0 L671.8,1042.0 L673.1,1042.1 L674.3,1042.1 L675.6,1042.2 L676.8,1042.2 L678.1,1042.3 L679.4,1042.3 L680.8,1042.3 L682.3,1042.3 L683.8,1042.3 L685.3,1042.3 L686.7,1042.3 L688.1,1042.2 L689.2,1042.2 L690.2,1042.2 L691.0,1042.2"/>
<path d="M529.0,1033.6 L529.4,1033.7 L530.0,1033.9 L530.7,1034.1 L531.4,1034.3 L532.3,1034.6 L533.1,1034.9 L534.0,1035.1 L534.8,1035.4 L535.7,1035.7 L536.5,1036.1 L537.2,1036.4 L537.9,1036.7 L538.7,1037.0 L539.4,1037.4 L540.2,1037.8 L540.9,1038.1 L541.7,1038.5 L542.4,1038.9 L543.2,1039.4 L543.9,1039.8 L544.7,1040.2 L545.4,1040.7 L546.1,1041.1 L546.9,1041.6 L547.6,1042.1 L548.4,1042.6 L549.1,1043.1 L549.9,1043.7 L550.6,1044.2 L551.4,1044.8 L552.1,1045.3 L552.9,1045.9 L553.6,1046.6 L554.3,1047.2 L555.1,1047.9 L555.8,1048.5 L556.6,1049.2 L557.3,1049.8 L558.1,1050.4 L558.8,1051.0 L559.6,1051.5 L560.3,1052.0 L561.1,1052.5 L561.8,1053.0 L562.5,1053.5 L563.3,1054.0 L564.0,1054.5 L564.8,1055.0 L565.5,1055.4 L566.3,1055.9 L567.0,1056.4 L567.8,1056.9 L568.5,1057.4 L569.3,1057.9 L570.0,1058.4 L570.7,1058.9 L571.5,1059.4 L572.2,1059.9 L573.0,1060.4 L573.7,1060.9 L574.5,1061.4 L575.2,1061.9 L576.0,1062.4 L576.7,1063.0 L577.5,1063.5 L578.2,1064.0 L578.9,1064.5 L579.7,1065.0 L580.4,1065.4 L581.2,1065.9 L581.9,1066.3 L582.6,1066.7 L583.3,1067.1 L584.0,1067.5 L584.7,1067.9 L585.5,1068.3 L586.2,1068.6 L587.0,1069.0 L587.8,1069.3 L588.6,1069.6 L589.5,1069.9 L590.5,1070.2 L591.4,1070.5 L592.4,1070.8 L593.4,1071.0 L594.5,1071.3 L595.5,1071.5 L596.5,1071.7 L597.6,1071.9 L598.6,1072.1 L599.6,1072.3 L600.6,1072.4 L601.6,1072.5 L602.5,1072.6 L603.5,1072.7 L604.5,1072.8 L605.5,1072.9 L606.5,1073.0 L607.5,1073.0 L608.5,1073.1 L609.5,1073.1 L610.5,1073.2 L611.5,1073.2 L612.5,1073.3 L613.5,1073.3 L614.5,1073.3 L615.5,1073.3 L616.5,1073.2 L617.5,1073.2 L618.4,1073.1 L619.4,1073.0 L620.4,1072.8 L621.4,1072.6 L622.4,1072.4 L623.4,1072.2 L624.4,1072.0 L625.4,1071.7 L626.4,1071.4 L627.4,1071.1 L628.4,1070.8 L629.4,1070.5 L630.4,1070.2 L631.4,1069.9 L632.4,1069.5 L633.4,1069.2 L634.3,1068.8 L635.3,1068.4 L636.3,1068.0 L637.3,1067.5 L638.3,1067.1 L639.3,1066.7 L640.3,1066.2 L641.3,1065.8 L642.3,1065.3 L643.3,1064.8 L644.3,1064.3 L645.3,1063.8 L646.3,1063.2 L647.3,1062.7 L648.3,1062.1 L649.3,1061.6 L650.3,1061.0 L651.2,1060.4 L652.2,1059.8 L653.2,1059.1 L654.2,1058.5 L655.2,1057.8 L656.2,1057.2 L657.2,1056.6 L658.2,1055.9 L659.2,1055.3 L660.2,1054.7 L661.2,1054.0 L662.2,1053.4 L663.2,1052.8 L664.2,1052.1 L665.2,1051.5 L666.2,1050.9 L667.1,1050.3 L668.1,1049.7 L669.1,1049.2 L670.2,1048.6 L671.2,1048.1 L672.2,1047.5 L673.3,1047.0 L674.3,1046.5 L675.3,1046.0 L676.3,1045.6 L677.2,1045.1 L678.1,1044.8 L678.9,1044.4 L679.8,1044.1 L680.6,1043.7 L681.3,1043.5 L682.1,1043.2 L682.8,1043.0 L683.5,1042.8 L684.2,1042.6 L684.9,1042.4 L685.5,1042.3 L686.2,1042.2 L686.8,1042.1 L687.5,1042.1 L688.1,1042.1 L688.7,1042.1 L689.3,1042.1 L689.8,1042.1 L690.3,1042.2 L690.7,1042.2 L691.0,1042.2"/>
<path d="M529.0,1042.3 L529.4,1042.3 L530.0,1042.3 L530.7,1042.3 L531.4,1042.3 L532.3,1042.3 L533.1,1042.3 L534.0,1042.3 L534.8,1042.3 L535.7,1042.3 L536.5,1042.3 L537.2,1042.3 L537.9,1042.2 L538.6,1042.2 L539.3,1042.2 L540.0,1042.2 L540.7,1042.2 L541.5,1042.2 L542.3,1042.1 L543.1,1042.1 L543.9,1042.0 L544.8,1042.0 L545.7,1041.9 L546.7,1041.8 L547.7,1041.7 L548.7,1041.7 L549.8,1041.6 L550.8,1041.5 L551.8,1041.3 L552.8,1041.2 L553.8,1041.0 L554.8,1040.8 L555.8,1040.6 L556.8,1040.4 L557.8,1040.1 L558.8,1039.8 L559.8,1039.6 L560.8,1039.3 L561.8,1039.0 L562.8,1038.8 L563.8,1038.5 L564.8,1038.3 L565.8,1038.1 L566.8,1037.9 L567.8,1037.8 L568.8,1037.6 L569.7,1037.4 L570.7,1037.2 L571.7,1037.0 L572.7,1036.9 L573.7,1036.7 L574.7,1036.5 L575.8,1036.3 L576.8,1036.1 L577.8,1035.9 L578.8,1035.7 L579.9,1035.6 L580.9,1035.4 L581.8,1035.2 L582.8,1035.0 L583.7,1034.8 L584.5,1034.6 L585.4,1034.4 L586.3,1034.2 L587.2,1034.0 L588.0,1033.8 L588.8,1033.6 L589.5,1033.4 L590.1,1033.2 L590.7,1033.1 L591.1,1033.0"/>
<path d="M529.0,1100.7 L529.4,1100.6 L530.0,1100.6 L530.7,1100.5 L531.4,1100.4 L532.3,1100.3 L533.1,1100.2 L534.0,1100.1 L534.8,1099.9 L535.7,1099.7 L536.5,1099.4 L537.2,1099.1 L537.9,1098.7 L538.7,1098.3 L539.4,1097.8 L540.2,1097.3 L540.9,1096.8 L541.7,1096.2 L542.4,1095.7 L543.2,1095.1 L543.9,1094.4 L544.7,1093.8 L545.4,1093.1 L546.1,1092.4 L546.9,1091.7 L547.6,1091.0 L548.4,1090.2 L549.1,1089.4 L549.9,1088.6 L550.6,1087.8 L551.4,1087.0 L552.1,1086.2 L552.9,1085.4 L553.6,1084.5 L554.3,1083.7 L555.1,1082.8 L555.8,1081.9 L556.6,1081.0 L557.3,1080.1 L558.1,1079.2 L558.8,1078.3 L559.6,1077.4 L560.3,1076.4 L561.1,1075.4 L561.8,1074.5 L562.5,1073.5 L563.3,1072.5 L564.0,1071.5 L564.8,1070.4 L565.5,1069.4 L566.3,1068.4 L567.0,1067.3 L567.8,1066.2 L568.5,1065.1 L569.3,1064.0 L570.0,1062.9 L570.7,1061.8 L571.5,1060.7 L572.2,1059.5 L573.0,1058.4 L573.7,1057.2 L574.5,1056.0 L575.3,1054.8 L576.0,1053.5 L576.8,1052.2 L577.6,1051.0 L578.4,1049.7 L579.1,1048.4 L579.8,1047.2 L580.5,1046.0 L581.2,1044.8 L581.8,1043.6 L582.3,1042.4 L582.9,1041.3 L583.3,1040.1 L583.8,1039.0 L584.3,1037.9 L584.7,1036.8 L585.2,1035.7 L585.7,1034.6 L586.1,1033.6 L586.6,1032.5 L587.1,1031.5 L587.6,1030.5 L588.1,1029.4 L588.6,1028.4 L589.1,1027.5 L589.6,1026.5 L590.1,1025.5 L590.6,1024.6 L591.1,1023.6 L591.6,1022.7 L592.1,1021.8 L592.6,1020.9 L593.2,1019.9 L593.7,1019.1 L594.2,1018.2 L594.7,1017.3 L595.2,1016.5 L595.6,1015.7 L596.1,1014.9 L596.5,1014.2 L596.9,1013.5 L597.3,1012.8 L597.7,1012.1 L598.0,1011.4 L598.4,1010.8 L598.7,1010.2 L599.1,1009.7 L599.4,1009.2 L599.8,1008.7 L600.2,1008.3 L600.6,1008.0 L601.0,1007.6 L601.2,1007.5"/>
<path d="M691.0,1042.2 L691.4,1041.8 L692.0,1041.4 L692.7,1040.8 L693.5,1040.2 L694.3,1039.6 L695.2,1038.9 L696.0,1038.2 L696.9,1037.6 L697.8,1037.0 L698.5,1036.4 L699.3,1035.9 L700.0,1035.5 L700.7,1035.0 L701.4,1034.6 L702.2,1034.1 L702.9,1033.7 L703.6,1033.3 L704.4,1032.9 L705.2,1032.4 L706.1,1032.0 L707.0,1031.6 L707.9,1031.2 L708.8,1030.8 L709.8,1030.5 L710.8,1030.1 L711.8,1029.7 L712.9,1029.3 L713.9,1029.0 L715.0,1028.6 L716.2,1028.3 L717.3,1027.9 L718.5,1027.6 L719.7,1027.3 L721.0,1027.0 L722.3,1026.7 L723.6,1026.4 L724.9,1026.0 L726.2,1025.7 L727.5,1025.4 L728.7,1025.1 L730.0,1024.8 L731.2,1024.5 L732.5,1024.2 L733.8,1023.8 L735.0,1023.5 L736.3,1023.2 L737.5,1022.9 L738.8,1022.6 L740.0,1022.3 L741.3,1022.0 L742.6,1021.7 L743.9,1021.4 L745.2,1021.1 L746.5,1020.9 L747.8,1020.6 L749.0,1020.3 L750.3,1020.1 L751.5,1019.9 L752.7,1019.7 L753.9,1019.5 L755.0,1019.3 L756.1,1019.1 L757.1,1019.0 L758.1,1018.8 L759.1,1018.7 L760.0,1018.6 L761.0,1018.5 L762.0,1018.4 L762.9,1018.3 L763.9,1018.2 L765.0,1018.1 L766.0,1018.0 L767.0,1018.0 L768.0,1017.9 L769.0,1017.8 L770.0,1017.8 L771.0,1017.7 L772.0,1017.7 L773.0,1017.6 L774.0,1017.6 L775.0,1017.5 L776.0,1017.5 L777.0,1017.4 L778.0,1017.4 L779.0,1017.4 L780.0,1017.3 L781.0,1017.3 L782.1,1017.3 L783.1,1017.3 L784.1,1017.3 L785.1,1017.4 L786.1,1017.4 L787.1,1017.5 L788.1,1017.5 L789.1,1017.6 L790.1,1017.7 L791.1,1017.8 L792.1,1017.9 L793.1,1018.0 L794.1,1018.2 L795.1,1018.4 L796.1,1018.6 L797.1,1018.8 L798.2,1019.1 L799.2,1019.3 L800.2,1019.6 L801.2,1019.9 L802.2,1020.2 L803.2,1020.4 L804.2,1020.7 L805.2,1021.0 L806.2,1021.3 L807.2,1021.6 L808.2,1021.9 L809.2,1022.2 L810.2,1022.5 L811.2,1022.9 L812.2,1023.2 L813.2,1023.5 L814.3,1023.9 L815.3,1024.2 L816.3,1024.6 L817.3,1025.0 L818.3,1025.4 L819.3,1025.8 L820.3,1026.2 L821.3,1026.6 L822.3,1027.0 L823.3,1027.3 L824.3,1027.6 L825.3,1027.9 L826.3,1028.3 L827.3,1028.5 L828.3,1028.8 L829.3,1029.1 L830.3,1029.3 L831.4,1029.6 L832.4,1029.8 L833.4,1030.0 L834.4,1030.2 L835.4,1030.3 L836.4,1030.4 L837.4,1030.5 L838.4,1030.6 L839.4,1030.6 L840.4,1030.7 L841.4,1030.7 L842.4,1030.7 L843.4,1030.8 L844.4,1030.8 L845.5,1030.8 L846.6,1030.8 L847.8,1030.8 L848.9,1030.8 L850.1,1030.8 L851.2,1030.8 L852.2,1030.8 L853.1,1030.8 L853.9,1030.8 L854.5,1030.8"/>
<path d="M774.0,1018.2 L774.4,1018.3 L775.0,1018.5 L775.6,1018.6 L776.4,1018.8 L777.2,1019.0 L778.0,1019.2 L778.9,1019.4 L779.8,1019.6 L780.7,1019.9 L781.6,1020.1 L782.5,1020.3 L783.4,1020.6 L784.4,1020.8 L785.4,1021.1 L786.4,1021.3 L787.5,1021.6 L788.5,1021.8 L789.6,1022.1 L790.6,1022.4 L791.6,1022.6 L792.6,1022.9 L793.6,1023.1 L794.6,1023.4 L795.6,1023.6 L796.6,1023.9 L797.7,1024.1 L798.7,1024.4 L799.7,1024.6 L800.7,1024.9 L801.7,1025.1 L802.7,1025.4 L803.7,1025.6 L804.7,1025.9 L805.7,1026.1 L806.7,1026.4 L807.7,1026.6 L808.7,1026.9 L809.7,1027.1 L810.7,1027.4 L811.7,1027.6 L812.7,1027.9 L813.7,1028.2 L814.8,1028.4 L815.8,1028.7 L816.8,1029.0 L817.8,1029.2 L818.8,1029.5 L819.8,1029.7 L820.8,1030.0 L821.8,1030.2 L822.8,1030.3 L823.8,1030.5 L824.8,1030.7 L825.8,1030.8 L826.8,1030.9 L827.8,1031.0 L828.8,1031.1 L829.8,1031.2 L830.9,1031.3 L831.9,1031.4 L832.9,1031.5 L833.8,1031.5 L834.8,1031.6 L835.8,1031.6 L836.7,1031.6 L837.7,1031.6 L838.7,1031.6 L839.7,1031.6 L840.8,1031.7 L841.9,1031.7 L843.1,1031.7 L844.5,1031.7 L845.9,1031.7 L847.4,1031.7 L848.8,1031.7 L850.3,1031.7 L851.6,1031.7 L852.7,1031.7 L853.7,1031.7 L854.5,1031.7"/>
<path d="M691.0,1042.2 L691.4,1042.6 L692.0,1043.1 L692.7,1043.7 L693.5,1044.4 L694.3,1045.1 L695.2,1045.9 L696.0,1046.7 L696.9,1047.5 L697.8,1048.3 L698.5,1049.0 L699.3,1049.7 L700.1,1050.5 L700.8,1051.2 L701.6,1052.0 L702.3,1052.8 L703.1,1053.5 L703.8,1054.3 L704.6,1055.0 L705.3,1055.8 L706.1,1056.6 L706.8,1057.3 L707.6,1058.1 L708.4,1058.8 L709.1,1059.6 L709.9,1060.3 L710.6,1061.1 L711.4,1061.8 L712.1,1062.6 L712.9,1063.4 L713.6,1064.1 L714.4,1064.9 L715.1,1065.6 L715.9,1066.4 L716.7,1067.1 L717.4,1067.9 L718.2,1068.6 L718.9,1069.4 L719.7,1070.1 L720.4,1070.9 L721.2,1071.7 L721.9,1072.4 L722.7,1073.2 L723.4,1074.0 L724.2,1074.7 L725.0,1075.5 L725.7,1076.3 L726.5,1077.0 L727.2,1077.8 L728.0,1078.5 L728.7,1079.2 L729.5,1079.9 L730.2,1080.5 L731.0,1081.2 L731.7,1081.8 L732.5,1082.4 L733.3,1083.0 L734.0,1083.6 L734.8,1084.3 L735.5,1084.9 L736.3,1085.5 L737.0,1086.1 L737.8,1086.8 L738.5,1087.5 L739.3,1088.1 L740.0,1088.8 L740.8,1089.4 L741.6,1090.1 L742.3,1090.7 L743.1,1091.3 L743.8,1091.8 L744.6,1092.3 L745.3,1092.7 L746.1,1093.1 L746.8,1093.5 L747.6,1093.9 L748.3,1094.3 L749.1,1094.6 L749.9,1094.9 L750.6,1095.2 L751.4,1095.6 L752.1,1095.9 L752.9,1096.1 L753.6,1096.4 L754.4,1096.7 L755.1,1096.9 L755.9,1097.2 L756.7,1097.4 L757.4,1097.6 L758.2,1097.8 L758.9,1098.1 L759.7,1098.3 L760.4,1098.5 L761.2,1098.7 L761.9,1098.9 L762.7,1099.1 L763.4,1099.3 L764.2,1099.5 L765.0,1099.7 L765.7,1099.8 L766.5,1100.0 L767.2,1100.1 L768.0,1100.1 L768.7,1100.1 L769.5,1100.1 L770.2,1100.2 L771.0,1100.2 L771.7,1100.2 L772.5,1100.3 L773.3,1100.4 L774.0,1100.6 L774.7,1100.8 L775.5,1101.1 L776.2,1101.5 L776.9,1101.9 L777.6,1102.3 L778.4,1102.7 L779.1,1103.1 L779.9,1103.6 L780.7,1104.0 L781.6,1104.4 L782.5,1104.7 L783.4,1105.1 L784.4,1105.5 L785.4,1105.9 L786.4,1106.3 L787.5,1106.7 L788.5,1107.1 L789.6,1107.5 L790.6,1107.8 L791.6,1108.1 L792.6,1108.4 L793.6,1108.7 L794.6,1109.0 L795.6,1109.3 L796.6,1109.6 L797.7,1109.8 L798.7,1110.1 L799.7,1110.3 L800.7,1110.5 L801.7,1110.6 L802.7,1110.8 L803.7,1110.9 L804.7,1111.1 L805.7,1111.2 L806.7,1111.2 L807.7,1111.3 L808.7,1111.3 L809.7,1111.3 L810.7,1111.3 L811.7,1111.3 L812.7,1111.2 L813.7,1111.1 L814.8,1111.0 L815.8,1110.8 L816.8,1110.6 L817.8,1110.4 L818.8,1110.2 L819.8,1109.9 L820.8,1109.7 L821.8,1109.4 L822.8,1109.1 L823.8,1108.7 L824.8,1108.4 L825.8,1108.0 L826.8,1107.6 L827.8,1107.2 L828.8,1106.8 L829.8,1106.4 L830.9,1106.0 L831.9,1105.6 L832.9,1105.3 L833.8,1104.9 L834.8,1104.6 L835.8,1104.2 L836.7,1103.9 L837.7,1103.6 L838.7,1103.3 L839.7,1103.0 L840.8,1102.7 L841.9,1102.5 L843.1,1102.3 L844.5,1102.1 L845.9,1101.9 L847.4,1101.8 L848.8,1101.6 L850.3,1101.5 L851.6,1101.4 L852.7,1101.4 L853.7,1101.3 L854.5,1101.2"/>
<path d="M774.0,1100.6 L774.5,1100.2 L775.0,1099.7 L775.7,1099.2 L776.5,1098.5 L777.3,1097.8 L778.2,1097.1 L779.1,1096.4 L779.9,1095.7 L780.8,1095.0 L781.6,1094.3 L782.3,1093.7 L783.1,1093.1 L783.8,1092.4 L784.6,1091.8 L785.3,1091.2 L786.1,1090.6 L786.8,1090.0 L787.6,1089.3 L788.3,1088.7 L789.1,1088.0 L789.9,1087.3 L790.6,1086.6 L791.4,1085.8 L792.1,1085.1 L792.9,1084.3 L793.6,1083.5 L794.4,1082.8 L795.1,1082.0 L795.9,1081.2 L796.6,1080.5 L797.4,1079.7 L798.2,1079.0 L798.9,1078.2 L799.7,1077.4 L800.4,1076.7 L801.2,1075.9 L801.9,1075.2 L802.7,1074.4 L803.4,1073.7 L804.2,1072.9 L804.9,1072.2 L805.7,1071.4 L806.5,1070.7 L807.2,1069.9 L808.0,1069.1 L808.7,1068.4 L809.5,1067.6 L810.2,1066.9 L811.0,1066.1 L811.7,1065.4 L812.5,1064.6 L813.2,1063.8 L814.0,1063.1 L814.8,1062.3 L815.5,1061.5 L816.3,1060.7 L817.0,1060.0 L817.8,1059.3 L818.5,1058.5 L819.3,1057.8 L820.0,1057.1 L820.8,1056.5 L821.5,1055.8 L822.3,1055.2 L823.1,1054.5 L823.8,1053.9 L824.6,1053.3 L825.3,1052.7 L826.1,1052.1 L826.8,1051.5 L827.6,1051.0 L828.3,1050.4 L829.1,1049.9 L829.8,1049.3 L830.6,1048.8 L831.4,1048.3 L832.1,1047.8 L832.9,1047.4 L833.6,1046.9 L834.4,1046.5 L835.1,1046.1 L835.9,1045.7 L836.6,1045.4 L837.4,1045.0 L838.1,1044.7 L838.9,1044.4 L839.7,1044.1 L840.4,1043.8 L841.2,1043.6 L841.9,1043.4 L842.7,1043.2 L843.5,1043.0 L844.3,1042.8 L845.1,1042.7 L845.9,1042.5 L846.6,1042.4 L847.4,1042.3 L848.1,1042.2 L848.8,1042.2 L849.5,1042.1 L850.1,1042.1 L850.7,1042.0 L851.3,1042.0 L851.9,1042.0 L852.5,1042.0 L853.0,1042.0 L853.4,1042.1 L853.9,1042.1 L854.2,1042.1 L854.5,1042.1"/>
<path d="M804.2,995.7 L804.7,996.2 L805.3,996.8 L806.0,997.5 L806.8,998.4 L807.7,999.2 L808.6,1000.2 L809.5,1001.1 L810.5,1002.0 L811.3,1002.8 L812.1,1003.5 L812.8,1004.1 L813.6,1004.8 L814.3,1005.3 L815.0,1005.9 L815.7,1006.4 L816.3,1007.0 L817.0,1007.5 L817.7,1008.0 L818.4,1008.5 L819.1,1009.1 L819.8,1009.7 L820.5,1010.2 L821.2,1010.8 L821.9,1011.3 L822.6,1011.9 L823.3,1012.5 L824.0,1013.0 L824.7,1013.6 L825.4,1014.1 L826.1,1014.7 L826.8,1015.3 L827.5,1015.8 L828.2,1016.4 L828.9,1017.0 L829.6,1017.5 L830.4,1018.1 L831.1,1018.7 L831.8,1019.3 L832.5,1019.8 L833.2,1020.4 L833.9,1021.0 L834.6,1021.6 L835.4,1022.2 L836.1,1022.7 L836.8,1023.3 L837.5,1023.9 L838.2,1024.5 L838.9,1025.0 L839.6,1025.5 L840.2,1026.0 L840.8,1026.4 L841.4,1026.9 L841.9,1027.3 L842.4,1027.6 L842.9,1028.0 L843.4,1028.3 L844.0,1028.7 L844.5,1029.0 L845.1,1029.2 L845.8,1029.5 L846.6,1029.7 L847.4,1030.0 L848.3,1030.1 L849.3,1030.3 L850.2,1030.5 L851.2,1030.6 L852.1,1030.7 L852.8,1030.8 L853.5,1030.9 L854.0,1031.0"/>
<path d="M783.5,974.2 L783.9,974.4 L784.4,974.7 L785.0,975.1 L785.6,975.4 L786.3,975.9 L787.0,976.3 L787.8,976.7 L788.5,977.2 L789.2,977.7 L789.8,978.1 L790.4,978.5 L790.9,979.0 L791.5,979.4 L792.0,979.9 L792.6,980.4 L793.1,980.9 L793.6,981.3 L794.2,981.8 L794.7,982.3 L795.3,982.8 L795.9,983.3 L796.5,983.8 L797.1,984.3 L797.7,984.8 L798.4,985.3 L799.0,985.8 L799.6,986.3 L800.3,986.8 L800.9,987.4 L801.6,987.9 L802.3,988.4 L803.0,989.0 L803.6,989.6 L804.3,990.1 L805.1,990.7 L805.8,991.3 L806.5,991.9 L807.2,992.5 L807.9,993.1 L808.6,993.7 L809.3,994.3 L810.0,994.9 L810.7,995.6 L811.4,996.2 L812.1,996.8 L812.8,997.5 L813.5,998.1 L814.2,998.7 L814.9,999.4 L815.6,1000.0 L816.3,1000.6 L817.0,1001.2 L817.7,1001.9 L818.4,1002.5 L819.1,1003.1 L819.8,1003.7 L820.5,1004.4 L821.2,1005.0 L821.9,1005.6 L822.6,1006.3 L823.3,1007.0 L824.0,1007.6 L824.7,1008.3 L825.4,1009.0 L826.1,1009.7 L826.8,1010.4 L827.5,1011.1 L828.2,1011.8 L828.9,1012.6 L829.6,1013.3 L830.3,1014.0 L831.0,1014.8 L831.7,1015.6 L832.4,1016.4 L833.1,1017.2 L833.9,1018.0 L834.6,1018.8 L835.3,1019.5 L836.0,1020.3 L836.7,1021.0 L837.4,1021.7 L838.1,1022.4 L838.9,1023.1 L839.6,1023.8 L840.3,1024.5 L841.0,1025.2 L841.7,1025.8 L842.4,1026.4 L843.1,1026.9 L843.7,1027.4 L844.3,1027.8 L844.9,1028.2 L845.4,1028.6 L846.0,1028.9 L846.5,1029.2 L847.0,1029.4 L847.5,1029.6 L848.0,1029.8 L848.5,1030.0 L849.0,1030.2 L849.5,1030.4 L850.1,1030.5 L850.7,1030.6 L851.3,1030.7 L851.8,1030.8 L852.4,1030.8 L852.9,1030.9 L853.3,1030.9 L853.7,1031.0 L854.0,1031.0"/>
<path d="M824.2,1007.5 L824.3,1007.6 L825.2,1008.0 L826.0,1008.4 L826.8,1008.8 L827.6,1009.1 L828.3,1009.5 L829.1,1009.8 L829.8,1010.1 L830.6,1010.5 L831.4,1010.8 L832.1,1011.1 L832.9,1011.4 L833.6,1011.7 L834.4,1011.9 L835.1,1012.2 L835.9,1012.4 L836.6,1012.6 L837.4,1012.8 L838.1,1013.0 L838.9,1013.2 L839.7,1013.4 L840.4,1013.5 L841.2,1013.7 L841.9,1013.8 L842.7,1013.9 L843.5,1014.0 L844.3,1014.1 L845.1,1014.2 L845.9,1014.2 L846.6,1014.3 L847.4,1014.3 L848.1,1014.4 L848.8,1014.4 L849.5,1014.4 L850.1,1014.5 L850.7,1014.5 L851.3,1014.5 L851.9,1014.5 L852.5,1014.5 L853.0,1014.5 L853.4,1014.5 L853.9,1014.4 L854.2,1014.4 L854.5,1014.4"/>
</g>
<line x1="529.5" y1="898.0" x2="854.5" y2="898.0" stroke="#2f55b5" stroke-width="2.2" stroke-dasharray="9.8 11.05" stroke-dashoffset="2.05"/>
<line x1="949.5" y1="670.5" x2="955.5" y2="670.5" stroke="#000" stroke-width="1.6"/>
<line x1="1274" y1="670.5" x2="1268" y2="670.5" stroke="#000" stroke-width="1.6"/>
<text x="840.98" y="567.92" transform="scale(1.12,1.2)" font-family='"Liberation Serif", serif' font-size="28" font-weight="bold" fill="#000" text-anchor="end" >1</text>
<rect x="916.3" y="671.5" width="9.6" height="3.3" fill="#000"/>
<line x1="949.5" y1="716.0" x2="952.5" y2="716.0" stroke="#000" stroke-width="1.6"/>
<line x1="1274" y1="716.0" x2="1271" y2="716.0" stroke="#000" stroke-width="1.6"/>
<line x1="949.5" y1="761.4" x2="955.5" y2="761.4" stroke="#000" stroke-width="1.6"/>
<line x1="1274" y1="761.4" x2="1268" y2="761.4" stroke="#000" stroke-width="1.6"/>
<text x="840.98" y="643.67" transform="scale(1.12,1.2)" font-family='"Liberation Serif", serif' font-size="28" font-weight="bold" fill="#000" text-anchor="end" >2</text>
<rect x="916.3" y="762.4" width="9.6" height="3.3" fill="#000"/>
<line x1="949.5" y1="806.9" x2="952.5" y2="806.9" stroke="#000" stroke-width="1.6"/>
<line x1="1274" y1="806.9" x2="1271" y2="806.9" stroke="#000" stroke-width="1.6"/>
<line x1="949.5" y1="852.3" x2="955.5" y2="852.3" stroke="#000" stroke-width="1.6"/>
<line x1="1274" y1="852.3" x2="1268" y2="852.3" stroke="#000" stroke-width="1.6"/>
<text x="840.98" y="719.42" transform="scale(1.12,1.2)" font-family='"Liberation Serif", serif' font-size="28" font-weight="bold" fill="#000" text-anchor="end" >3</text>
<rect x="916.3" y="853.3" width="9.6" height="3.3" fill="#000"/>
<line x1="949.5" y1="897.8" x2="952.5" y2="897.8" stroke="#000" stroke-width="1.6"/>
<line x1="1274" y1="897.8" x2="1271" y2="897.8" stroke="#000" stroke-width="1.6"/>
<line x1="949.5" y1="943.2" x2="955.5" y2="943.2" stroke="#000" stroke-width="1.6"/>
<line x1="1274" y1="943.2" x2="1268" y2="943.2" stroke="#000" stroke-width="1.6"/>
<text x="840.98" y="795.17" transform="scale(1.12,1.2)" font-family='"Liberation Serif", serif' font-size="28" font-weight="bold" fill="#000" text-anchor="end" >4</text>
<rect x="916.3" y="944.2" width="9.6" height="3.3" fill="#000"/>
<line x1="949.5" y1="988.6" x2="952.5" y2="988.6" stroke="#000" stroke-width="1.6"/>
<line x1="1274" y1="988.6" x2="1271" y2="988.6" stroke="#000" stroke-width="1.6"/>
<line x1="949.5" y1="1034.1" x2="955.5" y2="1034.1" stroke="#000" stroke-width="1.6"/>
<line x1="1274" y1="1034.1" x2="1268" y2="1034.1" stroke="#000" stroke-width="1.6"/>
<text x="840.98" y="870.92" transform="scale(1.12,1.2)" font-family='"Liberation Serif", serif' font-size="28" font-weight="bold" fill="#000" text-anchor="end" >5</text>
<rect x="916.3" y="1035.1" width="9.6" height="3.3" fill="#000"/>
<line x1="949.5" y1="1079.5" x2="952.5" y2="1079.5" stroke="#000" stroke-width="1.6"/>
<line x1="1274" y1="1079.5" x2="1271" y2="1079.5" stroke="#000" stroke-width="1.6"/>
<line x1="949.5" y1="1125.0" x2="955.5" y2="1125.0" stroke="#000" stroke-width="1.6"/>
<line x1="1274" y1="1125.0" x2="1268" y2="1125.0" stroke="#000" stroke-width="1.6"/>
<text x="840.98" y="946.67" transform="scale(1.12,1.2)" font-family='"Liberation Serif", serif' font-size="28" font-weight="bold" fill="#000" text-anchor="end" >6</text>
<rect x="916.3" y="1126.0" width="9.6" height="3.3" fill="#000"/>
<rect x="949.5" y="670.5" width="324.5" height="454.5" fill="none" stroke="#000" stroke-width="2"/>
<text x="985.45" y="1121.43" transform="scale(1.0,1.05)" font-family='"Liberation Serif", serif' font-size="38" font-weight="normal" fill="#000" text-anchor="middle" stroke="#000" stroke-width="0.6">α</text>
<text x="1050.35" y="1121.43" transform="scale(1.0,1.05)" font-family='"Liberation Serif", serif' font-size="38" font-weight="normal" fill="#000" text-anchor="middle" stroke="#000" stroke-width="0.6">β</text>
<text x="1115.25" y="1121.43" transform="scale(1.0,1.05)" font-family='"Liberation Serif", serif' font-size="38" font-weight="normal" fill="#000" text-anchor="middle" stroke="#000" stroke-width="0.6">γ</text>
<text x="1180.15" y="1121.43" transform="scale(1.0,1.05)" font-family='"Liberation Serif", serif' font-size="38" font-weight="normal" fill="#000" text-anchor="middle" stroke="#000" stroke-width="0.6">δ</text>
<text x="1245.05" y="1121.43" transform="scale(1.0,1.05)" font-family='"Liberation Serif", serif' font-size="38" font-weight="normal" fill="#000" text-anchor="middle" stroke="#000" stroke-width="0.6">ε</text>
<text x="280.00" y="56.33" transform="scale(1.0,0.98)" font-family='"Liberation Serif", serif' font-size="52" font-weight="bold" fill="#000" text-anchor="middle" >(a)</text>
<text x="698.60" y="56.33" transform="scale(1.0,0.98)" font-family='"Liberation Serif", serif' font-size="52" font-weight="bold" fill="#000" text-anchor="middle" >(b)</text>
<text x="1118.60" y="56.33" transform="scale(1.0,0.98)" font-family='"Liberation Serif", serif' font-size="52" font-weight="bold" fill="#000" text-anchor="middle" >(c)</text>
<text x="289.80" y="656.84" transform="scale(1.0,0.98)" font-family='"Liberation Serif", serif' font-size="52" font-weight="bold" fill="#000" text-anchor="middle" >(d)</text>
<text x="703.50" y="656.84" transform="scale(1.0,0.98)" font-family='"Liberation Serif", serif' font-size="52" font-weight="bold" fill="#000" text-anchor="middle" >(e)</text>
<text x="1125.80" y="656.84" transform="scale(1.0,0.98)" font-family='"Liberation Serif", serif' font-size="52" font-weight="bold" fill="#000" text-anchor="middle" >(f)</text>
<text transform="translate(42.5,311) rotate(-90) scale(1,1.03)" font-family='"Liberation Serif", serif' font-size="40" font-weight="bold" text-anchor="middle">Energy (eV)</text>
<text transform="translate(485,295) rotate(-90) scale(1,1.03)" font-family='"Liberation Serif", serif' font-size="40" font-weight="bold" text-anchor="middle">Energy (eV)</text>
<text transform="translate(900.5,296) rotate(-90) scale(1,1.03)" font-family='"Liberation Serif", serif' font-size="40" font-weight="bold" text-anchor="middle">Energy (eV)</text>
<text transform="translate(51.8,877) rotate(-90) scale(1,1.03)" font-family='"Liberation Serif", serif' font-size="40" font-weight="bold" text-anchor="middle">Energy (eV)</text>
<text transform="translate(482.8,885) rotate(-90) scale(1,1.03)" font-family='"Liberation Serif", serif' font-size="40" font-weight="bold" text-anchor="middle">Energy (eV)</text>
<text transform="translate(901.8,890.5) rotate(-90) scale(1,1.03)" font-family='"Liberation Serif", serif' font-size="40" font-weight="bold" text-anchor="middle">Energy (eV)</text>
</svg></body></html>
